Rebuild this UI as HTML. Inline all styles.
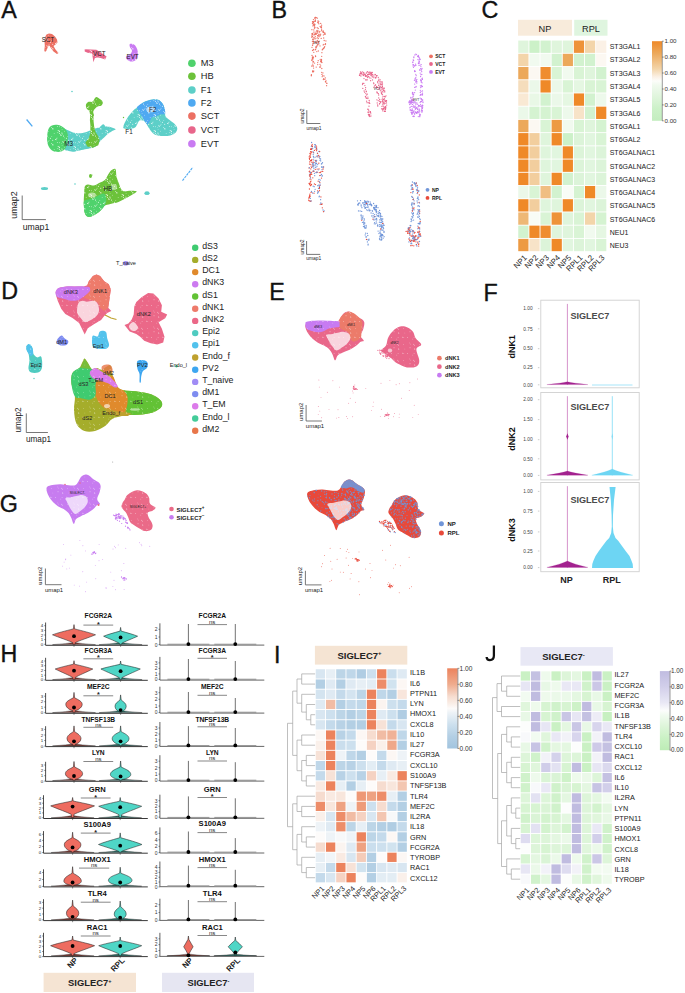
<!DOCTYPE html>
<html><head><meta charset="utf-8"><style>
html,body{margin:0;padding:0;background:#fff;}
body{width:685px;height:993px;overflow:hidden;position:relative;}
svg{position:absolute;left:0;top:0;display:block;}
svg text{font-family:"Liberation Sans",sans-serif;}
</style></head><body>
<svg width="685" height="993" viewBox="0 0 685 993">
<text x="1.3" y="17.5" font-size="23.3" text-anchor="start" fill="#111" color="#111" style="stroke:#111;stroke-width:0.35px">A</text>
<text x="271.4" y="17.8" font-size="23.3" text-anchor="start" fill="#111" color="#111" style="stroke:#111;stroke-width:0.35px">B</text>
<text x="481.6" y="17.5" font-size="23.3" text-anchor="start" fill="#111" color="#111" style="stroke:#111;stroke-width:0.35px">C</text>
<text x="1.3" y="298.9" font-size="23.3" text-anchor="start" fill="#111" color="#111" style="stroke:#111;stroke-width:0.35px">D</text>
<text x="269.3" y="299.8" font-size="23.3" text-anchor="start" fill="#111" color="#111" style="stroke:#111;stroke-width:0.35px">E</text>
<text x="483.4" y="301.3" font-size="23.3" text-anchor="start" fill="#111" color="#111" style="stroke:#111;stroke-width:0.35px">F</text>
<text x="-0.2" y="511.8" font-size="23.3" text-anchor="start" fill="#111" color="#111" style="stroke:#111;stroke-width:0.35px">G</text>
<text x="0.5" y="661.9" font-size="23.3" text-anchor="start" fill="#111" color="#111" style="stroke:#111;stroke-width:0.35px">H</text>
<text x="274.0" y="662.6" font-size="23.3" text-anchor="start" fill="#111" color="#111" style="stroke:#111;stroke-width:0.35px">I</text>
<path d="M493.9,645.4 V655.6 C493.9,659.0 491.9,660.2 489.9,660.2 C487.9,660.2 486.7,658.9 486.6,657.0" fill="none" stroke="#111" stroke-width="2.25" stroke-linecap="butt"/>
<rect x="518" y="19.8" width="54" height="15.9" fill="#f8ebdb"/>
<rect x="574.2" y="19.8" width="33.3" height="15.9" fill="#dff5df"/>
<text x="545.0" y="31.7" font-size="9.2" text-anchor="middle" fill="#222" color="#222" >NP</text>
<text x="591.0" y="31.7" font-size="9.2" text-anchor="middle" fill="#222" color="#222" >RPL</text>
<rect x="517.8" y="40.1" width="89.0" height="211.5" fill="#fff"/>
<rect x="518.25" y="40.55" width="10.22" height="12.32" fill="#dff5dc"/>
<rect x="529.37" y="40.55" width="10.22" height="12.32" fill="#ccf1c8"/>
<rect x="540.49" y="40.55" width="10.22" height="12.32" fill="#d2f2cf"/>
<rect x="551.61" y="40.55" width="10.22" height="12.32" fill="#dff5dc"/>
<rect x="562.73" y="40.55" width="10.22" height="12.32" fill="#dff5dc"/>
<rect x="573.85" y="40.55" width="10.22" height="12.32" fill="#ee9339"/>
<rect x="584.97" y="40.55" width="10.22" height="12.32" fill="#f3d5aa"/>
<rect x="596.09" y="40.55" width="10.22" height="12.32" fill="#fbf1e6"/>
<rect x="518.25" y="53.77" width="10.22" height="12.32" fill="#f3d5aa"/>
<rect x="529.37" y="53.77" width="10.22" height="12.32" fill="#f1faef"/>
<rect x="540.49" y="53.77" width="10.22" height="12.32" fill="#f1faef"/>
<rect x="551.61" y="53.77" width="10.22" height="12.32" fill="#d2f2cf"/>
<rect x="562.73" y="53.77" width="10.22" height="12.32" fill="#eca85a"/>
<rect x="573.85" y="53.77" width="10.22" height="12.32" fill="#d2f2cf"/>
<rect x="584.97" y="53.77" width="10.22" height="12.32" fill="#d2f2cf"/>
<rect x="596.09" y="53.77" width="10.22" height="12.32" fill="#fcf8f2"/>
<rect x="518.25" y="66.99" width="10.22" height="12.32" fill="#eca85a"/>
<rect x="529.37" y="66.99" width="10.22" height="12.32" fill="#fcf8f2"/>
<rect x="540.49" y="66.99" width="10.22" height="12.32" fill="#ef8d2f"/>
<rect x="551.61" y="66.99" width="10.22" height="12.32" fill="#d9f4d5"/>
<rect x="562.73" y="66.99" width="10.22" height="12.32" fill="#f1faef"/>
<rect x="573.85" y="66.99" width="10.22" height="12.32" fill="#d9f4d5"/>
<rect x="584.97" y="66.99" width="10.22" height="12.32" fill="#dff5dc"/>
<rect x="596.09" y="66.99" width="10.22" height="12.32" fill="#d2f2cf"/>
<rect x="518.25" y="80.21" width="10.22" height="12.32" fill="#f5ddbc"/>
<rect x="529.37" y="80.21" width="10.22" height="12.32" fill="#ebf8e9"/>
<rect x="540.49" y="80.21" width="10.22" height="12.32" fill="#ef8928"/>
<rect x="551.61" y="80.21" width="10.22" height="12.32" fill="#ebf8e9"/>
<rect x="562.73" y="80.21" width="10.22" height="12.32" fill="#d9f4d5"/>
<rect x="573.85" y="80.21" width="10.22" height="12.32" fill="#e5f7e2"/>
<rect x="584.97" y="80.21" width="10.22" height="12.32" fill="#d9f4d5"/>
<rect x="596.09" y="80.21" width="10.22" height="12.32" fill="#d9f4d5"/>
<rect x="518.25" y="93.43" width="10.22" height="12.32" fill="#f9e9d4"/>
<rect x="529.37" y="93.43" width="10.22" height="12.32" fill="#e9f8e6"/>
<rect x="540.49" y="93.43" width="10.22" height="12.32" fill="#d2f2cf"/>
<rect x="551.61" y="93.43" width="10.22" height="12.32" fill="#ebf8e9"/>
<rect x="562.73" y="93.43" width="10.22" height="12.32" fill="#e5f7e2"/>
<rect x="573.85" y="93.43" width="10.22" height="12.32" fill="#ef8928"/>
<rect x="584.97" y="93.43" width="10.22" height="12.32" fill="#d2f2cf"/>
<rect x="596.09" y="93.43" width="10.22" height="12.32" fill="#edf9eb"/>
<rect x="518.25" y="106.65" width="10.22" height="12.32" fill="#ebf8e9"/>
<rect x="529.37" y="106.65" width="10.22" height="12.32" fill="#d5f3d1"/>
<rect x="540.49" y="106.65" width="10.22" height="12.32" fill="#d5f3d1"/>
<rect x="551.61" y="106.65" width="10.22" height="12.32" fill="#d9f4d5"/>
<rect x="562.73" y="106.65" width="10.22" height="12.32" fill="#edf9eb"/>
<rect x="573.85" y="106.65" width="10.22" height="12.32" fill="#f7e3c8"/>
<rect x="584.97" y="106.65" width="10.22" height="12.32" fill="#d2f2cf"/>
<rect x="596.09" y="106.65" width="10.22" height="12.32" fill="#ef8928"/>
<rect x="518.25" y="119.87" width="10.22" height="12.32" fill="#eca85a"/>
<rect x="529.37" y="119.87" width="10.22" height="12.32" fill="#fcf8f2"/>
<rect x="540.49" y="119.87" width="10.22" height="12.32" fill="#d9f4d5"/>
<rect x="551.61" y="119.87" width="10.22" height="12.32" fill="#ed9a43"/>
<rect x="562.73" y="119.87" width="10.22" height="12.32" fill="#f1faef"/>
<rect x="573.85" y="119.87" width="10.22" height="12.32" fill="#d9f4d5"/>
<rect x="584.97" y="119.87" width="10.22" height="12.32" fill="#dff5dc"/>
<rect x="596.09" y="119.87" width="10.22" height="12.32" fill="#d5f3d1"/>
<rect x="518.25" y="133.09" width="10.22" height="12.32" fill="#ef8928"/>
<rect x="529.37" y="133.09" width="10.22" height="12.32" fill="#f2ce9e"/>
<rect x="540.49" y="133.09" width="10.22" height="12.32" fill="#dff5dc"/>
<rect x="551.61" y="133.09" width="10.22" height="12.32" fill="#ef8928"/>
<rect x="562.73" y="133.09" width="10.22" height="12.32" fill="#ccf1c8"/>
<rect x="573.85" y="133.09" width="10.22" height="12.32" fill="#dcf4d9"/>
<rect x="584.97" y="133.09" width="10.22" height="12.32" fill="#e1f6df"/>
<rect x="596.09" y="133.09" width="10.22" height="12.32" fill="#d9f4d5"/>
<rect x="518.25" y="146.31" width="10.22" height="12.32" fill="#ef8928"/>
<rect x="529.37" y="146.31" width="10.22" height="12.32" fill="#f2ce9e"/>
<rect x="540.49" y="146.31" width="10.22" height="12.32" fill="#dff5dc"/>
<rect x="551.61" y="146.31" width="10.22" height="12.32" fill="#e1f6df"/>
<rect x="562.73" y="146.31" width="10.22" height="12.32" fill="#ef8928"/>
<rect x="573.85" y="146.31" width="10.22" height="12.32" fill="#dcf4d9"/>
<rect x="584.97" y="146.31" width="10.22" height="12.32" fill="#e1f6df"/>
<rect x="596.09" y="146.31" width="10.22" height="12.32" fill="#dcf4d9"/>
<rect x="518.25" y="159.53" width="10.22" height="12.32" fill="#ef8928"/>
<rect x="529.37" y="159.53" width="10.22" height="12.32" fill="#f2ce9e"/>
<rect x="540.49" y="159.53" width="10.22" height="12.32" fill="#dff5dc"/>
<rect x="551.61" y="159.53" width="10.22" height="12.32" fill="#e1f6df"/>
<rect x="562.73" y="159.53" width="10.22" height="12.32" fill="#ef8928"/>
<rect x="573.85" y="159.53" width="10.22" height="12.32" fill="#dcf4d9"/>
<rect x="584.97" y="159.53" width="10.22" height="12.32" fill="#e1f6df"/>
<rect x="596.09" y="159.53" width="10.22" height="12.32" fill="#dcf4d9"/>
<rect x="518.25" y="172.75" width="10.22" height="12.32" fill="#ef8928"/>
<rect x="529.37" y="172.75" width="10.22" height="12.32" fill="#f2ce9e"/>
<rect x="540.49" y="172.75" width="10.22" height="12.32" fill="#dff5dc"/>
<rect x="551.61" y="172.75" width="10.22" height="12.32" fill="#ef8928"/>
<rect x="562.73" y="172.75" width="10.22" height="12.32" fill="#d2f2cf"/>
<rect x="573.85" y="172.75" width="10.22" height="12.32" fill="#dcf4d9"/>
<rect x="584.97" y="172.75" width="10.22" height="12.32" fill="#e1f6df"/>
<rect x="596.09" y="172.75" width="10.22" height="12.32" fill="#dcf4d9"/>
<rect x="518.25" y="185.97" width="10.22" height="12.32" fill="#ebf8e9"/>
<rect x="529.37" y="185.97" width="10.22" height="12.32" fill="#d9f4d5"/>
<rect x="540.49" y="185.97" width="10.22" height="12.32" fill="#f0be82"/>
<rect x="551.61" y="185.97" width="10.22" height="12.32" fill="#d2f2cf"/>
<rect x="562.73" y="185.97" width="10.22" height="12.32" fill="#f8fcf6"/>
<rect x="573.85" y="185.97" width="10.22" height="12.32" fill="#d5f3d1"/>
<rect x="584.97" y="185.97" width="10.22" height="12.32" fill="#ef8928"/>
<rect x="596.09" y="185.97" width="10.22" height="12.32" fill="#ebf8e9"/>
<rect x="518.25" y="199.19" width="10.22" height="12.32" fill="#ef8928"/>
<rect x="529.37" y="199.19" width="10.22" height="12.32" fill="#f2ce9e"/>
<rect x="540.49" y="199.19" width="10.22" height="12.32" fill="#dff5dc"/>
<rect x="551.61" y="199.19" width="10.22" height="12.32" fill="#dff5dc"/>
<rect x="562.73" y="199.19" width="10.22" height="12.32" fill="#ef8928"/>
<rect x="573.85" y="199.19" width="10.22" height="12.32" fill="#dcf4d9"/>
<rect x="584.97" y="199.19" width="10.22" height="12.32" fill="#e1f6df"/>
<rect x="596.09" y="199.19" width="10.22" height="12.32" fill="#dcf4d9"/>
<rect x="518.25" y="212.41" width="10.22" height="12.32" fill="#eeb876"/>
<rect x="529.37" y="212.41" width="10.22" height="12.32" fill="#f8fcf6"/>
<rect x="540.49" y="212.41" width="10.22" height="12.32" fill="#d9f4d5"/>
<rect x="551.61" y="212.41" width="10.22" height="12.32" fill="#ee9339"/>
<rect x="562.73" y="212.41" width="10.22" height="12.32" fill="#dff5dc"/>
<rect x="573.85" y="212.41" width="10.22" height="12.32" fill="#d9f4d5"/>
<rect x="584.97" y="212.41" width="10.22" height="12.32" fill="#f3d5aa"/>
<rect x="596.09" y="212.41" width="10.22" height="12.32" fill="#d5f3d1"/>
<rect x="518.25" y="225.63" width="10.22" height="12.32" fill="#d2f2cf"/>
<rect x="529.37" y="225.63" width="10.22" height="12.32" fill="#ef8928"/>
<rect x="540.49" y="225.63" width="10.22" height="12.32" fill="#ef8d2f"/>
<rect x="551.61" y="225.63" width="10.22" height="12.32" fill="#dff5dc"/>
<rect x="562.73" y="225.63" width="10.22" height="12.32" fill="#dff5dc"/>
<rect x="573.85" y="225.63" width="10.22" height="12.32" fill="#d9f4d5"/>
<rect x="584.97" y="225.63" width="10.22" height="12.32" fill="#f1faef"/>
<rect x="596.09" y="225.63" width="10.22" height="12.32" fill="#e5f7e2"/>
<rect x="518.25" y="238.85" width="10.22" height="12.32" fill="#ed9a43"/>
<rect x="529.37" y="238.85" width="10.22" height="12.32" fill="#f7e3c8"/>
<rect x="540.49" y="238.85" width="10.22" height="12.32" fill="#dcf4d9"/>
<rect x="551.61" y="238.85" width="10.22" height="12.32" fill="#ef8928"/>
<rect x="562.73" y="238.85" width="10.22" height="12.32" fill="#e1f6df"/>
<rect x="573.85" y="238.85" width="10.22" height="12.32" fill="#dcf4d9"/>
<rect x="584.97" y="238.85" width="10.22" height="12.32" fill="#e1f6df"/>
<rect x="596.09" y="238.85" width="10.22" height="12.32" fill="#d9f4d5"/>
<text x="609.7" y="49.2" font-size="7.0" text-anchor="start" fill="#222" color="#222" >ST3GAL1</text>
<text x="609.7" y="62.4" font-size="7.0" text-anchor="start" fill="#222" color="#222" >ST3GAL2</text>
<text x="609.7" y="75.7" font-size="7.0" text-anchor="start" fill="#222" color="#222" >ST3GAL3</text>
<text x="609.7" y="89.0" font-size="7.0" text-anchor="start" fill="#222" color="#222" >ST3GAL4</text>
<text x="609.7" y="102.2" font-size="7.0" text-anchor="start" fill="#222" color="#222" >ST3GAL5</text>
<text x="609.7" y="115.5" font-size="7.0" text-anchor="start" fill="#222" color="#222" >ST3GAL6</text>
<text x="609.7" y="128.8" font-size="7.0" text-anchor="start" fill="#222" color="#222" >ST6GAL1</text>
<text x="609.7" y="142.1" font-size="7.0" text-anchor="start" fill="#222" color="#222" >ST6GAL2</text>
<text x="609.7" y="155.3" font-size="7.0" text-anchor="start" fill="#222" color="#222" >ST6GALNAC1</text>
<text x="609.7" y="168.6" font-size="7.0" text-anchor="start" fill="#222" color="#222" >ST6GALNAC2</text>
<text x="609.7" y="181.9" font-size="7.0" text-anchor="start" fill="#222" color="#222" >ST6GALNAC3</text>
<text x="609.7" y="195.1" font-size="7.0" text-anchor="start" fill="#222" color="#222" >ST6GALNAC4</text>
<text x="609.7" y="208.4" font-size="7.0" text-anchor="start" fill="#222" color="#222" >ST6GALNAC5</text>
<text x="609.7" y="221.7" font-size="7.0" text-anchor="start" fill="#222" color="#222" >ST6GALNAC6</text>
<text x="609.7" y="234.9" font-size="7.0" text-anchor="start" fill="#222" color="#222" >NEU1</text>
<text x="609.7" y="248.2" font-size="7.0" text-anchor="start" fill="#222" color="#222" >NEU3</text>
<text x="527.4" y="258.2" font-size="7.8" text-anchor="end" fill="#222" transform="rotate(-45 527.4 258.2)">NP1</text>
<text x="538.5" y="258.2" font-size="7.8" text-anchor="end" fill="#222" transform="rotate(-45 538.5 258.2)">NP2</text>
<text x="549.6" y="258.2" font-size="7.8" text-anchor="end" fill="#222" transform="rotate(-45 549.6 258.2)">NP3</text>
<text x="560.7" y="258.2" font-size="7.8" text-anchor="end" fill="#222" transform="rotate(-45 560.7 258.2)">NP4</text>
<text x="571.8" y="258.2" font-size="7.8" text-anchor="end" fill="#222" transform="rotate(-45 571.8 258.2)">NP5</text>
<text x="583.0" y="258.2" font-size="7.8" text-anchor="end" fill="#222" transform="rotate(-45 583.0 258.2)">RPL1</text>
<text x="594.1" y="258.2" font-size="7.8" text-anchor="end" fill="#222" transform="rotate(-45 594.1 258.2)">RPL2</text>
<text x="605.2" y="258.2" font-size="7.8" text-anchor="end" fill="#222" transform="rotate(-45 605.2 258.2)">RPL3</text>
<defs><linearGradient id="gC" x1="0" y1="1" x2="0" y2="0"><stop offset="0" stop-color="#c3edbf"/><stop offset="0.15" stop-color="#ccf1c8"/><stop offset="0.3" stop-color="#dff5dc"/><stop offset="0.45" stop-color="#f1faef"/><stop offset="0.5" stop-color="#fcfdfa"/><stop offset="0.55" stop-color="#fbf1e6"/><stop offset="0.65" stop-color="#f3d5aa"/><stop offset="0.85" stop-color="#eca85a"/><stop offset="1.0" stop-color="#ef8928"/></linearGradient></defs>
<rect x="652" y="41.2" width="10" height="79.6" fill="url(#gC)"/>
<line x1="662.3" y1="41.2" x2="662.3" y2="120.8" stroke="#555" stroke-width="0.6"/>
<line x1="662" y1="120.8" x2="663.8" y2="120.8" stroke="#555" stroke-width="0.6"/>
<text x="664.5" y="123.0" font-size="6.2" text-anchor="start" fill="#333" color="#333" >0.00</text>
<line x1="662" y1="104.9" x2="663.8" y2="104.9" stroke="#555" stroke-width="0.6"/>
<text x="664.5" y="107.0" font-size="6.2" text-anchor="start" fill="#333" color="#333" >0.20</text>
<line x1="662" y1="89.0" x2="663.8" y2="89.0" stroke="#555" stroke-width="0.6"/>
<text x="664.5" y="91.1" font-size="6.2" text-anchor="start" fill="#333" color="#333" >0.40</text>
<line x1="662" y1="73.0" x2="663.8" y2="73.0" stroke="#555" stroke-width="0.6"/>
<text x="664.5" y="75.2" font-size="6.2" text-anchor="start" fill="#333" color="#333" >0.60</text>
<line x1="662" y1="57.1" x2="663.8" y2="57.1" stroke="#555" stroke-width="0.6"/>
<text x="664.5" y="59.3" font-size="6.2" text-anchor="start" fill="#333" color="#333" >0.80</text>
<line x1="662" y1="41.2" x2="663.8" y2="41.2" stroke="#555" stroke-width="0.6"/>
<text x="664.5" y="43.4" font-size="6.2" text-anchor="start" fill="#333" color="#333" >1.00</text>
<rect x="314.9" y="645.8" width="92.4" height="18.8" fill="#f5e4d3"/>
<text x="359.5" y="658.9" font-size="9.5" text-anchor="middle" font-weight="bold" fill="#222" color="#222" >SIGLEC7<tspan font-size="6" dy="-3.5">+</tspan></text>
<rect x="315.3" y="668.8" width="92.0" height="214.0" fill="#fff"/>
<rect x="315.75" y="669.25" width="9.32" height="9.29" fill="#d8e6f1"/>
<rect x="325.97" y="669.25" width="9.32" height="9.29" fill="#e7eff5"/>
<rect x="336.19" y="669.25" width="9.32" height="9.29" fill="#bcd5e7"/>
<rect x="346.41" y="669.25" width="9.32" height="9.29" fill="#bfd7e9"/>
<rect x="356.63" y="669.25" width="9.32" height="9.29" fill="#b0cde3"/>
<rect x="366.85" y="669.25" width="9.32" height="9.29" fill="#cde0ee"/>
<rect x="377.07" y="669.25" width="9.32" height="9.29" fill="#ec835d"/>
<rect x="387.29" y="669.25" width="9.32" height="9.29" fill="#cadeed"/>
<rect x="397.51" y="669.25" width="9.32" height="9.29" fill="#dfeaf3"/>
<rect x="315.75" y="679.44" width="9.32" height="9.29" fill="#b3cfe4"/>
<rect x="325.97" y="679.44" width="9.32" height="9.29" fill="#dfeaf3"/>
<rect x="336.19" y="679.44" width="9.32" height="9.29" fill="#b3cfe4"/>
<rect x="346.41" y="679.44" width="9.32" height="9.29" fill="#dfeaf3"/>
<rect x="356.63" y="679.44" width="9.32" height="9.29" fill="#e7eff5"/>
<rect x="366.85" y="679.44" width="9.32" height="9.29" fill="#e3edf4"/>
<rect x="377.07" y="679.44" width="9.32" height="9.29" fill="#ed8d69"/>
<rect x="387.29" y="679.44" width="9.32" height="9.29" fill="#d1e3ef"/>
<rect x="397.51" y="679.44" width="9.32" height="9.29" fill="#fcf7f4"/>
<rect x="315.75" y="689.63" width="9.32" height="9.29" fill="#d4e4f0"/>
<rect x="325.97" y="689.63" width="9.32" height="9.29" fill="#dfeaf3"/>
<rect x="336.19" y="689.63" width="9.32" height="9.29" fill="#c4daeb"/>
<rect x="346.41" y="689.63" width="9.32" height="9.29" fill="#d4e4f0"/>
<rect x="356.63" y="689.63" width="9.32" height="9.29" fill="#bcd5e7"/>
<rect x="366.85" y="689.63" width="9.32" height="9.29" fill="#ec835d"/>
<rect x="377.07" y="689.63" width="9.32" height="9.29" fill="#bfd7e9"/>
<rect x="387.29" y="689.63" width="9.32" height="9.29" fill="#b3cfe4"/>
<rect x="397.51" y="689.63" width="9.32" height="9.29" fill="#f8e6dc"/>
<rect x="315.75" y="699.82" width="9.32" height="9.29" fill="#dfeaf3"/>
<rect x="325.97" y="699.82" width="9.32" height="9.29" fill="#f1bca4"/>
<rect x="336.19" y="699.82" width="9.32" height="9.29" fill="#b3cfe4"/>
<rect x="346.41" y="699.82" width="9.32" height="9.29" fill="#c4daeb"/>
<rect x="356.63" y="699.82" width="9.32" height="9.29" fill="#bfd7e9"/>
<rect x="366.85" y="699.82" width="9.32" height="9.29" fill="#ec835d"/>
<rect x="377.07" y="699.82" width="9.32" height="9.29" fill="#fbf4f0"/>
<rect x="387.29" y="699.82" width="9.32" height="9.29" fill="#cde0ee"/>
<rect x="397.51" y="699.82" width="9.32" height="9.29" fill="#c4daeb"/>
<rect x="315.75" y="710.01" width="9.32" height="9.29" fill="#d8e6f1"/>
<rect x="325.97" y="710.01" width="9.32" height="9.29" fill="#cde0ee"/>
<rect x="336.19" y="710.01" width="9.32" height="9.29" fill="#bcd5e7"/>
<rect x="346.41" y="710.01" width="9.32" height="9.29" fill="#b3cfe4"/>
<rect x="356.63" y="710.01" width="9.32" height="9.29" fill="#bcd5e7"/>
<rect x="366.85" y="710.01" width="9.32" height="9.29" fill="#ec835d"/>
<rect x="377.07" y="710.01" width="9.32" height="9.29" fill="#dfeaf3"/>
<rect x="387.29" y="710.01" width="9.32" height="9.29" fill="#cde0ee"/>
<rect x="397.51" y="710.01" width="9.32" height="9.29" fill="#b0cde3"/>
<rect x="315.75" y="720.20" width="9.32" height="9.29" fill="#d8e6f1"/>
<rect x="325.97" y="720.20" width="9.32" height="9.29" fill="#c4daeb"/>
<rect x="336.19" y="720.20" width="9.32" height="9.29" fill="#b8d2e6"/>
<rect x="346.41" y="720.20" width="9.32" height="9.29" fill="#b3cfe4"/>
<rect x="356.63" y="720.20" width="9.32" height="9.29" fill="#b3cfe4"/>
<rect x="366.85" y="720.20" width="9.32" height="9.29" fill="#ec835d"/>
<rect x="377.07" y="720.20" width="9.32" height="9.29" fill="#f7e2d7"/>
<rect x="387.29" y="720.20" width="9.32" height="9.29" fill="#c4daeb"/>
<rect x="397.51" y="720.20" width="9.32" height="9.29" fill="#d8e6f1"/>
<rect x="315.75" y="730.39" width="9.32" height="9.29" fill="#fcf7f4"/>
<rect x="325.97" y="730.39" width="9.32" height="9.29" fill="#ec835d"/>
<rect x="336.19" y="730.39" width="9.32" height="9.29" fill="#b8d2e6"/>
<rect x="346.41" y="730.39" width="9.32" height="9.29" fill="#c4daeb"/>
<rect x="356.63" y="730.39" width="9.32" height="9.29" fill="#fcf7f4"/>
<rect x="366.85" y="730.39" width="9.32" height="9.29" fill="#f6dccf"/>
<rect x="377.07" y="730.39" width="9.32" height="9.29" fill="#f1bca4"/>
<rect x="387.29" y="730.39" width="9.32" height="9.29" fill="#f0b297"/>
<rect x="397.51" y="730.39" width="9.32" height="9.29" fill="#bfd7e9"/>
<rect x="315.75" y="740.58" width="9.32" height="9.29" fill="#faf0ea"/>
<rect x="325.97" y="740.58" width="9.32" height="9.29" fill="#ec835d"/>
<rect x="336.19" y="740.58" width="9.32" height="9.29" fill="#cadeed"/>
<rect x="346.41" y="740.58" width="9.32" height="9.29" fill="#cde0ee"/>
<rect x="356.63" y="740.58" width="9.32" height="9.29" fill="#fdfbfa"/>
<rect x="366.85" y="740.58" width="9.32" height="9.29" fill="#f5d2c2"/>
<rect x="377.07" y="740.58" width="9.32" height="9.29" fill="#faf0ea"/>
<rect x="387.29" y="740.58" width="9.32" height="9.29" fill="#efa889"/>
<rect x="397.51" y="740.58" width="9.32" height="9.29" fill="#b3cfe4"/>
<rect x="315.75" y="750.77" width="9.32" height="9.29" fill="#f7e2d7"/>
<rect x="325.97" y="750.77" width="9.32" height="9.29" fill="#ec835d"/>
<rect x="336.19" y="750.77" width="9.32" height="9.29" fill="#eef3f7"/>
<rect x="346.41" y="750.77" width="9.32" height="9.29" fill="#bfd7e9"/>
<rect x="356.63" y="750.77" width="9.32" height="9.29" fill="#b3cfe4"/>
<rect x="366.85" y="750.77" width="9.32" height="9.29" fill="#fdfbfa"/>
<rect x="377.07" y="750.77" width="9.32" height="9.29" fill="#c4daeb"/>
<rect x="387.29" y="750.77" width="9.32" height="9.29" fill="#fcf7f4"/>
<rect x="397.51" y="750.77" width="9.32" height="9.29" fill="#eef3f7"/>
<rect x="315.75" y="760.96" width="9.32" height="9.29" fill="#bfd7e9"/>
<rect x="325.97" y="760.96" width="9.32" height="9.29" fill="#ec835d"/>
<rect x="336.19" y="760.96" width="9.32" height="9.29" fill="#bcd5e7"/>
<rect x="346.41" y="760.96" width="9.32" height="9.29" fill="#b8d2e6"/>
<rect x="356.63" y="760.96" width="9.32" height="9.29" fill="#cde0ee"/>
<rect x="366.85" y="760.96" width="9.32" height="9.29" fill="#e3edf4"/>
<rect x="377.07" y="760.96" width="9.32" height="9.29" fill="#c4daeb"/>
<rect x="387.29" y="760.96" width="9.32" height="9.29" fill="#dfeaf3"/>
<rect x="397.51" y="760.96" width="9.32" height="9.29" fill="#e7eff5"/>
<rect x="315.75" y="771.15" width="9.32" height="9.29" fill="#c4daeb"/>
<rect x="325.97" y="771.15" width="9.32" height="9.29" fill="#f7e2d7"/>
<rect x="336.19" y="771.15" width="9.32" height="9.29" fill="#b8d2e6"/>
<rect x="346.41" y="771.15" width="9.32" height="9.29" fill="#cde0ee"/>
<rect x="356.63" y="771.15" width="9.32" height="9.29" fill="#b8d2e6"/>
<rect x="366.85" y="771.15" width="9.32" height="9.29" fill="#f5d2c2"/>
<rect x="377.07" y="771.15" width="9.32" height="9.29" fill="#e7eff5"/>
<rect x="387.29" y="771.15" width="9.32" height="9.29" fill="#f9eae2"/>
<rect x="397.51" y="771.15" width="9.32" height="9.29" fill="#ec835d"/>
<rect x="315.75" y="781.34" width="9.32" height="9.29" fill="#f9eae2"/>
<rect x="325.97" y="781.34" width="9.32" height="9.29" fill="#ec835d"/>
<rect x="336.19" y="781.34" width="9.32" height="9.29" fill="#e7eff5"/>
<rect x="346.41" y="781.34" width="9.32" height="9.29" fill="#b3cfe4"/>
<rect x="356.63" y="781.34" width="9.32" height="9.29" fill="#e7eff5"/>
<rect x="366.85" y="781.34" width="9.32" height="9.29" fill="#fdfbfa"/>
<rect x="377.07" y="781.34" width="9.32" height="9.29" fill="#f6dccf"/>
<rect x="387.29" y="781.34" width="9.32" height="9.29" fill="#f8e6dc"/>
<rect x="397.51" y="781.34" width="9.32" height="9.29" fill="#f3c6b1"/>
<rect x="315.75" y="791.53" width="9.32" height="9.29" fill="#f6dccf"/>
<rect x="325.97" y="791.53" width="9.32" height="9.29" fill="#f9eae2"/>
<rect x="336.19" y="791.53" width="9.32" height="9.29" fill="#f8e6dc"/>
<rect x="346.41" y="791.53" width="9.32" height="9.29" fill="#fdfbfa"/>
<rect x="356.63" y="791.53" width="9.32" height="9.29" fill="#ee9876"/>
<rect x="366.85" y="791.53" width="9.32" height="9.29" fill="#eea282"/>
<rect x="377.07" y="791.53" width="9.32" height="9.29" fill="#ed8d69"/>
<rect x="387.29" y="791.53" width="9.32" height="9.29" fill="#e7eff5"/>
<rect x="397.51" y="791.53" width="9.32" height="9.29" fill="#b3cfe4"/>
<rect x="315.75" y="801.72" width="9.32" height="9.29" fill="#ed8d69"/>
<rect x="325.97" y="801.72" width="9.32" height="9.29" fill="#f8e6dc"/>
<rect x="336.19" y="801.72" width="9.32" height="9.29" fill="#eea282"/>
<rect x="346.41" y="801.72" width="9.32" height="9.29" fill="#eef3f7"/>
<rect x="356.63" y="801.72" width="9.32" height="9.29" fill="#ee9c7a"/>
<rect x="366.85" y="801.72" width="9.32" height="9.29" fill="#cde0ee"/>
<rect x="377.07" y="801.72" width="9.32" height="9.29" fill="#f6dccf"/>
<rect x="387.29" y="801.72" width="9.32" height="9.29" fill="#c4daeb"/>
<rect x="397.51" y="801.72" width="9.32" height="9.29" fill="#b3cfe4"/>
<rect x="315.75" y="811.91" width="9.32" height="9.29" fill="#faf0ea"/>
<rect x="325.97" y="811.91" width="9.32" height="9.29" fill="#d8e6f1"/>
<rect x="336.19" y="811.91" width="9.32" height="9.29" fill="#ed8d69"/>
<rect x="346.41" y="811.91" width="9.32" height="9.29" fill="#f1bca4"/>
<rect x="356.63" y="811.91" width="9.32" height="9.29" fill="#f5d2c2"/>
<rect x="366.85" y="811.91" width="9.32" height="9.29" fill="#d8e6f1"/>
<rect x="377.07" y="811.91" width="9.32" height="9.29" fill="#f3c6b1"/>
<rect x="387.29" y="811.91" width="9.32" height="9.29" fill="#f7f8f9"/>
<rect x="397.51" y="811.91" width="9.32" height="9.29" fill="#b3cfe4"/>
<rect x="315.75" y="822.10" width="9.32" height="9.29" fill="#eef3f7"/>
<rect x="325.97" y="822.10" width="9.32" height="9.29" fill="#dfeaf3"/>
<rect x="336.19" y="822.10" width="9.32" height="9.29" fill="#ed8d69"/>
<rect x="346.41" y="822.10" width="9.32" height="9.29" fill="#bcd5e7"/>
<rect x="356.63" y="822.10" width="9.32" height="9.29" fill="#e7eff5"/>
<rect x="366.85" y="822.10" width="9.32" height="9.29" fill="#bcd5e7"/>
<rect x="377.07" y="822.10" width="9.32" height="9.29" fill="#b3cfe4"/>
<rect x="387.29" y="822.10" width="9.32" height="9.29" fill="#b0cde3"/>
<rect x="397.51" y="822.10" width="9.32" height="9.29" fill="#c4daeb"/>
<rect x="315.75" y="832.29" width="9.32" height="9.29" fill="#fdfbfa"/>
<rect x="325.97" y="832.29" width="9.32" height="9.29" fill="#eef3f7"/>
<rect x="336.19" y="832.29" width="9.32" height="9.29" fill="#f7f8f9"/>
<rect x="346.41" y="832.29" width="9.32" height="9.29" fill="#eef3f7"/>
<rect x="356.63" y="832.29" width="9.32" height="9.29" fill="#ec835d"/>
<rect x="366.85" y="832.29" width="9.32" height="9.29" fill="#bcd5e7"/>
<rect x="377.07" y="832.29" width="9.32" height="9.29" fill="#c4daeb"/>
<rect x="387.29" y="832.29" width="9.32" height="9.29" fill="#fcf7f4"/>
<rect x="397.51" y="832.29" width="9.32" height="9.29" fill="#b3cfe4"/>
<rect x="315.75" y="842.48" width="9.32" height="9.29" fill="#f6dccf"/>
<rect x="325.97" y="842.48" width="9.32" height="9.29" fill="#ec835d"/>
<rect x="336.19" y="842.48" width="9.32" height="9.29" fill="#fbf4f0"/>
<rect x="346.41" y="842.48" width="9.32" height="9.29" fill="#dfeaf3"/>
<rect x="356.63" y="842.48" width="9.32" height="9.29" fill="#eea282"/>
<rect x="366.85" y="842.48" width="9.32" height="9.29" fill="#cadeed"/>
<rect x="377.07" y="842.48" width="9.32" height="9.29" fill="#cde0ee"/>
<rect x="387.29" y="842.48" width="9.32" height="9.29" fill="#d1e3ef"/>
<rect x="397.51" y="842.48" width="9.32" height="9.29" fill="#b3cfe4"/>
<rect x="315.75" y="852.67" width="9.32" height="9.29" fill="#e7eff5"/>
<rect x="325.97" y="852.67" width="9.32" height="9.29" fill="#f1f5f8"/>
<rect x="336.19" y="852.67" width="9.32" height="9.29" fill="#f9eae2"/>
<rect x="346.41" y="852.67" width="9.32" height="9.29" fill="#d8e6f1"/>
<rect x="356.63" y="852.67" width="9.32" height="9.29" fill="#f4ccb9"/>
<rect x="366.85" y="852.67" width="9.32" height="9.29" fill="#b3cfe4"/>
<rect x="377.07" y="852.67" width="9.32" height="9.29" fill="#fdfbfa"/>
<rect x="387.29" y="852.67" width="9.32" height="9.29" fill="#ec835d"/>
<rect x="397.51" y="852.67" width="9.32" height="9.29" fill="#fcf7f4"/>
<rect x="315.75" y="862.86" width="9.32" height="9.29" fill="#e7eff5"/>
<rect x="325.97" y="862.86" width="9.32" height="9.29" fill="#c4daeb"/>
<rect x="336.19" y="862.86" width="9.32" height="9.29" fill="#ec835d"/>
<rect x="346.41" y="862.86" width="9.32" height="9.29" fill="#f7e2d7"/>
<rect x="356.63" y="862.86" width="9.32" height="9.29" fill="#d1e3ef"/>
<rect x="366.85" y="862.86" width="9.32" height="9.29" fill="#b3cfe4"/>
<rect x="377.07" y="862.86" width="9.32" height="9.29" fill="#d8e6f1"/>
<rect x="387.29" y="862.86" width="9.32" height="9.29" fill="#dfeaf3"/>
<rect x="397.51" y="862.86" width="9.32" height="9.29" fill="#d8e6f1"/>
<rect x="315.75" y="873.05" width="9.32" height="9.29" fill="#c4daeb"/>
<rect x="325.97" y="873.05" width="9.32" height="9.29" fill="#d8e6f1"/>
<rect x="336.19" y="873.05" width="9.32" height="9.29" fill="#f5d2c2"/>
<rect x="346.41" y="873.05" width="9.32" height="9.29" fill="#ec835d"/>
<rect x="356.63" y="873.05" width="9.32" height="9.29" fill="#fdfbfa"/>
<rect x="366.85" y="873.05" width="9.32" height="9.29" fill="#b3cfe4"/>
<rect x="377.07" y="873.05" width="9.32" height="9.29" fill="#e3edf4"/>
<rect x="387.29" y="873.05" width="9.32" height="9.29" fill="#e3edf4"/>
<rect x="397.51" y="873.05" width="9.32" height="9.29" fill="#faf0ea"/>
<text x="410.0" y="675.3" font-size="7.3" text-anchor="start" fill="#222" color="#222" >IL1B</text>
<text x="410.0" y="685.6" font-size="7.3" text-anchor="start" fill="#222" color="#222" >IL6</text>
<text x="410.0" y="695.8" font-size="7.3" text-anchor="start" fill="#222" color="#222" >PTPN11</text>
<text x="410.0" y="706.1" font-size="7.3" text-anchor="start" fill="#222" color="#222" >LYN</text>
<text x="410.0" y="716.4" font-size="7.3" text-anchor="start" fill="#222" color="#222" >HMOX1</text>
<text x="410.0" y="726.6" font-size="7.3" text-anchor="start" fill="#222" color="#222" >CXCL8</text>
<text x="410.0" y="736.9" font-size="7.3" text-anchor="start" fill="#222" color="#222" >IL10</text>
<text x="410.0" y="747.2" font-size="7.3" text-anchor="start" fill="#222" color="#222" >IL27</text>
<text x="410.0" y="757.4" font-size="7.3" text-anchor="start" fill="#222" color="#222" >FCGR3A</text>
<text x="410.0" y="767.7" font-size="7.3" text-anchor="start" fill="#222" color="#222" >CXCL10</text>
<text x="410.0" y="777.9" font-size="7.3" text-anchor="start" fill="#222" color="#222" >S100A9</text>
<text x="410.0" y="788.2" font-size="7.3" text-anchor="start" fill="#222" color="#222" >TNFSF13B</text>
<text x="410.0" y="798.5" font-size="7.3" text-anchor="start" fill="#222" color="#222" >TLR4</text>
<text x="410.0" y="808.7" font-size="7.3" text-anchor="start" fill="#222" color="#222" >MEF2C</text>
<text x="410.0" y="819.0" font-size="7.3" text-anchor="start" fill="#222" color="#222" >IL2RA</text>
<text x="410.0" y="829.3" font-size="7.3" text-anchor="start" fill="#222" color="#222" >IL18</text>
<text x="410.0" y="839.5" font-size="7.3" text-anchor="start" fill="#222" color="#222" >GRN</text>
<text x="410.0" y="849.8" font-size="7.3" text-anchor="start" fill="#222" color="#222" >FCGR2A</text>
<text x="410.0" y="860.1" font-size="7.3" text-anchor="start" fill="#222" color="#222" >TYROBP</text>
<text x="410.0" y="870.3" font-size="7.3" text-anchor="start" fill="#222" color="#222" >RAC1</text>
<text x="410.0" y="880.6" font-size="7.3" text-anchor="start" fill="#222" color="#222" >CXCL12</text>
<text x="325.0" y="889.0" font-size="7.4" text-anchor="end" fill="#222" transform="rotate(-45 325.0 889.0)">NP1</text>
<text x="335.2" y="889.0" font-size="7.4" text-anchor="end" fill="#222" transform="rotate(-45 335.2 889.0)">NP2</text>
<text x="345.5" y="889.0" font-size="7.4" text-anchor="end" fill="#222" transform="rotate(-45 345.5 889.0)">NP3</text>
<text x="355.7" y="889.0" font-size="7.4" text-anchor="end" fill="#222" transform="rotate(-45 355.7 889.0)">NP4</text>
<text x="365.9" y="889.0" font-size="7.4" text-anchor="end" fill="#222" transform="rotate(-45 365.9 889.0)">NP5</text>
<text x="376.1" y="889.0" font-size="7.4" text-anchor="end" fill="#222" transform="rotate(-45 376.1 889.0)">NP6</text>
<text x="386.3" y="889.0" font-size="7.4" text-anchor="end" fill="#222" transform="rotate(-45 386.3 889.0)">RPL1</text>
<text x="396.6" y="889.0" font-size="7.4" text-anchor="end" fill="#222" transform="rotate(-45 396.6 889.0)">RPL2</text>
<text x="406.8" y="889.0" font-size="7.4" text-anchor="end" fill="#222" transform="rotate(-45 406.8 889.0)">RPL3</text>
<defs><linearGradient id="gI" x1="0" y1="1" x2="0" y2="0"><stop offset="0" stop-color="#a2c4df"/><stop offset="0.15" stop-color="#b3cfe4"/><stop offset="0.3" stop-color="#cde0ee"/><stop offset="0.45" stop-color="#eef3f7"/><stop offset="0.5" stop-color="#fdfbfa"/><stop offset="0.55" stop-color="#faf0ea"/><stop offset="0.65" stop-color="#f6dccf"/><stop offset="0.8" stop-color="#efac8e"/><stop offset="1.0" stop-color="#ec835d"/></linearGradient></defs>
<rect x="447.2" y="668.3" width="10.4" height="80.2" fill="url(#gI)"/>
<line x1="457.9" y1="668.3" x2="457.9" y2="748.5" stroke="#555" stroke-width="0.6"/>
<line x1="457.59999999999997" y1="748.5" x2="459.4" y2="748.5" stroke="#555" stroke-width="0.6"/>
<text x="459.5" y="750.8" font-size="6.6" text-anchor="start" fill="#333" color="#333" >0.00</text>
<line x1="457.59999999999997" y1="732.5" x2="459.4" y2="732.5" stroke="#555" stroke-width="0.6"/>
<text x="459.5" y="734.8" font-size="6.6" text-anchor="start" fill="#333" color="#333" >0.20</text>
<line x1="457.59999999999997" y1="716.4" x2="459.4" y2="716.4" stroke="#555" stroke-width="0.6"/>
<text x="459.5" y="718.7" font-size="6.6" text-anchor="start" fill="#333" color="#333" >0.40</text>
<line x1="457.59999999999997" y1="700.4" x2="459.4" y2="700.4" stroke="#555" stroke-width="0.6"/>
<text x="459.5" y="702.7" font-size="6.6" text-anchor="start" fill="#333" color="#333" >0.60</text>
<line x1="457.59999999999997" y1="684.3" x2="459.4" y2="684.3" stroke="#555" stroke-width="0.6"/>
<text x="459.5" y="686.6" font-size="6.6" text-anchor="start" fill="#333" color="#333" >0.80</text>
<line x1="457.59999999999997" y1="668.3" x2="459.4" y2="668.3" stroke="#555" stroke-width="0.6"/>
<text x="459.5" y="670.6" font-size="6.6" text-anchor="start" fill="#333" color="#333" >1.00</text>
<rect x="520.5" y="647.1" width="92.4" height="18.6" fill="#e8e8f5"/>
<text x="563.5" y="660.3" font-size="9.5" text-anchor="middle" font-weight="bold" fill="#222" color="#222" >SIGLEC7<tspan font-size="6" dy="-3.5">-</tspan></text>
<rect x="520.3" y="670.9" width="92.0" height="213.4" fill="#fff"/>
<rect x="520.75" y="671.35" width="9.32" height="9.26" fill="#caf1c4"/>
<rect x="530.97" y="671.35" width="9.32" height="9.26" fill="#c4c1e2"/>
<rect x="541.19" y="671.35" width="9.32" height="9.26" fill="#eefaec"/>
<rect x="551.41" y="671.35" width="9.32" height="9.26" fill="#caf1c4"/>
<rect x="561.63" y="671.35" width="9.32" height="9.26" fill="#ddf5d9"/>
<rect x="571.85" y="671.35" width="9.32" height="9.26" fill="#e4f7e1"/>
<rect x="582.07" y="671.35" width="9.32" height="9.26" fill="#caf1c4"/>
<rect x="592.29" y="671.35" width="9.32" height="9.26" fill="#c0bce0"/>
<rect x="602.51" y="671.35" width="9.32" height="9.26" fill="#caf1c4"/>
<rect x="520.75" y="681.51" width="9.32" height="9.26" fill="#e7e6f4"/>
<rect x="530.97" y="681.51" width="9.32" height="9.26" fill="#c0bce0"/>
<rect x="541.19" y="681.51" width="9.32" height="9.26" fill="#e8f8e6"/>
<rect x="551.41" y="681.51" width="9.32" height="9.26" fill="#eefaec"/>
<rect x="561.63" y="681.51" width="9.32" height="9.26" fill="#e9e8f5"/>
<rect x="571.85" y="681.51" width="9.32" height="9.26" fill="#e9e8f5"/>
<rect x="582.07" y="681.51" width="9.32" height="9.26" fill="#d0f2cb"/>
<rect x="592.29" y="681.51" width="9.32" height="9.26" fill="#cbc7e6"/>
<rect x="602.51" y="681.51" width="9.32" height="9.26" fill="#caf1c4"/>
<rect x="520.75" y="691.67" width="9.32" height="9.26" fill="#f2fbf1"/>
<rect x="530.97" y="691.67" width="9.32" height="9.26" fill="#c0bce0"/>
<rect x="541.19" y="691.67" width="9.32" height="9.26" fill="#eefaec"/>
<rect x="551.41" y="691.67" width="9.32" height="9.26" fill="#ebf9e9"/>
<rect x="561.63" y="691.67" width="9.32" height="9.26" fill="#ebf9e9"/>
<rect x="571.85" y="691.67" width="9.32" height="9.26" fill="#e4f7e1"/>
<rect x="582.07" y="691.67" width="9.32" height="9.26" fill="#d7f4d2"/>
<rect x="592.29" y="691.67" width="9.32" height="9.26" fill="#e8f8e6"/>
<rect x="602.51" y="691.67" width="9.32" height="9.26" fill="#caf1c4"/>
<rect x="520.75" y="701.83" width="9.32" height="9.26" fill="#e0f6dc"/>
<rect x="530.97" y="701.83" width="9.32" height="9.26" fill="#eefaec"/>
<rect x="541.19" y="701.83" width="9.32" height="9.26" fill="#d7f4d2"/>
<rect x="551.41" y="701.83" width="9.32" height="9.26" fill="#d0f2cb"/>
<rect x="561.63" y="701.83" width="9.32" height="9.26" fill="#d7f4d2"/>
<rect x="571.85" y="701.83" width="9.32" height="9.26" fill="#cef2c8"/>
<rect x="582.07" y="701.83" width="9.32" height="9.26" fill="#c0bce0"/>
<rect x="592.29" y="701.83" width="9.32" height="9.26" fill="#e8f8e6"/>
<rect x="602.51" y="701.83" width="9.32" height="9.26" fill="#d7f4d2"/>
<rect x="520.75" y="711.99" width="9.32" height="9.26" fill="#e8f8e6"/>
<rect x="530.97" y="711.99" width="9.32" height="9.26" fill="#c0bce0"/>
<rect x="541.19" y="711.99" width="9.32" height="9.26" fill="#d7f4d2"/>
<rect x="551.41" y="711.99" width="9.32" height="9.26" fill="#d0f2cb"/>
<rect x="561.63" y="711.99" width="9.32" height="9.26" fill="#c9c6e5"/>
<rect x="571.85" y="711.99" width="9.32" height="9.26" fill="#e7e6f4"/>
<rect x="582.07" y="711.99" width="9.32" height="9.26" fill="#c4c1e2"/>
<rect x="592.29" y="711.99" width="9.32" height="9.26" fill="#edecf6"/>
<rect x="602.51" y="711.99" width="9.32" height="9.26" fill="#c7f0c1"/>
<rect x="520.75" y="722.15" width="9.32" height="9.26" fill="#fcfdfc"/>
<rect x="530.97" y="722.15" width="9.32" height="9.26" fill="#c0bce0"/>
<rect x="541.19" y="722.15" width="9.32" height="9.26" fill="#e7e6f4"/>
<rect x="551.41" y="722.15" width="9.32" height="9.26" fill="#caf1c4"/>
<rect x="561.63" y="722.15" width="9.32" height="9.26" fill="#e4f7e1"/>
<rect x="571.85" y="722.15" width="9.32" height="9.26" fill="#c9c6e5"/>
<rect x="582.07" y="722.15" width="9.32" height="9.26" fill="#e8f8e6"/>
<rect x="592.29" y="722.15" width="9.32" height="9.26" fill="#d8d5ed"/>
<rect x="602.51" y="722.15" width="9.32" height="9.26" fill="#e9e8f5"/>
<rect x="520.75" y="732.31" width="9.32" height="9.26" fill="#f8f9fb"/>
<rect x="530.97" y="732.31" width="9.32" height="9.26" fill="#f2fbf1"/>
<rect x="541.19" y="732.31" width="9.32" height="9.26" fill="#e0f6dc"/>
<rect x="551.41" y="732.31" width="9.32" height="9.26" fill="#e9e8f5"/>
<rect x="561.63" y="732.31" width="9.32" height="9.26" fill="#f2f2f8"/>
<rect x="571.85" y="732.31" width="9.32" height="9.26" fill="#d8d5ed"/>
<rect x="582.07" y="732.31" width="9.32" height="9.26" fill="#caf1c4"/>
<rect x="592.29" y="732.31" width="9.32" height="9.26" fill="#f2f2f8"/>
<rect x="602.51" y="732.31" width="9.32" height="9.26" fill="#c0bce0"/>
<rect x="520.75" y="742.47" width="9.32" height="9.26" fill="#e8f8e6"/>
<rect x="530.97" y="742.47" width="9.32" height="9.26" fill="#c7c4e4"/>
<rect x="541.19" y="742.47" width="9.32" height="9.26" fill="#d0f2cb"/>
<rect x="551.41" y="742.47" width="9.32" height="9.26" fill="#e4f7e1"/>
<rect x="561.63" y="742.47" width="9.32" height="9.26" fill="#e4f7e1"/>
<rect x="571.85" y="742.47" width="9.32" height="9.26" fill="#fcfdfc"/>
<rect x="582.07" y="742.47" width="9.32" height="9.26" fill="#caf1c4"/>
<rect x="592.29" y="742.47" width="9.32" height="9.26" fill="#cecae8"/>
<rect x="602.51" y="742.47" width="9.32" height="9.26" fill="#c4c1e2"/>
<rect x="520.75" y="752.63" width="9.32" height="9.26" fill="#ddf5d9"/>
<rect x="530.97" y="752.63" width="9.32" height="9.26" fill="#d0f2cb"/>
<rect x="541.19" y="752.63" width="9.32" height="9.26" fill="#f2f2f8"/>
<rect x="551.41" y="752.63" width="9.32" height="9.26" fill="#d4d2eb"/>
<rect x="561.63" y="752.63" width="9.32" height="9.26" fill="#ddf5d9"/>
<rect x="571.85" y="752.63" width="9.32" height="9.26" fill="#ddf5d9"/>
<rect x="582.07" y="752.63" width="9.32" height="9.26" fill="#caf1c4"/>
<rect x="592.29" y="752.63" width="9.32" height="9.26" fill="#f2f2f8"/>
<rect x="602.51" y="752.63" width="9.32" height="9.26" fill="#c0bce0"/>
<rect x="520.75" y="762.79" width="9.32" height="9.26" fill="#d7f4d2"/>
<rect x="530.97" y="762.79" width="9.32" height="9.26" fill="#e0f6dc"/>
<rect x="541.19" y="762.79" width="9.32" height="9.26" fill="#d0cde9"/>
<rect x="551.41" y="762.79" width="9.32" height="9.26" fill="#e3e2f2"/>
<rect x="561.63" y="762.79" width="9.32" height="9.26" fill="#d7f4d2"/>
<rect x="571.85" y="762.79" width="9.32" height="9.26" fill="#c0bce0"/>
<rect x="582.07" y="762.79" width="9.32" height="9.26" fill="#caf1c4"/>
<rect x="592.29" y="762.79" width="9.32" height="9.26" fill="#e7e6f4"/>
<rect x="602.51" y="762.79" width="9.32" height="9.26" fill="#dbd9ee"/>
<rect x="520.75" y="772.95" width="9.32" height="9.26" fill="#d0f2cb"/>
<rect x="530.97" y="772.95" width="9.32" height="9.26" fill="#eefaec"/>
<rect x="541.19" y="772.95" width="9.32" height="9.26" fill="#daf4d6"/>
<rect x="551.41" y="772.95" width="9.32" height="9.26" fill="#daf4d6"/>
<rect x="561.63" y="772.95" width="9.32" height="9.26" fill="#cef2c8"/>
<rect x="571.85" y="772.95" width="9.32" height="9.26" fill="#eefaec"/>
<rect x="582.07" y="772.95" width="9.32" height="9.26" fill="#ebf9e9"/>
<rect x="592.29" y="772.95" width="9.32" height="9.26" fill="#ddf5d9"/>
<rect x="602.51" y="772.95" width="9.32" height="9.26" fill="#c4c1e2"/>
<rect x="520.75" y="783.11" width="9.32" height="9.26" fill="#d0f2cb"/>
<rect x="530.97" y="783.11" width="9.32" height="9.26" fill="#f8f9fb"/>
<rect x="541.19" y="783.11" width="9.32" height="9.26" fill="#e9e8f5"/>
<rect x="551.41" y="783.11" width="9.32" height="9.26" fill="#d0f2cb"/>
<rect x="561.63" y="783.11" width="9.32" height="9.26" fill="#daf4d6"/>
<rect x="571.85" y="783.11" width="9.32" height="9.26" fill="#d7f4d2"/>
<rect x="582.07" y="783.11" width="9.32" height="9.26" fill="#e4f7e1"/>
<rect x="592.29" y="783.11" width="9.32" height="9.26" fill="#c7c4e4"/>
<rect x="602.51" y="783.11" width="9.32" height="9.26" fill="#d2cfea"/>
<rect x="520.75" y="793.27" width="9.32" height="9.26" fill="#ddf5d9"/>
<rect x="530.97" y="793.27" width="9.32" height="9.26" fill="#e3e2f2"/>
<rect x="541.19" y="793.27" width="9.32" height="9.26" fill="#ddf5d9"/>
<rect x="551.41" y="793.27" width="9.32" height="9.26" fill="#d0f2cb"/>
<rect x="561.63" y="793.27" width="9.32" height="9.26" fill="#e4f7e1"/>
<rect x="571.85" y="793.27" width="9.32" height="9.26" fill="#c0bce0"/>
<rect x="582.07" y="793.27" width="9.32" height="9.26" fill="#ddf5d9"/>
<rect x="592.29" y="793.27" width="9.32" height="9.26" fill="#e4f7e1"/>
<rect x="602.51" y="793.27" width="9.32" height="9.26" fill="#f2fbf1"/>
<rect x="520.75" y="803.43" width="9.32" height="9.26" fill="#d7f4d2"/>
<rect x="530.97" y="803.43" width="9.32" height="9.26" fill="#d7f4d2"/>
<rect x="541.19" y="803.43" width="9.32" height="9.26" fill="#daf4d6"/>
<rect x="551.41" y="803.43" width="9.32" height="9.26" fill="#d0f2cb"/>
<rect x="561.63" y="803.43" width="9.32" height="9.26" fill="#fcfdfc"/>
<rect x="571.85" y="803.43" width="9.32" height="9.26" fill="#c0bce0"/>
<rect x="582.07" y="803.43" width="9.32" height="9.26" fill="#ddf5d9"/>
<rect x="592.29" y="803.43" width="9.32" height="9.26" fill="#d3f3ce"/>
<rect x="602.51" y="803.43" width="9.32" height="9.26" fill="#e4f7e1"/>
<rect x="520.75" y="813.59" width="9.32" height="9.26" fill="#d0f2cb"/>
<rect x="530.97" y="813.59" width="9.32" height="9.26" fill="#daf4d6"/>
<rect x="541.19" y="813.59" width="9.32" height="9.26" fill="#d3f3ce"/>
<rect x="551.41" y="813.59" width="9.32" height="9.26" fill="#d7f4d2"/>
<rect x="561.63" y="813.59" width="9.32" height="9.26" fill="#e4f7e1"/>
<rect x="571.85" y="813.59" width="9.32" height="9.26" fill="#c0bce0"/>
<rect x="582.07" y="813.59" width="9.32" height="9.26" fill="#ddf5d9"/>
<rect x="592.29" y="813.59" width="9.32" height="9.26" fill="#e0f6dc"/>
<rect x="602.51" y="813.59" width="9.32" height="9.26" fill="#e8f8e6"/>
<rect x="520.75" y="823.75" width="9.32" height="9.26" fill="#d7f4d2"/>
<rect x="530.97" y="823.75" width="9.32" height="9.26" fill="#e3e2f2"/>
<rect x="541.19" y="823.75" width="9.32" height="9.26" fill="#d3f3ce"/>
<rect x="551.41" y="823.75" width="9.32" height="9.26" fill="#ddf5d9"/>
<rect x="561.63" y="823.75" width="9.32" height="9.26" fill="#d3f3ce"/>
<rect x="571.85" y="823.75" width="9.32" height="9.26" fill="#c0bce0"/>
<rect x="582.07" y="823.75" width="9.32" height="9.26" fill="#ddf5d9"/>
<rect x="592.29" y="823.75" width="9.32" height="9.26" fill="#e9e8f5"/>
<rect x="602.51" y="823.75" width="9.32" height="9.26" fill="#d0f2cb"/>
<rect x="520.75" y="833.91" width="9.32" height="9.26" fill="#dedcf0"/>
<rect x="530.97" y="833.91" width="9.32" height="9.26" fill="#ddf5d9"/>
<rect x="541.19" y="833.91" width="9.32" height="9.26" fill="#ddf5d9"/>
<rect x="551.41" y="833.91" width="9.32" height="9.26" fill="#e4f7e1"/>
<rect x="561.63" y="833.91" width="9.32" height="9.26" fill="#ebf9e9"/>
<rect x="571.85" y="833.91" width="9.32" height="9.26" fill="#c0bce0"/>
<rect x="582.07" y="833.91" width="9.32" height="9.26" fill="#ddf5d9"/>
<rect x="592.29" y="833.91" width="9.32" height="9.26" fill="#d2cfea"/>
<rect x="602.51" y="833.91" width="9.32" height="9.26" fill="#d0f2cb"/>
<rect x="520.75" y="844.07" width="9.32" height="9.26" fill="#fcfdfc"/>
<rect x="530.97" y="844.07" width="9.32" height="9.26" fill="#ddf5d9"/>
<rect x="541.19" y="844.07" width="9.32" height="9.26" fill="#d7f4d2"/>
<rect x="551.41" y="844.07" width="9.32" height="9.26" fill="#ddf5d9"/>
<rect x="561.63" y="844.07" width="9.32" height="9.26" fill="#ddf5d9"/>
<rect x="571.85" y="844.07" width="9.32" height="9.26" fill="#c0bce0"/>
<rect x="582.07" y="844.07" width="9.32" height="9.26" fill="#e0f6dc"/>
<rect x="592.29" y="844.07" width="9.32" height="9.26" fill="#ebf9e9"/>
<rect x="602.51" y="844.07" width="9.32" height="9.26" fill="#d0f2cb"/>
<rect x="520.75" y="854.23" width="9.32" height="9.26" fill="#d7f4d2"/>
<rect x="530.97" y="854.23" width="9.32" height="9.26" fill="#e4f7e1"/>
<rect x="541.19" y="854.23" width="9.32" height="9.26" fill="#daf4d6"/>
<rect x="551.41" y="854.23" width="9.32" height="9.26" fill="#ebf9e9"/>
<rect x="561.63" y="854.23" width="9.32" height="9.26" fill="#c0bce0"/>
<rect x="571.85" y="854.23" width="9.32" height="9.26" fill="#eefaec"/>
<rect x="582.07" y="854.23" width="9.32" height="9.26" fill="#d0f2cb"/>
<rect x="592.29" y="854.23" width="9.32" height="9.26" fill="#cbc7e6"/>
<rect x="602.51" y="854.23" width="9.32" height="9.26" fill="#ddf5d9"/>
<rect x="520.75" y="864.39" width="9.32" height="9.26" fill="#e7e6f4"/>
<rect x="530.97" y="864.39" width="9.32" height="9.26" fill="#ebf9e9"/>
<rect x="541.19" y="864.39" width="9.32" height="9.26" fill="#f2f2f8"/>
<rect x="551.41" y="864.39" width="9.32" height="9.26" fill="#c0bce0"/>
<rect x="561.63" y="864.39" width="9.32" height="9.26" fill="#dedcf0"/>
<rect x="571.85" y="864.39" width="9.32" height="9.26" fill="#f2f2f8"/>
<rect x="582.07" y="864.39" width="9.32" height="9.26" fill="#d0f2cb"/>
<rect x="592.29" y="864.39" width="9.32" height="9.26" fill="#f2fbf1"/>
<rect x="602.51" y="864.39" width="9.32" height="9.26" fill="#f2fbf1"/>
<rect x="520.75" y="874.55" width="9.32" height="9.26" fill="#f8f9fb"/>
<rect x="530.97" y="874.55" width="9.32" height="9.26" fill="#d0f2cb"/>
<rect x="541.19" y="874.55" width="9.32" height="9.26" fill="#e4f7e1"/>
<rect x="551.41" y="874.55" width="9.32" height="9.26" fill="#c0bce0"/>
<rect x="561.63" y="874.55" width="9.32" height="9.26" fill="#fcfdfc"/>
<rect x="571.85" y="874.55" width="9.32" height="9.26" fill="#e8f8e6"/>
<rect x="582.07" y="874.55" width="9.32" height="9.26" fill="#d0f2cb"/>
<rect x="592.29" y="874.55" width="9.32" height="9.26" fill="#e0f6dc"/>
<rect x="602.51" y="874.55" width="9.32" height="9.26" fill="#eefaec"/>
<text x="614.5" y="677.3" font-size="7.3" text-anchor="start" fill="#222" color="#222" >IL27</text>
<text x="614.5" y="687.5" font-size="7.3" text-anchor="start" fill="#222" color="#222" >FCGR2A</text>
<text x="614.5" y="697.8" font-size="7.3" text-anchor="start" fill="#222" color="#222" >MEF2C</text>
<text x="614.5" y="708.0" font-size="7.3" text-anchor="start" fill="#222" color="#222" >FCGR3A</text>
<text x="614.5" y="718.3" font-size="7.3" text-anchor="start" fill="#222" color="#222" >IL1B</text>
<text x="614.5" y="728.5" font-size="7.3" text-anchor="start" fill="#222" color="#222" >TNFSF13B</text>
<text x="614.5" y="738.8" font-size="7.3" text-anchor="start" fill="#222" color="#222" >TLR4</text>
<text x="614.5" y="749.0" font-size="7.3" text-anchor="start" fill="#222" color="#222" >CXCL10</text>
<text x="614.5" y="759.3" font-size="7.3" text-anchor="start" fill="#222" color="#222" >RAC1</text>
<text x="614.5" y="769.5" font-size="7.3" text-anchor="start" fill="#222" color="#222" >CXCL12</text>
<text x="614.5" y="779.8" font-size="7.3" text-anchor="start" fill="#222" color="#222" >IL6</text>
<text x="614.5" y="790.0" font-size="7.3" text-anchor="start" fill="#222" color="#222" >IL10</text>
<text x="614.5" y="800.2" font-size="7.3" text-anchor="start" fill="#222" color="#222" >IL2RA</text>
<text x="614.5" y="810.5" font-size="7.3" text-anchor="start" fill="#222" color="#222" >LYN</text>
<text x="614.5" y="820.7" font-size="7.3" text-anchor="start" fill="#222" color="#222" >PTPN11</text>
<text x="614.5" y="831.0" font-size="7.3" text-anchor="start" fill="#222" color="#222" >S100A9</text>
<text x="614.5" y="841.2" font-size="7.3" text-anchor="start" fill="#222" color="#222" >HMOX1</text>
<text x="614.5" y="851.5" font-size="7.3" text-anchor="start" fill="#222" color="#222" >CXCL8</text>
<text x="614.5" y="861.7" font-size="7.3" text-anchor="start" fill="#222" color="#222" >GRN</text>
<text x="614.5" y="872.0" font-size="7.3" text-anchor="start" fill="#222" color="#222" >IL18</text>
<text x="614.5" y="882.2" font-size="7.3" text-anchor="start" fill="#222" color="#222" >TYROBP</text>
<text x="530.0" y="890.5" font-size="7.4" text-anchor="end" fill="#222" transform="rotate(-45 530.0 890.5)">NP1</text>
<text x="540.2" y="890.5" font-size="7.4" text-anchor="end" fill="#222" transform="rotate(-45 540.2 890.5)">NP2</text>
<text x="550.5" y="890.5" font-size="7.4" text-anchor="end" fill="#222" transform="rotate(-45 550.5 890.5)">NP3</text>
<text x="560.7" y="890.5" font-size="7.4" text-anchor="end" fill="#222" transform="rotate(-45 560.7 890.5)">NP4</text>
<text x="570.9" y="890.5" font-size="7.4" text-anchor="end" fill="#222" transform="rotate(-45 570.9 890.5)">NP5</text>
<text x="581.1" y="890.5" font-size="7.4" text-anchor="end" fill="#222" transform="rotate(-45 581.1 890.5)">NP6</text>
<text x="591.3" y="890.5" font-size="7.4" text-anchor="end" fill="#222" transform="rotate(-45 591.3 890.5)">RPL1</text>
<text x="601.5" y="890.5" font-size="7.4" text-anchor="end" fill="#222" transform="rotate(-45 601.5 890.5)">RPL2</text>
<text x="611.8" y="890.5" font-size="7.4" text-anchor="end" fill="#222" transform="rotate(-45 611.8 890.5)">RPL3</text>
<defs><linearGradient id="gJ" x1="0" y1="1" x2="0" y2="0"><stop offset="0" stop-color="#bdecb6"/><stop offset="0.15" stop-color="#caf1c4"/><stop offset="0.3" stop-color="#ddf5d9"/><stop offset="0.45" stop-color="#f2fbf1"/><stop offset="0.5" stop-color="#fcfdfc"/><stop offset="0.6" stop-color="#e9e8f5"/><stop offset="0.8" stop-color="#d2cfea"/><stop offset="1.0" stop-color="#c0bce0"/></linearGradient></defs>
<rect x="659.9" y="671.1" width="9.8" height="79.1" fill="url(#gJ)"/>
<line x1="669.9999999999999" y1="671.1" x2="669.9999999999999" y2="750.2" stroke="#555" stroke-width="0.6"/>
<line x1="669.6999999999999" y1="750.2" x2="671.4999999999999" y2="750.2" stroke="#555" stroke-width="0.6"/>
<text x="670.9" y="752.4" font-size="6.3" text-anchor="start" fill="#333" color="#333" >0.00</text>
<line x1="669.6999999999999" y1="734.4" x2="671.4999999999999" y2="734.4" stroke="#555" stroke-width="0.6"/>
<text x="670.9" y="736.6" font-size="6.3" text-anchor="start" fill="#333" color="#333" >0.20</text>
<line x1="669.6999999999999" y1="718.6" x2="671.4999999999999" y2="718.6" stroke="#555" stroke-width="0.6"/>
<text x="670.9" y="720.8" font-size="6.3" text-anchor="start" fill="#333" color="#333" >0.40</text>
<line x1="669.6999999999999" y1="702.7" x2="671.4999999999999" y2="702.7" stroke="#555" stroke-width="0.6"/>
<text x="670.9" y="704.9" font-size="6.3" text-anchor="start" fill="#333" color="#333" >0.60</text>
<line x1="669.6999999999999" y1="686.9" x2="671.4999999999999" y2="686.9" stroke="#555" stroke-width="0.6"/>
<text x="670.9" y="689.1" font-size="6.3" text-anchor="start" fill="#333" color="#333" >0.80</text>
<line x1="669.6999999999999" y1="671.1" x2="671.4999999999999" y2="671.1" stroke="#555" stroke-width="0.6"/>
<text x="670.9" y="673.3" font-size="6.3" text-anchor="start" fill="#333" color="#333" >1.00</text>
<path d="M315.1,673.9 H301.7 V684.1 H315.1 M315.1,714.7 H310.8 V724.8 H315.1 M315.1,704.5 H306.3 V719.8 H310.8 M315.1,694.3 H301.7 V712.1 H306.3 M301.7,679.0 H297.0 V703.2 H301.7 M315.1,735.0 H301.7 V745.2 H315.1 M315.1,755.4 H306.3 V765.6 H315.1 M315.1,775.8 H306.3 V786.0 H315.1 M306.3,760.5 H301.7 V780.9 H306.3 M301.7,740.1 H297.0 V770.7 H301.7 M297.0,691.1 H292.7 V755.4 H297.0 M315.1,806.4 H301.7 V816.6 H315.1 M315.1,796.2 H297.0 V811.5 H301.7 M315.1,836.9 H306.3 V847.1 H315.1 M315.1,826.7 H301.7 V842.0 H306.3 M315.1,867.5 H306.3 V877.7 H315.1 M315.1,857.3 H301.7 V872.6 H306.3 M301.7,834.4 H297.0 V865.0 H301.7 M297.0,803.8 H292.7 V849.7 H297.0 M292.7,723.3 H287.5 V826.7 H292.7" fill="none" stroke="#a3a3a3" stroke-width="0.7"/>
<path d="M520.2,686.1 H506.7 V696.3 H520.2 M520.2,676.0 H501.5 V691.2 H506.7 M520.2,706.5 H501.5 V716.6 H520.2 M501.5,683.6 H497.0 V711.5 H501.5 M520.2,736.9 H511.3 V747.1 H520.2 M520.2,726.8 H506.7 V742.0 H511.3 M520.2,757.3 H511.3 V767.4 H520.2 M520.2,777.6 H511.3 V787.7 H520.2 M511.3,762.3 H506.7 V782.7 H511.3 M506.7,734.4 H501.5 V772.5 H506.7 M520.2,808.1 H515.8 V818.2 H520.2 M520.2,797.9 H511.3 V813.1 H515.8 M520.2,838.5 H515.8 V848.7 H520.2 M520.2,828.4 H511.3 V843.6 H515.8 M511.3,805.5 H506.7 V836.0 H511.3 M520.2,869.0 H511.3 V879.2 H520.2 M520.2,858.9 H506.7 V874.1 H511.3 M506.7,820.8 H501.5 V866.5 H506.7 M501.5,753.5 H497.7 V843.6 H501.5 M497.0,697.6 H492.5 V798.5 H497.7" fill="none" stroke="#a3a3a3" stroke-width="0.7"/>
<defs><pattern id="spk1" width="16" height="16" patternUnits="userSpaceOnUse"><g opacity="0.9"><circle cx="3.81" cy="8.71" r="0.39" fill="#fff"/><circle cx="9.66" cy="10.01" r="0.32" fill="#fff"/><circle cx="0.21" cy="13.40" r="0.36" fill="#fff"/><circle cx="3.75" cy="15.93" r="0.42" fill="#fff"/><circle cx="13.38" cy="7.62" r="0.46" fill="#fff"/><circle cx="2.41" cy="10.16" r="0.52" fill="#fff"/><circle cx="8.37" cy="11.86" r="0.47" fill="#fff"/><circle cx="1.02" cy="12.13" r="0.45" fill="#fff"/><circle cx="4.82" cy="0.50" r="0.52" fill="#fff"/><circle cx="7.56" cy="11.50" r="0.52" fill="#fff"/><circle cx="11.43" cy="14.74" r="0.40" fill="#fff"/><circle cx="12.81" cy="7.11" r="0.53" fill="#fff"/><circle cx="14.06" cy="1.56" r="0.33" fill="#fff"/><circle cx="3.47" cy="15.45" r="0.41" fill="#fff"/><circle cx="10.03" cy="4.82" r="0.43" fill="#fff"/><circle cx="6.17" cy="5.61" r="0.45" fill="#fff"/><circle cx="9.35" cy="14.47" r="0.47" fill="#fff"/><circle cx="14.86" cy="13.70" r="0.55" fill="#fff"/><circle cx="10.74" cy="2.61" r="0.52" fill="#fff"/><circle cx="15.43" cy="14.48" r="0.44" fill="#fff"/><circle cx="11.42" cy="3.38" r="0.51" fill="#fff"/><circle cx="9.18" cy="4.56" r="0.32" fill="#fff"/><circle cx="13.66" cy="15.84" r="0.32" fill="#fff"/><circle cx="12.81" cy="6.57" r="0.34" fill="#fff"/><circle cx="4.70" cy="12.30" r="0.52" fill="#fff"/><circle cx="0.71" cy="9.83" r="0.31" fill="#fff"/><circle cx="11.50" cy="5.30" r="0.52" fill="#fff"/><circle cx="15.69" cy="8.09" r="0.55" fill="#fff"/><circle cx="4.95" cy="1.23" r="0.45" fill="#fff"/><circle cx="0.50" cy="3.16" r="0.40" fill="#fff"/><circle cx="9.77" cy="2.50" r="0.31" fill="#fff"/><circle cx="13.88" cy="5.02" r="0.54" fill="#fff"/><circle cx="14.35" cy="6.04" r="0.42" fill="#fff"/><circle cx="8.32" cy="10.30" r="0.45" fill="#fff"/></g></pattern><pattern id="spk2" width="16" height="16" patternUnits="userSpaceOnUse"><g opacity="0.8"><circle cx="3.78" cy="1.65" r="0.33" fill="#fff"/><circle cx="2.48" cy="1.06" r="0.33" fill="#fff"/><circle cx="14.69" cy="12.81" r="0.40" fill="#fff"/><circle cx="3.55" cy="8.59" r="0.31" fill="#fff"/><circle cx="2.76" cy="1.70" r="0.29" fill="#fff"/><circle cx="14.84" cy="13.26" r="0.41" fill="#fff"/><circle cx="12.81" cy="3.09" r="0.31" fill="#fff"/><circle cx="10.03" cy="11.71" r="0.42" fill="#fff"/><circle cx="14.08" cy="1.39" r="0.37" fill="#fff"/><circle cx="10.75" cy="8.10" r="0.29" fill="#fff"/><circle cx="7.58" cy="1.43" r="0.44" fill="#fff"/><circle cx="13.85" cy="8.76" r="0.31" fill="#fff"/><circle cx="14.54" cy="9.16" r="0.43" fill="#fff"/><circle cx="13.57" cy="8.13" r="0.33" fill="#fff"/><circle cx="9.58" cy="6.90" r="0.28" fill="#fff"/><circle cx="4.88" cy="13.00" r="0.26" fill="#fff"/></g></pattern></defs>
<polygon points="46.5,34.5 49.0,33.5 52.0,34.0 55.0,36.5 57.0,39.5 57.5,42.5 55.5,44.5 53.5,46.0 55.5,49.5 58.5,53.0 57.0,54.0 53.5,51.5 50.5,47.5 49.5,45.5 48.0,46.5 46.5,50.5 45.0,52.0 44.3,50.5 44.8,46.0 44.5,41.0 45.0,37.0" fill="#ec7063" />
<polygon points="46.5,34.5 49.0,33.5 52.0,34.0 55.0,36.5 57.0,39.5 57.5,42.5 55.5,44.5 53.5,46.0 55.5,49.5 58.5,53.0 57.0,54.0 53.5,51.5 50.5,47.5 49.5,45.5 48.0,46.5 46.5,50.5 45.0,52.0 44.3,50.5 44.8,46.0 44.5,41.0 45.0,37.0" fill="url(#spk1)" />
<polygon points="84.7,49.2 96.4,49.8 102.2,53.6 106.6,56.5 105.1,59.4 100.7,58.0 97.8,57.4 94.9,58.0 93.4,62.3 92.8,58.0 92.0,53.6 87.6,52.7 84.7,51.5" fill="#e8668b" />
<polygon points="84.7,49.2 96.4,49.8 102.2,53.6 106.6,56.5 105.1,59.4 100.7,58.0 97.8,57.4 94.9,58.0 93.4,62.3 92.8,58.0 92.0,53.6 87.6,52.7 84.7,51.5" fill="url(#spk1)" />
<path d="M129.9,44.0 C130.6,43.6 133.1,43.9 134.3,44.8 C135.5,45.7 136.6,47.6 137.2,49.2 C137.8,50.8 137.9,52.8 137.8,54.5 C137.7,56.2 137.7,58.2 136.6,59.4 C135.5,60.6 133.0,61.5 131.4,61.5 C129.8,61.5 127.9,60.2 127.0,59.4 C126.1,58.6 125.6,57.3 126.1,56.5 C126.6,55.7 128.9,55.5 129.9,54.5 C130.9,53.5 132.0,52.0 132.0,50.7 C132.0,49.4 130.2,48.0 129.9,46.9 C129.6,45.8 129.2,44.4 129.9,44.0Z" fill="#c97bf2" />
<path d="M129.9,44.0 C130.6,43.6 133.1,43.9 134.3,44.8 C135.5,45.7 136.6,47.6 137.2,49.2 C137.8,50.8 137.9,52.8 137.8,54.5 C137.7,56.2 137.7,58.2 136.6,59.4 C135.5,60.6 133.0,61.5 131.4,61.5 C129.8,61.5 127.9,60.2 127.0,59.4 C126.1,58.6 125.6,57.3 126.1,56.5 C126.6,55.7 128.9,55.5 129.9,54.5 C130.9,53.5 132.0,52.0 132.0,50.7 C132.0,49.4 130.2,48.0 129.9,46.9 C129.6,45.8 129.2,44.4 129.9,44.0Z" fill="url(#spk1)"/>
<path d="M59.7,127.5 C59.7,124.2 62.5,128.0 64.0,128.5 C65.5,129.0 67.0,129.8 68.5,130.5 C70.0,131.2 71.4,132.1 73.0,132.5 C74.6,132.9 76.4,133.1 78.0,133.2 C79.6,133.3 81.1,133.2 82.5,133.0 C83.9,132.8 85.2,132.4 86.5,132.0 C87.8,131.6 88.6,131.1 90.0,130.5 C91.4,129.9 93.5,129.1 95.0,128.6 C96.5,128.1 97.8,128.2 99.1,127.5 C100.4,126.8 102.0,124.5 103.1,124.3 C104.2,124.1 104.4,125.8 105.7,126.3 C107.0,126.8 109.3,126.7 111.0,127.2 C112.7,127.7 115.4,128.6 115.6,129.2 C115.8,129.8 113.5,130.2 112.3,130.9 C111.1,131.6 109.6,132.5 108.3,133.6 C107.0,134.7 105.7,136.1 104.4,137.3 C103.1,138.5 101.6,139.6 100.4,141.0 C99.2,142.4 98.4,144.3 97.0,145.5 C95.6,146.7 94.0,147.4 92.0,148.0 C90.0,148.6 87.3,148.7 85.0,149.2 C82.7,149.7 80.1,150.4 78.1,150.8 C76.1,151.2 74.5,151.8 72.8,151.8 C71.0,151.8 69.0,151.2 67.6,150.6 C66.2,150.0 65.6,151.8 64.3,148.0 C63.0,144.2 59.8,130.8 59.7,127.5Z" fill="#5dcfc8" />
<path d="M59.7,127.5 C59.7,124.2 62.5,128.0 64.0,128.5 C65.5,129.0 67.0,129.8 68.5,130.5 C70.0,131.2 71.4,132.1 73.0,132.5 C74.6,132.9 76.4,133.1 78.0,133.2 C79.6,133.3 81.1,133.2 82.5,133.0 C83.9,132.8 85.2,132.4 86.5,132.0 C87.8,131.6 88.6,131.1 90.0,130.5 C91.4,129.9 93.5,129.1 95.0,128.6 C96.5,128.1 97.8,128.2 99.1,127.5 C100.4,126.8 102.0,124.5 103.1,124.3 C104.2,124.1 104.4,125.8 105.7,126.3 C107.0,126.8 109.3,126.7 111.0,127.2 C112.7,127.7 115.4,128.6 115.6,129.2 C115.8,129.8 113.5,130.2 112.3,130.9 C111.1,131.6 109.6,132.5 108.3,133.6 C107.0,134.7 105.7,136.1 104.4,137.3 C103.1,138.5 101.6,139.6 100.4,141.0 C99.2,142.4 98.4,144.3 97.0,145.5 C95.6,146.7 94.0,147.4 92.0,148.0 C90.0,148.6 87.3,148.7 85.0,149.2 C82.7,149.7 80.1,150.4 78.1,150.8 C76.1,151.2 74.5,151.8 72.8,151.8 C71.0,151.8 69.0,151.2 67.6,150.6 C66.2,150.0 65.6,151.8 64.3,148.0 C63.0,144.2 59.8,130.8 59.7,127.5Z" fill="url(#spk1)"/>
<path d="M47.2,136.0 C47.4,133.8 47.7,130.8 48.5,129.0 C49.3,127.2 50.6,126.2 52.0,125.5 C53.4,124.8 55.3,124.6 57.0,124.8 C58.7,125.0 60.5,125.6 62.0,126.5 C63.5,127.4 65.0,128.4 66.0,130.0 C67.0,131.6 67.8,133.8 68.0,136.0 C68.2,138.2 67.5,140.8 67.0,143.0 C66.5,145.2 66.2,147.5 65.0,149.0 C63.8,150.5 62.0,151.5 60.0,151.8 C58.0,152.1 54.8,151.8 53.0,151.0 C51.2,150.2 50.0,148.5 49.0,147.0 C48.0,145.5 47.6,143.8 47.3,142.0 C47.0,140.2 47.0,138.2 47.2,136.0Z" fill="#4fd26c" />
<path d="M47.2,136.0 C47.4,133.8 47.7,130.8 48.5,129.0 C49.3,127.2 50.6,126.2 52.0,125.5 C53.4,124.8 55.3,124.6 57.0,124.8 C58.7,125.0 60.5,125.6 62.0,126.5 C63.5,127.4 65.0,128.4 66.0,130.0 C67.0,131.6 67.8,133.8 68.0,136.0 C68.2,138.2 67.5,140.8 67.0,143.0 C66.5,145.2 66.2,147.5 65.0,149.0 C63.8,150.5 62.0,151.5 60.0,151.8 C58.0,152.1 54.8,151.8 53.0,151.0 C51.2,150.2 50.0,148.5 49.0,147.0 C48.0,145.5 47.6,143.8 47.3,142.0 C47.0,140.2 47.0,138.2 47.2,136.0Z" fill="url(#spk1)"/>
<path d="M86.0,104.5 C86.3,103.4 87.5,102.3 88.6,101.8 C89.7,101.3 91.4,102.4 92.6,101.6 C93.8,100.8 94.7,97.7 95.8,97.2 C96.9,96.7 98.1,98.0 99.1,98.5 C100.1,99.0 101.2,99.7 101.8,100.5 C102.4,101.3 102.9,102.2 102.8,103.1 C102.7,104.0 101.9,105.2 101.1,105.8 C100.3,106.3 98.8,106.0 97.8,106.4 C96.8,106.8 96.0,107.5 95.2,108.4 C94.4,109.3 93.4,110.5 93.2,111.7 C93.0,112.9 94.3,114.8 93.9,115.6 C93.5,116.4 91.4,117.1 90.6,116.3 C89.8,115.5 90.0,112.3 89.3,111.0 C88.6,109.7 87.1,109.5 86.6,108.4 C86.0,107.3 85.7,105.6 86.0,104.5Z" fill="#6cc23a" />
<path d="M86.0,104.5 C86.3,103.4 87.5,102.3 88.6,101.8 C89.7,101.3 91.4,102.4 92.6,101.6 C93.8,100.8 94.7,97.7 95.8,97.2 C96.9,96.7 98.1,98.0 99.1,98.5 C100.1,99.0 101.2,99.7 101.8,100.5 C102.4,101.3 102.9,102.2 102.8,103.1 C102.7,104.0 101.9,105.2 101.1,105.8 C100.3,106.3 98.8,106.0 97.8,106.4 C96.8,106.8 96.0,107.5 95.2,108.4 C94.4,109.3 93.4,110.5 93.2,111.7 C93.0,112.9 94.3,114.8 93.9,115.6 C93.5,116.4 91.4,117.1 90.6,116.3 C89.8,115.5 90.0,112.3 89.3,111.0 C88.6,109.7 87.1,109.5 86.6,108.4 C86.0,107.3 85.7,105.6 86.0,104.5Z" fill="url(#spk1)"/>
<polygon points="90.2,115.0 93.5,115.0 93.6,121.5 94.2,126.8 95.5,132.0 98.0,136.0 99.6,140.0 98.3,145.2 92.6,147.8 87.3,146.5 85.3,142.6 88.6,138.6 90.3,133.4 90.4,125.5 89.9,120.2" fill="#6cc23a" />
<polygon points="90.2,115.0 93.5,115.0 93.6,121.5 94.2,126.8 95.5,132.0 98.0,136.0 99.6,140.0 98.3,145.2 92.6,147.8 87.3,146.5 85.3,142.6 88.6,138.6 90.3,133.4 90.4,125.5 89.9,120.2" fill="url(#spk1)" />
<path d="M123.2,127.8 C123.0,126.8 123.8,124.6 124.7,122.7 C125.6,120.8 126.9,118.5 128.3,116.5 C129.7,114.5 131.2,112.6 132.9,110.9 C134.6,109.2 136.9,107.7 138.5,106.3 C140.1,104.9 140.9,103.7 142.6,102.7 C144.3,101.7 146.5,100.8 148.7,100.2 C150.9,99.6 154.0,99.1 155.9,99.2 C157.8,99.3 158.7,99.7 160.0,100.7 C161.3,101.7 162.7,103.5 163.5,105.3 C164.3,107.1 164.8,109.5 165.1,111.4 C165.4,113.3 164.8,115.0 165.6,116.5 C166.4,118.0 168.6,119.2 170.2,120.6 C171.8,122.0 174.1,123.3 175.3,124.7 C176.5,126.1 177.3,127.4 177.3,128.8 C177.3,130.2 176.5,131.8 175.3,132.9 C174.1,134.0 172.2,134.9 170.2,135.4 C168.1,135.9 165.4,136.0 163.0,135.9 C160.6,135.8 157.8,135.6 155.9,134.9 C154.0,134.2 153.0,133.1 151.8,131.9 C150.6,130.7 149.7,129.3 148.7,127.8 C147.7,126.3 146.7,123.9 145.7,122.7 C144.7,121.5 143.6,120.9 142.6,120.6 C141.6,120.2 140.3,120.1 139.5,120.6 C138.7,121.1 138.2,122.6 137.5,123.7 C136.8,124.8 136.4,126.4 135.4,127.3 C134.4,128.2 132.9,128.6 131.4,128.8 C129.9,129.1 127.6,129.0 126.2,128.8 C124.8,128.6 123.5,128.8 123.2,127.8Z" fill="#5dcfc8" />
<path d="M123.2,127.8 C123.0,126.8 123.8,124.6 124.7,122.7 C125.6,120.8 126.9,118.5 128.3,116.5 C129.7,114.5 131.2,112.6 132.9,110.9 C134.6,109.2 136.9,107.7 138.5,106.3 C140.1,104.9 140.9,103.7 142.6,102.7 C144.3,101.7 146.5,100.8 148.7,100.2 C150.9,99.6 154.0,99.1 155.9,99.2 C157.8,99.3 158.7,99.7 160.0,100.7 C161.3,101.7 162.7,103.5 163.5,105.3 C164.3,107.1 164.8,109.5 165.1,111.4 C165.4,113.3 164.8,115.0 165.6,116.5 C166.4,118.0 168.6,119.2 170.2,120.6 C171.8,122.0 174.1,123.3 175.3,124.7 C176.5,126.1 177.3,127.4 177.3,128.8 C177.3,130.2 176.5,131.8 175.3,132.9 C174.1,134.0 172.2,134.9 170.2,135.4 C168.1,135.9 165.4,136.0 163.0,135.9 C160.6,135.8 157.8,135.6 155.9,134.9 C154.0,134.2 153.0,133.1 151.8,131.9 C150.6,130.7 149.7,129.3 148.7,127.8 C147.7,126.3 146.7,123.9 145.7,122.7 C144.7,121.5 143.6,120.9 142.6,120.6 C141.6,120.2 140.3,120.1 139.5,120.6 C138.7,121.1 138.2,122.6 137.5,123.7 C136.8,124.8 136.4,126.4 135.4,127.3 C134.4,128.2 132.9,128.6 131.4,128.8 C129.9,129.1 127.6,129.0 126.2,128.8 C124.8,128.6 123.5,128.8 123.2,127.8Z" fill="url(#spk1)"/>
<path d="M137.5,106.5 C138.4,105.5 140.7,103.9 142.6,102.9 C144.5,101.9 146.5,101.0 148.7,100.4 C150.9,99.8 154.0,99.3 155.9,99.4 C157.8,99.5 158.7,99.9 160.0,100.9 C161.3,101.9 162.7,103.2 163.5,105.3 C164.3,107.4 165.7,112.0 165.1,113.5 C164.5,115.0 161.5,114.0 160.0,114.5 C158.5,115.0 157.3,116.0 155.9,116.5 C154.5,117.0 152.8,116.7 151.8,117.5 C150.8,118.3 150.4,120.5 149.7,121.6 C149.0,122.7 148.4,124.1 147.7,124.2 C147.0,124.3 146.5,123.5 145.7,122.4 C144.8,121.3 143.6,119.2 142.6,117.5 C141.6,115.8 140.4,113.9 139.5,112.4 C138.6,110.9 137.6,109.6 137.3,108.6 C137.0,107.6 136.6,107.5 137.5,106.5Z" fill="#4fa9f1" />
<path d="M137.5,106.5 C138.4,105.5 140.7,103.9 142.6,102.9 C144.5,101.9 146.5,101.0 148.7,100.4 C150.9,99.8 154.0,99.3 155.9,99.4 C157.8,99.5 158.7,99.9 160.0,100.9 C161.3,101.9 162.7,103.2 163.5,105.3 C164.3,107.4 165.7,112.0 165.1,113.5 C164.5,115.0 161.5,114.0 160.0,114.5 C158.5,115.0 157.3,116.0 155.9,116.5 C154.5,117.0 152.8,116.7 151.8,117.5 C150.8,118.3 150.4,120.5 149.7,121.6 C149.0,122.7 148.4,124.1 147.7,124.2 C147.0,124.3 146.5,123.5 145.7,122.4 C144.8,121.3 143.6,119.2 142.6,117.5 C141.6,115.8 140.4,113.9 139.5,112.4 C138.6,110.9 137.6,109.6 137.3,108.6 C137.0,107.6 136.6,107.5 137.5,106.5Z" fill="url(#spk1)"/>
<ellipse cx="150.8" cy="109.4" rx="4.5" ry="2.8" fill="#fff" opacity="0.6"/>
<path d="M84.8,186.6 C85.4,185.2 86.4,184.7 87.9,184.5 C89.4,184.3 92.0,185.8 94.0,185.5 C96.0,185.2 98.2,183.5 100.1,182.5 C102.0,181.5 103.9,180.8 105.3,179.4 C106.7,178.0 107.3,175.8 108.3,174.3 C109.3,172.8 110.2,171.0 111.4,170.2 C112.6,169.3 114.7,168.2 115.5,169.2 C116.3,170.2 116.0,174.1 116.5,176.3 C117.0,178.5 117.5,180.1 118.5,182.5 C119.5,184.9 120.5,189.3 122.6,190.7 C124.6,192.1 128.5,190.5 130.8,190.7 C133.1,190.9 137.2,190.5 136.5,191.7 C135.8,192.9 129.7,196.1 126.7,197.8 C123.7,199.5 121.2,200.9 118.5,201.9 C115.8,202.9 112.8,203.2 110.4,203.9 C108.0,204.6 105.9,204.8 104.2,206.0 C102.5,207.2 101.8,209.6 100.1,211.1 C98.4,212.6 96.0,214.2 94.0,215.2 C92.0,216.1 89.4,217.2 87.9,216.8 C86.4,216.5 85.5,215.4 84.8,213.1 C84.1,210.8 83.9,206.3 83.8,202.9 C83.7,199.5 84.0,195.4 84.2,192.7 C84.4,190.0 84.2,188.0 84.8,186.6Z" fill="#6cc23a" />
<path d="M84.8,186.6 C85.4,185.2 86.4,184.7 87.9,184.5 C89.4,184.3 92.0,185.8 94.0,185.5 C96.0,185.2 98.2,183.5 100.1,182.5 C102.0,181.5 103.9,180.8 105.3,179.4 C106.7,178.0 107.3,175.8 108.3,174.3 C109.3,172.8 110.2,171.0 111.4,170.2 C112.6,169.3 114.7,168.2 115.5,169.2 C116.3,170.2 116.0,174.1 116.5,176.3 C117.0,178.5 117.5,180.1 118.5,182.5 C119.5,184.9 120.5,189.3 122.6,190.7 C124.6,192.1 128.5,190.5 130.8,190.7 C133.1,190.9 137.2,190.5 136.5,191.7 C135.8,192.9 129.7,196.1 126.7,197.8 C123.7,199.5 121.2,200.9 118.5,201.9 C115.8,202.9 112.8,203.2 110.4,203.9 C108.0,204.6 105.9,204.8 104.2,206.0 C102.5,207.2 101.8,209.6 100.1,211.1 C98.4,212.6 96.0,214.2 94.0,215.2 C92.0,216.1 89.4,217.2 87.9,216.8 C86.4,216.5 85.5,215.4 84.8,213.1 C84.1,210.8 83.9,206.3 83.8,202.9 C83.7,199.5 84.0,195.4 84.2,192.7 C84.4,190.0 84.2,188.0 84.8,186.6Z" fill="url(#spk1)"/>
<path d="M84.2,200.9 C85.2,199.7 88.0,199.7 90.0,199.0 C92.0,198.3 93.6,197.7 96.0,196.8 C98.4,195.9 102.5,193.0 104.2,193.7 C105.9,194.4 106.6,198.3 106.3,200.9 C106.0,203.5 104.2,206.6 102.2,209.0 C100.2,211.4 96.4,213.9 94.0,215.2 C91.6,216.5 89.4,217.2 87.9,216.8 C86.4,216.5 85.5,214.9 84.8,213.1 C84.1,211.3 84.0,208.0 83.9,206.0 C83.8,204.0 83.2,202.1 84.2,200.9Z" fill="#4fd26c" />
<path d="M84.2,200.9 C85.2,199.7 88.0,199.7 90.0,199.0 C92.0,198.3 93.6,197.7 96.0,196.8 C98.4,195.9 102.5,193.0 104.2,193.7 C105.9,194.4 106.6,198.3 106.3,200.9 C106.0,203.5 104.2,206.6 102.2,209.0 C100.2,211.4 96.4,213.9 94.0,215.2 C91.6,216.5 89.4,217.2 87.9,216.8 C86.4,216.5 85.5,214.9 84.8,213.1 C84.1,211.3 84.0,208.0 83.9,206.0 C83.8,204.0 83.2,202.1 84.2,200.9Z" fill="url(#spk1)"/>
<ellipse cx="92" cy="195" rx="4" ry="2.5" fill="#fff" opacity="0.5"/>
<ellipse cx="114" cy="187" rx="3" ry="3" fill="#fff" opacity="0.45"/>
<ellipse cx="90.5" cy="176" rx="1.5" ry="2" fill="#6cc23a"/>
<line x1="26.6" y1="119.5" x2="32.3" y2="126.3" stroke="#4fa9f1" stroke-width="1.3"/>
<line x1="182.5" y1="180.6" x2="192.7" y2="167.5" stroke="#4fa9f1" stroke-width="1.1" stroke-dasharray="2.5,0.8"/>
<ellipse cx="44.5" cy="188.6" rx="3.6" ry="1.5" fill="#5dcfc8"/>
<circle cx="72" cy="91.5" r="0.8" fill="#5dcfc8"/><circle cx="75" cy="184" r="0.8" fill="#5dcfc8"/><circle cx="92" cy="175" r="0.6" fill="#6cc23a"/><circle cx="123.5" cy="117.5" r="0.7" fill="#6cc23a"/><ellipse cx="147" cy="193.2" rx="2.6" ry="1.9" fill="#5dcfc8"/>
<text x="48.0" y="41.8" font-size="6.3" text-anchor="middle" fill="#222" color="#222" >SCT</text>
<text x="99.3" y="55.8" font-size="6.3" text-anchor="middle" fill="#222" color="#222" >VCT</text>
<text x="132.6" y="58.9" font-size="6.3" text-anchor="middle" fill="#222" color="#222" >EVT</text>
<text x="68.7" y="146.0" font-size="6.3" text-anchor="middle" fill="#222" color="#222" >M3</text>
<text x="129.0" y="133.6" font-size="6.3" text-anchor="middle" fill="#222" color="#222" >F1</text>
<text x="152.6" y="112.0" font-size="6.3" text-anchor="middle" fill="#222" color="#222" >F2</text>
<text x="107.8" y="190.5" font-size="6.3" text-anchor="middle" fill="#222" color="#222" >HB</text>
<path d="M22.2,195.5 L22.2,219.6 L45.9,219.6" fill="none" stroke="#505050" stroke-width="0.8"/>
<text x="22.7" y="229.8" font-size="8.7" text-anchor="start" fill="#222" color="#222" >umap1</text>
<text x="16.7" y="218.7" font-size="9.0" fill="#222" transform="rotate(-90 16.7 218.7)">umap2</text>
<circle cx="191.9" cy="63.2" r="3.8" fill="#4fd26c"/>
<text x="200.8" y="66.3" font-size="9.3" text-anchor="start" fill="#222" color="#222" >M3</text>
<circle cx="191.9" cy="76.3" r="3.8" fill="#6cc23a"/>
<text x="200.8" y="79.4" font-size="9.3" text-anchor="start" fill="#222" color="#222" >HB</text>
<circle cx="191.9" cy="90.0" r="3.8" fill="#5dcfc8"/>
<text x="200.8" y="93.1" font-size="9.3" text-anchor="start" fill="#222" color="#222" >F1</text>
<circle cx="191.9" cy="102.9" r="3.8" fill="#4fa9f1"/>
<text x="200.8" y="106.0" font-size="9.3" text-anchor="start" fill="#222" color="#222" >F2</text>
<circle cx="191.9" cy="116.1" r="3.8" fill="#ec7063"/>
<text x="200.8" y="119.2" font-size="9.3" text-anchor="start" fill="#222" color="#222" >SCT</text>
<circle cx="191.9" cy="130.0" r="3.8" fill="#e8668b"/>
<text x="200.8" y="133.1" font-size="9.3" text-anchor="start" fill="#222" color="#222" >VCT</text>
<circle cx="191.9" cy="143.8" r="3.8" fill="#c97bf2"/>
<text x="200.8" y="146.9" font-size="9.3" text-anchor="start" fill="#222" color="#222" >EVT</text>
<circle cx="313.8" cy="52.3" r="0.65" fill="#ec7063"/><circle cx="311.3" cy="75.8" r="0.65" fill="#ec7063"/><circle cx="312.5" cy="45.3" r="0.65" fill="#ec7063"/><circle cx="313.8" cy="29.9" r="0.65" fill="#ec7063"/><circle cx="312.3" cy="34.4" r="0.65" fill="#ec7063"/><circle cx="311.9" cy="29.7" r="0.65" fill="#ec7063"/><circle cx="315.1" cy="21.4" r="0.65" fill="#ec7063"/><circle cx="313.3" cy="22.0" r="0.65" fill="#ec7063"/><circle cx="312.9" cy="39.2" r="0.65" fill="#ec7063"/><circle cx="312.5" cy="36.7" r="0.65" fill="#ec7063"/><circle cx="313.6" cy="41.5" r="0.65" fill="#ec7063"/><circle cx="313.4" cy="43.1" r="0.65" fill="#ec7063"/><circle cx="312.8" cy="23.3" r="0.65" fill="#ec7063"/><circle cx="312.4" cy="58.4" r="0.65" fill="#ec7063"/><circle cx="312.8" cy="70.8" r="0.65" fill="#ec7063"/><circle cx="313.1" cy="39.9" r="0.65" fill="#ec7063"/><circle cx="312.4" cy="41.5" r="0.65" fill="#ec7063"/><circle cx="315.5" cy="17.4" r="0.65" fill="#ec7063"/><circle cx="313.4" cy="49.5" r="0.65" fill="#ec7063"/><circle cx="314.6" cy="18.1" r="0.65" fill="#ec7063"/><circle cx="315.2" cy="17.5" r="0.65" fill="#ec7063"/><circle cx="314.6" cy="26.2" r="0.65" fill="#ec7063"/><circle cx="314.4" cy="27.9" r="0.65" fill="#ec7063"/><circle cx="312.9" cy="25.9" r="0.65" fill="#ec7063"/><circle cx="313.2" cy="61.4" r="0.65" fill="#ec7063"/><circle cx="313.0" cy="56.7" r="0.65" fill="#ec7063"/><circle cx="312.0" cy="47.3" r="0.65" fill="#ec7063"/><circle cx="311.8" cy="35.8" r="0.65" fill="#ec7063"/><circle cx="312.4" cy="59.1" r="0.65" fill="#ec7063"/><circle cx="316.4" cy="17.6" r="0.65" fill="#ec7063"/><circle cx="315.3" cy="19.0" r="0.65" fill="#ec7063"/><circle cx="311.4" cy="74.7" r="0.65" fill="#ec7063"/><circle cx="313.6" cy="68.1" r="0.65" fill="#ec7063"/><circle cx="312.1" cy="60.0" r="0.65" fill="#ec7063"/><circle cx="311.9" cy="66.3" r="0.65" fill="#ec7063"/><circle cx="314.2" cy="25.4" r="0.65" fill="#ec7063"/><circle cx="312.1" cy="65.3" r="0.65" fill="#ec7063"/><circle cx="312.6" cy="71.4" r="0.65" fill="#ec7063"/><circle cx="313.4" cy="71.3" r="0.65" fill="#ec7063"/><circle cx="311.4" cy="75.3" r="0.65" fill="#ec7063"/><circle cx="314.0" cy="37.4" r="0.65" fill="#ec7063"/><circle cx="312.5" cy="50.3" r="0.65" fill="#ec7063"/><circle cx="314.0" cy="38.2" r="0.65" fill="#ec7063"/><circle cx="312.0" cy="33.7" r="0.65" fill="#ec7063"/><circle cx="312.9" cy="22.0" r="0.65" fill="#ec7063"/><circle cx="313.8" cy="32.1" r="0.65" fill="#ec7063"/><circle cx="312.4" cy="23.3" r="0.65" fill="#ec7063"/><circle cx="313.0" cy="72.0" r="0.65" fill="#ec7063"/><circle cx="313.5" cy="22.5" r="0.65" fill="#ec7063"/><circle cx="313.8" cy="71.1" r="0.65" fill="#ec7063"/><circle cx="312.0" cy="55.5" r="0.65" fill="#ec7063"/><circle cx="312.8" cy="44.8" r="0.65" fill="#ec7063"/><circle cx="313.4" cy="66.0" r="0.65" fill="#ec7063"/><circle cx="312.5" cy="33.4" r="0.65" fill="#ec7063"/><circle cx="312.9" cy="50.6" r="0.65" fill="#ec7063"/><circle cx="311.7" cy="37.2" r="0.65" fill="#ec7063"/><circle cx="312.4" cy="34.3" r="0.65" fill="#ec7063"/><circle cx="312.8" cy="71.5" r="0.65" fill="#ec7063"/><circle cx="315.3" cy="20.4" r="0.65" fill="#ec7063"/><circle cx="315.3" cy="21.2" r="0.65" fill="#ec7063"/><circle cx="313.9" cy="24.1" r="0.65" fill="#ec7063"/><circle cx="313.0" cy="39.4" r="0.65" fill="#ec7063"/><circle cx="312.4" cy="57.5" r="0.65" fill="#ec7063"/><circle cx="313.2" cy="58.8" r="0.65" fill="#ec7063"/><circle cx="312.7" cy="57.3" r="0.65" fill="#ec7063"/><circle cx="313.3" cy="24.5" r="0.65" fill="#ec7063"/><circle cx="312.4" cy="36.2" r="0.65" fill="#ec7063"/><circle cx="313.5" cy="61.8" r="0.65" fill="#ec7063"/><circle cx="313.0" cy="43.4" r="0.65" fill="#ec7063"/><circle cx="314.0" cy="35.0" r="0.65" fill="#ec7063"/><circle cx="313.4" cy="19.6" r="0.65" fill="#ec7063"/><circle cx="313.0" cy="62.1" r="0.65" fill="#ec7063"/><circle cx="313.5" cy="57.6" r="0.65" fill="#ec7063"/><circle cx="311.7" cy="60.2" r="0.65" fill="#ec7063"/><circle cx="312.8" cy="64.1" r="0.65" fill="#ec7063"/>
<circle cx="321.2" cy="27.6" r="0.65" fill="#ec7063"/><circle cx="321.6" cy="29.2" r="0.65" fill="#ec7063"/><circle cx="321.6" cy="59.9" r="0.65" fill="#ec7063"/><circle cx="321.1" cy="60.6" r="0.65" fill="#ec7063"/><circle cx="318.0" cy="20.8" r="0.65" fill="#ec7063"/><circle cx="321.2" cy="60.8" r="0.65" fill="#ec7063"/><circle cx="323.9" cy="79.4" r="0.65" fill="#ec7063"/><circle cx="325.5" cy="43.7" r="0.65" fill="#ec7063"/><circle cx="320.2" cy="26.5" r="0.65" fill="#ec7063"/><circle cx="320.7" cy="65.8" r="0.65" fill="#ec7063"/><circle cx="323.8" cy="48.2" r="0.65" fill="#ec7063"/><circle cx="323.5" cy="32.5" r="0.65" fill="#ec7063"/><circle cx="321.1" cy="27.5" r="0.65" fill="#ec7063"/><circle cx="320.7" cy="61.5" r="0.65" fill="#ec7063"/><circle cx="325.0" cy="34.0" r="0.65" fill="#ec7063"/><circle cx="324.2" cy="40.5" r="0.65" fill="#ec7063"/><circle cx="321.9" cy="52.7" r="0.65" fill="#ec7063"/><circle cx="324.3" cy="47.5" r="0.65" fill="#ec7063"/><circle cx="326.1" cy="80.8" r="0.65" fill="#ec7063"/><circle cx="323.0" cy="31.5" r="0.65" fill="#ec7063"/><circle cx="321.4" cy="61.6" r="0.65" fill="#ec7063"/><circle cx="321.7" cy="56.3" r="0.65" fill="#ec7063"/><circle cx="320.0" cy="64.3" r="0.65" fill="#ec7063"/><circle cx="322.8" cy="75.6" r="0.65" fill="#ec7063"/><circle cx="322.2" cy="49.8" r="0.65" fill="#ec7063"/><circle cx="323.4" cy="48.5" r="0.65" fill="#ec7063"/><circle cx="323.7" cy="78.6" r="0.65" fill="#ec7063"/><circle cx="323.9" cy="44.4" r="0.65" fill="#ec7063"/><circle cx="320.2" cy="59.3" r="0.65" fill="#ec7063"/><circle cx="321.2" cy="61.0" r="0.65" fill="#ec7063"/><circle cx="326.6" cy="85.7" r="0.65" fill="#ec7063"/><circle cx="323.2" cy="44.9" r="0.65" fill="#ec7063"/><circle cx="326.9" cy="83.3" r="0.65" fill="#ec7063"/><circle cx="318.3" cy="23.1" r="0.65" fill="#ec7063"/><circle cx="324.9" cy="79.3" r="0.65" fill="#ec7063"/><circle cx="323.4" cy="34.9" r="0.65" fill="#ec7063"/><circle cx="326.7" cy="83.1" r="0.65" fill="#ec7063"/><circle cx="323.3" cy="48.6" r="0.65" fill="#ec7063"/><circle cx="323.8" cy="32.3" r="0.65" fill="#ec7063"/><circle cx="321.4" cy="27.1" r="0.65" fill="#ec7063"/><circle cx="324.8" cy="32.8" r="0.65" fill="#ec7063"/><circle cx="325.5" cy="44.6" r="0.65" fill="#ec7063"/><circle cx="321.6" cy="25.2" r="0.65" fill="#ec7063"/><circle cx="324.7" cy="46.6" r="0.65" fill="#ec7063"/><circle cx="321.8" cy="68.5" r="0.65" fill="#ec7063"/><circle cx="324.7" cy="33.8" r="0.65" fill="#ec7063"/><circle cx="323.7" cy="38.0" r="0.65" fill="#ec7063"/><circle cx="323.2" cy="31.0" r="0.65" fill="#ec7063"/><circle cx="321.9" cy="74.4" r="0.65" fill="#ec7063"/><circle cx="322.6" cy="49.5" r="0.65" fill="#ec7063"/><circle cx="321.9" cy="62.5" r="0.65" fill="#ec7063"/><circle cx="320.7" cy="23.4" r="0.65" fill="#ec7063"/><circle cx="322.9" cy="72.9" r="0.65" fill="#ec7063"/><circle cx="322.2" cy="76.7" r="0.65" fill="#ec7063"/><circle cx="325.5" cy="81.9" r="0.65" fill="#ec7063"/><circle cx="317.3" cy="18.2" r="0.65" fill="#ec7063"/><circle cx="323.1" cy="32.3" r="0.65" fill="#ec7063"/><circle cx="320.0" cy="67.0" r="0.65" fill="#ec7063"/><circle cx="320.0" cy="67.2" r="0.65" fill="#ec7063"/><circle cx="321.3" cy="62.1" r="0.65" fill="#ec7063"/><circle cx="324.0" cy="76.0" r="0.65" fill="#ec7063"/><circle cx="321.7" cy="72.3" r="0.65" fill="#ec7063"/><circle cx="325.3" cy="77.9" r="0.65" fill="#ec7063"/><circle cx="321.6" cy="30.7" r="0.65" fill="#ec7063"/><circle cx="321.5" cy="27.0" r="0.65" fill="#ec7063"/><circle cx="321.4" cy="59.5" r="0.65" fill="#ec7063"/><circle cx="323.3" cy="79.6" r="0.65" fill="#ec7063"/><circle cx="325.9" cy="40.9" r="0.65" fill="#ec7063"/><circle cx="325.5" cy="81.5" r="0.65" fill="#ec7063"/><circle cx="324.9" cy="34.2" r="0.65" fill="#ec7063"/>
<circle cx="316.2" cy="67.1" r="0.65" fill="#ec7063"/><circle cx="315.5" cy="55.9" r="0.65" fill="#ec7063"/><circle cx="319.0" cy="34.2" r="0.65" fill="#ec7063"/><circle cx="318.3" cy="51.0" r="0.65" fill="#ec7063"/><circle cx="315.8" cy="41.3" r="0.65" fill="#ec7063"/><circle cx="317.7" cy="62.6" r="0.65" fill="#ec7063"/><circle cx="318.2" cy="28.5" r="0.65" fill="#ec7063"/><circle cx="318.2" cy="60.7" r="0.65" fill="#ec7063"/><circle cx="318.9" cy="34.6" r="0.65" fill="#ec7063"/><circle cx="317.1" cy="30.5" r="0.65" fill="#ec7063"/><circle cx="317.6" cy="32.9" r="0.65" fill="#ec7063"/><circle cx="315.6" cy="56.5" r="0.65" fill="#ec7063"/><circle cx="316.2" cy="42.8" r="0.65" fill="#ec7063"/><circle cx="315.6" cy="49.5" r="0.65" fill="#ec7063"/><circle cx="317.9" cy="35.7" r="0.65" fill="#ec7063"/><circle cx="315.1" cy="49.8" r="0.65" fill="#ec7063"/><circle cx="316.8" cy="51.6" r="0.65" fill="#ec7063"/><circle cx="318.2" cy="35.8" r="0.65" fill="#ec7063"/><circle cx="315.4" cy="34.3" r="0.65" fill="#ec7063"/><circle cx="314.6" cy="63.1" r="0.65" fill="#ec7063"/><circle cx="316.2" cy="47.7" r="0.65" fill="#ec7063"/><circle cx="317.5" cy="37.8" r="0.65" fill="#ec7063"/><circle cx="317.5" cy="31.3" r="0.65" fill="#ec7063"/><circle cx="319.0" cy="35.8" r="0.65" fill="#ec7063"/><circle cx="317.7" cy="64.6" r="0.65" fill="#ec7063"/>
<circle cx="317.2" cy="27.7" r="0.65" fill="#ec7063"/><circle cx="320.5" cy="35.0" r="0.65" fill="#ec7063"/><circle cx="314.4" cy="34.3" r="0.65" fill="#ec7063"/><circle cx="317.6" cy="35.7" r="0.65" fill="#ec7063"/><circle cx="318.5" cy="42.1" r="0.65" fill="#ec7063"/><circle cx="314.6" cy="28.1" r="0.65" fill="#ec7063"/><circle cx="313.7" cy="25.1" r="0.65" fill="#ec7063"/><circle cx="318.0" cy="44.7" r="0.65" fill="#ec7063"/><circle cx="320.7" cy="34.1" r="0.65" fill="#ec7063"/><circle cx="314.5" cy="25.2" r="0.65" fill="#ec7063"/><circle cx="317.3" cy="40.4" r="0.65" fill="#ec7063"/><circle cx="314.7" cy="24.1" r="0.65" fill="#ec7063"/><circle cx="315.9" cy="47.8" r="0.65" fill="#ec7063"/><circle cx="318.4" cy="38.6" r="0.65" fill="#ec7063"/><circle cx="319.8" cy="31.5" r="0.65" fill="#ec7063"/><circle cx="312.5" cy="21.7" r="0.65" fill="#ec7063"/><circle cx="318.1" cy="31.0" r="0.65" fill="#ec7063"/><circle cx="314.2" cy="33.8" r="0.65" fill="#ec7063"/><circle cx="317.1" cy="45.6" r="0.65" fill="#ec7063"/><circle cx="318.0" cy="41.9" r="0.65" fill="#ec7063"/><circle cx="315.9" cy="38.2" r="0.65" fill="#ec7063"/><circle cx="321.2" cy="38.4" r="0.65" fill="#ec7063"/><circle cx="316.9" cy="33.0" r="0.65" fill="#ec7063"/><circle cx="315.0" cy="38.9" r="0.65" fill="#ec7063"/><circle cx="318.8" cy="41.8" r="0.65" fill="#ec7063"/><circle cx="315.6" cy="33.5" r="0.65" fill="#ec7063"/><circle cx="319.1" cy="41.1" r="0.65" fill="#ec7063"/><circle cx="316.5" cy="31.1" r="0.65" fill="#ec7063"/><circle cx="316.4" cy="33.9" r="0.65" fill="#ec7063"/><circle cx="318.9" cy="43.9" r="0.65" fill="#ec7063"/><circle cx="319.9" cy="35.9" r="0.65" fill="#ec7063"/><circle cx="316.8" cy="42.8" r="0.65" fill="#ec7063"/><circle cx="319.0" cy="36.8" r="0.65" fill="#ec7063"/><circle cx="317.7" cy="22.2" r="0.65" fill="#ec7063"/><circle cx="315.0" cy="27.6" r="0.65" fill="#ec7063"/><circle cx="315.3" cy="36.3" r="0.65" fill="#ec7063"/><circle cx="320.0" cy="45.9" r="0.65" fill="#ec7063"/><circle cx="314.8" cy="24.5" r="0.65" fill="#ec7063"/><circle cx="315.1" cy="32.1" r="0.65" fill="#ec7063"/><circle cx="319.3" cy="32.2" r="0.65" fill="#ec7063"/><circle cx="316.7" cy="46.5" r="0.65" fill="#ec7063"/><circle cx="316.8" cy="42.4" r="0.65" fill="#ec7063"/><circle cx="315.8" cy="46.8" r="0.65" fill="#ec7063"/><circle cx="318.8" cy="21.3" r="0.65" fill="#ec7063"/><circle cx="314.0" cy="21.5" r="0.65" fill="#ec7063"/><circle cx="316.1" cy="34.0" r="0.65" fill="#ec7063"/><circle cx="318.2" cy="22.3" r="0.65" fill="#ec7063"/><circle cx="317.5" cy="44.7" r="0.65" fill="#ec7063"/><circle cx="318.9" cy="23.8" r="0.65" fill="#ec7063"/><circle cx="315.8" cy="42.5" r="0.65" fill="#ec7063"/>
<circle cx="379.6" cy="103.6" r="0.65" fill="#e8668b"/><circle cx="379.7" cy="99.4" r="0.65" fill="#e8668b"/><circle cx="376.6" cy="87.2" r="0.65" fill="#e8668b"/><circle cx="378.3" cy="89.2" r="0.65" fill="#e8668b"/><circle cx="375.4" cy="85.1" r="0.65" fill="#e8668b"/><circle cx="364.0" cy="78.6" r="0.65" fill="#e8668b"/><circle cx="380.5" cy="102.7" r="0.65" fill="#e8668b"/><circle cx="377.2" cy="92.8" r="0.65" fill="#e8668b"/><circle cx="374.5" cy="85.9" r="0.65" fill="#e8668b"/><circle cx="378.4" cy="93.6" r="0.65" fill="#e8668b"/><circle cx="373.8" cy="83.7" r="0.65" fill="#e8668b"/><circle cx="377.8" cy="106.0" r="0.65" fill="#e8668b"/><circle cx="378.7" cy="97.9" r="0.65" fill="#e8668b"/><circle cx="377.2" cy="102.9" r="0.65" fill="#e8668b"/><circle cx="380.2" cy="101.6" r="0.65" fill="#e8668b"/><circle cx="375.6" cy="84.8" r="0.65" fill="#e8668b"/><circle cx="374.0" cy="87.2" r="0.65" fill="#e8668b"/><circle cx="376.6" cy="87.7" r="0.65" fill="#e8668b"/><circle cx="369.5" cy="77.8" r="0.65" fill="#e8668b"/><circle cx="376.9" cy="99.8" r="0.65" fill="#e8668b"/><circle cx="381.0" cy="101.7" r="0.65" fill="#e8668b"/><circle cx="372.5" cy="79.9" r="0.65" fill="#e8668b"/><circle cx="376.6" cy="86.4" r="0.65" fill="#e8668b"/><circle cx="376.1" cy="87.7" r="0.65" fill="#e8668b"/><circle cx="377.3" cy="92.8" r="0.65" fill="#e8668b"/><circle cx="377.7" cy="87.4" r="0.65" fill="#e8668b"/><circle cx="379.5" cy="103.9" r="0.65" fill="#e8668b"/><circle cx="379.6" cy="101.2" r="0.65" fill="#e8668b"/><circle cx="365.6" cy="79.8" r="0.65" fill="#e8668b"/><circle cx="377.2" cy="87.3" r="0.65" fill="#e8668b"/><circle cx="377.6" cy="104.9" r="0.65" fill="#e8668b"/><circle cx="366.3" cy="79.9" r="0.65" fill="#e8668b"/><circle cx="368.0" cy="77.0" r="0.65" fill="#e8668b"/><circle cx="367.3" cy="79.8" r="0.65" fill="#e8668b"/><circle cx="376.9" cy="91.9" r="0.65" fill="#e8668b"/><circle cx="378.7" cy="95.0" r="0.65" fill="#e8668b"/><circle cx="365.6" cy="76.0" r="0.65" fill="#e8668b"/><circle cx="370.6" cy="80.7" r="0.65" fill="#e8668b"/><circle cx="366.1" cy="76.0" r="0.65" fill="#e8668b"/><circle cx="370.9" cy="78.1" r="0.65" fill="#e8668b"/><circle cx="365.4" cy="76.2" r="0.65" fill="#e8668b"/><circle cx="367.4" cy="77.6" r="0.65" fill="#e8668b"/><circle cx="378.2" cy="100.7" r="0.65" fill="#e8668b"/><circle cx="363.7" cy="75.4" r="0.65" fill="#e8668b"/><circle cx="373.6" cy="82.8" r="0.65" fill="#e8668b"/>
<circle cx="381.9" cy="108.9" r="0.65" fill="#e8668b"/><circle cx="385.1" cy="96.9" r="0.65" fill="#e8668b"/><circle cx="375.7" cy="77.8" r="0.65" fill="#e8668b"/><circle cx="386.5" cy="101.0" r="0.65" fill="#e8668b"/><circle cx="367.7" cy="75.9" r="0.65" fill="#e8668b"/><circle cx="365.3" cy="74.6" r="0.65" fill="#e8668b"/><circle cx="375.8" cy="77.5" r="0.65" fill="#e8668b"/><circle cx="384.0" cy="104.2" r="0.65" fill="#e8668b"/><circle cx="378.9" cy="79.2" r="0.65" fill="#e8668b"/><circle cx="382.1" cy="91.3" r="0.65" fill="#e8668b"/><circle cx="378.8" cy="80.4" r="0.65" fill="#e8668b"/><circle cx="382.4" cy="86.4" r="0.65" fill="#e8668b"/><circle cx="368.7" cy="74.4" r="0.65" fill="#e8668b"/><circle cx="364.4" cy="74.3" r="0.65" fill="#e8668b"/><circle cx="382.6" cy="101.0" r="0.65" fill="#e8668b"/><circle cx="372.7" cy="74.3" r="0.65" fill="#e8668b"/><circle cx="384.8" cy="107.7" r="0.65" fill="#e8668b"/><circle cx="384.5" cy="111.4" r="0.65" fill="#e8668b"/><circle cx="386.5" cy="102.9" r="0.65" fill="#e8668b"/><circle cx="381.7" cy="93.9" r="0.65" fill="#e8668b"/><circle cx="381.0" cy="87.6" r="0.65" fill="#e8668b"/><circle cx="381.9" cy="106.3" r="0.65" fill="#e8668b"/><circle cx="368.7" cy="74.2" r="0.65" fill="#e8668b"/><circle cx="361.0" cy="73.6" r="0.65" fill="#e8668b"/><circle cx="366.9" cy="72.3" r="0.65" fill="#e8668b"/><circle cx="384.7" cy="91.0" r="0.65" fill="#e8668b"/><circle cx="367.4" cy="71.6" r="0.65" fill="#e8668b"/><circle cx="385.4" cy="101.5" r="0.65" fill="#e8668b"/><circle cx="363.0" cy="74.4" r="0.65" fill="#e8668b"/><circle cx="383.1" cy="96.5" r="0.65" fill="#e8668b"/><circle cx="381.4" cy="87.4" r="0.65" fill="#e8668b"/><circle cx="384.6" cy="96.3" r="0.65" fill="#e8668b"/><circle cx="383.4" cy="103.2" r="0.65" fill="#e8668b"/><circle cx="382.5" cy="104.1" r="0.65" fill="#e8668b"/><circle cx="384.2" cy="103.0" r="0.65" fill="#e8668b"/><circle cx="380.0" cy="86.4" r="0.65" fill="#e8668b"/><circle cx="384.3" cy="88.2" r="0.65" fill="#e8668b"/><circle cx="385.6" cy="107.5" r="0.65" fill="#e8668b"/><circle cx="380.6" cy="84.0" r="0.65" fill="#e8668b"/><circle cx="364.0" cy="74.2" r="0.65" fill="#e8668b"/><circle cx="380.9" cy="90.1" r="0.65" fill="#e8668b"/><circle cx="383.5" cy="90.5" r="0.65" fill="#e8668b"/><circle cx="379.8" cy="89.0" r="0.65" fill="#e8668b"/><circle cx="381.3" cy="92.3" r="0.65" fill="#e8668b"/><circle cx="359.8" cy="75.3" r="0.65" fill="#e8668b"/><circle cx="370.7" cy="72.8" r="0.65" fill="#e8668b"/><circle cx="377.1" cy="75.7" r="0.65" fill="#e8668b"/><circle cx="363.7" cy="72.4" r="0.65" fill="#e8668b"/><circle cx="371.6" cy="73.4" r="0.65" fill="#e8668b"/><circle cx="386.2" cy="100.6" r="0.65" fill="#e8668b"/><circle cx="370.2" cy="72.2" r="0.65" fill="#e8668b"/><circle cx="382.0" cy="84.8" r="0.65" fill="#e8668b"/><circle cx="382.4" cy="86.1" r="0.65" fill="#e8668b"/><circle cx="369.6" cy="74.2" r="0.65" fill="#e8668b"/><circle cx="363.2" cy="75.6" r="0.65" fill="#e8668b"/><circle cx="382.3" cy="88.0" r="0.65" fill="#e8668b"/><circle cx="379.6" cy="88.2" r="0.65" fill="#e8668b"/><circle cx="381.1" cy="84.5" r="0.65" fill="#e8668b"/><circle cx="370.8" cy="73.9" r="0.65" fill="#e8668b"/><circle cx="383.5" cy="99.4" r="0.65" fill="#e8668b"/><circle cx="372.7" cy="76.9" r="0.65" fill="#e8668b"/><circle cx="366.2" cy="73.2" r="0.65" fill="#e8668b"/><circle cx="382.1" cy="99.6" r="0.65" fill="#e8668b"/><circle cx="382.0" cy="81.7" r="0.65" fill="#e8668b"/><circle cx="382.1" cy="87.9" r="0.65" fill="#e8668b"/><circle cx="360.5" cy="73.5" r="0.65" fill="#e8668b"/><circle cx="386.7" cy="105.1" r="0.65" fill="#e8668b"/><circle cx="368.9" cy="72.5" r="0.65" fill="#e8668b"/><circle cx="385.1" cy="100.6" r="0.65" fill="#e8668b"/><circle cx="382.5" cy="94.7" r="0.65" fill="#e8668b"/><circle cx="359.6" cy="74.1" r="0.65" fill="#e8668b"/><circle cx="365.4" cy="75.3" r="0.65" fill="#e8668b"/><circle cx="381.1" cy="84.2" r="0.65" fill="#e8668b"/><circle cx="382.7" cy="101.6" r="0.65" fill="#e8668b"/><circle cx="362.3" cy="71.9" r="0.65" fill="#e8668b"/><circle cx="376.4" cy="76.0" r="0.65" fill="#e8668b"/><circle cx="379.7" cy="81.8" r="0.65" fill="#e8668b"/><circle cx="382.6" cy="109.8" r="0.65" fill="#e8668b"/><circle cx="383.0" cy="109.3" r="0.65" fill="#e8668b"/><circle cx="371.6" cy="74.9" r="0.65" fill="#e8668b"/><circle cx="367.6" cy="74.4" r="0.65" fill="#e8668b"/><circle cx="366.6" cy="76.0" r="0.65" fill="#e8668b"/><circle cx="373.9" cy="77.7" r="0.65" fill="#e8668b"/><circle cx="371.1" cy="73.1" r="0.65" fill="#e8668b"/><circle cx="372.1" cy="76.2" r="0.65" fill="#e8668b"/><circle cx="383.1" cy="102.4" r="0.65" fill="#e8668b"/><circle cx="383.7" cy="88.2" r="0.65" fill="#e8668b"/><circle cx="372.2" cy="72.4" r="0.65" fill="#e8668b"/><circle cx="385.7" cy="108.3" r="0.65" fill="#e8668b"/><circle cx="386.0" cy="95.8" r="0.65" fill="#e8668b"/><circle cx="373.9" cy="76.0" r="0.65" fill="#e8668b"/><circle cx="369.2" cy="72.1" r="0.65" fill="#e8668b"/><circle cx="385.5" cy="106.3" r="0.65" fill="#e8668b"/><circle cx="359.5" cy="75.4" r="0.65" fill="#e8668b"/><circle cx="382.9" cy="110.9" r="0.65" fill="#e8668b"/><circle cx="360.8" cy="73.8" r="0.65" fill="#e8668b"/><circle cx="383.8" cy="90.3" r="0.65" fill="#e8668b"/><circle cx="377.8" cy="81.4" r="0.65" fill="#e8668b"/><circle cx="381.5" cy="93.4" r="0.65" fill="#e8668b"/><circle cx="383.6" cy="108.9" r="0.65" fill="#e8668b"/><circle cx="385.0" cy="111.0" r="0.65" fill="#e8668b"/><circle cx="380.2" cy="86.1" r="0.65" fill="#e8668b"/><circle cx="384.2" cy="107.8" r="0.65" fill="#e8668b"/><circle cx="377.7" cy="82.7" r="0.65" fill="#e8668b"/><circle cx="382.1" cy="82.7" r="0.65" fill="#e8668b"/><circle cx="380.7" cy="81.9" r="0.65" fill="#e8668b"/><circle cx="381.6" cy="93.3" r="0.65" fill="#e8668b"/><circle cx="361.4" cy="73.2" r="0.65" fill="#e8668b"/><circle cx="383.0" cy="105.8" r="0.65" fill="#e8668b"/><circle cx="384.7" cy="99.9" r="0.65" fill="#e8668b"/><circle cx="382.0" cy="108.7" r="0.65" fill="#e8668b"/><circle cx="384.0" cy="101.8" r="0.65" fill="#e8668b"/><circle cx="384.7" cy="91.9" r="0.65" fill="#e8668b"/><circle cx="360.5" cy="71.9" r="0.65" fill="#e8668b"/><circle cx="361.9" cy="74.0" r="0.65" fill="#e8668b"/><circle cx="383.4" cy="108.5" r="0.65" fill="#e8668b"/><circle cx="382.9" cy="100.2" r="0.65" fill="#e8668b"/><circle cx="384.8" cy="108.9" r="0.65" fill="#e8668b"/><circle cx="378.7" cy="85.5" r="0.65" fill="#e8668b"/><circle cx="375.7" cy="77.8" r="0.65" fill="#e8668b"/><circle cx="380.2" cy="79.8" r="0.65" fill="#e8668b"/><circle cx="370.1" cy="73.7" r="0.65" fill="#e8668b"/><circle cx="360.9" cy="76.0" r="0.65" fill="#e8668b"/><circle cx="378.3" cy="77.3" r="0.65" fill="#e8668b"/><circle cx="386.5" cy="100.7" r="0.65" fill="#e8668b"/><circle cx="384.3" cy="98.7" r="0.65" fill="#e8668b"/><circle cx="363.9" cy="73.3" r="0.65" fill="#e8668b"/><circle cx="385.3" cy="111.4" r="0.65" fill="#e8668b"/><circle cx="375.0" cy="74.3" r="0.65" fill="#e8668b"/><circle cx="383.7" cy="89.1" r="0.65" fill="#e8668b"/><circle cx="385.0" cy="103.4" r="0.65" fill="#e8668b"/><circle cx="385.5" cy="109.4" r="0.65" fill="#e8668b"/><circle cx="371.8" cy="72.3" r="0.65" fill="#e8668b"/><circle cx="361.1" cy="72.6" r="0.65" fill="#e8668b"/><circle cx="382.1" cy="89.5" r="0.65" fill="#e8668b"/><circle cx="385.0" cy="96.6" r="0.65" fill="#e8668b"/><circle cx="380.3" cy="90.8" r="0.65" fill="#e8668b"/><circle cx="376.5" cy="75.6" r="0.65" fill="#e8668b"/><circle cx="368.7" cy="76.4" r="0.65" fill="#e8668b"/><circle cx="382.9" cy="92.0" r="0.65" fill="#e8668b"/><circle cx="382.5" cy="84.0" r="0.65" fill="#e8668b"/><circle cx="371.0" cy="75.5" r="0.65" fill="#e8668b"/><circle cx="372.6" cy="74.8" r="0.65" fill="#e8668b"/><circle cx="385.8" cy="106.9" r="0.65" fill="#e8668b"/><circle cx="379.0" cy="83.9" r="0.65" fill="#e8668b"/><circle cx="382.4" cy="98.1" r="0.65" fill="#e8668b"/><circle cx="383.9" cy="106.7" r="0.65" fill="#e8668b"/><circle cx="371.2" cy="74.6" r="0.65" fill="#e8668b"/><circle cx="385.4" cy="108.0" r="0.65" fill="#e8668b"/><circle cx="375.4" cy="74.7" r="0.65" fill="#e8668b"/>
<circle cx="370.2" cy="112.2" r="0.65" fill="#e8668b"/><circle cx="367.9" cy="109.1" r="0.65" fill="#e8668b"/><circle cx="364.1" cy="90.9" r="0.65" fill="#e8668b"/><circle cx="366.2" cy="91.1" r="0.65" fill="#e8668b"/><circle cx="364.6" cy="92.2" r="0.65" fill="#e8668b"/><circle cx="362.5" cy="84.6" r="0.65" fill="#e8668b"/><circle cx="366.4" cy="91.7" r="0.65" fill="#e8668b"/><circle cx="366.6" cy="94.9" r="0.65" fill="#e8668b"/><circle cx="365.4" cy="96.5" r="0.65" fill="#e8668b"/><circle cx="370.8" cy="113.8" r="0.65" fill="#e8668b"/><circle cx="369.9" cy="116.6" r="0.65" fill="#e8668b"/><circle cx="369.1" cy="115.5" r="0.65" fill="#e8668b"/><circle cx="367.9" cy="98.5" r="0.65" fill="#e8668b"/><circle cx="368.4" cy="114.4" r="0.65" fill="#e8668b"/><circle cx="369.3" cy="102.2" r="0.65" fill="#e8668b"/><circle cx="368.7" cy="110.2" r="0.65" fill="#e8668b"/><circle cx="368.2" cy="112.5" r="0.65" fill="#e8668b"/><circle cx="369.4" cy="116.1" r="0.65" fill="#e8668b"/><circle cx="365.8" cy="93.6" r="0.65" fill="#e8668b"/><circle cx="366.2" cy="98.1" r="0.65" fill="#e8668b"/><circle cx="367.1" cy="102.7" r="0.65" fill="#e8668b"/><circle cx="366.8" cy="98.4" r="0.65" fill="#e8668b"/><circle cx="369.2" cy="115.7" r="0.65" fill="#e8668b"/><circle cx="369.4" cy="114.4" r="0.65" fill="#e8668b"/><circle cx="362.9" cy="83.5" r="0.65" fill="#e8668b"/><circle cx="365.4" cy="89.6" r="0.65" fill="#e8668b"/><circle cx="363.9" cy="83.3" r="0.65" fill="#e8668b"/><circle cx="365.9" cy="97.2" r="0.65" fill="#e8668b"/><circle cx="368.2" cy="112.0" r="0.65" fill="#e8668b"/><circle cx="369.2" cy="100.4" r="0.65" fill="#e8668b"/><circle cx="364.9" cy="85.6" r="0.65" fill="#e8668b"/><circle cx="370.3" cy="111.8" r="0.65" fill="#e8668b"/><circle cx="369.0" cy="106.2" r="0.65" fill="#e8668b"/><circle cx="366.6" cy="101.2" r="0.65" fill="#e8668b"/><circle cx="369.7" cy="103.4" r="0.65" fill="#e8668b"/><circle cx="368.6" cy="102.8" r="0.65" fill="#e8668b"/><circle cx="370.9" cy="116.0" r="0.65" fill="#e8668b"/><circle cx="362.8" cy="88.4" r="0.65" fill="#e8668b"/><circle cx="367.4" cy="94.1" r="0.65" fill="#e8668b"/><circle cx="368.0" cy="109.3" r="0.65" fill="#e8668b"/><circle cx="367.9" cy="97.1" r="0.65" fill="#e8668b"/><circle cx="370.2" cy="111.7" r="0.65" fill="#e8668b"/><circle cx="365.6" cy="87.7" r="0.65" fill="#e8668b"/><circle cx="370.6" cy="112.3" r="0.65" fill="#e8668b"/><circle cx="363.0" cy="83.3" r="0.65" fill="#e8668b"/>
<circle cx="420.2" cy="98.2" r="0.65" fill="#c97bf2"/><circle cx="414.9" cy="55.0" r="0.65" fill="#c97bf2"/><circle cx="422.8" cy="105.6" r="0.65" fill="#c97bf2"/><circle cx="420.6" cy="104.7" r="0.65" fill="#c97bf2"/><circle cx="418.4" cy="63.1" r="0.65" fill="#c97bf2"/><circle cx="421.0" cy="74.7" r="0.65" fill="#c97bf2"/><circle cx="420.6" cy="94.4" r="0.65" fill="#c97bf2"/><circle cx="422.2" cy="100.6" r="0.65" fill="#c97bf2"/><circle cx="422.1" cy="82.8" r="0.65" fill="#c97bf2"/><circle cx="420.6" cy="68.7" r="0.65" fill="#c97bf2"/><circle cx="418.4" cy="55.3" r="0.65" fill="#c97bf2"/><circle cx="422.5" cy="105.2" r="0.65" fill="#c97bf2"/><circle cx="422.4" cy="79.4" r="0.65" fill="#c97bf2"/><circle cx="422.7" cy="99.9" r="0.65" fill="#c97bf2"/><circle cx="419.0" cy="62.6" r="0.65" fill="#c97bf2"/><circle cx="420.8" cy="80.0" r="0.65" fill="#c97bf2"/><circle cx="421.1" cy="91.3" r="0.65" fill="#c97bf2"/><circle cx="422.0" cy="78.8" r="0.65" fill="#c97bf2"/><circle cx="420.0" cy="59.6" r="0.65" fill="#c97bf2"/><circle cx="420.9" cy="66.6" r="0.65" fill="#c97bf2"/><circle cx="422.2" cy="110.6" r="0.65" fill="#c97bf2"/><circle cx="419.6" cy="58.9" r="0.65" fill="#c97bf2"/><circle cx="418.0" cy="59.5" r="0.65" fill="#c97bf2"/><circle cx="419.5" cy="114.2" r="0.65" fill="#c97bf2"/><circle cx="420.2" cy="114.4" r="0.65" fill="#c97bf2"/><circle cx="421.3" cy="80.7" r="0.65" fill="#c97bf2"/><circle cx="422.0" cy="94.2" r="0.65" fill="#c97bf2"/><circle cx="421.3" cy="85.5" r="0.65" fill="#c97bf2"/><circle cx="420.2" cy="95.4" r="0.65" fill="#c97bf2"/><circle cx="422.3" cy="94.6" r="0.65" fill="#c97bf2"/><circle cx="420.3" cy="90.3" r="0.65" fill="#c97bf2"/><circle cx="422.3" cy="86.5" r="0.65" fill="#c97bf2"/><circle cx="418.2" cy="56.8" r="0.65" fill="#c97bf2"/><circle cx="421.4" cy="98.6" r="0.65" fill="#c97bf2"/><circle cx="421.3" cy="99.4" r="0.65" fill="#c97bf2"/><circle cx="422.4" cy="105.8" r="0.65" fill="#c97bf2"/><circle cx="420.8" cy="106.4" r="0.65" fill="#c97bf2"/><circle cx="419.4" cy="57.8" r="0.65" fill="#c97bf2"/><circle cx="419.9" cy="70.1" r="0.65" fill="#c97bf2"/><circle cx="422.5" cy="93.2" r="0.65" fill="#c97bf2"/><circle cx="422.1" cy="99.8" r="0.65" fill="#c97bf2"/><circle cx="422.2" cy="108.5" r="0.65" fill="#c97bf2"/><circle cx="418.9" cy="57.1" r="0.65" fill="#c97bf2"/><circle cx="421.2" cy="81.3" r="0.65" fill="#c97bf2"/><circle cx="422.2" cy="86.4" r="0.65" fill="#c97bf2"/><circle cx="422.0" cy="68.4" r="0.65" fill="#c97bf2"/><circle cx="419.8" cy="116.7" r="0.65" fill="#c97bf2"/><circle cx="421.7" cy="69.3" r="0.65" fill="#c97bf2"/><circle cx="422.5" cy="90.9" r="0.65" fill="#c97bf2"/><circle cx="419.0" cy="61.0" r="0.65" fill="#c97bf2"/><circle cx="420.4" cy="85.8" r="0.65" fill="#c97bf2"/><circle cx="422.0" cy="107.5" r="0.65" fill="#c97bf2"/><circle cx="420.6" cy="101.7" r="0.65" fill="#c97bf2"/><circle cx="421.4" cy="106.0" r="0.65" fill="#c97bf2"/><circle cx="422.9" cy="101.8" r="0.65" fill="#c97bf2"/><circle cx="419.6" cy="63.1" r="0.65" fill="#c97bf2"/><circle cx="420.7" cy="87.6" r="0.65" fill="#c97bf2"/><circle cx="422.3" cy="78.2" r="0.65" fill="#c97bf2"/><circle cx="421.7" cy="71.7" r="0.65" fill="#c97bf2"/><circle cx="422.0" cy="95.1" r="0.65" fill="#c97bf2"/><circle cx="421.4" cy="101.5" r="0.65" fill="#c97bf2"/><circle cx="420.6" cy="76.5" r="0.65" fill="#c97bf2"/><circle cx="421.9" cy="110.4" r="0.65" fill="#c97bf2"/><circle cx="416.5" cy="54.6" r="0.65" fill="#c97bf2"/><circle cx="419.6" cy="69.9" r="0.65" fill="#c97bf2"/><circle cx="421.3" cy="82.3" r="0.65" fill="#c97bf2"/><circle cx="422.7" cy="107.1" r="0.65" fill="#c97bf2"/><circle cx="422.2" cy="108.6" r="0.65" fill="#c97bf2"/><circle cx="420.1" cy="102.6" r="0.65" fill="#c97bf2"/><circle cx="422.0" cy="106.8" r="0.65" fill="#c97bf2"/><circle cx="420.0" cy="115.4" r="0.65" fill="#c97bf2"/><circle cx="421.2" cy="70.2" r="0.65" fill="#c97bf2"/><circle cx="417.7" cy="56.2" r="0.65" fill="#c97bf2"/><circle cx="420.8" cy="80.2" r="0.65" fill="#c97bf2"/><circle cx="421.6" cy="110.0" r="0.65" fill="#c97bf2"/><circle cx="415.8" cy="54.1" r="0.65" fill="#c97bf2"/><circle cx="417.9" cy="56.3" r="0.65" fill="#c97bf2"/><circle cx="421.2" cy="86.8" r="0.65" fill="#c97bf2"/><circle cx="422.5" cy="94.7" r="0.65" fill="#c97bf2"/><circle cx="421.8" cy="74.4" r="0.65" fill="#c97bf2"/><circle cx="421.2" cy="64.6" r="0.65" fill="#c97bf2"/><circle cx="419.0" cy="65.3" r="0.65" fill="#c97bf2"/><circle cx="419.6" cy="116.0" r="0.65" fill="#c97bf2"/><circle cx="423.0" cy="102.6" r="0.65" fill="#c97bf2"/><circle cx="420.2" cy="73.1" r="0.65" fill="#c97bf2"/><circle cx="422.4" cy="111.8" r="0.65" fill="#c97bf2"/><circle cx="418.3" cy="116.6" r="0.65" fill="#c97bf2"/><circle cx="418.5" cy="56.4" r="0.65" fill="#c97bf2"/><circle cx="421.5" cy="111.9" r="0.65" fill="#c97bf2"/><circle cx="419.3" cy="61.4" r="0.65" fill="#c97bf2"/><circle cx="420.3" cy="92.4" r="0.65" fill="#c97bf2"/><circle cx="420.1" cy="65.2" r="0.65" fill="#c97bf2"/><circle cx="418.5" cy="63.5" r="0.65" fill="#c97bf2"/><circle cx="419.8" cy="111.1" r="0.65" fill="#c97bf2"/><circle cx="420.0" cy="59.2" r="0.65" fill="#c97bf2"/>
<circle cx="414.7" cy="71.5" r="0.65" fill="#c97bf2"/><circle cx="413.8" cy="116.1" r="0.65" fill="#c97bf2"/><circle cx="416.1" cy="86.4" r="0.65" fill="#c97bf2"/><circle cx="412.9" cy="64.8" r="0.65" fill="#c97bf2"/><circle cx="411.3" cy="103.0" r="0.65" fill="#c97bf2"/><circle cx="413.0" cy="92.9" r="0.65" fill="#c97bf2"/><circle cx="413.1" cy="111.9" r="0.65" fill="#c97bf2"/><circle cx="416.2" cy="75.7" r="0.65" fill="#c97bf2"/><circle cx="412.5" cy="92.4" r="0.65" fill="#c97bf2"/><circle cx="411.9" cy="101.9" r="0.65" fill="#c97bf2"/><circle cx="416.8" cy="79.4" r="0.65" fill="#c97bf2"/><circle cx="414.5" cy="66.1" r="0.65" fill="#c97bf2"/><circle cx="415.2" cy="65.6" r="0.65" fill="#c97bf2"/><circle cx="415.2" cy="71.3" r="0.65" fill="#c97bf2"/><circle cx="412.2" cy="109.0" r="0.65" fill="#c97bf2"/><circle cx="413.4" cy="94.4" r="0.65" fill="#c97bf2"/><circle cx="415.8" cy="74.3" r="0.65" fill="#c97bf2"/><circle cx="409.7" cy="104.5" r="0.65" fill="#c97bf2"/><circle cx="409.8" cy="101.2" r="0.65" fill="#c97bf2"/><circle cx="411.6" cy="101.4" r="0.65" fill="#c97bf2"/><circle cx="414.7" cy="70.7" r="0.65" fill="#c97bf2"/><circle cx="412.4" cy="93.7" r="0.65" fill="#c97bf2"/><circle cx="411.7" cy="112.5" r="0.65" fill="#c97bf2"/><circle cx="413.9" cy="116.3" r="0.65" fill="#c97bf2"/><circle cx="410.9" cy="98.2" r="0.65" fill="#c97bf2"/><circle cx="414.6" cy="87.3" r="0.65" fill="#c97bf2"/><circle cx="411.6" cy="110.4" r="0.65" fill="#c97bf2"/><circle cx="415.8" cy="77.6" r="0.65" fill="#c97bf2"/><circle cx="413.0" cy="94.2" r="0.65" fill="#c97bf2"/><circle cx="415.8" cy="87.2" r="0.65" fill="#c97bf2"/><circle cx="410.3" cy="101.7" r="0.65" fill="#c97bf2"/><circle cx="412.0" cy="114.4" r="0.65" fill="#c97bf2"/><circle cx="413.9" cy="56.8" r="0.65" fill="#c97bf2"/><circle cx="410.6" cy="102.1" r="0.65" fill="#c97bf2"/><circle cx="413.7" cy="94.8" r="0.65" fill="#c97bf2"/><circle cx="414.4" cy="80.3" r="0.65" fill="#c97bf2"/><circle cx="410.9" cy="97.4" r="0.65" fill="#c97bf2"/><circle cx="411.7" cy="113.3" r="0.65" fill="#c97bf2"/><circle cx="410.2" cy="109.9" r="0.65" fill="#c97bf2"/><circle cx="411.1" cy="112.2" r="0.65" fill="#c97bf2"/><circle cx="415.8" cy="82.1" r="0.65" fill="#c97bf2"/><circle cx="414.7" cy="84.1" r="0.65" fill="#c97bf2"/><circle cx="413.9" cy="116.5" r="0.65" fill="#c97bf2"/><circle cx="416.8" cy="83.0" r="0.65" fill="#c97bf2"/><circle cx="415.6" cy="64.2" r="0.65" fill="#c97bf2"/><circle cx="415.9" cy="65.3" r="0.65" fill="#c97bf2"/><circle cx="416.1" cy="81.1" r="0.65" fill="#c97bf2"/><circle cx="414.6" cy="114.2" r="0.65" fill="#c97bf2"/><circle cx="412.9" cy="61.9" r="0.65" fill="#c97bf2"/><circle cx="412.9" cy="113.0" r="0.65" fill="#c97bf2"/><circle cx="415.3" cy="90.1" r="0.65" fill="#c97bf2"/><circle cx="416.2" cy="81.0" r="0.65" fill="#c97bf2"/><circle cx="412.7" cy="62.6" r="0.65" fill="#c97bf2"/><circle cx="410.4" cy="110.0" r="0.65" fill="#c97bf2"/><circle cx="414.0" cy="65.4" r="0.65" fill="#c97bf2"/><circle cx="413.2" cy="59.9" r="0.65" fill="#c97bf2"/><circle cx="413.6" cy="60.4" r="0.65" fill="#c97bf2"/><circle cx="413.1" cy="66.1" r="0.65" fill="#c97bf2"/><circle cx="412.9" cy="112.4" r="0.65" fill="#c97bf2"/><circle cx="412.1" cy="113.3" r="0.65" fill="#c97bf2"/><circle cx="413.5" cy="67.3" r="0.65" fill="#c97bf2"/><circle cx="412.4" cy="110.2" r="0.65" fill="#c97bf2"/><circle cx="412.6" cy="97.8" r="0.65" fill="#c97bf2"/><circle cx="413.8" cy="57.7" r="0.65" fill="#c97bf2"/><circle cx="413.4" cy="64.6" r="0.65" fill="#c97bf2"/><circle cx="412.2" cy="99.8" r="0.65" fill="#c97bf2"/><circle cx="416.8" cy="81.4" r="0.65" fill="#c97bf2"/><circle cx="415.2" cy="78.5" r="0.65" fill="#c97bf2"/><circle cx="409.8" cy="107.8" r="0.65" fill="#c97bf2"/><circle cx="413.1" cy="94.8" r="0.65" fill="#c97bf2"/><circle cx="411.5" cy="110.5" r="0.65" fill="#c97bf2"/><circle cx="411.4" cy="106.3" r="0.65" fill="#c97bf2"/><circle cx="412.9" cy="110.8" r="0.65" fill="#c97bf2"/><circle cx="416.3" cy="80.9" r="0.65" fill="#c97bf2"/><circle cx="415.1" cy="79.7" r="0.65" fill="#c97bf2"/><circle cx="414.5" cy="113.2" r="0.65" fill="#c97bf2"/><circle cx="414.6" cy="92.7" r="0.65" fill="#c97bf2"/><circle cx="410.3" cy="107.1" r="0.65" fill="#c97bf2"/><circle cx="412.9" cy="116.3" r="0.65" fill="#c97bf2"/><circle cx="413.1" cy="96.5" r="0.65" fill="#c97bf2"/>
<circle cx="410.2" cy="102.9" r="0.65" fill="#c97bf2"/><circle cx="417.4" cy="111.4" r="0.65" fill="#c97bf2"/><circle cx="414.6" cy="102.0" r="0.65" fill="#c97bf2"/><circle cx="412.2" cy="99.7" r="0.65" fill="#c97bf2"/><circle cx="410.9" cy="103.9" r="0.65" fill="#c97bf2"/><circle cx="413.6" cy="100.9" r="0.65" fill="#c97bf2"/><circle cx="414.1" cy="111.0" r="0.65" fill="#c97bf2"/><circle cx="412.0" cy="100.5" r="0.65" fill="#c97bf2"/><circle cx="416.7" cy="113.1" r="0.65" fill="#c97bf2"/><circle cx="416.6" cy="108.2" r="0.65" fill="#c97bf2"/><circle cx="419.5" cy="105.8" r="0.65" fill="#c97bf2"/><circle cx="416.0" cy="108.0" r="0.65" fill="#c97bf2"/><circle cx="415.9" cy="104.6" r="0.65" fill="#c97bf2"/><circle cx="415.0" cy="107.6" r="0.65" fill="#c97bf2"/><circle cx="418.0" cy="112.8" r="0.65" fill="#c97bf2"/><circle cx="417.6" cy="109.3" r="0.65" fill="#c97bf2"/><circle cx="413.5" cy="111.8" r="0.65" fill="#c97bf2"/><circle cx="414.0" cy="107.4" r="0.65" fill="#c97bf2"/><circle cx="418.9" cy="112.1" r="0.65" fill="#c97bf2"/><circle cx="412.9" cy="106.7" r="0.65" fill="#c97bf2"/><circle cx="413.0" cy="102.5" r="0.65" fill="#c97bf2"/><circle cx="418.1" cy="106.8" r="0.65" fill="#c97bf2"/><circle cx="419.1" cy="110.4" r="0.65" fill="#c97bf2"/><circle cx="416.8" cy="107.3" r="0.65" fill="#c97bf2"/><circle cx="409.1" cy="101.6" r="0.65" fill="#c97bf2"/><circle cx="415.3" cy="109.0" r="0.65" fill="#c97bf2"/><circle cx="412.1" cy="102.4" r="0.65" fill="#c97bf2"/><circle cx="410.8" cy="102.8" r="0.65" fill="#c97bf2"/><circle cx="415.6" cy="108.9" r="0.65" fill="#c97bf2"/><circle cx="412.7" cy="100.6" r="0.65" fill="#c97bf2"/><circle cx="409.0" cy="102.7" r="0.65" fill="#c97bf2"/><circle cx="419.1" cy="106.1" r="0.65" fill="#c97bf2"/><circle cx="417.9" cy="109.1" r="0.65" fill="#c97bf2"/><circle cx="413.5" cy="105.9" r="0.65" fill="#c97bf2"/><circle cx="417.7" cy="108.9" r="0.65" fill="#c97bf2"/><circle cx="413.9" cy="103.0" r="0.65" fill="#c97bf2"/><circle cx="415.9" cy="103.3" r="0.65" fill="#c97bf2"/><circle cx="411.8" cy="102.3" r="0.65" fill="#c97bf2"/><circle cx="415.7" cy="112.4" r="0.65" fill="#c97bf2"/><circle cx="416.8" cy="102.8" r="0.65" fill="#c97bf2"/><circle cx="417.5" cy="112.2" r="0.65" fill="#c97bf2"/><circle cx="412.6" cy="104.4" r="0.65" fill="#c97bf2"/><circle cx="418.9" cy="112.0" r="0.65" fill="#c97bf2"/><circle cx="412.0" cy="99.6" r="0.65" fill="#c97bf2"/><circle cx="416.0" cy="112.9" r="0.65" fill="#c97bf2"/><circle cx="410.6" cy="101.8" r="0.65" fill="#c97bf2"/><circle cx="417.6" cy="104.2" r="0.65" fill="#c97bf2"/><circle cx="411.3" cy="100.2" r="0.65" fill="#c97bf2"/><circle cx="416.6" cy="112.7" r="0.65" fill="#c97bf2"/><circle cx="416.7" cy="113.1" r="0.65" fill="#c97bf2"/><circle cx="415.5" cy="102.1" r="0.65" fill="#c97bf2"/><circle cx="418.6" cy="105.7" r="0.65" fill="#c97bf2"/><circle cx="415.6" cy="111.9" r="0.65" fill="#c97bf2"/><circle cx="409.7" cy="100.8" r="0.65" fill="#c97bf2"/><circle cx="414.9" cy="106.3" r="0.65" fill="#c97bf2"/><circle cx="418.8" cy="105.5" r="0.65" fill="#c97bf2"/><circle cx="415.1" cy="106.2" r="0.65" fill="#c97bf2"/><circle cx="409.4" cy="102.6" r="0.65" fill="#c97bf2"/><circle cx="419.5" cy="109.2" r="0.65" fill="#c97bf2"/><circle cx="411.3" cy="100.5" r="0.65" fill="#c97bf2"/>
<circle cx="312.2" cy="146.7" r="0.65" fill="#e8493a"/><circle cx="309.6" cy="159.6" r="0.65" fill="#e8493a"/><circle cx="309.7" cy="171.1" r="0.65" fill="#e8493a"/><circle cx="309.7" cy="195.3" r="0.65" fill="#e8493a"/><circle cx="310.4" cy="177.0" r="0.65" fill="#e8493a"/><circle cx="310.0" cy="155.5" r="0.65" fill="#e8493a"/><circle cx="310.9" cy="160.7" r="0.65" fill="#e8493a"/><circle cx="310.0" cy="153.4" r="0.65" fill="#e8493a"/><circle cx="312.2" cy="144.3" r="0.65" fill="#e8493a"/><circle cx="310.5" cy="181.8" r="0.65" fill="#e8493a"/><circle cx="309.4" cy="189.0" r="0.65" fill="#e8493a"/><circle cx="311.3" cy="160.4" r="0.65" fill="#e8493a"/><circle cx="309.4" cy="175.1" r="0.65" fill="#7095d8"/><circle cx="310.9" cy="153.8" r="0.65" fill="#e8493a"/><circle cx="309.1" cy="168.0" r="0.65" fill="#e8493a"/><circle cx="309.4" cy="167.7" r="0.65" fill="#7095d8"/><circle cx="311.0" cy="173.3" r="0.65" fill="#e8493a"/><circle cx="309.7" cy="161.9" r="0.65" fill="#e8493a"/><circle cx="310.4" cy="154.1" r="0.65" fill="#e8493a"/><circle cx="310.1" cy="172.3" r="0.65" fill="#e8493a"/><circle cx="311.7" cy="174.4" r="0.65" fill="#e8493a"/><circle cx="309.9" cy="195.8" r="0.65" fill="#e8493a"/><circle cx="311.0" cy="200.9" r="0.65" fill="#e8493a"/><circle cx="311.6" cy="172.3" r="0.65" fill="#e8493a"/><circle cx="310.5" cy="172.5" r="0.65" fill="#7095d8"/><circle cx="309.5" cy="164.1" r="0.65" fill="#e8493a"/><circle cx="308.6" cy="200.1" r="0.65" fill="#e8493a"/><circle cx="311.1" cy="192.4" r="0.65" fill="#e8493a"/><circle cx="310.1" cy="196.6" r="0.65" fill="#e8493a"/><circle cx="311.6" cy="142.5" r="0.65" fill="#7095d8"/><circle cx="310.2" cy="201.4" r="0.65" fill="#e8493a"/><circle cx="311.4" cy="184.4" r="0.65" fill="#e8493a"/><circle cx="311.6" cy="151.8" r="0.65" fill="#e8493a"/><circle cx="309.2" cy="156.8" r="0.65" fill="#e8493a"/><circle cx="310.0" cy="179.1" r="0.65" fill="#e8493a"/><circle cx="311.0" cy="201.0" r="0.65" fill="#7095d8"/><circle cx="310.1" cy="175.0" r="0.65" fill="#e8493a"/><circle cx="311.1" cy="166.1" r="0.65" fill="#e8493a"/><circle cx="310.8" cy="181.6" r="0.65" fill="#e8493a"/><circle cx="311.5" cy="184.8" r="0.65" fill="#e8493a"/><circle cx="309.9" cy="194.2" r="0.65" fill="#e8493a"/><circle cx="310.3" cy="174.7" r="0.65" fill="#e8493a"/><circle cx="309.2" cy="171.6" r="0.65" fill="#e8493a"/><circle cx="309.4" cy="196.7" r="0.65" fill="#e8493a"/><circle cx="312.1" cy="148.9" r="0.65" fill="#7095d8"/><circle cx="310.2" cy="183.1" r="0.65" fill="#e8493a"/><circle cx="311.2" cy="148.6" r="0.65" fill="#e8493a"/><circle cx="311.4" cy="160.4" r="0.65" fill="#e8493a"/><circle cx="309.6" cy="176.1" r="0.65" fill="#e8493a"/><circle cx="310.6" cy="160.7" r="0.65" fill="#e8493a"/><circle cx="311.6" cy="167.3" r="0.65" fill="#e8493a"/><circle cx="309.4" cy="158.5" r="0.65" fill="#e8493a"/><circle cx="309.6" cy="184.6" r="0.65" fill="#e8493a"/><circle cx="310.8" cy="168.9" r="0.65" fill="#e8493a"/><circle cx="310.8" cy="164.3" r="0.65" fill="#e8493a"/><circle cx="311.7" cy="145.9" r="0.65" fill="#e8493a"/><circle cx="312.3" cy="146.3" r="0.65" fill="#e8493a"/><circle cx="310.2" cy="173.0" r="0.65" fill="#7095d8"/><circle cx="310.6" cy="151.6" r="0.65" fill="#e8493a"/><circle cx="310.5" cy="157.2" r="0.65" fill="#e8493a"/><circle cx="311.1" cy="149.2" r="0.65" fill="#7095d8"/><circle cx="308.8" cy="198.1" r="0.65" fill="#e8493a"/><circle cx="309.7" cy="183.3" r="0.65" fill="#e8493a"/><circle cx="310.0" cy="156.9" r="0.65" fill="#e8493a"/><circle cx="310.3" cy="198.4" r="0.65" fill="#7095d8"/><circle cx="310.5" cy="185.2" r="0.65" fill="#e8493a"/><circle cx="309.3" cy="197.5" r="0.65" fill="#e8493a"/><circle cx="310.7" cy="149.4" r="0.65" fill="#e8493a"/><circle cx="311.0" cy="179.8" r="0.65" fill="#e8493a"/><circle cx="310.5" cy="185.7" r="0.65" fill="#e8493a"/><circle cx="309.1" cy="183.5" r="0.65" fill="#e8493a"/><circle cx="309.2" cy="200.7" r="0.65" fill="#e8493a"/><circle cx="311.1" cy="152.4" r="0.65" fill="#e8493a"/><circle cx="310.6" cy="178.0" r="0.65" fill="#7095d8"/><circle cx="310.1" cy="174.5" r="0.65" fill="#e8493a"/>
<circle cx="319.1" cy="196.8" r="0.65" fill="#7095d8"/><circle cx="319.9" cy="156.6" r="0.65" fill="#7095d8"/><circle cx="320.5" cy="172.6" r="0.65" fill="#e8493a"/><circle cx="320.3" cy="180.1" r="0.65" fill="#7095d8"/><circle cx="317.7" cy="185.7" r="0.65" fill="#7095d8"/><circle cx="322.1" cy="203.9" r="0.65" fill="#e8493a"/><circle cx="320.3" cy="175.4" r="0.65" fill="#7095d8"/><circle cx="315.9" cy="145.6" r="0.65" fill="#e8493a"/><circle cx="319.8" cy="175.6" r="0.65" fill="#e8493a"/><circle cx="314.6" cy="147.0" r="0.65" fill="#7095d8"/><circle cx="320.9" cy="196.9" r="0.65" fill="#e8493a"/><circle cx="318.7" cy="155.5" r="0.65" fill="#e8493a"/><circle cx="319.0" cy="151.4" r="0.65" fill="#7095d8"/><circle cx="319.1" cy="157.0" r="0.65" fill="#e8493a"/><circle cx="319.4" cy="188.6" r="0.65" fill="#e8493a"/><circle cx="320.2" cy="204.3" r="0.65" fill="#e8493a"/><circle cx="323.6" cy="167.0" r="0.65" fill="#e8493a"/><circle cx="322.0" cy="169.7" r="0.65" fill="#7095d8"/><circle cx="323.3" cy="167.1" r="0.65" fill="#7095d8"/><circle cx="322.8" cy="167.1" r="0.65" fill="#7095d8"/><circle cx="320.1" cy="184.1" r="0.65" fill="#7095d8"/><circle cx="324.2" cy="210.9" r="0.65" fill="#7095d8"/><circle cx="316.6" cy="150.7" r="0.65" fill="#e8493a"/><circle cx="321.0" cy="203.9" r="0.65" fill="#7095d8"/><circle cx="321.4" cy="163.9" r="0.65" fill="#7095d8"/><circle cx="319.2" cy="151.5" r="0.65" fill="#7095d8"/><circle cx="319.7" cy="151.6" r="0.65" fill="#e8493a"/><circle cx="321.9" cy="167.1" r="0.65" fill="#7095d8"/><circle cx="320.0" cy="185.3" r="0.65" fill="#e8493a"/><circle cx="319.8" cy="182.5" r="0.65" fill="#e8493a"/><circle cx="315.8" cy="147.7" r="0.65" fill="#7095d8"/><circle cx="321.5" cy="178.1" r="0.65" fill="#e8493a"/><circle cx="317.6" cy="190.8" r="0.65" fill="#e8493a"/><circle cx="322.1" cy="176.1" r="0.65" fill="#7095d8"/><circle cx="319.4" cy="196.2" r="0.65" fill="#7095d8"/><circle cx="320.6" cy="159.0" r="0.65" fill="#7095d8"/><circle cx="319.9" cy="185.3" r="0.65" fill="#7095d8"/><circle cx="319.4" cy="186.4" r="0.65" fill="#7095d8"/><circle cx="314.8" cy="144.7" r="0.65" fill="#7095d8"/><circle cx="318.5" cy="188.4" r="0.65" fill="#7095d8"/><circle cx="318.4" cy="191.7" r="0.65" fill="#7095d8"/><circle cx="321.6" cy="204.4" r="0.65" fill="#e8493a"/><circle cx="323.1" cy="169.0" r="0.65" fill="#e8493a"/><circle cx="318.6" cy="185.1" r="0.65" fill="#7095d8"/><circle cx="321.5" cy="174.4" r="0.65" fill="#7095d8"/><circle cx="320.0" cy="160.3" r="0.65" fill="#7095d8"/><circle cx="321.8" cy="163.7" r="0.65" fill="#7095d8"/><circle cx="323.0" cy="209.9" r="0.65" fill="#7095d8"/><circle cx="320.6" cy="199.7" r="0.65" fill="#7095d8"/><circle cx="322.2" cy="175.7" r="0.65" fill="#7095d8"/><circle cx="318.2" cy="181.2" r="0.65" fill="#e8493a"/><circle cx="323.5" cy="211.7" r="0.65" fill="#e8493a"/><circle cx="319.8" cy="158.6" r="0.65" fill="#7095d8"/><circle cx="319.5" cy="187.5" r="0.65" fill="#e8493a"/><circle cx="319.3" cy="156.8" r="0.65" fill="#7095d8"/><circle cx="318.0" cy="192.4" r="0.65" fill="#7095d8"/><circle cx="322.5" cy="162.7" r="0.65" fill="#7095d8"/><circle cx="317.4" cy="153.2" r="0.65" fill="#7095d8"/><circle cx="315.2" cy="144.7" r="0.65" fill="#7095d8"/><circle cx="322.7" cy="171.4" r="0.65" fill="#e8493a"/><circle cx="315.5" cy="146.8" r="0.65" fill="#7095d8"/><circle cx="319.5" cy="190.7" r="0.65" fill="#e8493a"/><circle cx="319.4" cy="181.7" r="0.65" fill="#7095d8"/><circle cx="320.7" cy="160.9" r="0.65" fill="#7095d8"/><circle cx="321.1" cy="171.6" r="0.65" fill="#e8493a"/><circle cx="322.3" cy="207.8" r="0.65" fill="#e8493a"/><circle cx="320.8" cy="202.9" r="0.65" fill="#7095d8"/><circle cx="317.6" cy="193.2" r="0.65" fill="#7095d8"/><circle cx="321.6" cy="167.0" r="0.65" fill="#7095d8"/><circle cx="319.0" cy="179.4" r="0.65" fill="#7095d8"/>
<circle cx="313.2" cy="154.6" r="0.65" fill="#7095d8"/><circle cx="313.6" cy="159.8" r="0.65" fill="#7095d8"/><circle cx="313.2" cy="186.2" r="0.65" fill="#7095d8"/><circle cx="314.4" cy="183.9" r="0.65" fill="#e8493a"/><circle cx="315.1" cy="189.3" r="0.65" fill="#7095d8"/><circle cx="314.0" cy="193.2" r="0.65" fill="#e8493a"/><circle cx="316.0" cy="167.1" r="0.65" fill="#7095d8"/><circle cx="316.5" cy="163.4" r="0.65" fill="#7095d8"/><circle cx="316.1" cy="161.7" r="0.65" fill="#e8493a"/><circle cx="314.2" cy="186.7" r="0.65" fill="#7095d8"/><circle cx="313.0" cy="171.2" r="0.65" fill="#e8493a"/><circle cx="312.8" cy="177.8" r="0.65" fill="#e8493a"/><circle cx="315.3" cy="169.3" r="0.65" fill="#e8493a"/><circle cx="314.6" cy="191.3" r="0.65" fill="#7095d8"/><circle cx="313.3" cy="152.5" r="0.65" fill="#e8493a"/><circle cx="315.5" cy="184.6" r="0.65" fill="#e8493a"/><circle cx="315.7" cy="161.9" r="0.65" fill="#7095d8"/><circle cx="316.3" cy="172.4" r="0.65" fill="#e8493a"/><circle cx="313.9" cy="168.6" r="0.65" fill="#7095d8"/><circle cx="313.3" cy="171.2" r="0.65" fill="#7095d8"/><circle cx="311.5" cy="191.4" r="0.65" fill="#7095d8"/><circle cx="312.6" cy="193.0" r="0.65" fill="#7095d8"/><circle cx="314.7" cy="175.7" r="0.65" fill="#7095d8"/><circle cx="313.2" cy="166.9" r="0.65" fill="#7095d8"/><circle cx="313.0" cy="151.6" r="0.65" fill="#7095d8"/>
<circle cx="378.0" cy="207.7" r="0.65" fill="#7095d8"/><circle cx="364.2" cy="202.6" r="0.65" fill="#7095d8"/><circle cx="383.1" cy="223.7" r="0.65" fill="#7095d8"/><circle cx="360.5" cy="200.6" r="0.65" fill="#7095d8"/><circle cx="379.6" cy="239.0" r="0.65" fill="#7095d8"/><circle cx="365.2" cy="201.3" r="0.65" fill="#7095d8"/><circle cx="370.1" cy="201.8" r="0.65" fill="#7095d8"/><circle cx="376.5" cy="207.3" r="0.65" fill="#7095d8"/><circle cx="384.0" cy="231.4" r="0.65" fill="#7095d8"/><circle cx="384.0" cy="225.4" r="0.65" fill="#7095d8"/><circle cx="380.1" cy="217.1" r="0.65" fill="#7095d8"/><circle cx="382.3" cy="235.1" r="0.65" fill="#7095d8"/><circle cx="383.1" cy="238.2" r="0.65" fill="#7095d8"/><circle cx="380.5" cy="236.0" r="0.65" fill="#7095d8"/><circle cx="384.0" cy="232.4" r="0.65" fill="#7095d8"/><circle cx="376.5" cy="214.8" r="0.65" fill="#7095d8"/><circle cx="374.9" cy="209.3" r="0.65" fill="#7095d8"/><circle cx="375.6" cy="209.7" r="0.65" fill="#7095d8"/><circle cx="383.6" cy="228.6" r="0.65" fill="#7095d8"/><circle cx="381.6" cy="237.3" r="0.65" fill="#7095d8"/><circle cx="379.4" cy="224.7" r="0.65" fill="#7095d8"/><circle cx="380.9" cy="219.7" r="0.65" fill="#7095d8"/><circle cx="381.5" cy="226.1" r="0.65" fill="#7095d8"/><circle cx="373.9" cy="208.2" r="0.65" fill="#7095d8"/><circle cx="382.3" cy="226.1" r="0.65" fill="#7095d8"/><circle cx="374.4" cy="208.2" r="0.65" fill="#7095d8"/><circle cx="366.8" cy="202.3" r="0.65" fill="#7095d8"/><circle cx="365.7" cy="204.0" r="0.65" fill="#7095d8"/><circle cx="366.0" cy="202.1" r="0.65" fill="#7095d8"/><circle cx="363.0" cy="202.6" r="0.65" fill="#7095d8"/><circle cx="371.6" cy="205.7" r="0.65" fill="#7095d8"/><circle cx="380.0" cy="236.1" r="0.65" fill="#7095d8"/><circle cx="367.7" cy="205.2" r="0.65" fill="#7095d8"/><circle cx="381.4" cy="229.9" r="0.65" fill="#7095d8"/><circle cx="375.1" cy="209.1" r="0.65" fill="#7095d8"/><circle cx="380.8" cy="233.5" r="0.65" fill="#7095d8"/><circle cx="370.1" cy="204.6" r="0.65" fill="#7095d8"/><circle cx="382.5" cy="234.7" r="0.65" fill="#7095d8"/><circle cx="358.1" cy="205.2" r="0.65" fill="#7095d8"/><circle cx="381.5" cy="226.7" r="0.65" fill="#7095d8"/><circle cx="376.4" cy="211.5" r="0.65" fill="#7095d8"/><circle cx="374.4" cy="207.3" r="0.65" fill="#7095d8"/><circle cx="381.1" cy="222.5" r="0.65" fill="#7095d8"/><circle cx="366.2" cy="202.4" r="0.65" fill="#7095d8"/><circle cx="366.4" cy="203.9" r="0.65" fill="#7095d8"/><circle cx="379.4" cy="212.4" r="0.65" fill="#7095d8"/><circle cx="365.9" cy="202.1" r="0.65" fill="#7095d8"/><circle cx="379.6" cy="210.4" r="0.65" fill="#7095d8"/><circle cx="380.5" cy="213.4" r="0.65" fill="#7095d8"/><circle cx="374.2" cy="209.0" r="0.65" fill="#7095d8"/><circle cx="382.0" cy="219.2" r="0.65" fill="#7095d8"/><circle cx="361.1" cy="204.9" r="0.65" fill="#7095d8"/><circle cx="375.1" cy="210.1" r="0.65" fill="#7095d8"/><circle cx="374.1" cy="207.7" r="0.65" fill="#7095d8"/><circle cx="373.6" cy="203.5" r="0.65" fill="#7095d8"/><circle cx="376.3" cy="212.7" r="0.65" fill="#7095d8"/><circle cx="380.3" cy="239.9" r="0.65" fill="#7095d8"/><circle cx="383.1" cy="225.8" r="0.65" fill="#7095d8"/><circle cx="359.9" cy="203.1" r="0.65" fill="#7095d8"/><circle cx="381.0" cy="222.5" r="0.65" fill="#7095d8"/><circle cx="382.8" cy="230.1" r="0.65" fill="#7095d8"/><circle cx="382.9" cy="235.5" r="0.65" fill="#7095d8"/><circle cx="379.0" cy="213.8" r="0.65" fill="#7095d8"/><circle cx="380.3" cy="216.1" r="0.65" fill="#7095d8"/><circle cx="381.7" cy="235.5" r="0.65" fill="#7095d8"/><circle cx="362.7" cy="203.1" r="0.65" fill="#7095d8"/><circle cx="367.5" cy="203.9" r="0.65" fill="#7095d8"/><circle cx="381.3" cy="220.4" r="0.65" fill="#7095d8"/><circle cx="381.9" cy="234.3" r="0.65" fill="#7095d8"/><circle cx="384.1" cy="236.7" r="0.65" fill="#7095d8"/><circle cx="374.4" cy="209.4" r="0.65" fill="#7095d8"/><circle cx="370.0" cy="204.4" r="0.65" fill="#7095d8"/><circle cx="381.4" cy="239.0" r="0.65" fill="#7095d8"/><circle cx="381.9" cy="216.5" r="0.65" fill="#7095d8"/><circle cx="383.3" cy="227.8" r="0.65" fill="#7095d8"/><circle cx="376.4" cy="205.8" r="0.65" fill="#7095d8"/><circle cx="370.5" cy="203.2" r="0.65" fill="#7095d8"/><circle cx="381.7" cy="239.4" r="0.65" fill="#7095d8"/><circle cx="382.9" cy="227.4" r="0.65" fill="#7095d8"/><circle cx="383.7" cy="224.9" r="0.65" fill="#7095d8"/><circle cx="365.0" cy="201.7" r="0.65" fill="#7095d8"/><circle cx="368.3" cy="201.3" r="0.65" fill="#7095d8"/><circle cx="378.1" cy="213.5" r="0.65" fill="#7095d8"/><circle cx="380.8" cy="226.1" r="0.65" fill="#7095d8"/><circle cx="379.5" cy="238.9" r="0.65" fill="#7095d8"/><circle cx="382.7" cy="223.4" r="0.65" fill="#e8493a"/><circle cx="373.6" cy="207.4" r="0.65" fill="#7095d8"/><circle cx="380.0" cy="237.0" r="0.65" fill="#7095d8"/><circle cx="380.5" cy="214.2" r="0.65" fill="#7095d8"/><circle cx="357.8" cy="204.5" r="0.65" fill="#7095d8"/><circle cx="377.7" cy="215.6" r="0.65" fill="#7095d8"/><circle cx="376.3" cy="211.4" r="0.65" fill="#7095d8"/><circle cx="381.8" cy="236.0" r="0.65" fill="#7095d8"/><circle cx="381.5" cy="234.9" r="0.65" fill="#7095d8"/><circle cx="378.7" cy="215.5" r="0.65" fill="#7095d8"/><circle cx="376.1" cy="210.5" r="0.65" fill="#7095d8"/><circle cx="364.4" cy="204.4" r="0.65" fill="#7095d8"/><circle cx="363.7" cy="204.1" r="0.65" fill="#7095d8"/><circle cx="366.5" cy="203.4" r="0.65" fill="#e8493a"/><circle cx="381.8" cy="225.0" r="0.65" fill="#7095d8"/><circle cx="379.8" cy="226.5" r="0.65" fill="#7095d8"/><circle cx="367.8" cy="204.5" r="0.65" fill="#7095d8"/><circle cx="375.7" cy="207.7" r="0.65" fill="#7095d8"/><circle cx="369.8" cy="204.5" r="0.65" fill="#7095d8"/><circle cx="365.8" cy="202.0" r="0.65" fill="#7095d8"/><circle cx="382.0" cy="226.1" r="0.65" fill="#7095d8"/><circle cx="382.9" cy="230.1" r="0.65" fill="#7095d8"/><circle cx="358.5" cy="203.9" r="0.65" fill="#7095d8"/><circle cx="374.9" cy="205.5" r="0.65" fill="#7095d8"/><circle cx="381.5" cy="227.8" r="0.65" fill="#7095d8"/><circle cx="381.8" cy="218.8" r="0.65" fill="#7095d8"/><circle cx="380.2" cy="230.9" r="0.65" fill="#7095d8"/><circle cx="379.5" cy="212.7" r="0.65" fill="#7095d8"/><circle cx="380.6" cy="229.0" r="0.65" fill="#e8493a"/><circle cx="376.5" cy="211.3" r="0.65" fill="#7095d8"/><circle cx="378.1" cy="216.2" r="0.65" fill="#7095d8"/><circle cx="382.5" cy="221.2" r="0.65" fill="#7095d8"/><circle cx="371.7" cy="205.2" r="0.65" fill="#7095d8"/><circle cx="381.6" cy="227.9" r="0.65" fill="#7095d8"/><circle cx="371.3" cy="204.9" r="0.65" fill="#7095d8"/><circle cx="380.9" cy="235.0" r="0.65" fill="#7095d8"/><circle cx="358.5" cy="203.6" r="0.65" fill="#7095d8"/><circle cx="378.2" cy="211.8" r="0.65" fill="#7095d8"/><circle cx="379.4" cy="222.2" r="0.65" fill="#7095d8"/><circle cx="365.4" cy="202.0" r="0.65" fill="#7095d8"/><circle cx="381.6" cy="240.0" r="0.65" fill="#7095d8"/><circle cx="367.2" cy="201.2" r="0.65" fill="#7095d8"/><circle cx="380.8" cy="216.0" r="0.65" fill="#7095d8"/><circle cx="376.2" cy="209.5" r="0.65" fill="#7095d8"/><circle cx="382.7" cy="221.9" r="0.65" fill="#7095d8"/><circle cx="371.1" cy="204.4" r="0.65" fill="#7095d8"/><circle cx="379.6" cy="219.8" r="0.65" fill="#7095d8"/><circle cx="381.3" cy="222.2" r="0.65" fill="#7095d8"/><circle cx="365.7" cy="202.1" r="0.65" fill="#7095d8"/><circle cx="380.8" cy="225.0" r="0.65" fill="#7095d8"/><circle cx="382.8" cy="219.0" r="0.65" fill="#7095d8"/><circle cx="378.4" cy="216.6" r="0.65" fill="#7095d8"/><circle cx="364.7" cy="200.6" r="0.65" fill="#7095d8"/><circle cx="365.4" cy="202.7" r="0.65" fill="#7095d8"/><circle cx="368.3" cy="202.1" r="0.65" fill="#7095d8"/><circle cx="380.8" cy="218.4" r="0.65" fill="#7095d8"/><circle cx="371.3" cy="205.6" r="0.65" fill="#7095d8"/><circle cx="376.4" cy="206.4" r="0.65" fill="#7095d8"/><circle cx="359.1" cy="203.0" r="0.65" fill="#7095d8"/><circle cx="380.0" cy="232.5" r="0.65" fill="#7095d8"/><circle cx="381.0" cy="234.9" r="0.65" fill="#7095d8"/><circle cx="375.9" cy="206.3" r="0.65" fill="#7095d8"/><circle cx="357.5" cy="200.8" r="0.65" fill="#7095d8"/><circle cx="380.4" cy="215.9" r="0.65" fill="#7095d8"/><circle cx="376.6" cy="205.5" r="0.65" fill="#7095d8"/>
<circle cx="376.6" cy="218.5" r="0.65" fill="#7095d8"/><circle cx="369.9" cy="210.7" r="0.65" fill="#7095d8"/><circle cx="371.1" cy="213.0" r="0.65" fill="#7095d8"/><circle cx="372.2" cy="210.6" r="0.65" fill="#7095d8"/><circle cx="374.6" cy="216.4" r="0.65" fill="#e8493a"/><circle cx="365.6" cy="207.5" r="0.65" fill="#7095d8"/><circle cx="374.6" cy="222.6" r="0.65" fill="#7095d8"/><circle cx="365.2" cy="207.9" r="0.65" fill="#7095d8"/><circle cx="376.8" cy="219.9" r="0.65" fill="#7095d8"/><circle cx="377.9" cy="226.0" r="0.65" fill="#7095d8"/><circle cx="375.5" cy="223.8" r="0.65" fill="#7095d8"/><circle cx="361.2" cy="206.0" r="0.65" fill="#7095d8"/><circle cx="376.7" cy="223.1" r="0.65" fill="#7095d8"/><circle cx="372.5" cy="211.2" r="0.65" fill="#7095d8"/><circle cx="365.1" cy="208.3" r="0.65" fill="#7095d8"/><circle cx="374.0" cy="220.0" r="0.65" fill="#7095d8"/><circle cx="369.3" cy="210.8" r="0.65" fill="#7095d8"/><circle cx="366.6" cy="209.8" r="0.65" fill="#7095d8"/><circle cx="373.1" cy="213.5" r="0.65" fill="#7095d8"/><circle cx="373.1" cy="217.2" r="0.65" fill="#7095d8"/><circle cx="361.9" cy="207.7" r="0.65" fill="#7095d8"/><circle cx="367.2" cy="207.1" r="0.65" fill="#7095d8"/><circle cx="371.7" cy="215.9" r="0.65" fill="#7095d8"/><circle cx="368.2" cy="207.0" r="0.65" fill="#7095d8"/><circle cx="364.6" cy="206.9" r="0.65" fill="#7095d8"/><circle cx="366.9" cy="207.3" r="0.65" fill="#7095d8"/><circle cx="378.1" cy="231.1" r="0.65" fill="#7095d8"/><circle cx="367.9" cy="210.5" r="0.65" fill="#7095d8"/><circle cx="374.3" cy="223.8" r="0.65" fill="#7095d8"/><circle cx="374.5" cy="216.9" r="0.65" fill="#7095d8"/><circle cx="379.0" cy="233.5" r="0.65" fill="#7095d8"/><circle cx="369.0" cy="209.2" r="0.65" fill="#7095d8"/><circle cx="363.9" cy="205.9" r="0.65" fill="#7095d8"/><circle cx="376.0" cy="219.7" r="0.65" fill="#7095d8"/><circle cx="377.6" cy="225.0" r="0.65" fill="#7095d8"/><circle cx="373.0" cy="219.2" r="0.65" fill="#e8493a"/><circle cx="365.2" cy="205.1" r="0.65" fill="#7095d8"/><circle cx="374.6" cy="214.6" r="0.65" fill="#7095d8"/><circle cx="373.1" cy="215.7" r="0.65" fill="#7095d8"/><circle cx="376.0" cy="218.9" r="0.65" fill="#7095d8"/><circle cx="376.2" cy="221.8" r="0.65" fill="#7095d8"/><circle cx="377.5" cy="225.8" r="0.65" fill="#7095d8"/><circle cx="374.0" cy="219.1" r="0.65" fill="#7095d8"/><circle cx="375.8" cy="216.6" r="0.65" fill="#7095d8"/><circle cx="369.9" cy="210.2" r="0.65" fill="#7095d8"/>
<circle cx="313.4" cy="156.4" r="0.65" fill="#7095d8"/><circle cx="317.0" cy="156.6" r="0.65" fill="#e8493a"/><circle cx="317.6" cy="153.3" r="0.65" fill="#e8493a"/><circle cx="315.2" cy="160.6" r="0.65" fill="#7095d8"/><circle cx="316.5" cy="148.5" r="0.65" fill="#e8493a"/><circle cx="317.3" cy="156.8" r="0.65" fill="#7095d8"/><circle cx="311.8" cy="162.2" r="0.65" fill="#e8493a"/><circle cx="317.0" cy="172.3" r="0.65" fill="#7095d8"/><circle cx="317.1" cy="169.1" r="0.65" fill="#e8493a"/><circle cx="311.9" cy="146.0" r="0.65" fill="#e8493a"/><circle cx="318.8" cy="163.2" r="0.65" fill="#e8493a"/><circle cx="317.0" cy="166.2" r="0.65" fill="#7095d8"/><circle cx="317.7" cy="164.3" r="0.65" fill="#7095d8"/><circle cx="315.3" cy="167.3" r="0.65" fill="#7095d8"/><circle cx="313.8" cy="170.9" r="0.65" fill="#7095d8"/><circle cx="315.1" cy="165.2" r="0.65" fill="#7095d8"/><circle cx="315.8" cy="160.3" r="0.65" fill="#e8493a"/><circle cx="313.1" cy="165.5" r="0.65" fill="#e8493a"/><circle cx="312.7" cy="148.3" r="0.65" fill="#7095d8"/><circle cx="311.4" cy="149.3" r="0.65" fill="#e8493a"/><circle cx="314.4" cy="173.3" r="0.65" fill="#7095d8"/><circle cx="314.4" cy="162.6" r="0.65" fill="#7095d8"/><circle cx="313.9" cy="171.3" r="0.65" fill="#e8493a"/><circle cx="313.8" cy="157.7" r="0.65" fill="#7095d8"/><circle cx="316.6" cy="160.4" r="0.65" fill="#7095d8"/><circle cx="316.9" cy="149.2" r="0.65" fill="#7095d8"/><circle cx="316.1" cy="149.6" r="0.65" fill="#e8493a"/><circle cx="315.9" cy="163.7" r="0.65" fill="#7095d8"/><circle cx="319.0" cy="168.9" r="0.65" fill="#e8493a"/><circle cx="313.9" cy="165.8" r="0.65" fill="#7095d8"/><circle cx="311.3" cy="146.3" r="0.65" fill="#7095d8"/><circle cx="317.1" cy="172.2" r="0.65" fill="#e8493a"/><circle cx="313.2" cy="162.1" r="0.65" fill="#e8493a"/><circle cx="318.3" cy="169.8" r="0.65" fill="#7095d8"/><circle cx="312.8" cy="166.5" r="0.65" fill="#7095d8"/><circle cx="311.1" cy="148.9" r="0.65" fill="#e8493a"/><circle cx="313.1" cy="163.0" r="0.65" fill="#e8493a"/><circle cx="316.1" cy="172.7" r="0.65" fill="#7095d8"/><circle cx="316.8" cy="172.2" r="0.65" fill="#7095d8"/><circle cx="315.2" cy="157.1" r="0.65" fill="#7095d8"/><circle cx="316.6" cy="147.0" r="0.65" fill="#e8493a"/><circle cx="313.7" cy="164.2" r="0.65" fill="#7095d8"/><circle cx="315.7" cy="163.9" r="0.65" fill="#7095d8"/><circle cx="314.4" cy="150.4" r="0.65" fill="#e8493a"/><circle cx="312.6" cy="164.7" r="0.65" fill="#7095d8"/><circle cx="311.9" cy="159.7" r="0.65" fill="#e8493a"/><circle cx="312.6" cy="163.2" r="0.65" fill="#7095d8"/><circle cx="313.7" cy="152.8" r="0.65" fill="#7095d8"/><circle cx="319.3" cy="172.6" r="0.65" fill="#e8493a"/><circle cx="317.2" cy="155.3" r="0.65" fill="#7095d8"/>
<circle cx="363.6" cy="224.2" r="0.65" fill="#7095d8"/><circle cx="363.9" cy="226.6" r="0.65" fill="#7095d8"/><circle cx="368.1" cy="244.9" r="0.65" fill="#7095d8"/><circle cx="367.8" cy="235.5" r="0.65" fill="#7095d8"/><circle cx="367.4" cy="233.3" r="0.65" fill="#7095d8"/><circle cx="361.7" cy="220.2" r="0.65" fill="#e8493a"/><circle cx="362.4" cy="219.0" r="0.65" fill="#7095d8"/><circle cx="364.4" cy="219.9" r="0.65" fill="#7095d8"/><circle cx="368.2" cy="239.8" r="0.65" fill="#7095d8"/><circle cx="364.6" cy="227.9" r="0.65" fill="#7095d8"/><circle cx="365.7" cy="227.8" r="0.65" fill="#7095d8"/><circle cx="365.2" cy="234.9" r="0.65" fill="#7095d8"/><circle cx="364.1" cy="218.7" r="0.65" fill="#7095d8"/><circle cx="361.1" cy="215.6" r="0.65" fill="#7095d8"/><circle cx="364.2" cy="226.7" r="0.65" fill="#7095d8"/><circle cx="363.7" cy="221.1" r="0.65" fill="#7095d8"/><circle cx="366.3" cy="226.9" r="0.65" fill="#7095d8"/><circle cx="361.3" cy="216.9" r="0.65" fill="#7095d8"/><circle cx="360.1" cy="211.0" r="0.65" fill="#7095d8"/><circle cx="366.9" cy="239.6" r="0.65" fill="#7095d8"/><circle cx="363.4" cy="226.3" r="0.65" fill="#7095d8"/><circle cx="362.9" cy="217.1" r="0.65" fill="#7095d8"/><circle cx="364.7" cy="222.8" r="0.65" fill="#7095d8"/><circle cx="368.8" cy="240.2" r="0.65" fill="#7095d8"/><circle cx="362.9" cy="215.9" r="0.65" fill="#7095d8"/><circle cx="366.5" cy="239.4" r="0.65" fill="#e8493a"/><circle cx="365.7" cy="233.2" r="0.65" fill="#7095d8"/><circle cx="362.3" cy="217.6" r="0.65" fill="#7095d8"/><circle cx="363.9" cy="222.9" r="0.65" fill="#7095d8"/><circle cx="366.0" cy="237.0" r="0.65" fill="#7095d8"/><circle cx="361.1" cy="214.9" r="0.65" fill="#7095d8"/><circle cx="365.8" cy="228.2" r="0.65" fill="#7095d8"/><circle cx="364.6" cy="225.1" r="0.65" fill="#7095d8"/><circle cx="364.7" cy="227.0" r="0.65" fill="#7095d8"/><circle cx="368.1" cy="244.1" r="0.65" fill="#7095d8"/><circle cx="369.0" cy="239.2" r="0.65" fill="#7095d8"/><circle cx="362.4" cy="222.3" r="0.65" fill="#7095d8"/><circle cx="367.4" cy="241.9" r="0.65" fill="#7095d8"/><circle cx="364.7" cy="223.2" r="0.65" fill="#7095d8"/><circle cx="361.4" cy="218.9" r="0.65" fill="#7095d8"/><circle cx="366.3" cy="236.8" r="0.65" fill="#7095d8"/><circle cx="366.1" cy="225.4" r="0.65" fill="#7095d8"/><circle cx="358.5" cy="210.9" r="0.65" fill="#7095d8"/><circle cx="363.2" cy="222.6" r="0.65" fill="#7095d8"/><circle cx="361.7" cy="211.4" r="0.65" fill="#7095d8"/>
<circle cx="412.4" cy="182.0" r="0.65" fill="#7095d8"/><circle cx="418.0" cy="236.1" r="0.65" fill="#7095d8"/><circle cx="418.2" cy="191.6" r="0.65" fill="#7095d8"/><circle cx="419.8" cy="223.0" r="0.65" fill="#7095d8"/><circle cx="417.8" cy="197.8" r="0.65" fill="#7095d8"/><circle cx="418.7" cy="199.7" r="0.65" fill="#7095d8"/><circle cx="419.3" cy="216.5" r="0.65" fill="#7095d8"/><circle cx="419.1" cy="202.5" r="0.65" fill="#e8493a"/><circle cx="417.5" cy="243.0" r="0.65" fill="#7095d8"/><circle cx="419.6" cy="213.5" r="0.65" fill="#e8493a"/><circle cx="417.7" cy="216.9" r="0.65" fill="#7095d8"/><circle cx="417.2" cy="185.4" r="0.65" fill="#e8493a"/><circle cx="416.4" cy="189.8" r="0.65" fill="#7095d8"/><circle cx="419.5" cy="234.1" r="0.65" fill="#e8493a"/><circle cx="417.7" cy="237.8" r="0.65" fill="#e8493a"/><circle cx="416.4" cy="183.0" r="0.65" fill="#7095d8"/><circle cx="418.4" cy="223.6" r="0.65" fill="#7095d8"/><circle cx="417.2" cy="190.8" r="0.65" fill="#7095d8"/><circle cx="418.7" cy="246.1" r="0.65" fill="#e8493a"/><circle cx="414.2" cy="183.0" r="0.65" fill="#7095d8"/><circle cx="419.7" cy="229.1" r="0.65" fill="#7095d8"/><circle cx="419.8" cy="231.3" r="0.65" fill="#7095d8"/><circle cx="420.2" cy="219.6" r="0.65" fill="#7095d8"/><circle cx="418.3" cy="223.5" r="0.65" fill="#7095d8"/><circle cx="417.9" cy="206.0" r="0.65" fill="#7095d8"/><circle cx="414.4" cy="182.7" r="0.65" fill="#7095d8"/><circle cx="417.9" cy="198.5" r="0.65" fill="#7095d8"/><circle cx="418.0" cy="242.0" r="0.65" fill="#e8493a"/><circle cx="419.5" cy="202.9" r="0.65" fill="#7095d8"/><circle cx="419.4" cy="206.6" r="0.65" fill="#7095d8"/><circle cx="417.1" cy="201.0" r="0.65" fill="#7095d8"/><circle cx="418.6" cy="244.3" r="0.65" fill="#e8493a"/><circle cx="415.8" cy="185.5" r="0.65" fill="#7095d8"/><circle cx="420.4" cy="222.8" r="0.65" fill="#7095d8"/><circle cx="417.6" cy="187.2" r="0.65" fill="#7095d8"/><circle cx="419.8" cy="224.1" r="0.65" fill="#7095d8"/><circle cx="419.7" cy="211.2" r="0.65" fill="#e8493a"/><circle cx="419.2" cy="234.8" r="0.65" fill="#7095d8"/><circle cx="417.2" cy="193.5" r="0.65" fill="#7095d8"/><circle cx="417.2" cy="214.2" r="0.65" fill="#7095d8"/><circle cx="417.4" cy="202.8" r="0.65" fill="#7095d8"/><circle cx="417.8" cy="226.1" r="0.65" fill="#7095d8"/><circle cx="418.5" cy="211.8" r="0.65" fill="#7095d8"/><circle cx="420.0" cy="235.7" r="0.65" fill="#7095d8"/><circle cx="419.2" cy="231.2" r="0.65" fill="#e8493a"/><circle cx="418.7" cy="234.7" r="0.65" fill="#7095d8"/><circle cx="417.6" cy="213.2" r="0.65" fill="#7095d8"/><circle cx="419.6" cy="227.9" r="0.65" fill="#e8493a"/><circle cx="418.8" cy="191.0" r="0.65" fill="#7095d8"/><circle cx="418.6" cy="190.8" r="0.65" fill="#7095d8"/><circle cx="420.2" cy="221.4" r="0.65" fill="#e8493a"/><circle cx="417.8" cy="228.7" r="0.65" fill="#7095d8"/><circle cx="419.0" cy="228.4" r="0.65" fill="#e8493a"/><circle cx="416.2" cy="244.8" r="0.65" fill="#7095d8"/><circle cx="414.8" cy="184.1" r="0.65" fill="#7095d8"/><circle cx="419.8" cy="234.5" r="0.65" fill="#e8493a"/><circle cx="419.5" cy="241.5" r="0.65" fill="#7095d8"/><circle cx="418.2" cy="217.3" r="0.65" fill="#7095d8"/><circle cx="420.7" cy="235.9" r="0.65" fill="#e8493a"/><circle cx="419.7" cy="218.7" r="0.65" fill="#7095d8"/><circle cx="418.8" cy="237.3" r="0.65" fill="#e8493a"/><circle cx="418.0" cy="232.4" r="0.65" fill="#e8493a"/><circle cx="418.0" cy="197.0" r="0.65" fill="#7095d8"/><circle cx="418.9" cy="210.3" r="0.65" fill="#e8493a"/><circle cx="419.5" cy="228.1" r="0.65" fill="#7095d8"/><circle cx="418.9" cy="210.5" r="0.65" fill="#7095d8"/><circle cx="417.6" cy="192.7" r="0.65" fill="#e8493a"/><circle cx="419.6" cy="223.5" r="0.65" fill="#7095d8"/><circle cx="418.8" cy="205.7" r="0.65" fill="#7095d8"/><circle cx="414.4" cy="183.6" r="0.65" fill="#7095d8"/><circle cx="418.5" cy="233.0" r="0.65" fill="#7095d8"/><circle cx="418.1" cy="211.9" r="0.65" fill="#7095d8"/><circle cx="418.0" cy="209.7" r="0.65" fill="#7095d8"/><circle cx="419.5" cy="213.0" r="0.65" fill="#7095d8"/><circle cx="418.4" cy="227.2" r="0.65" fill="#e8493a"/><circle cx="416.5" cy="244.6" r="0.65" fill="#e8493a"/><circle cx="420.6" cy="236.3" r="0.65" fill="#7095d8"/><circle cx="417.3" cy="198.6" r="0.65" fill="#7095d8"/><circle cx="416.9" cy="246.0" r="0.65" fill="#7095d8"/><circle cx="419.3" cy="194.9" r="0.65" fill="#e8493a"/><circle cx="418.0" cy="238.6" r="0.65" fill="#e8493a"/><circle cx="415.8" cy="183.5" r="0.65" fill="#7095d8"/><circle cx="418.8" cy="214.9" r="0.65" fill="#7095d8"/><circle cx="419.1" cy="236.4" r="0.65" fill="#7095d8"/><circle cx="418.8" cy="243.9" r="0.65" fill="#e8493a"/><circle cx="417.6" cy="190.2" r="0.65" fill="#e8493a"/><circle cx="417.9" cy="232.0" r="0.65" fill="#e8493a"/><circle cx="416.0" cy="186.5" r="0.65" fill="#7095d8"/><circle cx="416.2" cy="183.1" r="0.65" fill="#e8493a"/><circle cx="417.4" cy="188.9" r="0.65" fill="#7095d8"/><circle cx="416.8" cy="190.0" r="0.65" fill="#7095d8"/><circle cx="419.4" cy="232.1" r="0.65" fill="#e8493a"/><circle cx="419.6" cy="209.7" r="0.65" fill="#7095d8"/><circle cx="415.7" cy="184.3" r="0.65" fill="#7095d8"/><circle cx="420.3" cy="234.0" r="0.65" fill="#e8493a"/>
<circle cx="412.7" cy="216.9" r="0.65" fill="#7095d8"/><circle cx="413.5" cy="198.9" r="0.65" fill="#7095d8"/><circle cx="412.6" cy="206.9" r="0.65" fill="#7095d8"/><circle cx="412.0" cy="188.7" r="0.65" fill="#7095d8"/><circle cx="411.8" cy="205.6" r="0.65" fill="#7095d8"/><circle cx="414.1" cy="209.8" r="0.65" fill="#7095d8"/><circle cx="413.2" cy="191.5" r="0.65" fill="#7095d8"/><circle cx="409.8" cy="228.0" r="0.65" fill="#7095d8"/><circle cx="411.3" cy="241.8" r="0.65" fill="#7095d8"/><circle cx="412.6" cy="192.9" r="0.65" fill="#7095d8"/><circle cx="412.8" cy="214.0" r="0.65" fill="#7095d8"/><circle cx="412.3" cy="208.0" r="0.65" fill="#7095d8"/><circle cx="408.6" cy="227.8" r="0.65" fill="#7095d8"/><circle cx="413.3" cy="199.3" r="0.65" fill="#7095d8"/><circle cx="412.8" cy="202.8" r="0.65" fill="#7095d8"/><circle cx="410.4" cy="241.5" r="0.65" fill="#e8493a"/><circle cx="411.5" cy="240.4" r="0.65" fill="#e8493a"/><circle cx="410.5" cy="225.7" r="0.65" fill="#7095d8"/><circle cx="412.1" cy="245.5" r="0.65" fill="#e8493a"/><circle cx="410.9" cy="243.7" r="0.65" fill="#7095d8"/><circle cx="411.4" cy="219.3" r="0.65" fill="#7095d8"/><circle cx="412.6" cy="189.2" r="0.65" fill="#e8493a"/><circle cx="413.2" cy="199.6" r="0.65" fill="#7095d8"/><circle cx="413.0" cy="209.7" r="0.65" fill="#7095d8"/><circle cx="412.2" cy="185.1" r="0.65" fill="#7095d8"/><circle cx="413.8" cy="245.8" r="0.65" fill="#e8493a"/><circle cx="411.9" cy="220.6" r="0.65" fill="#7095d8"/><circle cx="408.9" cy="239.0" r="0.65" fill="#e8493a"/><circle cx="414.1" cy="204.5" r="0.65" fill="#7095d8"/><circle cx="410.8" cy="245.7" r="0.65" fill="#e8493a"/><circle cx="413.6" cy="220.1" r="0.65" fill="#7095d8"/><circle cx="411.8" cy="196.4" r="0.65" fill="#7095d8"/><circle cx="411.9" cy="216.7" r="0.65" fill="#7095d8"/><circle cx="413.1" cy="189.1" r="0.65" fill="#e8493a"/><circle cx="412.7" cy="197.3" r="0.65" fill="#e8493a"/><circle cx="412.6" cy="187.6" r="0.65" fill="#7095d8"/><circle cx="408.9" cy="241.9" r="0.65" fill="#7095d8"/><circle cx="409.5" cy="237.9" r="0.65" fill="#7095d8"/><circle cx="410.8" cy="225.7" r="0.65" fill="#7095d8"/><circle cx="408.9" cy="229.6" r="0.65" fill="#e8493a"/><circle cx="408.3" cy="228.1" r="0.65" fill="#7095d8"/><circle cx="411.7" cy="212.8" r="0.65" fill="#7095d8"/><circle cx="409.8" cy="240.4" r="0.65" fill="#e8493a"/><circle cx="411.6" cy="203.1" r="0.65" fill="#7095d8"/><circle cx="411.1" cy="185.9" r="0.65" fill="#7095d8"/><circle cx="414.0" cy="207.9" r="0.65" fill="#e8493a"/><circle cx="414.2" cy="203.4" r="0.65" fill="#e8493a"/><circle cx="412.2" cy="184.9" r="0.65" fill="#e8493a"/><circle cx="409.0" cy="228.5" r="0.65" fill="#e8493a"/><circle cx="411.1" cy="221.5" r="0.65" fill="#7095d8"/><circle cx="413.0" cy="191.7" r="0.65" fill="#7095d8"/><circle cx="408.7" cy="229.1" r="0.65" fill="#7095d8"/><circle cx="414.1" cy="200.8" r="0.65" fill="#7095d8"/><circle cx="412.6" cy="210.1" r="0.65" fill="#7095d8"/><circle cx="412.3" cy="210.6" r="0.65" fill="#7095d8"/><circle cx="410.2" cy="225.5" r="0.65" fill="#7095d8"/><circle cx="408.3" cy="228.2" r="0.65" fill="#7095d8"/><circle cx="412.3" cy="197.4" r="0.65" fill="#7095d8"/><circle cx="409.9" cy="239.8" r="0.65" fill="#e8493a"/><circle cx="414.0" cy="203.3" r="0.65" fill="#7095d8"/><circle cx="408.3" cy="230.3" r="0.65" fill="#7095d8"/><circle cx="411.6" cy="185.1" r="0.65" fill="#7095d8"/><circle cx="413.3" cy="215.5" r="0.65" fill="#7095d8"/><circle cx="413.3" cy="213.5" r="0.65" fill="#7095d8"/><circle cx="412.6" cy="217.8" r="0.65" fill="#7095d8"/><circle cx="412.2" cy="204.0" r="0.65" fill="#7095d8"/><circle cx="410.9" cy="192.6" r="0.65" fill="#e8493a"/><circle cx="411.4" cy="185.6" r="0.65" fill="#7095d8"/><circle cx="411.1" cy="219.0" r="0.65" fill="#7095d8"/><circle cx="411.7" cy="243.5" r="0.65" fill="#7095d8"/><circle cx="413.1" cy="208.5" r="0.65" fill="#e8493a"/><circle cx="411.5" cy="204.6" r="0.65" fill="#7095d8"/><circle cx="410.0" cy="230.9" r="0.65" fill="#7095d8"/><circle cx="412.5" cy="213.8" r="0.65" fill="#7095d8"/><circle cx="411.3" cy="189.3" r="0.65" fill="#7095d8"/><circle cx="409.7" cy="234.8" r="0.65" fill="#7095d8"/><circle cx="412.4" cy="211.0" r="0.65" fill="#e8493a"/><circle cx="412.0" cy="187.3" r="0.65" fill="#7095d8"/><circle cx="413.4" cy="213.0" r="0.65" fill="#7095d8"/><circle cx="413.1" cy="199.6" r="0.65" fill="#e8493a"/>
<circle cx="409.8" cy="233.5" r="0.65" fill="#e8493a"/><circle cx="416.3" cy="239.4" r="0.65" fill="#7095d8"/><circle cx="416.1" cy="239.9" r="0.65" fill="#7095d8"/><circle cx="413.2" cy="241.2" r="0.65" fill="#e8493a"/><circle cx="407.7" cy="233.2" r="0.65" fill="#e8493a"/><circle cx="414.3" cy="239.7" r="0.65" fill="#e8493a"/><circle cx="412.9" cy="233.1" r="0.65" fill="#7095d8"/><circle cx="410.2" cy="231.8" r="0.65" fill="#7095d8"/><circle cx="409.2" cy="233.4" r="0.65" fill="#e8493a"/><circle cx="412.6" cy="238.4" r="0.65" fill="#7095d8"/><circle cx="414.6" cy="237.5" r="0.65" fill="#e8493a"/><circle cx="413.0" cy="236.8" r="0.65" fill="#7095d8"/><circle cx="414.2" cy="238.2" r="0.65" fill="#7095d8"/><circle cx="412.0" cy="240.4" r="0.65" fill="#e8493a"/><circle cx="415.1" cy="238.0" r="0.65" fill="#7095d8"/><circle cx="410.1" cy="235.1" r="0.65" fill="#e8493a"/><circle cx="413.5" cy="236.0" r="0.65" fill="#e8493a"/><circle cx="410.0" cy="227.4" r="0.65" fill="#e8493a"/><circle cx="417.2" cy="239.4" r="0.65" fill="#7095d8"/><circle cx="409.3" cy="230.8" r="0.65" fill="#e8493a"/><circle cx="407.8" cy="233.0" r="0.65" fill="#e8493a"/><circle cx="408.3" cy="229.2" r="0.65" fill="#e8493a"/><circle cx="413.8" cy="237.1" r="0.65" fill="#e8493a"/><circle cx="413.7" cy="231.6" r="0.65" fill="#7095d8"/><circle cx="410.7" cy="231.7" r="0.65" fill="#7095d8"/><circle cx="409.6" cy="230.3" r="0.65" fill="#7095d8"/><circle cx="414.0" cy="238.1" r="0.65" fill="#e8493a"/><circle cx="412.9" cy="231.5" r="0.65" fill="#e8493a"/><circle cx="414.8" cy="239.3" r="0.65" fill="#7095d8"/><circle cx="414.5" cy="241.0" r="0.65" fill="#e8493a"/><circle cx="415.9" cy="241.8" r="0.65" fill="#e8493a"/><circle cx="409.3" cy="231.9" r="0.65" fill="#7095d8"/><circle cx="413.4" cy="230.9" r="0.65" fill="#e8493a"/><circle cx="407.3" cy="231.2" r="0.65" fill="#e8493a"/><circle cx="409.7" cy="230.1" r="0.65" fill="#e8493a"/><circle cx="412.3" cy="235.9" r="0.65" fill="#e8493a"/><circle cx="413.3" cy="237.4" r="0.65" fill="#7095d8"/><circle cx="412.0" cy="236.1" r="0.65" fill="#e8493a"/><circle cx="412.3" cy="234.8" r="0.65" fill="#7095d8"/><circle cx="409.6" cy="232.6" r="0.65" fill="#7095d8"/><circle cx="414.6" cy="236.8" r="0.65" fill="#7095d8"/><circle cx="413.5" cy="231.5" r="0.65" fill="#7095d8"/><circle cx="411.1" cy="229.3" r="0.65" fill="#7095d8"/><circle cx="414.9" cy="232.4" r="0.65" fill="#e8493a"/><circle cx="412.4" cy="230.5" r="0.65" fill="#7095d8"/><circle cx="415.1" cy="236.2" r="0.65" fill="#e8493a"/><circle cx="406.1" cy="231.4" r="0.65" fill="#e8493a"/><circle cx="414.8" cy="240.2" r="0.65" fill="#7095d8"/><circle cx="413.1" cy="236.4" r="0.65" fill="#7095d8"/><circle cx="414.4" cy="233.0" r="0.65" fill="#e8493a"/><circle cx="413.7" cy="241.0" r="0.65" fill="#e8493a"/><circle cx="415.6" cy="236.0" r="0.65" fill="#e8493a"/><circle cx="415.7" cy="239.6" r="0.65" fill="#e8493a"/><circle cx="412.1" cy="240.1" r="0.65" fill="#7095d8"/><circle cx="414.0" cy="240.2" r="0.65" fill="#e8493a"/><circle cx="411.2" cy="236.1" r="0.65" fill="#e8493a"/><circle cx="408.2" cy="231.6" r="0.65" fill="#e8493a"/><circle cx="416.1" cy="235.9" r="0.65" fill="#e8493a"/><circle cx="410.8" cy="231.4" r="0.65" fill="#7095d8"/><circle cx="413.7" cy="239.0" r="0.65" fill="#7095d8"/>
<text x="316.5" y="44.0" font-size="3.2" text-anchor="middle" fill="#222" color="#222" >SCT</text>
<text x="377.0" y="90.0" font-size="3.2" text-anchor="middle" fill="#222" color="#222" >VCT</text>
<text x="416.0" y="100.5" font-size="3.2" text-anchor="middle" fill="#222" color="#222" >EVT</text>
<path d="M306.8,110.2 L306.8,123.5 L320.3,123.5" fill="none" stroke="#555" stroke-width="0.8"/>
<text x="306.5" y="129.6" font-size="4.9" text-anchor="start" fill="#222" color="#222" >umap1</text>
<text x="303.8" y="123.5" font-size="4.9" fill="#222" transform="rotate(-90 303.8 123.5)">umap2</text>
<path d="M306.6,241 L306.6,254.4 L320.2,254.4" fill="none" stroke="#555" stroke-width="0.8"/>
<text x="306.3" y="260.3" font-size="4.9" text-anchor="start" fill="#222" color="#222" >umap1</text>
<text x="303.6" y="254.4" font-size="4.9" fill="#222" transform="rotate(-90 303.6 254.4)">umap2</text>
<circle cx="431" cy="56.3" r="1.9" fill="#ec7063"/>
<text x="435.2" y="58.1" font-size="5.0" text-anchor="start" font-weight="bold" fill="#222" color="#222" >SCT</text>
<circle cx="431" cy="64.0" r="1.9" fill="#e8668b"/>
<text x="435.2" y="65.8" font-size="5.0" text-anchor="start" font-weight="bold" fill="#222" color="#222" >VCT</text>
<circle cx="431" cy="71.9" r="1.9" fill="#c97bf2"/>
<text x="435.2" y="73.7" font-size="5.0" text-anchor="start" font-weight="bold" fill="#222" color="#222" >EVT</text>
<circle cx="427.5" cy="189.8" r="1.9" fill="#7095d8"/>
<text x="432.0" y="191.6" font-size="5.0" text-anchor="start" font-weight="bold" fill="#222" color="#222" >NP</text>
<circle cx="427.5" cy="197.9" r="1.9" fill="#e8493a"/>
<text x="432.0" y="199.7" font-size="5.0" text-anchor="start" font-weight="bold" fill="#222" color="#222" >RPL</text>
<polygon points="55.6,292.0 57.2,288.9 60.2,287.4 66.4,286.4 74.5,286.4 83.7,286.4 87.3,285.3 88.8,281.2 92.9,276.1 96.5,274.6 100.1,276.1 104.2,281.2 108.8,284.3 110.8,289.4 109.8,296.6 108.8,303.7 108.2,307.8 111.3,310.9 107.2,312.9 104.2,316.0 101.1,320.1 93.9,324.2 87.8,328.2 84.7,334.4 82.2,329.3 79.1,323.1 72.5,318.0 65.3,313.9 61.2,308.8 57.7,300.7 56.1,295.5" fill="#eb6888" />
<polygon points="55.6,292.0 57.2,288.9 60.2,287.4 66.4,286.4 74.5,286.4 83.7,286.4 87.3,285.3 88.8,281.2 92.9,276.1 96.5,274.6 100.1,276.1 104.2,281.2 108.8,284.3 110.8,289.4 109.8,296.6 108.8,303.7 108.2,307.8 111.3,310.9 107.2,312.9 104.2,316.0 101.1,320.1 93.9,324.2 87.8,328.2 84.7,334.4 82.2,329.3 79.1,323.1 72.5,318.0 65.3,313.9 61.2,308.8 57.7,300.7 56.1,295.5" fill="url(#spk2)" />
<path d="M55.6,292.0 C55.8,290.9 56.4,289.7 57.2,288.9 C58.0,288.1 58.7,287.8 60.2,287.4 C61.7,287.0 64.0,286.6 66.4,286.4 C68.8,286.2 71.6,286.4 74.5,286.4 C77.4,286.4 81.1,286.2 83.7,286.4 C86.3,286.6 88.8,286.7 89.9,287.4 C91.0,288.1 90.8,289.4 90.4,290.4 C90.1,291.4 88.9,292.5 87.8,293.5 C86.7,294.5 85.1,295.6 83.7,296.6 C82.3,297.6 81.0,298.9 79.6,299.6 C78.2,300.3 77.0,300.5 75.5,300.7 C74.0,300.9 71.9,300.9 70.4,300.7 C68.9,300.5 67.8,300.0 66.4,299.6 C65.1,299.2 63.7,298.9 62.3,298.6 C60.9,298.3 59.2,298.1 58.2,297.6 C57.2,297.1 56.5,296.4 56.1,295.5 C55.7,294.6 55.4,293.1 55.6,292.0Z" fill="#cc7af0" />
<path d="M55.6,292.0 C55.8,290.9 56.4,289.7 57.2,288.9 C58.0,288.1 58.7,287.8 60.2,287.4 C61.7,287.0 64.0,286.6 66.4,286.4 C68.8,286.2 71.6,286.4 74.5,286.4 C77.4,286.4 81.1,286.2 83.7,286.4 C86.3,286.6 88.8,286.7 89.9,287.4 C91.0,288.1 90.8,289.4 90.4,290.4 C90.1,291.4 88.9,292.5 87.8,293.5 C86.7,294.5 85.1,295.6 83.7,296.6 C82.3,297.6 81.0,298.9 79.6,299.6 C78.2,300.3 77.0,300.5 75.5,300.7 C74.0,300.9 71.9,300.9 70.4,300.7 C68.9,300.5 67.8,300.0 66.4,299.6 C65.1,299.2 63.7,298.9 62.3,298.6 C60.9,298.3 59.2,298.1 58.2,297.6 C57.2,297.1 56.5,296.4 56.1,295.5 C55.7,294.6 55.4,293.1 55.6,292.0Z" fill="url(#spk2)"/>
<polygon points="87.3,285.3 88.8,281.2 92.9,276.1 96.5,274.6 100.1,276.1 104.2,281.2 108.8,284.3 110.8,289.4 109.8,296.6 108.8,303.7 108.2,307.8 104.2,310.9 100.1,307.8 98.0,302.7 93.9,300.7 88.8,299.6 83.7,297.6 87.8,293.5 90.4,290.4 89.9,287.4" fill="#ee7b6b" />
<polygon points="87.3,285.3 88.8,281.2 92.9,276.1 96.5,274.6 100.1,276.1 104.2,281.2 108.8,284.3 110.8,289.4 109.8,296.6 108.8,303.7 108.2,307.8 104.2,310.9 100.1,307.8 98.0,302.7 93.9,300.7 88.8,299.6 83.7,297.6 87.8,293.5 90.4,290.4 89.9,287.4" fill="url(#spk2)" />
<path d="M78.6,302.7 C79.5,301.3 81.3,300.9 82.7,300.7 C84.1,300.5 85.1,301.7 86.8,301.7 C88.5,301.7 91.2,300.5 92.9,300.7 C94.6,300.9 96.0,301.3 97.0,302.7 C98.0,304.1 98.8,306.9 99.0,308.8 C99.2,310.7 98.8,312.4 98.0,313.9 C97.2,315.4 95.4,316.8 93.9,318.0 C92.4,319.2 90.3,320.4 88.8,321.1 C87.3,321.8 86.0,322.6 84.7,322.1 C83.4,321.6 81.9,319.4 80.7,318.0 C79.5,316.6 78.2,315.4 77.6,313.9 C77.0,312.4 76.9,310.7 77.1,308.8 C77.3,306.9 77.7,304.1 78.6,302.7Z" fill="#fff" opacity="0.72"/>
<path d="M105,315 L111,318 L116.5,319.5" stroke="#bfa12e" stroke-width="1.2" fill="none"/>
<polygon points="134.3,306.5 136.3,301.9 141.5,297.3 148.1,293.1 153.4,293.4 158.6,298.6 161.9,305.2 161.2,311.8 167.2,314.4 165.2,318.3 158.6,322.3 161.9,328.8 164.5,336.7 163.2,342.6 157.3,344.6 150.7,343.3 144.2,340.7 140.2,336.7 136.3,334.1 129.7,331.5 124.5,324.9 128.4,323.6 131.7,319.6 133.7,314.4" fill="#eb6888" />
<polygon points="134.3,306.5 136.3,301.9 141.5,297.3 148.1,293.1 153.4,293.4 158.6,298.6 161.9,305.2 161.2,311.8 167.2,314.4 165.2,318.3 158.6,322.3 161.9,328.8 164.5,336.7 163.2,342.6 157.3,344.6 150.7,343.3 144.2,340.7 140.2,336.7 136.3,334.1 129.7,331.5 124.5,324.9 128.4,323.6 131.7,319.6 133.7,314.4" fill="url(#spk2)" />
<path d="M129.0,326.0 C129.3,324.7 131.8,322.3 133.0,322.0 C134.2,321.7 135.2,323.0 136.0,324.0 C136.8,325.0 138.2,326.8 138.0,328.0 C137.8,329.2 136.2,330.7 135.0,331.0 C133.8,331.3 132.0,330.8 131.0,330.0 C130.0,329.2 128.7,327.3 129.0,326.0Z" fill="#fff" opacity="0.7"/>
<path d="M56.9,340.2 C57.2,339.3 58.0,338.2 58.8,337.4 C59.6,336.6 60.8,335.4 61.7,335.5 C62.7,335.6 63.4,337.4 64.5,338.3 C65.6,339.2 68.0,340.1 68.3,341.2 C68.6,342.3 67.7,344.3 66.4,345.0 C65.1,345.7 62.3,345.8 60.7,345.5 C59.1,345.2 57.5,343.9 56.9,343.0 C56.3,342.1 56.6,341.1 56.9,340.2Z" fill="#7e8cf0" />
<path d="M56.9,340.2 C57.2,339.3 58.0,338.2 58.8,337.4 C59.6,336.6 60.8,335.4 61.7,335.5 C62.7,335.6 63.4,337.4 64.5,338.3 C65.6,339.2 68.0,340.1 68.3,341.2 C68.6,342.3 67.7,344.3 66.4,345.0 C65.1,345.7 62.3,345.8 60.7,345.5 C59.1,345.2 57.5,343.9 56.9,343.0 C56.3,342.1 56.6,341.1 56.9,340.2Z" fill="url(#spk2)"/>
<path d="M93.0,335.5 C94.0,334.9 96.6,337.0 97.7,336.4 C98.8,335.8 98.6,332.6 99.6,331.7 C100.5,330.8 102.3,330.5 103.4,330.7 C104.5,330.9 105.7,331.3 106.3,332.6 C106.9,333.9 106.7,336.2 107.2,338.3 C107.7,340.4 109.2,343.3 109.1,345.0 C108.9,346.7 108.0,348.1 106.3,348.7 C104.6,349.3 100.9,349.0 98.7,348.7 C96.5,348.4 94.1,348.3 93.0,346.9 C91.9,345.5 92.0,342.1 92.0,340.2 C92.0,338.3 92.0,336.1 93.0,335.5Z" fill="#52c2ec" />
<path d="M93.0,335.5 C94.0,334.9 96.6,337.0 97.7,336.4 C98.8,335.8 98.6,332.6 99.6,331.7 C100.5,330.8 102.3,330.5 103.4,330.7 C104.5,330.9 105.7,331.3 106.3,332.6 C106.9,333.9 106.7,336.2 107.2,338.3 C107.7,340.4 109.2,343.3 109.1,345.0 C108.9,346.7 108.0,348.1 106.3,348.7 C104.6,349.3 100.9,349.0 98.7,348.7 C96.5,348.4 94.1,348.3 93.0,346.9 C91.9,345.5 92.0,342.1 92.0,340.2 C92.0,338.3 92.0,336.1 93.0,335.5Z" fill="url(#spk2)"/>
<path d="M26.6,345.9 C27.1,344.9 28.4,343.7 29.4,344.0 C30.3,344.3 31.7,346.2 32.3,347.8 C32.9,349.4 32.4,351.9 33.2,353.5 C34.0,355.1 35.7,356.8 37.0,357.3 C38.3,357.8 39.9,355.7 40.8,356.3 C41.6,356.9 42.0,359.0 42.1,361.1 C42.2,363.2 42.4,366.8 41.7,368.7 C41.0,370.6 39.7,371.9 38.0,372.5 C36.3,373.1 32.9,373.1 31.3,372.5 C29.7,371.9 28.8,370.6 28.5,368.7 C28.2,366.8 29.4,363.6 29.4,361.1 C29.4,358.6 29.0,355.4 28.5,353.5 C28.0,351.6 26.9,351.0 26.6,349.7 C26.3,348.4 26.1,346.8 26.6,345.9Z" fill="#4fcbc0" />
<path d="M26.6,345.9 C27.1,344.9 28.4,343.7 29.4,344.0 C30.3,344.3 31.7,346.2 32.3,347.8 C32.9,349.4 32.4,351.9 33.2,353.5 C34.0,355.1 35.7,356.8 37.0,357.3 C38.3,357.8 39.9,355.7 40.8,356.3 C41.6,356.9 42.0,359.0 42.1,361.1 C42.2,363.2 42.4,366.8 41.7,368.7 C41.0,370.6 39.7,371.9 38.0,372.5 C36.3,373.1 32.9,373.1 31.3,372.5 C29.7,371.9 28.8,370.6 28.5,368.7 C28.2,366.8 29.4,363.6 29.4,361.1 C29.4,358.6 29.0,355.4 28.5,353.5 C28.0,351.6 26.9,351.0 26.6,349.7 C26.3,348.4 26.1,346.8 26.6,345.9Z" fill="url(#spk2)"/>
<path d="M26.6,345.9 C27.1,344.9 28.4,343.7 29.4,344.0 C30.3,344.3 31.7,346.2 32.3,347.8 C32.9,349.4 33.4,352.1 33.2,353.5 C33.0,354.9 31.8,356.0 31.0,356.0 C30.2,356.0 29.2,354.6 28.5,353.5 C27.8,352.4 26.9,351.0 26.6,349.7 C26.3,348.4 26.1,346.8 26.6,345.9Z" fill="#52c2ec" />
<path d="M26.6,345.9 C27.1,344.9 28.4,343.7 29.4,344.0 C30.3,344.3 31.7,346.2 32.3,347.8 C32.9,349.4 33.4,352.1 33.2,353.5 C33.0,354.9 31.8,356.0 31.0,356.0 C30.2,356.0 29.2,354.6 28.5,353.5 C27.8,352.4 26.9,351.0 26.6,349.7 C26.3,348.4 26.1,346.8 26.6,345.9Z" fill="url(#spk2)"/>
<circle cx="34" cy="378.5" r="0.7" fill="#4fcbc0"/>
<path d="M84.5,358.4 C85.5,358.4 86.8,361.2 88.0,363.0 C89.2,364.8 90.0,368.1 91.5,368.9 C93.0,369.7 95.0,367.9 96.8,368.0 C98.5,368.1 100.5,370.0 102.0,369.8 C103.5,369.6 104.5,367.7 106.0,367.0 C107.5,366.3 109.7,364.1 110.8,365.4 C111.9,366.7 111.4,371.4 112.6,375.0 C113.8,378.6 115.5,384.7 117.8,387.3 C120.1,389.9 123.1,390.1 126.6,390.8 C130.1,391.5 134.7,391.1 138.8,391.7 C142.9,392.3 147.3,392.9 151.0,394.3 C154.7,395.8 158.9,398.3 160.7,400.4 C162.5,402.4 162.6,404.7 161.6,406.6 C160.6,408.5 157.8,410.5 154.6,411.8 C151.4,413.1 147.0,413.9 142.3,414.5 C137.6,415.1 131.6,414.6 126.6,415.3 C121.6,416.0 116.1,417.1 112.6,418.8 C109.1,420.6 108.4,423.8 105.5,425.8 C102.6,427.8 98.5,430.1 95.0,431.0 C91.5,431.9 87.6,432.2 84.5,431.0 C81.4,429.8 78.3,427.5 76.6,424.0 C74.8,420.5 74.3,414.7 74.0,410.0 C73.7,405.3 75.3,400.4 74.9,396.0 C74.5,391.6 71.8,387.6 71.4,383.8 C71.0,380.0 71.0,375.9 72.3,373.3 C73.6,370.7 77.7,369.7 79.3,368.0 C80.9,366.3 81.1,364.6 82.0,363.0 C82.9,361.4 83.5,358.4 84.5,358.4Z" fill="#a5ad2b" />
<path d="M84.5,358.4 C85.5,358.4 86.8,361.2 88.0,363.0 C89.2,364.8 90.0,368.1 91.5,368.9 C93.0,369.7 95.0,367.9 96.8,368.0 C98.5,368.1 100.5,370.0 102.0,369.8 C103.5,369.6 104.5,367.7 106.0,367.0 C107.5,366.3 109.7,364.1 110.8,365.4 C111.9,366.7 111.4,371.4 112.6,375.0 C113.8,378.6 115.5,384.7 117.8,387.3 C120.1,389.9 123.1,390.1 126.6,390.8 C130.1,391.5 134.7,391.1 138.8,391.7 C142.9,392.3 147.3,392.9 151.0,394.3 C154.7,395.8 158.9,398.3 160.7,400.4 C162.5,402.4 162.6,404.7 161.6,406.6 C160.6,408.5 157.8,410.5 154.6,411.8 C151.4,413.1 147.0,413.9 142.3,414.5 C137.6,415.1 131.6,414.6 126.6,415.3 C121.6,416.0 116.1,417.1 112.6,418.8 C109.1,420.6 108.4,423.8 105.5,425.8 C102.6,427.8 98.5,430.1 95.0,431.0 C91.5,431.9 87.6,432.2 84.5,431.0 C81.4,429.8 78.3,427.5 76.6,424.0 C74.8,420.5 74.3,414.7 74.0,410.0 C73.7,405.3 75.3,400.4 74.9,396.0 C74.5,391.6 71.8,387.6 71.4,383.8 C71.0,380.0 71.0,375.9 72.3,373.3 C73.6,370.7 77.7,369.7 79.3,368.0 C80.9,366.3 81.1,364.6 82.0,363.0 C82.9,361.4 83.5,358.4 84.5,358.4Z" fill="url(#spk2)"/>
<path d="M124.0,391.0 C124.3,389.5 124.1,390.7 126.6,390.8 C129.1,390.9 134.7,391.1 138.8,391.7 C142.9,392.3 147.3,392.9 151.0,394.3 C154.7,395.8 158.9,398.3 160.7,400.4 C162.5,402.4 162.6,404.7 161.6,406.6 C160.6,408.5 157.8,410.5 154.6,411.8 C151.4,413.1 146.4,414.1 142.3,414.5 C138.2,414.9 132.7,415.2 130.0,414.5 C127.3,413.8 126.8,412.4 126.0,410.0 C125.2,407.6 125.3,403.2 125.0,400.0 C124.7,396.8 123.7,392.5 124.0,391.0Z" fill="#62c235" />
<path d="M124.0,391.0 C124.3,389.5 124.1,390.7 126.6,390.8 C129.1,390.9 134.7,391.1 138.8,391.7 C142.9,392.3 147.3,392.9 151.0,394.3 C154.7,395.8 158.9,398.3 160.7,400.4 C162.5,402.4 162.6,404.7 161.6,406.6 C160.6,408.5 157.8,410.5 154.6,411.8 C151.4,413.1 146.4,414.1 142.3,414.5 C138.2,414.9 132.7,415.2 130.0,414.5 C127.3,413.8 126.8,412.4 126.0,410.0 C125.2,407.6 125.3,403.2 125.0,400.0 C124.7,396.8 123.7,392.5 124.0,391.0Z" fill="url(#spk2)"/>
<path d="M95.0,381.0 C95.8,378.7 98.2,378.4 100.0,378.0 C101.8,377.6 103.9,378.8 106.0,378.5 C108.1,378.2 110.6,374.5 112.6,376.0 C114.6,377.5 115.9,384.8 117.8,387.3 C119.7,389.8 122.4,389.4 124.0,391.0 C125.6,392.6 127.0,394.5 127.5,397.0 C128.0,399.5 127.6,403.3 127.0,406.0 C126.4,408.7 125.5,411.4 124.0,413.0 C122.5,414.6 120.3,415.5 118.0,415.5 C115.7,415.5 112.3,414.2 110.0,413.0 C107.7,411.8 106.0,410.0 104.0,408.0 C102.0,406.0 99.5,403.7 98.0,401.0 C96.5,398.3 95.5,395.3 95.0,392.0 C94.5,388.7 94.2,383.3 95.0,381.0Z" fill="#e08a2c" />
<path d="M95.0,381.0 C95.8,378.7 98.2,378.4 100.0,378.0 C101.8,377.6 103.9,378.8 106.0,378.5 C108.1,378.2 110.6,374.5 112.6,376.0 C114.6,377.5 115.9,384.8 117.8,387.3 C119.7,389.8 122.4,389.4 124.0,391.0 C125.6,392.6 127.0,394.5 127.5,397.0 C128.0,399.5 127.6,403.3 127.0,406.0 C126.4,408.7 125.5,411.4 124.0,413.0 C122.5,414.6 120.3,415.5 118.0,415.5 C115.7,415.5 112.3,414.2 110.0,413.0 C107.7,411.8 106.0,410.0 104.0,408.0 C102.0,406.0 99.5,403.7 98.0,401.0 C96.5,398.3 95.5,395.3 95.0,392.0 C94.5,388.7 94.2,383.3 95.0,381.0Z" fill="url(#spk2)"/>
<path d="M72.3,373.3 C73.6,370.7 77.3,369.2 79.3,368.0 C81.2,366.8 82.0,365.9 84.0,366.0 C86.0,366.1 89.5,367.9 91.5,368.9 C93.5,369.9 95.1,370.5 96.0,372.0 C96.9,373.5 97.1,375.8 97.0,378.0 C96.9,380.2 95.8,382.2 95.5,385.0 C95.2,387.8 96.4,392.6 95.5,395.0 C94.6,397.4 92.2,398.9 90.0,399.5 C87.8,400.1 84.5,399.0 82.0,398.5 C79.5,398.0 76.8,398.9 75.0,396.5 C73.2,394.1 71.9,387.7 71.4,383.8 C71.0,379.9 71.0,375.9 72.3,373.3Z" fill="#3fcb70" />
<path d="M72.3,373.3 C73.6,370.7 77.3,369.2 79.3,368.0 C81.2,366.8 82.0,365.9 84.0,366.0 C86.0,366.1 89.5,367.9 91.5,368.9 C93.5,369.9 95.1,370.5 96.0,372.0 C96.9,373.5 97.1,375.8 97.0,378.0 C96.9,380.2 95.8,382.2 95.5,385.0 C95.2,387.8 96.4,392.6 95.5,395.0 C94.6,397.4 92.2,398.9 90.0,399.5 C87.8,400.1 84.5,399.0 82.0,398.5 C79.5,398.0 76.8,398.9 75.0,396.5 C73.2,394.1 71.9,387.7 71.4,383.8 C71.0,379.9 71.0,375.9 72.3,373.3Z" fill="url(#spk2)"/>
<polygon points="84.5,358.4 86.0,360.5 88.0,363.5 91.5,368.9 86.0,368.5 80.5,368.0 82.5,363.0" fill="#79bd3a" />
<polygon points="84.5,358.4 86.0,360.5 88.0,363.5 91.5,368.9 86.0,368.5 80.5,368.0 82.5,363.0" fill="url(#spk2)" />
<path d="M89.8,372.4 C90.2,370.8 93.2,368.3 95.0,368.0 C96.8,367.7 98.2,369.5 100.3,370.7 C102.3,371.9 105.0,373.2 107.3,375.0 C109.6,376.8 112.5,379.3 114.3,381.2 C116.0,383.1 117.8,385.4 117.8,386.4 C117.8,387.4 115.8,387.7 114.3,387.3 C112.8,386.9 111.0,384.8 109.0,383.8 C107.0,382.8 104.2,381.9 102.0,381.2 C99.8,380.5 97.5,380.0 95.9,379.4 C94.3,378.8 93.4,378.9 92.4,377.7 C91.4,376.5 89.4,374.0 89.8,372.4Z" fill="#dc7bea" />
<path d="M89.8,372.4 C90.2,370.8 93.2,368.3 95.0,368.0 C96.8,367.7 98.2,369.5 100.3,370.7 C102.3,371.9 105.0,373.2 107.3,375.0 C109.6,376.8 112.5,379.3 114.3,381.2 C116.0,383.1 117.8,385.4 117.8,386.4 C117.8,387.4 115.8,387.7 114.3,387.3 C112.8,386.9 111.0,384.8 109.0,383.8 C107.0,382.8 104.2,381.9 102.0,381.2 C99.8,380.5 97.5,380.0 95.9,379.4 C94.3,378.8 93.4,378.9 92.4,377.7 C91.4,376.5 89.4,374.0 89.8,372.4Z" fill="url(#spk2)"/>
<path d="M102.0,366.3 C102.7,365.4 104.9,364.6 106.4,364.5 C107.9,364.4 109.8,364.4 110.8,365.4 C111.8,366.4 112.9,369.2 112.6,370.7 C112.3,372.2 110.3,373.9 109.0,374.2 C107.7,374.5 105.9,373.1 104.7,372.4 C103.5,371.7 102.5,370.8 102.0,369.8 C101.5,368.8 101.3,367.2 102.0,366.3Z" fill="#e8764a" opacity="0.8"/>
<path d="M102.0,366.3 C102.7,365.4 104.9,364.6 106.4,364.5 C107.9,364.4 109.8,364.4 110.8,365.4 C111.8,366.4 112.9,369.2 112.6,370.7 C112.3,372.2 110.3,373.9 109.0,374.2 C107.7,374.5 105.9,373.1 104.7,372.4 C103.5,371.7 102.5,370.8 102.0,369.8 C101.5,368.8 101.3,367.2 102.0,366.3Z" fill="url(#spk2)"/>
<polygon points="103.0,406.5 112.0,410.0 121.0,412.0 131.0,413.0 128.0,416.0 118.0,416.0 108.0,413.5" fill="#bfa12e" />
<polygon points="103.0,406.5 112.0,410.0 121.0,412.0 131.0,413.0 128.0,416.0 118.0,416.0 108.0,413.5" fill="url(#spk2)" />
<ellipse cx="107" cy="406" rx="3" ry="2" fill="#fff" opacity="0.6"/>
<ellipse cx="135" cy="409.5" rx="5" ry="1.2" fill="#fff" opacity="0.5"/>
<path d="M137.0,362.0 C137.4,360.5 138.7,360.2 140.0,360.0 C141.3,359.8 143.7,360.0 145.0,360.5 C146.3,361.0 147.3,361.8 147.6,363.0 C147.9,364.2 147.8,366.7 147.0,368.0 C146.2,369.3 143.9,369.7 143.0,371.0 C142.1,372.3 141.7,374.2 141.3,376.0 C140.9,377.8 141.1,381.0 140.8,382.0 C140.5,383.0 139.8,383.3 139.6,382.0 C139.4,380.7 139.8,376.2 139.5,374.0 C139.2,371.8 137.9,371.0 137.5,369.0 C137.1,367.0 136.6,363.5 137.0,362.0Z" fill="#3da6f0" />
<path d="M137.0,362.0 C137.4,360.5 138.7,360.2 140.0,360.0 C141.3,359.8 143.7,360.0 145.0,360.5 C146.3,361.0 147.3,361.8 147.6,363.0 C147.9,364.2 147.8,366.7 147.0,368.0 C146.2,369.3 143.9,369.7 143.0,371.0 C142.1,372.3 141.7,374.2 141.3,376.0 C140.9,377.8 141.1,381.0 140.8,382.0 C140.5,383.0 139.8,383.3 139.6,382.0 C139.4,380.7 139.8,376.2 139.5,374.0 C139.2,371.8 137.9,371.0 137.5,369.0 C137.1,367.0 136.6,363.5 137.0,362.0Z" fill="url(#spk2)"/>
<circle cx="176.5" cy="366.2" r="1.2" fill="#44cc99"/>
<ellipse cx="125.8" cy="263.3" rx="2.8" ry="2.3" fill="#a08cf5"/>
<circle cx="112.7" cy="462" r="0.5" fill="#999"/>
<text x="70.8" y="294.4" font-size="5.6" text-anchor="middle" fill="#222" color="#222" >dNK3</text>
<text x="100.2" y="293.2" font-size="5.6" text-anchor="middle" fill="#222" color="#222" >dNK1</text>
<text x="143.8" y="316.0" font-size="5.6" text-anchor="middle" fill="#222" color="#222" >dNK2</text>
<text x="126.0" y="265.0" font-size="5.6" text-anchor="middle" fill="#222" color="#222" >T_naive</text>
<text x="61.6" y="343.7" font-size="5.6" text-anchor="middle" fill="#222" color="#222" >dM1</text>
<text x="98.3" y="348.3" font-size="5.6" text-anchor="middle" fill="#222" color="#222" >Epi1</text>
<text x="36.0" y="367.2" font-size="5.6" text-anchor="middle" fill="#222" color="#222" >Epi2</text>
<text x="142.3" y="367.2" font-size="5.6" text-anchor="middle" fill="#222" color="#222" >PV2</text>
<text x="178.4" y="367.2" font-size="5.6" text-anchor="middle" fill="#222" color="#222" >Endo_l</text>
<text x="108.5" y="374.8" font-size="5.6" text-anchor="middle" fill="#222" color="#222" >dM2</text>
<text x="95.6" y="381.7" font-size="5.6" text-anchor="middle" fill="#222" color="#222" >T_EM</text>
<text x="83.5" y="386.2" font-size="5.6" text-anchor="middle" fill="#222" color="#222" >dS3</text>
<text x="110.0" y="398.4" font-size="5.6" text-anchor="middle" fill="#222" color="#222" >DC1</text>
<text x="138.1" y="404.0" font-size="5.6" text-anchor="middle" fill="#222" color="#222" >dS1</text>
<text x="111.2" y="415.4" font-size="5.6" text-anchor="middle" fill="#222" color="#222" >Endo_f</text>
<text x="87.3" y="419.6" font-size="5.6" text-anchor="middle" fill="#222" color="#222" >dS2</text>
<path d="M26.3,413.4 L26.3,432.5 L47.9,432.5" fill="none" stroke="#555" stroke-width="0.8"/>
<text x="26.0" y="442.3" font-size="8.2" text-anchor="start" fill="#222" color="#222" >umap1</text>
<text x="21.2" y="432.5" font-size="8.2" fill="#222" transform="rotate(-90 21.2 432.5)">umap2</text>
<circle cx="195.2" cy="247.7" r="3.2" fill="#3fcb70"/>
<text x="202.2" y="248.7" font-size="8.8" text-anchor="start" fill="#222" color="#222" >dS3</text>
<circle cx="195.2" cy="259.9" r="3.2" fill="#a5ad2b"/>
<text x="202.2" y="260.9" font-size="8.8" text-anchor="start" fill="#222" color="#222" >dS2</text>
<circle cx="195.2" cy="272.1" r="3.2" fill="#e08a2c"/>
<text x="202.2" y="273.1" font-size="8.8" text-anchor="start" fill="#222" color="#222" >DC1</text>
<circle cx="195.2" cy="284.3" r="3.2" fill="#cc7af0"/>
<text x="202.2" y="285.3" font-size="8.8" text-anchor="start" fill="#222" color="#222" >dNK3</text>
<circle cx="195.2" cy="296.5" r="3.2" fill="#62c235"/>
<text x="202.2" y="297.5" font-size="8.8" text-anchor="start" fill="#222" color="#222" >dS1</text>
<circle cx="195.2" cy="308.7" r="3.2" fill="#ee7b6b"/>
<text x="202.2" y="309.7" font-size="8.8" text-anchor="start" fill="#222" color="#222" >dNK1</text>
<circle cx="195.2" cy="320.9" r="3.2" fill="#eb6888"/>
<text x="202.2" y="321.9" font-size="8.8" text-anchor="start" fill="#222" color="#222" >dNK2</text>
<circle cx="195.2" cy="333.1" r="3.2" fill="#4fcbc0"/>
<text x="202.2" y="334.1" font-size="8.8" text-anchor="start" fill="#222" color="#222" >Epi2</text>
<circle cx="195.2" cy="345.3" r="3.2" fill="#52c2ec"/>
<text x="202.2" y="346.3" font-size="8.8" text-anchor="start" fill="#222" color="#222" >Epi1</text>
<circle cx="195.2" cy="357.5" r="3.2" fill="#bfa12e"/>
<text x="202.2" y="358.5" font-size="8.8" text-anchor="start" fill="#222" color="#222" >Endo_f</text>
<circle cx="195.2" cy="369.7" r="3.2" fill="#3da6f0"/>
<text x="202.2" y="370.7" font-size="8.8" text-anchor="start" fill="#222" color="#222" >PV2</text>
<circle cx="195.2" cy="381.9" r="3.2" fill="#a08cf5"/>
<text x="202.2" y="382.9" font-size="8.8" text-anchor="start" fill="#222" color="#222" >T_naive</text>
<circle cx="195.2" cy="394.1" r="3.2" fill="#7e8cf0"/>
<text x="202.2" y="395.1" font-size="8.8" text-anchor="start" fill="#222" color="#222" >dM1</text>
<circle cx="195.2" cy="406.3" r="3.2" fill="#dc7bea"/>
<text x="202.2" y="407.3" font-size="8.8" text-anchor="start" fill="#222" color="#222" >T_EM</text>
<circle cx="195.2" cy="418.5" r="3.2" fill="#44cc99"/>
<text x="202.2" y="419.5" font-size="8.8" text-anchor="start" fill="#222" color="#222" >Endo_l</text>
<circle cx="195.2" cy="430.7" r="3.2" fill="#e8764a"/>
<text x="202.2" y="431.7" font-size="8.8" text-anchor="start" fill="#222" color="#222" >dM2</text>
<path d="M305.4,325.1 C305.7,324.1 306.1,323.6 307.4,323.0 C308.8,322.5 311.4,321.9 313.7,321.6 C315.9,321.3 318.4,321.0 321.0,321.1 C323.6,321.2 326.8,321.9 329.4,322.1 C332.0,322.2 334.9,322.6 336.6,322.1 C338.4,321.6 338.8,320.4 339.8,319.1 C340.8,317.8 341.7,315.4 342.9,314.2 C344.1,313.0 345.7,312.1 347.0,311.8 C348.4,311.5 349.7,311.5 351.2,312.3 C352.8,313.0 354.7,315.1 356.4,316.2 C358.2,317.4 360.3,318.0 361.6,319.1 C363.0,320.2 364.0,320.9 364.3,322.6 C364.6,324.2 363.9,326.7 363.3,328.9 C362.7,331.1 360.5,333.8 360.6,335.8 C360.7,337.8 363.8,339.7 363.8,340.7 C363.8,341.7 361.9,340.9 360.6,341.7 C359.4,342.5 358.2,344.3 356.4,345.6 C354.7,346.9 352.5,348.4 350.2,349.5 C348.0,350.7 345.0,351.5 342.9,352.5 C340.8,353.5 339.0,354.1 337.7,355.4 C336.4,356.7 336.0,360.5 335.1,360.3 C334.2,360.1 333.4,356.2 332.5,354.4 C331.5,352.6 330.8,351.0 329.4,349.5 C328.0,348.1 326.0,346.7 324.1,345.6 C322.2,344.5 319.8,343.9 317.9,342.7 C315.9,341.6 314.2,340.3 312.6,338.8 C311.1,337.3 309.6,335.5 308.5,333.9 C307.3,332.2 306.4,330.4 305.9,328.9 C305.4,327.4 305.1,326.0 305.4,325.1Z" fill="#e9678a" />
<path d="M305.4,325.1 C305.7,324.1 306.1,323.6 307.4,323.0 C308.8,322.5 311.4,321.9 313.7,321.6 C315.9,321.3 318.4,321.0 321.0,321.1 C323.6,321.2 326.8,321.9 329.4,322.1 C332.0,322.2 334.9,322.6 336.6,322.1 C338.4,321.6 338.8,320.4 339.8,319.1 C340.8,317.8 341.7,315.4 342.9,314.2 C344.1,313.0 345.7,312.1 347.0,311.8 C348.4,311.5 349.7,311.5 351.2,312.3 C352.8,313.0 354.7,315.1 356.4,316.2 C358.2,317.4 360.3,318.0 361.6,319.1 C363.0,320.2 364.0,320.9 364.3,322.6 C364.6,324.2 363.9,326.7 363.3,328.9 C362.7,331.1 360.5,333.8 360.6,335.8 C360.7,337.8 363.8,339.7 363.8,340.7 C363.8,341.7 361.9,340.9 360.6,341.7 C359.4,342.5 358.2,344.3 356.4,345.6 C354.7,346.9 352.5,348.4 350.2,349.5 C348.0,350.7 345.0,351.5 342.9,352.5 C340.8,353.5 339.0,354.1 337.7,355.4 C336.4,356.7 336.0,360.5 335.1,360.3 C334.2,360.1 333.4,356.2 332.5,354.4 C331.5,352.6 330.8,351.0 329.4,349.5 C328.0,348.1 326.0,346.7 324.1,345.6 C322.2,344.5 319.8,343.9 317.9,342.7 C315.9,341.6 314.2,340.3 312.6,338.8 C311.1,337.3 309.6,335.5 308.5,333.9 C307.3,332.2 306.4,330.4 305.9,328.9 C305.4,327.4 305.1,326.0 305.4,325.1Z" fill="url(#spk2)"/>
<path d="M305.4,323.7 C305.5,322.5 305.2,322.0 307.3,321.5 C309.4,321.0 313.5,320.6 317.8,320.5 C322.1,320.4 329.2,320.7 333.0,320.9 C336.8,321.1 339.2,320.9 340.5,321.8 C341.8,322.8 342.4,325.5 340.5,326.6 C338.6,327.7 331.8,327.7 329.0,328.5 C326.2,329.3 325.4,330.7 323.5,331.3 C321.6,331.9 320.0,332.5 317.8,332.3 C315.6,332.1 312.1,331.0 310.2,330.4 C308.3,329.8 307.2,329.6 306.4,328.5 C305.6,327.4 305.2,324.9 305.4,323.7Z" fill="#c77bf2" />
<path d="M305.4,323.7 C305.5,322.5 305.2,322.0 307.3,321.5 C309.4,321.0 313.5,320.6 317.8,320.5 C322.1,320.4 329.2,320.7 333.0,320.9 C336.8,321.1 339.2,320.9 340.5,321.8 C341.8,322.8 342.4,325.5 340.5,326.6 C338.6,327.7 331.8,327.7 329.0,328.5 C326.2,329.3 325.4,330.7 323.5,331.3 C321.6,331.9 320.0,332.5 317.8,332.3 C315.6,332.1 312.1,331.0 310.2,330.4 C308.3,329.8 307.2,329.6 306.4,328.5 C305.6,327.4 305.2,324.9 305.4,323.7Z" fill="url(#spk2)"/>
<path d="M339.6,319.0 C340.1,317.7 341.0,316.4 342.4,315.2 C343.8,314.0 346.2,312.1 348.1,311.8 C350.0,311.5 351.9,312.3 353.8,313.3 C355.7,314.3 358.1,316.4 359.5,318.0 C360.9,319.6 362.1,320.4 362.4,322.8 C362.7,325.2 361.7,329.8 361.4,332.3 C361.1,334.8 361.8,336.4 360.5,338.0 C359.2,339.6 355.6,341.7 353.8,341.7 C352.1,341.7 350.9,339.6 350.0,338.0 C349.1,336.4 349.7,333.9 348.1,332.3 C346.5,330.7 341.9,330.1 340.5,328.5 C339.1,326.9 339.8,324.4 339.6,322.8 C339.5,321.2 339.1,320.3 339.6,319.0Z" fill="#ec7b6a" />
<path d="M339.6,319.0 C340.1,317.7 341.0,316.4 342.4,315.2 C343.8,314.0 346.2,312.1 348.1,311.8 C350.0,311.5 351.9,312.3 353.8,313.3 C355.7,314.3 358.1,316.4 359.5,318.0 C360.9,319.6 362.1,320.4 362.4,322.8 C362.7,325.2 361.7,329.8 361.4,332.3 C361.1,334.8 361.8,336.4 360.5,338.0 C359.2,339.6 355.6,341.7 353.8,341.7 C352.1,341.7 350.9,339.6 350.0,338.0 C349.1,336.4 349.7,333.9 348.1,332.3 C346.5,330.7 341.9,330.1 340.5,328.5 C339.1,326.9 339.8,324.4 339.6,322.8 C339.5,321.2 339.1,320.3 339.6,319.0Z" fill="url(#spk2)"/>
<path d="M326.2,334.8 C327.1,334.2 330.5,334.2 332.5,333.9 C334.4,333.6 335.7,333.2 337.7,332.8 C339.6,332.5 342.1,331.7 344.0,331.9 C345.9,332.0 348.2,332.7 349.2,333.9 C350.2,335.0 350.6,337.2 350.2,338.8 C349.9,340.4 348.4,342.2 347.0,343.7 C345.7,345.2 343.6,346.5 341.8,347.6 C340.1,348.8 338.2,350.7 336.6,350.5 C335.1,350.3 333.7,348.0 332.5,346.6 C331.2,345.1 330.3,343.1 329.4,341.7 C328.5,340.2 327.8,338.9 327.2,337.7 C326.7,336.6 325.4,335.5 326.2,334.8Z" fill="#fff" opacity="0.72"/>
<path d="M381.0,350.5 C381.2,349.2 384.8,347.6 386.0,345.5 C387.2,343.4 387.0,340.2 388.0,338.0 C389.0,335.8 390.2,334.1 391.8,332.3 C393.4,330.6 395.3,328.4 397.5,327.5 C399.7,326.6 402.5,326.0 405.0,326.6 C407.5,327.2 410.9,329.4 412.6,331.3 C414.4,333.2 414.1,335.8 415.5,338.0 C416.9,340.2 421.1,342.7 421.2,344.6 C421.3,346.5 416.7,346.6 416.4,349.3 C416.1,352.0 419.3,357.9 419.3,360.7 C419.3,363.5 418.4,365.3 416.4,366.4 C414.3,367.5 410.1,367.9 407.0,367.4 C403.9,366.9 400.0,365.0 397.5,363.6 C395.0,362.2 393.4,360.2 391.8,358.8 C390.2,357.4 389.1,356.4 388.0,355.5 C386.9,354.6 386.2,354.3 385.0,353.5 C383.8,352.7 380.8,351.8 381.0,350.5Z" fill="#e9678a" />
<path d="M381.0,350.5 C381.2,349.2 384.8,347.6 386.0,345.5 C387.2,343.4 387.0,340.2 388.0,338.0 C389.0,335.8 390.2,334.1 391.8,332.3 C393.4,330.6 395.3,328.4 397.5,327.5 C399.7,326.6 402.5,326.0 405.0,326.6 C407.5,327.2 410.9,329.4 412.6,331.3 C414.4,333.2 414.1,335.8 415.5,338.0 C416.9,340.2 421.1,342.7 421.2,344.6 C421.3,346.5 416.7,346.6 416.4,349.3 C416.1,352.0 419.3,357.9 419.3,360.7 C419.3,363.5 418.4,365.3 416.4,366.4 C414.3,367.5 410.1,367.9 407.0,367.4 C403.9,366.9 400.0,365.0 397.5,363.6 C395.0,362.2 393.4,360.2 391.8,358.8 C390.2,357.4 389.1,356.4 388.0,355.5 C386.9,354.6 386.2,354.3 385.0,353.5 C383.8,352.7 380.8,351.8 381.0,350.5Z" fill="url(#spk2)"/>
<circle cx="382.6" cy="350.9" r="0.55" fill="#e9678a"/><circle cx="385.3" cy="355.7" r="0.55" fill="#e9678a"/><circle cx="385.0" cy="352.5" r="0.55" fill="#e9678a"/><circle cx="387.4" cy="354.6" r="0.55" fill="#e9678a"/><circle cx="388.0" cy="355.4" r="0.55" fill="#e9678a"/><circle cx="388.8" cy="353.1" r="0.55" fill="#e9678a"/><circle cx="379.6" cy="350.1" r="0.55" fill="#e9678a"/><circle cx="387.3" cy="350.3" r="0.55" fill="#e9678a"/><circle cx="386.3" cy="355.0" r="0.55" fill="#e9678a"/><circle cx="387.3" cy="356.2" r="0.55" fill="#e9678a"/><circle cx="385.9" cy="354.9" r="0.55" fill="#e9678a"/><circle cx="383.0" cy="355.5" r="0.55" fill="#e9678a"/><circle cx="384.2" cy="352.6" r="0.55" fill="#e9678a"/><circle cx="383.7" cy="356.1" r="0.55" fill="#e9678a"/><circle cx="383.2" cy="356.3" r="0.55" fill="#e9678a"/><circle cx="386.3" cy="351.9" r="0.55" fill="#e9678a"/><circle cx="389.3" cy="356.4" r="0.55" fill="#e9678a"/><circle cx="386.3" cy="356.4" r="0.55" fill="#e9678a"/><circle cx="385.7" cy="352.9" r="0.55" fill="#e9678a"/><circle cx="389.0" cy="358.6" r="0.55" fill="#e9678a"/><circle cx="380.8" cy="353.1" r="0.55" fill="#e9678a"/><circle cx="387.4" cy="355.6" r="0.55" fill="#e9678a"/><circle cx="383.0" cy="353.2" r="0.55" fill="#e9678a"/><circle cx="387.6" cy="356.2" r="0.55" fill="#e9678a"/><circle cx="380.4" cy="350.2" r="0.55" fill="#e9678a"/><circle cx="377.9" cy="350.4" r="0.55" fill="#e9678a"/><circle cx="380.7" cy="354.5" r="0.55" fill="#e9678a"/><circle cx="379.6" cy="352.0" r="0.55" fill="#e9678a"/><circle cx="385.6" cy="356.0" r="0.55" fill="#e9678a"/><circle cx="385.0" cy="353.7" r="0.55" fill="#e9678a"/><circle cx="386.1" cy="353.9" r="0.55" fill="#e9678a"/><circle cx="386.3" cy="350.4" r="0.55" fill="#e9678a"/><circle cx="387.3" cy="356.7" r="0.55" fill="#e9678a"/><circle cx="385.5" cy="352.2" r="0.55" fill="#e9678a"/><circle cx="386.7" cy="358.2" r="0.55" fill="#e9678a"/><circle cx="385.8" cy="357.2" r="0.55" fill="#e9678a"/><circle cx="385.4" cy="351.7" r="0.55" fill="#e9678a"/><circle cx="388.3" cy="355.8" r="0.55" fill="#e9678a"/><circle cx="380.7" cy="353.8" r="0.55" fill="#e9678a"/><circle cx="385.5" cy="350.9" r="0.55" fill="#e9678a"/><circle cx="380.0" cy="353.5" r="0.55" fill="#e9678a"/><circle cx="390.2" cy="357.2" r="0.55" fill="#e9678a"/><circle cx="387.2" cy="355.9" r="0.55" fill="#e9678a"/><circle cx="381.9" cy="352.3" r="0.55" fill="#e9678a"/><circle cx="384.4" cy="350.1" r="0.55" fill="#e9678a"/>
<ellipse cx="390" cy="350.5" rx="2.2" ry="2" fill="#fff" opacity="0.6"/>
<text x="318.0" y="328.0" font-size="3.3" text-anchor="middle" fill="#222" color="#222" >dNK3</text>
<text x="351.0" y="325.8" font-size="3.3" text-anchor="middle" fill="#222" color="#222" >dNK1</text>
<text x="394.5" y="343.6" font-size="3.3" text-anchor="middle" fill="#222" color="#222" >dNK2</text>
<circle cx="381.5" cy="409.2" r="0.45" fill="#e9678a"/><circle cx="399.1" cy="417.6" r="0.45" fill="#e9678a"/><circle cx="393.5" cy="416.7" r="0.45" fill="#e9678a"/><circle cx="321.0" cy="397.6" r="0.45" fill="#e9678a"/><circle cx="414.2" cy="405.3" r="0.45" fill="#e9678a"/><circle cx="409.9" cy="382.8" r="0.45" fill="#e9678a"/><circle cx="365.8" cy="388.4" r="0.45" fill="#e9678a"/><circle cx="373.5" cy="402.1" r="0.45" fill="#e9678a"/><circle cx="319.3" cy="387.1" r="0.45" fill="#e9678a"/><circle cx="346.5" cy="416.5" r="0.45" fill="#e9678a"/><circle cx="396.1" cy="384.7" r="0.45" fill="#e9678a"/><circle cx="399.3" cy="383.8" r="0.45" fill="#e9678a"/><circle cx="381.0" cy="383.3" r="0.45" fill="#e9678a"/><circle cx="318.2" cy="414.6" r="0.45" fill="#e9678a"/><circle cx="339.4" cy="387.1" r="0.45" fill="#e9678a"/><circle cx="418.2" cy="414.6" r="0.45" fill="#e9678a"/><circle cx="347.5" cy="418.4" r="0.45" fill="#e9678a"/><circle cx="373.0" cy="406.5" r="0.45" fill="#e9678a"/><circle cx="338.9" cy="417.5" r="0.45" fill="#e9678a"/><circle cx="388.4" cy="418.6" r="0.45" fill="#e9678a"/><circle cx="409.2" cy="390.5" r="0.45" fill="#e9678a"/><circle cx="354.8" cy="385.0" r="0.45" fill="#e9678a"/><circle cx="332.9" cy="380.7" r="0.45" fill="#e9678a"/><circle cx="348.7" cy="403.3" r="0.45" fill="#e9678a"/><circle cx="318.3" cy="406.5" r="0.45" fill="#e9678a"/><circle cx="352.5" cy="391.0" r="0.45" fill="#e9678a"/><circle cx="401.5" cy="398.2" r="0.45" fill="#e9678a"/><circle cx="350.2" cy="398.2" r="0.45" fill="#e9678a"/><circle cx="389.9" cy="380.4" r="0.45" fill="#e9678a"/><circle cx="417.5" cy="379.0" r="0.45" fill="#e9678a"/><circle cx="394.5" cy="413.5" r="0.45" fill="#e9678a"/><circle cx="319.8" cy="411.1" r="0.45" fill="#e9678a"/><circle cx="355.4" cy="402.3" r="0.45" fill="#e9678a"/><circle cx="318.9" cy="380.0" r="0.45" fill="#e9678a"/><circle cx="336.5" cy="418.1" r="0.45" fill="#e9678a"/><circle cx="338.0" cy="409.7" r="0.45" fill="#e9678a"/><circle cx="412.8" cy="417.6" r="0.45" fill="#e9678a"/><circle cx="353.1" cy="392.9" r="0.45" fill="#e9678a"/><circle cx="371.5" cy="410.6" r="0.45" fill="#e9678a"/><circle cx="329.0" cy="409.4" r="0.45" fill="#e9678a"/><circle cx="399.3" cy="414.1" r="0.45" fill="#e9678a"/><circle cx="321.7" cy="417.7" r="0.45" fill="#e9678a"/><circle cx="327.3" cy="392.3" r="0.45" fill="#e9678a"/><circle cx="380.3" cy="416.6" r="0.45" fill="#e9678a"/><circle cx="352.7" cy="416.8" r="0.45" fill="#e9678a"/><circle cx="354.0" cy="388.7" r="0.55" fill="#e9678a"/><circle cx="354.6" cy="389.4" r="0.55" fill="#e9678a"/><circle cx="355.5" cy="389.1" r="0.55" fill="#e9678a"/><circle cx="353.5" cy="386.4" r="0.55" fill="#e9678a"/><circle cx="355.1" cy="389.1" r="0.55" fill="#e9678a"/><circle cx="356.3" cy="388.8" r="0.55" fill="#e9678a"/><circle cx="354.2" cy="389.2" r="0.55" fill="#e9678a"/><circle cx="353.2" cy="388.1" r="0.55" fill="#e9678a"/><circle cx="353.8" cy="389.1" r="0.55" fill="#e9678a"/><circle cx="357.2" cy="389.5" r="0.55" fill="#e9678a"/><circle cx="356.2" cy="389.1" r="0.55" fill="#e9678a"/><circle cx="355.2" cy="388.5" r="0.55" fill="#e9678a"/><circle cx="354.6" cy="387.0" r="0.55" fill="#e9678a"/><circle cx="353.6" cy="387.9" r="0.55" fill="#e9678a"/><circle cx="387.9" cy="415.1" r="0.55" fill="#e9678a"/><circle cx="388.3" cy="415.8" r="0.55" fill="#e9678a"/><circle cx="386.7" cy="415.4" r="0.55" fill="#e9678a"/><circle cx="389.2" cy="414.6" r="0.55" fill="#e9678a"/><circle cx="388.2" cy="414.5" r="0.55" fill="#e9678a"/><circle cx="385.2" cy="414.7" r="0.55" fill="#e9678a"/><circle cx="386.1" cy="414.7" r="0.55" fill="#e9678a"/><circle cx="386.5" cy="414.9" r="0.55" fill="#e9678a"/><circle cx="384.6" cy="416.3" r="0.55" fill="#e9678a"/><circle cx="388.5" cy="414.3" r="0.55" fill="#e9678a"/><circle cx="386.0" cy="414.6" r="0.55" fill="#e9678a"/><circle cx="387.7" cy="414.9" r="0.55" fill="#e9678a"/><circle cx="387.4" cy="413.0" r="0.55" fill="#e9678a"/><circle cx="385.8" cy="415.7" r="0.55" fill="#e9678a"/>
<path d="M306.1,405 L306.1,421 L321.9,421" fill="none" stroke="#555" stroke-width="0.8"/>
<text x="305.8" y="427.8" font-size="6.0" text-anchor="start" fill="#222" color="#222" >umap1</text>
<text x="302.8" y="421.0" font-size="6.0" fill="#222" transform="rotate(-90 302.8 421.0)">umap2</text>
<circle cx="439.4" cy="358.2" r="2.35" fill="#ec7b6a"/>
<text x="445.1" y="360.2" font-size="5.6" text-anchor="start" font-weight="bold" fill="#222" color="#222" >dNK1</text>
<circle cx="439.4" cy="366.7" r="2.35" fill="#e9678a"/>
<text x="445.1" y="368.7" font-size="5.6" text-anchor="start" font-weight="bold" fill="#222" color="#222" >dNK2</text>
<circle cx="439.4" cy="375.2" r="2.35" fill="#c77bf2"/>
<text x="445.1" y="377.2" font-size="5.6" text-anchor="start" font-weight="bold" fill="#222" color="#222" >dNK3</text>
<path d="M46.5,488.2 C46.7,487.2 47.1,486.7 48.4,486.1 C49.6,485.6 52.0,485.0 54.1,484.7 C56.2,484.4 58.4,484.1 60.8,484.2 C63.3,484.3 66.1,485.0 68.5,485.2 C70.9,485.3 73.6,485.7 75.2,485.2 C76.8,484.7 77.1,483.5 78.1,482.1 C79.1,480.8 79.8,478.4 80.9,477.1 C82.0,475.9 83.5,475.0 84.8,474.7 C86.0,474.4 87.2,474.4 88.6,475.2 C90.0,475.9 91.8,478.0 93.4,479.2 C95.0,480.4 97.0,481.1 98.2,482.1 C99.4,483.2 100.3,484.0 100.6,485.7 C100.9,487.3 100.2,489.9 99.7,492.1 C99.1,494.4 97.1,497.2 97.2,499.2 C97.3,501.2 100.1,503.1 100.1,504.1 C100.1,505.1 98.3,504.3 97.2,505.1 C96.1,506.0 95.0,507.8 93.4,509.1 C91.8,510.5 89.7,512.0 87.7,513.1 C85.6,514.3 82.8,515.2 80.9,516.2 C79.0,517.2 77.3,517.8 76.1,519.1 C74.9,520.4 74.6,524.3 73.8,524.1 C73.0,523.9 72.2,520.0 71.3,518.1 C70.5,516.3 69.8,514.6 68.5,513.1 C67.3,511.6 65.4,510.3 63.7,509.1 C61.9,508.0 59.7,507.4 57.9,506.2 C56.2,505.0 54.6,503.7 53.2,502.2 C51.7,500.7 50.3,498.9 49.3,497.2 C48.3,495.5 47.4,493.6 47.0,492.1 C46.5,490.6 46.3,489.2 46.5,488.2Z" fill="#c77cf0" />
<path d="M46.5,488.2 C46.7,487.2 47.1,486.7 48.4,486.1 C49.6,485.6 52.0,485.0 54.1,484.7 C56.2,484.4 58.4,484.1 60.8,484.2 C63.3,484.3 66.1,485.0 68.5,485.2 C70.9,485.3 73.6,485.7 75.2,485.2 C76.8,484.7 77.1,483.5 78.1,482.1 C79.1,480.8 79.8,478.4 80.9,477.1 C82.0,475.9 83.5,475.0 84.8,474.7 C86.0,474.4 87.2,474.4 88.6,475.2 C90.0,475.9 91.8,478.0 93.4,479.2 C95.0,480.4 97.0,481.1 98.2,482.1 C99.4,483.2 100.3,484.0 100.6,485.7 C100.9,487.3 100.2,489.9 99.7,492.1 C99.1,494.4 97.1,497.2 97.2,499.2 C97.3,501.2 100.1,503.1 100.1,504.1 C100.1,505.1 98.3,504.3 97.2,505.1 C96.1,506.0 95.0,507.8 93.4,509.1 C91.8,510.5 89.7,512.0 87.7,513.1 C85.6,514.3 82.8,515.2 80.9,516.2 C79.0,517.2 77.3,517.8 76.1,519.1 C74.9,520.4 74.6,524.3 73.8,524.1 C73.0,523.9 72.2,520.0 71.3,518.1 C70.5,516.3 69.8,514.6 68.5,513.1 C67.3,511.6 65.4,510.3 63.7,509.1 C61.9,508.0 59.7,507.4 57.9,506.2 C56.2,505.0 54.6,503.7 53.2,502.2 C51.7,500.7 50.3,498.9 49.3,497.2 C48.3,495.5 47.4,493.6 47.0,492.1 C46.5,490.6 46.3,489.2 46.5,488.2Z" fill="url(#spk2)"/>
<path d="M65.6,498.2 C66.4,497.5 69.6,497.5 71.3,497.2 C73.1,496.9 74.4,496.5 76.1,496.1 C77.9,495.8 80.2,495.0 81.9,495.1 C83.7,495.3 85.8,496.0 86.7,497.2 C87.7,498.4 88.0,500.5 87.7,502.2 C87.3,503.9 86.0,505.7 84.8,507.2 C83.5,508.7 81.6,510.0 80.0,511.2 C78.4,512.3 76.6,514.3 75.2,514.1 C73.8,513.9 72.5,511.6 71.3,510.1 C70.2,508.6 69.3,506.6 68.5,505.1 C67.7,503.6 67.0,502.3 66.6,501.1 C66.1,500.0 64.8,498.8 65.6,498.2Z" fill="#fff" opacity="0.7"/>
<circle cx="65" cy="484.5" r="0.8" fill="#ea6a88"/><circle cx="80" cy="483" r="0.8" fill="#ea6a88"/><circle cx="98.5" cy="505" r="1" fill="#ea6a88"/>
<text x="77.5" y="494.3" font-size="3.4" text-anchor="middle" fill="#222" color="#222" >SIGLEC7-</text>
<circle cx="116.8" cy="517.2" r="0.6" fill="#c77cf0"/><circle cx="119.5" cy="514.0" r="0.6" fill="#c77cf0"/><circle cx="118.0" cy="516.1" r="0.6" fill="#c77cf0"/><circle cx="113.5" cy="515.1" r="0.6" fill="#c77cf0"/><circle cx="127.2" cy="523.5" r="0.6" fill="#c77cf0"/><circle cx="127.5" cy="523.1" r="0.6" fill="#c77cf0"/><circle cx="115.9" cy="518.3" r="0.6" fill="#c77cf0"/><circle cx="123.4" cy="519.6" r="0.6" fill="#c77cf0"/><circle cx="118.5" cy="517.0" r="0.6" fill="#c77cf0"/><circle cx="116.0" cy="514.1" r="0.6" fill="#c77cf0"/><circle cx="117.5" cy="518.0" r="0.6" fill="#c77cf0"/><circle cx="116.6" cy="517.6" r="0.6" fill="#c77cf0"/><circle cx="122.0" cy="517.9" r="0.6" fill="#c77cf0"/><circle cx="119.1" cy="517.2" r="0.6" fill="#c77cf0"/><circle cx="126.2" cy="520.5" r="0.6" fill="#c77cf0"/><circle cx="120.9" cy="516.5" r="0.6" fill="#c77cf0"/><circle cx="128.4" cy="527.9" r="0.6" fill="#c77cf0"/><circle cx="122.9" cy="516.1" r="0.6" fill="#c77cf0"/><circle cx="126.0" cy="522.3" r="0.6" fill="#c77cf0"/><circle cx="127.8" cy="527.2" r="0.6" fill="#c77cf0"/><circle cx="117.4" cy="514.5" r="0.6" fill="#c77cf0"/><circle cx="119.5" cy="517.0" r="0.6" fill="#c77cf0"/><circle cx="115.4" cy="518.7" r="0.6" fill="#c77cf0"/><circle cx="116.0" cy="517.2" r="0.6" fill="#c77cf0"/><circle cx="115.7" cy="515.7" r="0.6" fill="#c77cf0"/><circle cx="119.5" cy="521.2" r="0.6" fill="#c77cf0"/><circle cx="119.5" cy="518.1" r="0.6" fill="#c77cf0"/><circle cx="129.4" cy="528.8" r="0.6" fill="#c77cf0"/><circle cx="120.6" cy="517.1" r="0.6" fill="#c77cf0"/><circle cx="119.1" cy="514.5" r="0.6" fill="#c77cf0"/><circle cx="116.1" cy="515.5" r="0.6" fill="#c77cf0"/><circle cx="124.0" cy="518.5" r="0.6" fill="#c77cf0"/><circle cx="130.0" cy="529.9" r="0.6" fill="#c77cf0"/><circle cx="127.8" cy="528.0" r="0.6" fill="#c77cf0"/><circle cx="118.5" cy="516.2" r="0.6" fill="#c77cf0"/><circle cx="114.2" cy="515.5" r="0.6" fill="#c77cf0"/><circle cx="123.3" cy="517.9" r="0.6" fill="#c77cf0"/><circle cx="119.5" cy="518.1" r="0.6" fill="#c77cf0"/><circle cx="123.4" cy="517.9" r="0.6" fill="#c77cf0"/><circle cx="127.0" cy="523.1" r="0.6" fill="#c77cf0"/><circle cx="114.5" cy="515.7" r="0.6" fill="#c77cf0"/><circle cx="116.3" cy="515.2" r="0.6" fill="#c77cf0"/><circle cx="127.7" cy="527.7" r="0.6" fill="#c77cf0"/><circle cx="120.2" cy="518.6" r="0.6" fill="#c77cf0"/><circle cx="125.1" cy="518.7" r="0.6" fill="#c77cf0"/><circle cx="118.4" cy="514.7" r="0.6" fill="#c77cf0"/><circle cx="123.9" cy="519.0" r="0.6" fill="#c77cf0"/><circle cx="124.9" cy="518.5" r="0.6" fill="#c77cf0"/><circle cx="117.4" cy="520.3" r="0.6" fill="#c77cf0"/><circle cx="119.1" cy="518.4" r="0.6" fill="#c77cf0"/><circle cx="119.8" cy="517.1" r="0.6" fill="#c77cf0"/><circle cx="123.3" cy="519.1" r="0.6" fill="#c77cf0"/><circle cx="124.0" cy="517.3" r="0.6" fill="#c77cf0"/><circle cx="120.8" cy="517.6" r="0.6" fill="#c77cf0"/><circle cx="125.5" cy="526.2" r="0.6" fill="#c77cf0"/><circle cx="126.9" cy="522.6" r="0.6" fill="#c77cf0"/><circle cx="120.4" cy="517.8" r="0.6" fill="#c77cf0"/><circle cx="125.7" cy="522.1" r="0.6" fill="#c77cf0"/><circle cx="123.2" cy="518.1" r="0.6" fill="#c77cf0"/><circle cx="116.7" cy="518.8" r="0.6" fill="#c77cf0"/><circle cx="121.6" cy="515.8" r="0.6" fill="#c77cf0"/><circle cx="119.4" cy="517.0" r="0.6" fill="#c77cf0"/><circle cx="118.7" cy="513.7" r="0.6" fill="#c77cf0"/><circle cx="121.7" cy="523.5" r="0.6" fill="#c77cf0"/><circle cx="115.8" cy="517.2" r="0.6" fill="#c77cf0"/><circle cx="119.1" cy="516.3" r="0.6" fill="#c77cf0"/><circle cx="120.3" cy="515.7" r="0.6" fill="#c77cf0"/><circle cx="115.6" cy="518.9" r="0.6" fill="#c77cf0"/><circle cx="125.7" cy="519.8" r="0.6" fill="#c77cf0"/><circle cx="116.4" cy="514.9" r="0.6" fill="#c77cf0"/>
<path d="M124.5,499.9 C125.3,498.6 126.0,496.4 127.3,495.1 C128.6,493.7 130.5,492.5 132.2,491.7 C133.8,490.9 135.4,490.3 137.0,490.2 C138.7,490.1 140.3,490.5 142.0,491.2 C143.6,491.8 145.6,493.0 146.8,494.1 C148.0,495.3 148.7,496.6 149.2,498.0 C149.7,499.5 149.1,501.6 149.7,502.9 C150.3,504.2 151.7,505.0 152.6,505.8 C153.6,506.6 155.6,506.9 155.6,507.7 C155.6,508.6 153.9,509.9 152.6,510.7 C151.3,511.5 148.4,511.5 147.8,512.6 C147.1,513.7 148.1,515.8 148.7,517.5 C149.4,519.1 151.0,521.0 151.7,522.4 C152.3,523.9 152.8,525.0 152.6,526.2 C152.5,527.5 151.9,529.3 150.6,530.1 C149.3,531.0 146.8,531.4 144.8,531.1 C142.9,530.8 140.8,529.2 139.0,528.2 C137.2,527.3 135.6,526.3 134.2,525.3 C132.7,524.3 131.2,523.6 130.3,522.3 C129.3,521.0 129.0,519.1 128.3,517.5 C127.5,515.8 126.7,513.9 125.9,512.6 C125.1,511.3 124.1,510.7 123.4,509.7 C122.7,508.8 121.7,507.9 121.5,506.8 C121.3,505.6 122.0,504.0 122.5,502.9 C122.9,501.7 123.6,501.2 124.5,499.9Z" fill="#ea6a88" />
<path d="M124.5,499.9 C125.3,498.6 126.0,496.4 127.3,495.1 C128.6,493.7 130.5,492.5 132.2,491.7 C133.8,490.9 135.4,490.3 137.0,490.2 C138.7,490.1 140.3,490.5 142.0,491.2 C143.6,491.8 145.6,493.0 146.8,494.1 C148.0,495.3 148.7,496.6 149.2,498.0 C149.7,499.5 149.1,501.6 149.7,502.9 C150.3,504.2 151.7,505.0 152.6,505.8 C153.6,506.6 155.6,506.9 155.6,507.7 C155.6,508.6 153.9,509.9 152.6,510.7 C151.3,511.5 148.4,511.5 147.8,512.6 C147.1,513.7 148.1,515.8 148.7,517.5 C149.4,519.1 151.0,521.0 151.7,522.4 C152.3,523.9 152.8,525.0 152.6,526.2 C152.5,527.5 151.9,529.3 150.6,530.1 C149.3,531.0 146.8,531.4 144.8,531.1 C142.9,530.8 140.8,529.2 139.0,528.2 C137.2,527.3 135.6,526.3 134.2,525.3 C132.7,524.3 131.2,523.6 130.3,522.3 C129.3,521.0 129.0,519.1 128.3,517.5 C127.5,515.8 126.7,513.9 125.9,512.6 C125.1,511.3 124.1,510.7 123.4,509.7 C122.7,508.8 121.7,507.9 121.5,506.8 C121.3,505.6 122.0,504.0 122.5,502.9 C122.9,501.7 123.6,501.2 124.5,499.9Z" fill="url(#spk2)"/>
<text x="138.0" y="507.6" font-size="3.4" text-anchor="middle" fill="#222" color="#222" >SIGLEC7+</text>
<circle cx="102.7" cy="559.4" r="0.45" fill="#c77cf0"/><circle cx="74.2" cy="585.1" r="0.45" fill="#c77cf0"/><circle cx="62.6" cy="566.1" r="0.45" fill="#c77cf0"/><circle cx="141.1" cy="544.2" r="0.45" fill="#c77cf0"/><circle cx="110.8" cy="572.1" r="0.45" fill="#c77cf0"/><circle cx="65.6" cy="559.7" r="0.45" fill="#c77cf0"/><circle cx="123.9" cy="563.5" r="0.45" fill="#c77cf0"/><circle cx="125.8" cy="548.2" r="0.45" fill="#c77cf0"/><circle cx="82.9" cy="545.8" r="0.45" fill="#c77cf0"/><circle cx="106.6" cy="588.0" r="0.45" fill="#c77cf0"/><circle cx="114.0" cy="580.3" r="0.45" fill="#c77cf0"/><circle cx="95.8" cy="578.8" r="0.45" fill="#c77cf0"/><circle cx="70.9" cy="555.1" r="0.45" fill="#c77cf0"/><circle cx="121.3" cy="577.7" r="0.45" fill="#c77cf0"/><circle cx="99.1" cy="544.6" r="0.45" fill="#c77cf0"/><circle cx="85.5" cy="550.9" r="0.45" fill="#c77cf0"/><circle cx="86.7" cy="582.1" r="0.45" fill="#c77cf0"/><circle cx="79.6" cy="586.1" r="0.45" fill="#c77cf0"/><circle cx="139.4" cy="542.8" r="0.45" fill="#c77cf0"/><circle cx="95.3" cy="565.6" r="0.45" fill="#c77cf0"/><circle cx="64.1" cy="562.1" r="0.45" fill="#c77cf0"/><circle cx="141.8" cy="545.8" r="0.45" fill="#c77cf0"/><circle cx="114.5" cy="546.3" r="0.45" fill="#c77cf0"/><circle cx="112.9" cy="586.6" r="0.45" fill="#c77cf0"/><circle cx="79.9" cy="540.4" r="0.45" fill="#c77cf0"/><circle cx="69.3" cy="568.1" r="0.45" fill="#c77cf0"/><circle cx="63.5" cy="544.4" r="0.45" fill="#c77cf0"/><circle cx="105.7" cy="587.9" r="0.45" fill="#c77cf0"/><circle cx="99.0" cy="560.7" r="0.45" fill="#c77cf0"/><circle cx="118.2" cy="544.9" r="0.45" fill="#c77cf0"/><circle cx="113.0" cy="549.0" r="0.45" fill="#c77cf0"/><circle cx="115.6" cy="589.8" r="0.45" fill="#c77cf0"/><circle cx="66.8" cy="568.9" r="0.45" fill="#c77cf0"/><circle cx="115.4" cy="547.8" r="0.45" fill="#c77cf0"/><circle cx="85.6" cy="591.7" r="0.45" fill="#c77cf0"/><circle cx="149.8" cy="546.3" r="0.45" fill="#c77cf0"/><circle cx="124.1" cy="589.4" r="0.45" fill="#c77cf0"/><circle cx="82.8" cy="571.8" r="0.45" fill="#c77cf0"/><circle cx="65.8" cy="559.0" r="0.45" fill="#c77cf0"/><circle cx="121.3" cy="570.7" r="0.45" fill="#c77cf0"/><circle cx="94.1" cy="552.5" r="0.55" fill="#c77cf0"/><circle cx="92.7" cy="554.1" r="0.55" fill="#c77cf0"/><circle cx="93.0" cy="552.4" r="0.55" fill="#c77cf0"/><circle cx="91.4" cy="554.1" r="0.55" fill="#c77cf0"/><circle cx="93.8" cy="552.7" r="0.55" fill="#c77cf0"/><circle cx="94.3" cy="552.1" r="0.55" fill="#c77cf0"/><circle cx="93.3" cy="553.0" r="0.55" fill="#c77cf0"/><circle cx="93.1" cy="553.0" r="0.55" fill="#c77cf0"/><circle cx="95.3" cy="553.4" r="0.55" fill="#c77cf0"/><circle cx="95.5" cy="553.6" r="0.55" fill="#c77cf0"/><circle cx="95.9" cy="553.0" r="0.55" fill="#c77cf0"/><circle cx="94.5" cy="551.9" r="0.55" fill="#c77cf0"/><circle cx="93.8" cy="552.2" r="0.55" fill="#c77cf0"/><circle cx="93.9" cy="552.0" r="0.55" fill="#c77cf0"/><circle cx="124.0" cy="580.2" r="0.55" fill="#c77cf0"/><circle cx="122.8" cy="578.7" r="0.55" fill="#c77cf0"/><circle cx="124.4" cy="577.6" r="0.55" fill="#c77cf0"/><circle cx="123.4" cy="577.8" r="0.55" fill="#c77cf0"/><circle cx="124.2" cy="577.7" r="0.55" fill="#c77cf0"/><circle cx="126.5" cy="578.9" r="0.55" fill="#c77cf0"/><circle cx="124.9" cy="579.9" r="0.55" fill="#c77cf0"/><circle cx="125.2" cy="578.1" r="0.55" fill="#c77cf0"/><circle cx="124.1" cy="578.2" r="0.55" fill="#c77cf0"/><circle cx="124.0" cy="579.0" r="0.55" fill="#c77cf0"/><circle cx="121.5" cy="576.9" r="0.55" fill="#c77cf0"/><circle cx="123.3" cy="578.5" r="0.55" fill="#c77cf0"/><circle cx="123.1" cy="578.0" r="0.55" fill="#c77cf0"/><circle cx="124.9" cy="578.7" r="0.55" fill="#c77cf0"/>
<path d="M45.4,568.5 L45.4,584.7 L61.5,584.7" fill="none" stroke="#555" stroke-width="0.8"/>
<text x="45.1" y="592.2" font-size="5.9" text-anchor="start" fill="#222" color="#222" >umap1</text>
<text x="42.4" y="584.7" font-size="5.9" fill="#222" transform="rotate(-90 42.4 584.7)">umap2</text>
<circle cx="171.5" cy="509" r="2.3" fill="#ea6a88"/><circle cx="171.5" cy="517.2" r="2.3" fill="#c77cf0"/>
<text x="176.5" y="511.7" font-size="5.9" text-anchor="start" font-weight="bold" fill="#222" color="#222" >SIGLEC7<tspan font-size="4.6" dy="-2.4">+</tspan></text>
<text x="176.5" y="519.7" font-size="5.9" text-anchor="start" font-weight="bold" fill="#222" color="#222" >SIGLEC7<tspan font-size="4.6" dy="-2.4">−</tspan></text>
<path d="M307.2,493.5 C307.4,492.5 307.8,492.0 309.2,491.4 C310.6,490.8 313.1,490.2 315.3,489.9 C317.5,489.6 319.9,489.3 322.5,489.4 C325.1,489.5 328.1,490.2 330.7,490.4 C333.2,490.6 336.1,490.9 337.8,490.4 C339.5,489.9 339.9,488.7 340.9,487.3 C341.9,485.9 342.7,483.5 343.9,482.2 C345.1,480.9 346.6,480.0 348.0,479.7 C349.4,479.4 350.6,479.4 352.1,480.2 C353.6,481.0 355.5,483.1 357.2,484.3 C358.9,485.5 361.0,486.2 362.3,487.3 C363.6,488.4 364.6,489.2 364.9,490.9 C365.2,492.6 364.5,495.2 363.9,497.5 C363.3,499.8 361.2,502.6 361.3,504.7 C361.4,506.8 364.4,508.8 364.4,509.8 C364.4,510.8 362.5,510.0 361.3,510.8 C360.1,511.6 358.9,513.5 357.2,514.9 C355.5,516.3 353.3,517.8 351.1,519.0 C348.9,520.2 345.9,521.1 343.9,522.1 C341.8,523.1 340.1,523.8 338.8,525.1 C337.5,526.5 337.2,530.4 336.3,530.2 C335.4,530.0 334.6,526.0 333.7,524.1 C332.8,522.2 332.1,520.5 330.7,519.0 C329.3,517.5 327.4,516.1 325.5,514.9 C323.6,513.7 321.3,513.1 319.4,511.9 C317.5,510.7 315.8,509.3 314.3,507.8 C312.8,506.3 311.3,504.4 310.2,502.7 C309.1,501.0 308.2,499.0 307.7,497.5 C307.2,496.0 306.9,494.5 307.2,493.5Z" fill="#e8493a" />
<path d="M391.5,505.4 C392.4,504.0 393.1,501.7 394.5,500.3 C395.9,498.9 397.9,497.7 399.6,496.8 C401.3,495.9 403.0,495.3 404.7,495.2 C406.4,495.1 408.2,495.5 409.9,496.2 C411.6,496.9 413.7,498.1 415.0,499.3 C416.3,500.5 417.0,501.9 417.5,503.4 C418.0,504.9 417.4,507.1 418.0,508.5 C418.6,509.9 420.1,510.8 421.1,511.6 C422.1,512.5 424.2,512.8 424.2,513.6 C424.2,514.5 422.5,515.9 421.1,516.7 C419.7,517.6 416.7,517.5 416.0,518.7 C415.3,519.9 416.3,522.1 417.0,523.8 C417.7,525.5 419.4,527.5 420.1,529.0 C420.8,530.5 421.3,531.6 421.1,533.0 C420.9,534.4 420.4,536.2 419.0,537.1 C417.6,538.0 414.9,538.4 412.9,538.1 C410.9,537.8 408.7,536.1 406.8,535.1 C404.9,534.1 403.2,533.0 401.7,532.0 C400.2,531.0 398.6,530.3 397.6,528.9 C396.6,527.5 396.3,525.5 395.5,523.8 C394.7,522.1 393.9,520.1 393.0,518.7 C392.1,517.4 391.2,516.7 390.4,515.7 C389.6,514.7 388.6,513.8 388.4,512.6 C388.2,511.4 388.9,509.7 389.4,508.5 C389.9,507.3 390.6,506.8 391.5,505.4Z" fill="#e8493a" />
<circle cx="389.8" cy="531.0" r="0.6" fill="#e8493a"/><circle cx="385.7" cy="525.0" r="0.6" fill="#7095d8"/><circle cx="385.7" cy="522.2" r="0.6" fill="#7095d8"/><circle cx="392.4" cy="525.1" r="0.6" fill="#e8493a"/><circle cx="387.1" cy="526.8" r="0.6" fill="#7095d8"/><circle cx="388.5" cy="526.9" r="0.6" fill="#e8493a"/><circle cx="384.7" cy="520.4" r="0.6" fill="#e8493a"/><circle cx="394.5" cy="531.7" r="0.6" fill="#e8493a"/><circle cx="393.6" cy="527.2" r="0.6" fill="#e8493a"/><circle cx="393.0" cy="528.1" r="0.6" fill="#7095d8"/><circle cx="388.4" cy="525.0" r="0.6" fill="#e8493a"/><circle cx="387.7" cy="521.3" r="0.6" fill="#e8493a"/><circle cx="379.6" cy="521.5" r="0.6" fill="#e8493a"/><circle cx="389.7" cy="521.9" r="0.6" fill="#7095d8"/><circle cx="385.9" cy="520.2" r="0.6" fill="#e8493a"/><circle cx="395.3" cy="532.6" r="0.6" fill="#7095d8"/><circle cx="390.4" cy="531.8" r="0.6" fill="#7095d8"/><circle cx="379.8" cy="522.6" r="0.6" fill="#7095d8"/><circle cx="388.2" cy="523.4" r="0.6" fill="#e8493a"/><circle cx="384.2" cy="522.4" r="0.6" fill="#e8493a"/><circle cx="392.5" cy="529.8" r="0.6" fill="#7095d8"/><circle cx="382.0" cy="522.4" r="0.6" fill="#e8493a"/><circle cx="387.6" cy="528.5" r="0.6" fill="#e8493a"/><circle cx="394.0" cy="532.0" r="0.6" fill="#7095d8"/><circle cx="388.2" cy="523.5" r="0.6" fill="#e8493a"/><circle cx="383.9" cy="523.4" r="0.6" fill="#e8493a"/><circle cx="388.2" cy="529.6" r="0.6" fill="#e8493a"/><circle cx="390.3" cy="523.6" r="0.6" fill="#e8493a"/><circle cx="380.7" cy="522.9" r="0.6" fill="#e8493a"/><circle cx="391.2" cy="527.5" r="0.6" fill="#7095d8"/><circle cx="388.8" cy="530.1" r="0.6" fill="#e8493a"/><circle cx="388.1" cy="522.8" r="0.6" fill="#7095d8"/><circle cx="390.8" cy="527.1" r="0.6" fill="#e8493a"/><circle cx="386.6" cy="526.3" r="0.6" fill="#e8493a"/><circle cx="384.1" cy="526.0" r="0.6" fill="#e8493a"/><circle cx="384.4" cy="524.9" r="0.6" fill="#7095d8"/><circle cx="390.3" cy="526.1" r="0.6" fill="#e8493a"/><circle cx="386.2" cy="525.1" r="0.6" fill="#7095d8"/><circle cx="388.4" cy="529.9" r="0.6" fill="#7095d8"/><circle cx="392.8" cy="527.1" r="0.6" fill="#e8493a"/><circle cx="391.3" cy="523.3" r="0.6" fill="#e8493a"/><circle cx="390.2" cy="525.3" r="0.6" fill="#e8493a"/><circle cx="385.8" cy="526.3" r="0.6" fill="#e8493a"/><circle cx="389.9" cy="526.7" r="0.6" fill="#7095d8"/><circle cx="390.0" cy="527.5" r="0.6" fill="#e8493a"/><circle cx="389.1" cy="522.6" r="0.6" fill="#7095d8"/><circle cx="385.4" cy="520.5" r="0.6" fill="#e8493a"/><circle cx="394.3" cy="528.5" r="0.6" fill="#e8493a"/><circle cx="389.8" cy="531.3" r="0.6" fill="#e8493a"/><circle cx="382.1" cy="523.7" r="0.6" fill="#e8493a"/><circle cx="391.9" cy="528.6" r="0.6" fill="#e8493a"/><circle cx="392.0" cy="525.6" r="0.6" fill="#e8493a"/><circle cx="392.9" cy="529.2" r="0.6" fill="#e8493a"/><circle cx="388.4" cy="522.6" r="0.6" fill="#e8493a"/><circle cx="392.6" cy="526.6" r="0.6" fill="#e8493a"/><circle cx="385.9" cy="526.3" r="0.6" fill="#e8493a"/><circle cx="389.1" cy="523.3" r="0.6" fill="#e8493a"/><circle cx="386.9" cy="527.2" r="0.6" fill="#e8493a"/><circle cx="383.6" cy="521.2" r="0.6" fill="#e8493a"/><circle cx="379.4" cy="521.3" r="0.6" fill="#e8493a"/><circle cx="390.0" cy="522.6" r="0.6" fill="#e8493a"/><circle cx="383.7" cy="523.7" r="0.6" fill="#e8493a"/><circle cx="383.4" cy="524.8" r="0.6" fill="#e8493a"/><circle cx="383.4" cy="523.6" r="0.6" fill="#e8493a"/><circle cx="381.9" cy="521.5" r="0.6" fill="#e8493a"/><circle cx="388.1" cy="523.7" r="0.6" fill="#e8493a"/><circle cx="385.7" cy="522.2" r="0.6" fill="#e8493a"/><circle cx="390.7" cy="523.4" r="0.6" fill="#e8493a"/><circle cx="388.9" cy="527.0" r="0.6" fill="#e8493a"/><circle cx="387.7" cy="526.6" r="0.6" fill="#e8493a"/>
<circle cx="329.9" cy="514.2" r="0.49" fill="#7095d8" opacity="0.85"/><circle cx="345.4" cy="486.6" r="0.61" fill="#7095d8" opacity="0.85"/><circle cx="361.4" cy="500.0" r="0.57" fill="#7095d8" opacity="0.85"/><circle cx="355.6" cy="497.7" r="0.74" fill="#7095d8" opacity="0.85"/><circle cx="349.3" cy="489.5" r="0.53" fill="#7095d8" opacity="0.85"/><circle cx="360.3" cy="510.1" r="0.48" fill="#7095d8" opacity="0.85"/><circle cx="356.5" cy="503.7" r="0.73" fill="#7095d8" opacity="0.85"/><circle cx="349.0" cy="514.7" r="0.72" fill="#7095d8" opacity="0.85"/><circle cx="342.6" cy="490.1" r="0.74" fill="#7095d8" opacity="0.85"/><circle cx="333.4" cy="514.8" r="0.75" fill="#7095d8" opacity="0.85"/><circle cx="333.8" cy="515.9" r="0.50" fill="#7095d8" opacity="0.85"/><circle cx="347.0" cy="509.0" r="0.75" fill="#7095d8" opacity="0.85"/><circle cx="314.1" cy="501.2" r="0.58" fill="#7095d8" opacity="0.85"/><circle cx="358.9" cy="492.8" r="0.73" fill="#7095d8" opacity="0.85"/><circle cx="324.3" cy="503.6" r="0.45" fill="#7095d8" opacity="0.85"/><circle cx="338.4" cy="495.8" r="0.65" fill="#7095d8" opacity="0.85"/><circle cx="353.2" cy="482.8" r="0.62" fill="#7095d8" opacity="0.85"/><circle cx="310.0" cy="495.5" r="0.59" fill="#7095d8" opacity="0.85"/><circle cx="338.3" cy="501.9" r="0.46" fill="#7095d8" opacity="0.85"/><circle cx="353.5" cy="501.9" r="0.62" fill="#7095d8" opacity="0.85"/><circle cx="354.9" cy="516.4" r="0.51" fill="#7095d8" opacity="0.85"/><circle cx="359.7" cy="496.0" r="0.60" fill="#7095d8" opacity="0.85"/><circle cx="349.3" cy="502.5" r="0.74" fill="#7095d8" opacity="0.85"/><circle cx="314.4" cy="498.9" r="0.57" fill="#7095d8" opacity="0.85"/><circle cx="362.6" cy="501.0" r="0.55" fill="#7095d8" opacity="0.85"/><circle cx="332.6" cy="513.5" r="0.52" fill="#7095d8" opacity="0.85"/><circle cx="338.5" cy="504.2" r="0.69" fill="#7095d8" opacity="0.85"/><circle cx="338.9" cy="518.8" r="0.70" fill="#7095d8" opacity="0.85"/><circle cx="363.5" cy="492.8" r="0.66" fill="#7095d8" opacity="0.85"/><circle cx="357.4" cy="486.9" r="0.51" fill="#7095d8" opacity="0.85"/><circle cx="357.8" cy="497.7" r="0.76" fill="#7095d8" opacity="0.85"/><circle cx="354.7" cy="496.7" r="0.68" fill="#7095d8" opacity="0.85"/><circle cx="356.7" cy="487.9" r="0.71" fill="#7095d8" opacity="0.85"/><circle cx="343.9" cy="494.3" r="0.48" fill="#7095d8" opacity="0.85"/><circle cx="358.1" cy="488.1" r="0.45" fill="#7095d8" opacity="0.85"/><circle cx="347.1" cy="512.5" r="0.77" fill="#7095d8" opacity="0.85"/><circle cx="345.3" cy="504.5" r="0.51" fill="#7095d8" opacity="0.85"/><circle cx="334.2" cy="498.2" r="0.68" fill="#7095d8" opacity="0.85"/><circle cx="348.5" cy="498.6" r="0.65" fill="#7095d8" opacity="0.85"/><circle cx="323.3" cy="502.6" r="0.66" fill="#7095d8" opacity="0.85"/><circle cx="341.9" cy="493.5" r="0.78" fill="#7095d8" opacity="0.85"/><circle cx="347.3" cy="511.3" r="0.76" fill="#7095d8" opacity="0.85"/><circle cx="361.0" cy="488.3" r="0.78" fill="#7095d8" opacity="0.85"/><circle cx="314.1" cy="492.5" r="0.68" fill="#7095d8" opacity="0.85"/><circle cx="351.0" cy="499.0" r="0.47" fill="#7095d8" opacity="0.85"/><circle cx="338.3" cy="524.3" r="0.61" fill="#7095d8" opacity="0.85"/><circle cx="346.8" cy="491.1" r="0.74" fill="#7095d8" opacity="0.85"/><circle cx="321.6" cy="490.9" r="0.77" fill="#7095d8" opacity="0.85"/><circle cx="347.1" cy="499.5" r="0.48" fill="#7095d8" opacity="0.85"/><circle cx="345.4" cy="510.2" r="0.57" fill="#7095d8" opacity="0.85"/><circle cx="354.2" cy="492.3" r="0.71" fill="#7095d8" opacity="0.85"/><circle cx="345.8" cy="499.8" r="0.75" fill="#7095d8" opacity="0.85"/><circle cx="348.3" cy="490.3" r="0.48" fill="#7095d8" opacity="0.85"/><circle cx="343.5" cy="501.1" r="0.70" fill="#7095d8" opacity="0.85"/><circle cx="353.8" cy="507.9" r="0.75" fill="#7095d8" opacity="0.85"/><circle cx="354.6" cy="508.2" r="0.60" fill="#7095d8" opacity="0.85"/><circle cx="348.9" cy="499.6" r="0.45" fill="#7095d8" opacity="0.85"/><circle cx="350.1" cy="491.2" r="0.52" fill="#7095d8" opacity="0.85"/><circle cx="336.7" cy="492.5" r="0.46" fill="#7095d8" opacity="0.85"/><circle cx="354.2" cy="496.2" r="0.74" fill="#7095d8" opacity="0.85"/><circle cx="344.3" cy="498.0" r="0.55" fill="#7095d8" opacity="0.85"/><circle cx="344.2" cy="518.8" r="0.71" fill="#7095d8" opacity="0.85"/><circle cx="346.0" cy="510.0" r="0.48" fill="#7095d8" opacity="0.85"/><circle cx="354.5" cy="514.7" r="0.77" fill="#7095d8" opacity="0.85"/><circle cx="352.6" cy="494.9" r="0.58" fill="#7095d8" opacity="0.85"/><circle cx="358.8" cy="504.7" r="0.64" fill="#7095d8" opacity="0.85"/><circle cx="351.0" cy="510.1" r="0.77" fill="#7095d8" opacity="0.85"/><circle cx="358.5" cy="506.5" r="0.55" fill="#7095d8" opacity="0.85"/><circle cx="324.3" cy="504.4" r="0.50" fill="#7095d8" opacity="0.85"/><circle cx="341.7" cy="486.6" r="0.67" fill="#7095d8" opacity="0.85"/><circle cx="362.8" cy="498.7" r="0.67" fill="#7095d8" opacity="0.85"/><circle cx="359.9" cy="497.4" r="0.47" fill="#7095d8" opacity="0.85"/><circle cx="345.7" cy="520.3" r="0.77" fill="#7095d8" opacity="0.85"/><circle cx="327.8" cy="505.3" r="0.53" fill="#7095d8" opacity="0.85"/><circle cx="343.0" cy="522.6" r="0.52" fill="#7095d8" opacity="0.85"/><circle cx="336.9" cy="497.2" r="0.74" fill="#7095d8" opacity="0.85"/><circle cx="356.8" cy="510.5" r="0.78" fill="#7095d8" opacity="0.85"/><circle cx="347.8" cy="514.0" r="0.64" fill="#7095d8" opacity="0.85"/><circle cx="359.9" cy="500.4" r="0.55" fill="#7095d8" opacity="0.85"/><circle cx="356.7" cy="500.9" r="0.57" fill="#7095d8" opacity="0.85"/><circle cx="325.9" cy="508.5" r="0.79" fill="#7095d8" opacity="0.85"/><circle cx="349.3" cy="498.9" r="0.54" fill="#7095d8" opacity="0.85"/><circle cx="354.2" cy="508.7" r="0.52" fill="#7095d8" opacity="0.85"/><circle cx="315.9" cy="490.1" r="0.54" fill="#7095d8" opacity="0.85"/><circle cx="363.9" cy="495.2" r="0.67" fill="#7095d8" opacity="0.85"/><circle cx="335.7" cy="504.6" r="0.73" fill="#7095d8" opacity="0.85"/><circle cx="347.6" cy="520.1" r="0.75" fill="#7095d8" opacity="0.85"/><circle cx="328.4" cy="514.9" r="0.71" fill="#7095d8" opacity="0.85"/><circle cx="347.4" cy="491.8" r="0.52" fill="#7095d8" opacity="0.85"/><circle cx="345.0" cy="512.0" r="0.54" fill="#7095d8" opacity="0.85"/><circle cx="353.0" cy="517.7" r="0.45" fill="#7095d8" opacity="0.85"/><circle cx="320.6" cy="496.4" r="0.56" fill="#7095d8" opacity="0.85"/><circle cx="357.9" cy="505.2" r="0.63" fill="#7095d8" opacity="0.85"/><circle cx="340.8" cy="497.0" r="0.51" fill="#7095d8" opacity="0.85"/><circle cx="355.5" cy="483.6" r="0.51" fill="#7095d8" opacity="0.85"/><circle cx="350.9" cy="485.4" r="0.52" fill="#7095d8" opacity="0.85"/><circle cx="325.0" cy="490.9" r="0.49" fill="#7095d8" opacity="0.85"/><circle cx="350.2" cy="510.9" r="0.69" fill="#7095d8" opacity="0.85"/><circle cx="347.0" cy="513.9" r="0.52" fill="#7095d8" opacity="0.85"/><circle cx="331.6" cy="517.4" r="0.50" fill="#7095d8" opacity="0.85"/><circle cx="362.0" cy="496.8" r="0.72" fill="#7095d8" opacity="0.85"/><circle cx="353.4" cy="502.0" r="0.45" fill="#7095d8" opacity="0.85"/><circle cx="346.9" cy="500.1" r="0.71" fill="#7095d8" opacity="0.85"/><circle cx="352.8" cy="483.9" r="0.47" fill="#7095d8" opacity="0.85"/><circle cx="347.9" cy="504.1" r="0.63" fill="#7095d8" opacity="0.85"/><circle cx="349.4" cy="512.0" r="0.64" fill="#7095d8" opacity="0.85"/><circle cx="353.8" cy="483.8" r="0.66" fill="#7095d8" opacity="0.85"/><circle cx="326.7" cy="493.4" r="0.57" fill="#7095d8" opacity="0.85"/><circle cx="355.2" cy="501.1" r="0.58" fill="#7095d8" opacity="0.85"/><circle cx="336.5" cy="506.9" r="0.55" fill="#7095d8" opacity="0.85"/><circle cx="363.4" cy="508.8" r="0.65" fill="#7095d8" opacity="0.85"/><circle cx="350.8" cy="494.5" r="0.76" fill="#7095d8" opacity="0.85"/><circle cx="362.4" cy="498.8" r="0.47" fill="#7095d8" opacity="0.85"/><circle cx="343.2" cy="487.6" r="0.72" fill="#7095d8" opacity="0.85"/><circle cx="335.1" cy="507.9" r="0.48" fill="#7095d8" opacity="0.85"/><circle cx="348.5" cy="502.9" r="0.70" fill="#7095d8" opacity="0.85"/><circle cx="350.2" cy="518.0" r="0.59" fill="#7095d8" opacity="0.85"/><circle cx="349.7" cy="496.9" r="0.77" fill="#7095d8" opacity="0.85"/><circle cx="359.3" cy="508.1" r="0.77" fill="#7095d8" opacity="0.85"/><circle cx="356.7" cy="514.1" r="0.51" fill="#7095d8" opacity="0.85"/><circle cx="312.7" cy="500.1" r="0.65" fill="#7095d8" opacity="0.85"/><circle cx="349.3" cy="512.9" r="0.61" fill="#7095d8" opacity="0.85"/><circle cx="342.5" cy="507.1" r="0.66" fill="#7095d8" opacity="0.85"/><circle cx="336.5" cy="507.9" r="0.70" fill="#7095d8" opacity="0.85"/><circle cx="353.4" cy="501.2" r="0.58" fill="#7095d8" opacity="0.85"/><circle cx="361.6" cy="487.5" r="0.75" fill="#7095d8" opacity="0.85"/><circle cx="350.6" cy="485.5" r="0.71" fill="#7095d8" opacity="0.85"/><circle cx="355.9" cy="484.3" r="0.55" fill="#7095d8" opacity="0.85"/><circle cx="348.3" cy="492.9" r="0.65" fill="#7095d8" opacity="0.85"/><circle cx="360.8" cy="495.3" r="0.67" fill="#7095d8" opacity="0.85"/><circle cx="350.4" cy="517.5" r="0.64" fill="#7095d8" opacity="0.85"/><circle cx="351.7" cy="486.6" r="0.65" fill="#7095d8" opacity="0.85"/><circle cx="362.0" cy="490.0" r="0.77" fill="#7095d8" opacity="0.85"/><circle cx="326.4" cy="497.3" r="0.68" fill="#7095d8" opacity="0.85"/><circle cx="357.3" cy="489.0" r="0.50" fill="#7095d8" opacity="0.85"/><circle cx="336.0" cy="509.3" r="0.76" fill="#7095d8" opacity="0.85"/><circle cx="347.5" cy="492.0" r="0.80" fill="#7095d8" opacity="0.85"/><circle cx="346.0" cy="510.4" r="0.54" fill="#7095d8" opacity="0.85"/><circle cx="361.7" cy="506.9" r="0.54" fill="#7095d8" opacity="0.85"/><circle cx="350.1" cy="510.4" r="0.56" fill="#7095d8" opacity="0.85"/><circle cx="354.5" cy="513.6" r="0.64" fill="#7095d8" opacity="0.85"/><circle cx="341.7" cy="505.0" r="0.64" fill="#7095d8" opacity="0.85"/><circle cx="326.0" cy="508.8" r="0.52" fill="#7095d8" opacity="0.85"/><circle cx="363.1" cy="509.7" r="0.74" fill="#7095d8" opacity="0.85"/><circle cx="329.5" cy="511.5" r="0.50" fill="#7095d8" opacity="0.85"/><circle cx="347.6" cy="497.0" r="0.52" fill="#7095d8" opacity="0.85"/><circle cx="352.7" cy="513.2" r="0.67" fill="#7095d8" opacity="0.85"/><circle cx="327.0" cy="502.3" r="0.56" fill="#7095d8" opacity="0.85"/><circle cx="356.5" cy="513.4" r="0.47" fill="#7095d8" opacity="0.85"/><circle cx="359.8" cy="490.7" r="0.74" fill="#7095d8" opacity="0.85"/><circle cx="351.7" cy="492.2" r="0.53" fill="#7095d8" opacity="0.85"/><circle cx="347.4" cy="486.1" r="0.53" fill="#7095d8" opacity="0.85"/><circle cx="331.6" cy="507.9" r="0.56" fill="#7095d8" opacity="0.85"/><circle cx="358.5" cy="500.8" r="0.66" fill="#7095d8" opacity="0.85"/><circle cx="359.0" cy="507.3" r="0.79" fill="#7095d8" opacity="0.85"/><circle cx="325.8" cy="497.5" r="0.49" fill="#7095d8" opacity="0.85"/><circle cx="337.7" cy="519.4" r="0.58" fill="#7095d8" opacity="0.85"/><circle cx="347.5" cy="511.7" r="0.54" fill="#7095d8" opacity="0.85"/><circle cx="359.1" cy="487.8" r="0.63" fill="#7095d8" opacity="0.85"/><circle cx="314.6" cy="492.7" r="0.50" fill="#7095d8" opacity="0.85"/><circle cx="361.9" cy="491.1" r="0.66" fill="#7095d8" opacity="0.85"/><circle cx="351.3" cy="488.8" r="0.49" fill="#7095d8" opacity="0.85"/><circle cx="334.2" cy="508.5" r="0.78" fill="#7095d8" opacity="0.85"/><circle cx="329.7" cy="518.0" r="0.56" fill="#7095d8" opacity="0.85"/><circle cx="318.9" cy="494.1" r="0.45" fill="#7095d8" opacity="0.85"/><circle cx="362.8" cy="507.8" r="0.73" fill="#7095d8" opacity="0.85"/><circle cx="350.7" cy="502.6" r="0.53" fill="#7095d8" opacity="0.85"/><circle cx="355.0" cy="498.2" r="0.73" fill="#7095d8" opacity="0.85"/><circle cx="349.4" cy="506.7" r="0.51" fill="#7095d8" opacity="0.85"/><circle cx="354.9" cy="510.0" r="0.64" fill="#7095d8" opacity="0.85"/><circle cx="356.8" cy="499.2" r="0.62" fill="#7095d8" opacity="0.85"/><circle cx="343.2" cy="510.4" r="0.59" fill="#7095d8" opacity="0.85"/><circle cx="326.5" cy="498.1" r="0.47" fill="#7095d8" opacity="0.85"/><circle cx="348.9" cy="518.7" r="0.49" fill="#7095d8" opacity="0.85"/><circle cx="357.8" cy="509.2" r="0.59" fill="#7095d8" opacity="0.85"/><circle cx="346.8" cy="505.4" r="0.47" fill="#7095d8" opacity="0.85"/><circle cx="345.7" cy="495.7" r="0.63" fill="#7095d8" opacity="0.85"/><circle cx="357.2" cy="490.2" r="0.77" fill="#7095d8" opacity="0.85"/><circle cx="352.9" cy="507.5" r="0.76" fill="#7095d8" opacity="0.85"/><circle cx="349.9" cy="517.1" r="0.55" fill="#7095d8" opacity="0.85"/><circle cx="352.0" cy="483.4" r="0.56" fill="#7095d8" opacity="0.85"/><circle cx="357.7" cy="505.8" r="0.67" fill="#7095d8" opacity="0.85"/><circle cx="336.7" cy="509.1" r="0.62" fill="#7095d8" opacity="0.85"/><circle cx="347.6" cy="502.0" r="0.70" fill="#7095d8" opacity="0.85"/><circle cx="342.2" cy="488.2" r="0.57" fill="#7095d8" opacity="0.85"/><circle cx="341.8" cy="516.6" r="0.60" fill="#7095d8" opacity="0.85"/><circle cx="333.3" cy="514.0" r="0.80" fill="#7095d8" opacity="0.85"/><circle cx="334.5" cy="505.3" r="0.72" fill="#7095d8" opacity="0.85"/><circle cx="318.8" cy="506.8" r="0.48" fill="#7095d8" opacity="0.85"/><circle cx="350.0" cy="511.6" r="0.56" fill="#7095d8" opacity="0.85"/><circle cx="332.6" cy="517.0" r="0.50" fill="#7095d8" opacity="0.85"/><circle cx="337.1" cy="523.6" r="0.59" fill="#7095d8" opacity="0.85"/><circle cx="348.5" cy="503.3" r="0.74" fill="#7095d8" opacity="0.85"/><circle cx="364.1" cy="495.2" r="0.72" fill="#7095d8" opacity="0.85"/><circle cx="335.4" cy="519.2" r="0.57" fill="#7095d8" opacity="0.85"/><circle cx="358.0" cy="504.0" r="0.70" fill="#7095d8" opacity="0.85"/><circle cx="329.3" cy="508.5" r="0.56" fill="#7095d8" opacity="0.85"/><circle cx="351.7" cy="502.0" r="0.76" fill="#7095d8" opacity="0.85"/><circle cx="335.9" cy="500.5" r="0.79" fill="#7095d8" opacity="0.85"/><circle cx="329.6" cy="497.9" r="0.78" fill="#7095d8" opacity="0.85"/><circle cx="359.5" cy="505.1" r="0.58" fill="#7095d8" opacity="0.85"/><circle cx="344.6" cy="502.7" r="0.58" fill="#7095d8" opacity="0.85"/><circle cx="348.7" cy="516.3" r="0.76" fill="#7095d8" opacity="0.85"/><circle cx="347.1" cy="514.3" r="0.77" fill="#7095d8" opacity="0.85"/><circle cx="324.2" cy="491.9" r="0.59" fill="#7095d8" opacity="0.85"/><circle cx="349.6" cy="503.7" r="0.49" fill="#7095d8" opacity="0.85"/><circle cx="334.4" cy="516.9" r="0.70" fill="#7095d8" opacity="0.85"/><circle cx="351.0" cy="508.7" r="0.55" fill="#7095d8" opacity="0.85"/><circle cx="346.3" cy="484.4" r="0.49" fill="#7095d8" opacity="0.85"/><circle cx="355.6" cy="494.7" r="0.53" fill="#7095d8" opacity="0.85"/><circle cx="360.7" cy="503.4" r="0.79" fill="#7095d8" opacity="0.85"/><circle cx="343.5" cy="504.0" r="0.58" fill="#7095d8" opacity="0.85"/><circle cx="353.3" cy="492.6" r="0.79" fill="#7095d8" opacity="0.85"/><circle cx="343.6" cy="521.9" r="0.51" fill="#7095d8" opacity="0.85"/><circle cx="358.0" cy="490.3" r="0.79" fill="#7095d8" opacity="0.85"/><circle cx="309.4" cy="497.6" r="0.71" fill="#7095d8" opacity="0.85"/><circle cx="353.7" cy="505.1" r="0.54" fill="#7095d8" opacity="0.85"/><circle cx="327.1" cy="512.3" r="0.52" fill="#7095d8" opacity="0.85"/><circle cx="354.2" cy="497.1" r="0.59" fill="#7095d8" opacity="0.85"/><circle cx="330.5" cy="508.0" r="0.61" fill="#7095d8" opacity="0.85"/><circle cx="327.3" cy="508.5" r="0.51" fill="#7095d8" opacity="0.85"/><circle cx="355.0" cy="490.1" r="0.78" fill="#7095d8" opacity="0.85"/><circle cx="348.9" cy="500.6" r="0.46" fill="#7095d8" opacity="0.85"/><circle cx="348.8" cy="511.2" r="0.57" fill="#7095d8" opacity="0.85"/><circle cx="346.9" cy="510.1" r="0.61" fill="#7095d8" opacity="0.85"/><circle cx="357.8" cy="500.2" r="0.59" fill="#7095d8" opacity="0.85"/><circle cx="327.9" cy="516.6" r="0.67" fill="#7095d8" opacity="0.85"/><circle cx="363.0" cy="489.1" r="0.64" fill="#7095d8" opacity="0.85"/><circle cx="335.0" cy="517.2" r="0.79" fill="#7095d8" opacity="0.85"/><circle cx="309.8" cy="498.8" r="0.51" fill="#7095d8" opacity="0.85"/><circle cx="339.4" cy="504.7" r="0.79" fill="#7095d8" opacity="0.85"/><circle cx="362.7" cy="507.9" r="0.71" fill="#7095d8" opacity="0.85"/><circle cx="362.8" cy="491.8" r="0.66" fill="#7095d8" opacity="0.85"/><circle cx="352.6" cy="515.3" r="0.75" fill="#7095d8" opacity="0.85"/><circle cx="359.3" cy="499.4" r="0.72" fill="#7095d8" opacity="0.85"/><circle cx="350.0" cy="518.2" r="0.67" fill="#7095d8" opacity="0.85"/><circle cx="359.0" cy="507.1" r="0.52" fill="#7095d8" opacity="0.85"/><circle cx="352.5" cy="503.8" r="0.49" fill="#7095d8" opacity="0.85"/><circle cx="345.3" cy="494.4" r="0.80" fill="#7095d8" opacity="0.85"/><circle cx="341.3" cy="513.1" r="0.66" fill="#7095d8" opacity="0.85"/><circle cx="322.3" cy="501.6" r="0.72" fill="#7095d8" opacity="0.85"/><circle cx="346.7" cy="482.3" r="0.67" fill="#7095d8" opacity="0.85"/><circle cx="347.3" cy="515.2" r="0.63" fill="#7095d8" opacity="0.85"/><circle cx="351.8" cy="495.0" r="0.71" fill="#7095d8" opacity="0.85"/><circle cx="356.6" cy="501.3" r="0.59" fill="#7095d8" opacity="0.85"/><circle cx="351.3" cy="506.3" r="0.71" fill="#7095d8" opacity="0.85"/><circle cx="358.2" cy="492.3" r="0.78" fill="#7095d8" opacity="0.85"/><circle cx="347.9" cy="513.1" r="0.66" fill="#7095d8" opacity="0.85"/><circle cx="316.4" cy="490.4" r="0.69" fill="#7095d8" opacity="0.85"/><circle cx="348.1" cy="500.4" r="0.68" fill="#7095d8" opacity="0.85"/><circle cx="331.3" cy="506.0" r="0.76" fill="#7095d8" opacity="0.85"/><circle cx="361.8" cy="500.3" r="0.54" fill="#7095d8" opacity="0.85"/><circle cx="350.8" cy="505.3" r="0.67" fill="#7095d8" opacity="0.85"/><circle cx="320.8" cy="511.0" r="0.65" fill="#7095d8" opacity="0.85"/><circle cx="355.7" cy="484.0" r="0.64" fill="#7095d8" opacity="0.85"/><circle cx="329.2" cy="505.0" r="0.78" fill="#7095d8" opacity="0.85"/><circle cx="345.4" cy="498.6" r="0.54" fill="#7095d8" opacity="0.85"/><circle cx="341.6" cy="495.2" r="0.59" fill="#7095d8" opacity="0.85"/><circle cx="322.0" cy="507.7" r="0.48" fill="#7095d8" opacity="0.85"/><circle cx="341.7" cy="504.0" r="0.60" fill="#7095d8" opacity="0.85"/><circle cx="351.6" cy="493.4" r="0.62" fill="#7095d8" opacity="0.85"/><circle cx="350.0" cy="483.9" r="0.57" fill="#7095d8" opacity="0.85"/><circle cx="352.0" cy="513.8" r="0.57" fill="#7095d8" opacity="0.85"/><circle cx="347.2" cy="504.0" r="0.55" fill="#7095d8" opacity="0.85"/><circle cx="351.2" cy="517.3" r="0.70" fill="#7095d8" opacity="0.85"/><circle cx="350.0" cy="508.6" r="0.77" fill="#7095d8" opacity="0.85"/><circle cx="356.5" cy="513.5" r="0.55" fill="#7095d8" opacity="0.85"/><circle cx="335.4" cy="508.0" r="0.79" fill="#7095d8" opacity="0.85"/><circle cx="332.8" cy="520.1" r="0.69" fill="#7095d8" opacity="0.85"/><circle cx="344.6" cy="498.8" r="0.71" fill="#7095d8" opacity="0.85"/><circle cx="338.6" cy="511.9" r="0.45" fill="#7095d8" opacity="0.85"/><circle cx="332.0" cy="493.9" r="0.61" fill="#7095d8" opacity="0.85"/><circle cx="349.9" cy="485.0" r="0.54" fill="#7095d8" opacity="0.85"/><circle cx="332.1" cy="511.6" r="0.64" fill="#7095d8" opacity="0.85"/><circle cx="334.6" cy="498.6" r="0.71" fill="#7095d8" opacity="0.85"/><circle cx="359.1" cy="512.7" r="0.71" fill="#7095d8" opacity="0.85"/><circle cx="349.7" cy="517.7" r="0.74" fill="#7095d8" opacity="0.85"/><circle cx="345.2" cy="502.9" r="0.63" fill="#7095d8" opacity="0.85"/><circle cx="317.2" cy="504.8" r="0.71" fill="#7095d8" opacity="0.85"/><circle cx="326.3" cy="494.8" r="0.73" fill="#7095d8" opacity="0.85"/><circle cx="338.3" cy="511.0" r="0.57" fill="#7095d8" opacity="0.85"/><circle cx="347.6" cy="511.4" r="0.65" fill="#7095d8" opacity="0.85"/><circle cx="357.2" cy="506.0" r="0.59" fill="#7095d8" opacity="0.85"/><circle cx="318.0" cy="497.3" r="0.47" fill="#7095d8" opacity="0.85"/><circle cx="330.0" cy="507.8" r="0.62" fill="#7095d8" opacity="0.85"/><circle cx="325.6" cy="502.0" r="0.78" fill="#7095d8" opacity="0.85"/><circle cx="355.6" cy="487.6" r="0.70" fill="#7095d8" opacity="0.85"/><circle cx="348.8" cy="498.8" r="0.68" fill="#7095d8" opacity="0.85"/><circle cx="345.5" cy="509.4" r="0.49" fill="#7095d8" opacity="0.85"/><circle cx="320.6" cy="499.9" r="0.70" fill="#7095d8" opacity="0.85"/><circle cx="334.4" cy="505.1" r="0.60" fill="#7095d8" opacity="0.85"/><circle cx="334.7" cy="492.5" r="0.65" fill="#7095d8" opacity="0.85"/><circle cx="333.4" cy="516.7" r="0.70" fill="#7095d8" opacity="0.85"/><circle cx="355.0" cy="497.3" r="0.67" fill="#7095d8" opacity="0.85"/><circle cx="340.2" cy="514.3" r="0.56" fill="#7095d8" opacity="0.85"/><circle cx="353.4" cy="515.3" r="0.65" fill="#7095d8" opacity="0.85"/><circle cx="337.2" cy="509.2" r="0.74" fill="#7095d8" opacity="0.85"/><circle cx="334.3" cy="500.4" r="0.49" fill="#7095d8" opacity="0.85"/><circle cx="360.3" cy="486.4" r="0.61" fill="#7095d8" opacity="0.85"/><circle cx="326.6" cy="491.2" r="0.50" fill="#7095d8" opacity="0.85"/><circle cx="333.6" cy="513.7" r="0.45" fill="#7095d8" opacity="0.85"/><circle cx="346.2" cy="508.9" r="0.45" fill="#7095d8" opacity="0.85"/><circle cx="334.5" cy="517.9" r="0.45" fill="#7095d8" opacity="0.85"/><circle cx="350.9" cy="506.3" r="0.54" fill="#7095d8" opacity="0.85"/><circle cx="307.6" cy="496.1" r="0.53" fill="#7095d8" opacity="0.85"/><circle cx="358.5" cy="494.1" r="0.55" fill="#7095d8" opacity="0.85"/><circle cx="350.1" cy="500.8" r="0.79" fill="#7095d8" opacity="0.85"/><circle cx="348.5" cy="514.1" r="0.64" fill="#7095d8" opacity="0.85"/><circle cx="338.3" cy="511.5" r="0.46" fill="#7095d8" opacity="0.85"/><circle cx="347.4" cy="513.7" r="0.51" fill="#7095d8" opacity="0.85"/><circle cx="338.6" cy="495.1" r="0.54" fill="#7095d8" opacity="0.85"/><circle cx="350.7" cy="497.7" r="0.76" fill="#7095d8" opacity="0.85"/><circle cx="331.2" cy="499.8" r="0.78" fill="#7095d8" opacity="0.85"/><circle cx="340.5" cy="510.7" r="0.54" fill="#7095d8" opacity="0.85"/><circle cx="328.7" cy="516.8" r="0.54" fill="#7095d8" opacity="0.85"/><circle cx="350.6" cy="491.6" r="0.55" fill="#7095d8" opacity="0.85"/><circle cx="354.4" cy="514.2" r="0.49" fill="#7095d8" opacity="0.85"/><circle cx="338.9" cy="499.9" r="0.75" fill="#7095d8" opacity="0.85"/><circle cx="332.9" cy="517.7" r="0.57" fill="#7095d8" opacity="0.85"/><circle cx="324.7" cy="494.4" r="0.54" fill="#7095d8" opacity="0.85"/><circle cx="338.2" cy="493.3" r="0.61" fill="#7095d8" opacity="0.85"/><circle cx="330.0" cy="517.1" r="0.69" fill="#7095d8" opacity="0.85"/><circle cx="317.9" cy="500.7" r="0.59" fill="#7095d8" opacity="0.85"/><circle cx="326.8" cy="513.3" r="0.53" fill="#7095d8" opacity="0.85"/><circle cx="349.6" cy="499.6" r="0.49" fill="#7095d8" opacity="0.85"/><circle cx="334.6" cy="495.6" r="0.55" fill="#7095d8" opacity="0.85"/><circle cx="356.3" cy="501.0" r="0.47" fill="#7095d8" opacity="0.85"/><circle cx="343.5" cy="513.3" r="0.49" fill="#7095d8" opacity="0.85"/><circle cx="346.1" cy="509.1" r="0.54" fill="#7095d8" opacity="0.85"/><circle cx="352.4" cy="511.5" r="0.45" fill="#7095d8" opacity="0.85"/>
<circle cx="406.2" cy="526.1" r="0.63" fill="#7095d8" opacity="0.85"/><circle cx="420.0" cy="511.1" r="0.71" fill="#7095d8" opacity="0.85"/><circle cx="401.0" cy="502.2" r="0.78" fill="#7095d8" opacity="0.85"/><circle cx="423.7" cy="513.5" r="0.62" fill="#7095d8" opacity="0.85"/><circle cx="417.5" cy="514.3" r="0.48" fill="#7095d8" opacity="0.85"/><circle cx="411.5" cy="501.1" r="0.45" fill="#7095d8" opacity="0.85"/><circle cx="421.4" cy="514.8" r="0.56" fill="#7095d8" opacity="0.85"/><circle cx="394.4" cy="510.9" r="0.70" fill="#7095d8" opacity="0.85"/><circle cx="401.9" cy="500.1" r="0.78" fill="#7095d8" opacity="0.85"/><circle cx="397.5" cy="518.8" r="0.48" fill="#7095d8" opacity="0.85"/><circle cx="410.6" cy="510.9" r="0.63" fill="#7095d8" opacity="0.85"/><circle cx="415.3" cy="502.8" r="0.70" fill="#7095d8" opacity="0.85"/><circle cx="417.4" cy="506.8" r="0.65" fill="#7095d8" opacity="0.85"/><circle cx="405.4" cy="518.2" r="0.64" fill="#7095d8" opacity="0.85"/><circle cx="416.6" cy="526.7" r="0.66" fill="#7095d8" opacity="0.85"/><circle cx="412.2" cy="519.9" r="0.64" fill="#7095d8" opacity="0.85"/><circle cx="398.3" cy="498.3" r="0.74" fill="#7095d8" opacity="0.85"/><circle cx="402.9" cy="528.1" r="0.51" fill="#7095d8" opacity="0.85"/><circle cx="394.4" cy="500.8" r="0.64" fill="#7095d8" opacity="0.85"/><circle cx="418.3" cy="526.6" r="0.49" fill="#7095d8" opacity="0.85"/><circle cx="401.2" cy="512.8" r="0.50" fill="#7095d8" opacity="0.85"/><circle cx="392.8" cy="503.7" r="0.52" fill="#7095d8" opacity="0.85"/><circle cx="408.5" cy="498.8" r="0.69" fill="#7095d8" opacity="0.85"/><circle cx="404.4" cy="503.3" r="0.55" fill="#7095d8" opacity="0.85"/><circle cx="403.0" cy="499.5" r="0.63" fill="#7095d8" opacity="0.85"/><circle cx="400.0" cy="501.0" r="0.70" fill="#7095d8" opacity="0.85"/><circle cx="398.0" cy="510.6" r="0.46" fill="#7095d8" opacity="0.85"/><circle cx="390.1" cy="510.0" r="0.68" fill="#7095d8" opacity="0.85"/><circle cx="391.1" cy="506.8" r="0.51" fill="#7095d8" opacity="0.85"/><circle cx="401.6" cy="504.1" r="0.75" fill="#7095d8" opacity="0.85"/><circle cx="419.0" cy="535.9" r="0.60" fill="#7095d8" opacity="0.85"/><circle cx="400.1" cy="503.6" r="0.60" fill="#7095d8" opacity="0.85"/><circle cx="410.4" cy="497.0" r="0.63" fill="#7095d8" opacity="0.85"/><circle cx="396.2" cy="501.6" r="0.45" fill="#7095d8" opacity="0.85"/><circle cx="409.8" cy="531.5" r="0.49" fill="#7095d8" opacity="0.85"/><circle cx="411.0" cy="526.1" r="0.61" fill="#7095d8" opacity="0.85"/><circle cx="416.8" cy="528.5" r="0.45" fill="#7095d8" opacity="0.85"/><circle cx="416.5" cy="505.6" r="0.53" fill="#7095d8" opacity="0.85"/><circle cx="402.2" cy="517.9" r="0.65" fill="#7095d8" opacity="0.85"/><circle cx="394.7" cy="504.5" r="0.68" fill="#7095d8" opacity="0.85"/><circle cx="420.0" cy="534.4" r="0.54" fill="#7095d8" opacity="0.85"/><circle cx="413.2" cy="519.1" r="0.59" fill="#7095d8" opacity="0.85"/><circle cx="417.8" cy="513.6" r="0.48" fill="#7095d8" opacity="0.85"/><circle cx="400.4" cy="497.8" r="0.67" fill="#7095d8" opacity="0.85"/><circle cx="422.6" cy="514.8" r="0.67" fill="#7095d8" opacity="0.85"/><circle cx="413.1" cy="531.7" r="0.52" fill="#7095d8" opacity="0.85"/><circle cx="403.2" cy="504.6" r="0.56" fill="#7095d8" opacity="0.85"/><circle cx="402.4" cy="521.5" r="0.73" fill="#7095d8" opacity="0.85"/><circle cx="407.0" cy="495.7" r="0.46" fill="#7095d8" opacity="0.85"/><circle cx="409.7" cy="498.5" r="0.72" fill="#7095d8" opacity="0.85"/><circle cx="413.7" cy="504.7" r="0.79" fill="#7095d8" opacity="0.85"/><circle cx="403.8" cy="497.7" r="0.74" fill="#7095d8" opacity="0.85"/><circle cx="416.9" cy="504.1" r="0.73" fill="#7095d8" opacity="0.85"/><circle cx="395.7" cy="501.3" r="0.67" fill="#7095d8" opacity="0.85"/><circle cx="413.4" cy="499.4" r="0.50" fill="#7095d8" opacity="0.85"/><circle cx="416.1" cy="532.1" r="0.53" fill="#7095d8" opacity="0.85"/><circle cx="396.9" cy="498.7" r="0.73" fill="#7095d8" opacity="0.85"/><circle cx="418.1" cy="535.0" r="0.78" fill="#7095d8" opacity="0.85"/><circle cx="410.1" cy="501.1" r="0.54" fill="#7095d8" opacity="0.85"/><circle cx="407.6" cy="498.7" r="0.55" fill="#7095d8" opacity="0.85"/><circle cx="396.9" cy="524.4" r="0.46" fill="#7095d8" opacity="0.85"/><circle cx="411.0" cy="517.9" r="0.55" fill="#7095d8" opacity="0.85"/><circle cx="414.0" cy="521.4" r="0.75" fill="#7095d8" opacity="0.85"/><circle cx="397.0" cy="502.0" r="0.77" fill="#7095d8" opacity="0.85"/><circle cx="411.6" cy="535.9" r="0.71" fill="#7095d8" opacity="0.85"/><circle cx="410.9" cy="500.2" r="0.77" fill="#7095d8" opacity="0.85"/><circle cx="411.4" cy="506.3" r="0.74" fill="#7095d8" opacity="0.85"/><circle cx="401.0" cy="514.7" r="0.45" fill="#7095d8" opacity="0.85"/><circle cx="414.7" cy="514.0" r="0.61" fill="#7095d8" opacity="0.85"/><circle cx="419.6" cy="529.8" r="0.68" fill="#7095d8" opacity="0.85"/><circle cx="409.5" cy="503.8" r="0.59" fill="#7095d8" opacity="0.85"/><circle cx="408.3" cy="521.1" r="0.72" fill="#7095d8" opacity="0.85"/><circle cx="401.1" cy="515.4" r="0.63" fill="#7095d8" opacity="0.85"/><circle cx="396.2" cy="512.0" r="0.48" fill="#7095d8" opacity="0.85"/><circle cx="401.4" cy="521.9" r="0.77" fill="#7095d8" opacity="0.85"/><circle cx="404.2" cy="502.0" r="0.61" fill="#7095d8" opacity="0.85"/><circle cx="404.7" cy="499.0" r="0.63" fill="#7095d8" opacity="0.85"/><circle cx="415.5" cy="530.0" r="0.74" fill="#7095d8" opacity="0.85"/><circle cx="416.0" cy="532.0" r="0.80" fill="#7095d8" opacity="0.85"/><circle cx="392.6" cy="504.2" r="0.49" fill="#7095d8" opacity="0.85"/><circle cx="397.4" cy="515.6" r="0.48" fill="#7095d8" opacity="0.85"/><circle cx="404.9" cy="520.8" r="0.77" fill="#7095d8" opacity="0.85"/><circle cx="414.4" cy="512.6" r="0.71" fill="#7095d8" opacity="0.85"/><circle cx="405.4" cy="506.4" r="0.79" fill="#7095d8" opacity="0.85"/><circle cx="401.0" cy="500.3" r="0.49" fill="#7095d8" opacity="0.85"/><circle cx="402.6" cy="504.4" r="0.63" fill="#7095d8" opacity="0.85"/><circle cx="399.5" cy="520.6" r="0.80" fill="#7095d8" opacity="0.85"/><circle cx="419.0" cy="513.8" r="0.52" fill="#7095d8" opacity="0.85"/><circle cx="399.1" cy="509.7" r="0.78" fill="#7095d8" opacity="0.85"/><circle cx="411.6" cy="497.4" r="0.53" fill="#7095d8" opacity="0.85"/><circle cx="419.1" cy="527.9" r="0.70" fill="#7095d8" opacity="0.85"/><circle cx="413.2" cy="520.8" r="0.66" fill="#7095d8" opacity="0.85"/><circle cx="413.6" cy="506.4" r="0.67" fill="#7095d8" opacity="0.85"/><circle cx="416.4" cy="512.5" r="0.79" fill="#7095d8" opacity="0.85"/><circle cx="422.1" cy="514.1" r="0.75" fill="#7095d8" opacity="0.85"/><circle cx="403.3" cy="520.3" r="0.74" fill="#7095d8" opacity="0.85"/><circle cx="411.3" cy="514.9" r="0.59" fill="#7095d8" opacity="0.85"/><circle cx="415.0" cy="512.6" r="0.62" fill="#7095d8" opacity="0.85"/><circle cx="390.9" cy="509.5" r="0.79" fill="#7095d8" opacity="0.85"/><circle cx="398.0" cy="499.1" r="0.56" fill="#7095d8" opacity="0.85"/><circle cx="410.0" cy="530.8" r="0.60" fill="#7095d8" opacity="0.85"/><circle cx="409.2" cy="503.7" r="0.53" fill="#7095d8" opacity="0.85"/><circle cx="420.0" cy="533.8" r="0.46" fill="#7095d8" opacity="0.85"/><circle cx="407.3" cy="504.0" r="0.72" fill="#7095d8" opacity="0.85"/><circle cx="403.1" cy="523.2" r="0.49" fill="#7095d8" opacity="0.85"/><circle cx="399.6" cy="502.9" r="0.58" fill="#7095d8" opacity="0.85"/><circle cx="417.8" cy="509.8" r="0.73" fill="#7095d8" opacity="0.85"/><circle cx="406.1" cy="501.6" r="0.62" fill="#7095d8" opacity="0.85"/><circle cx="406.2" cy="507.0" r="0.80" fill="#7095d8" opacity="0.85"/><circle cx="414.0" cy="531.1" r="0.74" fill="#7095d8" opacity="0.85"/><circle cx="395.3" cy="509.5" r="0.64" fill="#7095d8" opacity="0.85"/><circle cx="412.8" cy="527.5" r="0.49" fill="#7095d8" opacity="0.85"/><circle cx="420.0" cy="532.7" r="0.45" fill="#7095d8" opacity="0.85"/><circle cx="420.6" cy="531.5" r="0.59" fill="#7095d8" opacity="0.85"/><circle cx="401.6" cy="501.8" r="0.78" fill="#7095d8" opacity="0.85"/><circle cx="413.3" cy="523.5" r="0.77" fill="#7095d8" opacity="0.85"/><circle cx="403.4" cy="504.3" r="0.77" fill="#7095d8" opacity="0.85"/><circle cx="404.1" cy="509.0" r="0.73" fill="#7095d8" opacity="0.85"/><circle cx="401.4" cy="501.1" r="0.78" fill="#7095d8" opacity="0.85"/><circle cx="416.1" cy="519.6" r="0.68" fill="#7095d8" opacity="0.85"/><circle cx="417.2" cy="513.7" r="0.76" fill="#7095d8" opacity="0.85"/><circle cx="405.8" cy="503.5" r="0.72" fill="#7095d8" opacity="0.85"/><circle cx="407.5" cy="503.7" r="0.67" fill="#7095d8" opacity="0.85"/><circle cx="414.1" cy="523.6" r="0.61" fill="#7095d8" opacity="0.85"/><circle cx="419.0" cy="509.6" r="0.72" fill="#7095d8" opacity="0.85"/><circle cx="420.1" cy="516.4" r="0.55" fill="#7095d8" opacity="0.85"/><circle cx="409.4" cy="508.0" r="0.66" fill="#7095d8" opacity="0.85"/><circle cx="419.6" cy="530.8" r="0.53" fill="#7095d8" opacity="0.85"/><circle cx="420.2" cy="531.8" r="0.61" fill="#7095d8" opacity="0.85"/><circle cx="416.0" cy="526.9" r="0.68" fill="#7095d8" opacity="0.85"/><circle cx="404.9" cy="529.4" r="0.64" fill="#7095d8" opacity="0.85"/><circle cx="399.9" cy="497.6" r="0.63" fill="#7095d8" opacity="0.85"/><circle cx="393.6" cy="512.0" r="0.54" fill="#7095d8" opacity="0.85"/><circle cx="406.3" cy="495.8" r="0.51" fill="#7095d8" opacity="0.85"/><circle cx="415.5" cy="529.8" r="0.73" fill="#7095d8" opacity="0.85"/><circle cx="397.7" cy="500.9" r="0.48" fill="#7095d8" opacity="0.85"/><circle cx="403.5" cy="498.3" r="0.62" fill="#7095d8" opacity="0.85"/><circle cx="416.8" cy="532.4" r="0.72" fill="#7095d8" opacity="0.85"/><circle cx="414.2" cy="513.2" r="0.52" fill="#7095d8" opacity="0.85"/><circle cx="401.8" cy="523.1" r="0.46" fill="#7095d8" opacity="0.85"/><circle cx="414.8" cy="524.0" r="0.59" fill="#7095d8" opacity="0.85"/><circle cx="406.2" cy="504.5" r="0.60" fill="#7095d8" opacity="0.85"/><circle cx="394.8" cy="500.4" r="0.48" fill="#7095d8" opacity="0.85"/><circle cx="416.2" cy="532.3" r="0.50" fill="#7095d8" opacity="0.85"/><circle cx="414.8" cy="505.0" r="0.77" fill="#7095d8" opacity="0.85"/><circle cx="407.2" cy="497.2" r="0.55" fill="#7095d8" opacity="0.85"/><circle cx="392.7" cy="508.6" r="0.54" fill="#7095d8" opacity="0.85"/><circle cx="396.9" cy="504.9" r="0.69" fill="#7095d8" opacity="0.85"/><circle cx="405.8" cy="495.6" r="0.65" fill="#7095d8" opacity="0.85"/><circle cx="405.0" cy="505.1" r="0.60" fill="#7095d8" opacity="0.85"/><circle cx="409.5" cy="526.1" r="0.60" fill="#7095d8" opacity="0.85"/><circle cx="419.3" cy="516.1" r="0.70" fill="#7095d8" opacity="0.85"/><circle cx="405.7" cy="530.4" r="0.71" fill="#7095d8" opacity="0.85"/><circle cx="407.9" cy="522.4" r="0.75" fill="#7095d8" opacity="0.85"/><circle cx="416.7" cy="531.6" r="0.63" fill="#7095d8" opacity="0.85"/><circle cx="417.9" cy="517.0" r="0.66" fill="#7095d8" opacity="0.85"/><circle cx="397.0" cy="498.8" r="0.69" fill="#7095d8" opacity="0.85"/><circle cx="414.8" cy="536.8" r="0.51" fill="#7095d8" opacity="0.85"/><circle cx="412.5" cy="507.1" r="0.78" fill="#7095d8" opacity="0.85"/><circle cx="394.8" cy="502.3" r="0.48" fill="#7095d8" opacity="0.85"/><circle cx="413.7" cy="500.3" r="0.57" fill="#7095d8" opacity="0.85"/><circle cx="412.3" cy="515.3" r="0.71" fill="#7095d8" opacity="0.85"/><circle cx="397.7" cy="502.4" r="0.57" fill="#7095d8" opacity="0.85"/><circle cx="407.6" cy="501.1" r="0.52" fill="#7095d8" opacity="0.85"/><circle cx="398.9" cy="498.0" r="0.54" fill="#7095d8" opacity="0.85"/><circle cx="413.8" cy="535.1" r="0.73" fill="#7095d8" opacity="0.85"/><circle cx="394.9" cy="513.4" r="0.75" fill="#7095d8" opacity="0.85"/><circle cx="412.5" cy="506.9" r="0.48" fill="#7095d8" opacity="0.85"/><circle cx="416.3" cy="503.7" r="0.73" fill="#7095d8" opacity="0.85"/><circle cx="417.1" cy="511.1" r="0.64" fill="#7095d8" opacity="0.85"/><circle cx="401.0" cy="505.0" r="0.50" fill="#7095d8" opacity="0.85"/><circle cx="394.1" cy="503.3" r="0.49" fill="#7095d8" opacity="0.85"/><circle cx="417.0" cy="516.5" r="0.65" fill="#7095d8" opacity="0.85"/><circle cx="403.6" cy="500.9" r="0.50" fill="#7095d8" opacity="0.85"/><circle cx="418.2" cy="529.1" r="0.46" fill="#7095d8" opacity="0.85"/><circle cx="410.1" cy="497.0" r="0.79" fill="#7095d8" opacity="0.85"/><circle cx="418.0" cy="510.9" r="0.53" fill="#7095d8" opacity="0.85"/><circle cx="419.3" cy="529.4" r="0.49" fill="#7095d8" opacity="0.85"/><circle cx="391.4" cy="512.8" r="0.60" fill="#7095d8" opacity="0.85"/><circle cx="406.1" cy="505.4" r="0.64" fill="#7095d8" opacity="0.85"/><circle cx="410.5" cy="502.9" r="0.52" fill="#7095d8" opacity="0.85"/><circle cx="400.1" cy="499.3" r="0.55" fill="#7095d8" opacity="0.85"/><circle cx="422.6" cy="514.6" r="0.63" fill="#7095d8" opacity="0.85"/><circle cx="402.1" cy="508.3" r="0.48" fill="#7095d8" opacity="0.85"/><circle cx="401.6" cy="526.6" r="0.71" fill="#7095d8" opacity="0.85"/><circle cx="417.6" cy="516.0" r="0.56" fill="#7095d8" opacity="0.85"/><circle cx="410.9" cy="504.9" r="0.48" fill="#7095d8" opacity="0.85"/><circle cx="398.2" cy="523.3" r="0.79" fill="#7095d8" opacity="0.85"/><circle cx="410.4" cy="521.4" r="0.69" fill="#7095d8" opacity="0.85"/><circle cx="420.0" cy="533.6" r="0.57" fill="#7095d8" opacity="0.85"/><circle cx="401.4" cy="522.7" r="0.67" fill="#7095d8" opacity="0.85"/><circle cx="402.1" cy="496.7" r="0.46" fill="#7095d8" opacity="0.85"/><circle cx="415.3" cy="515.3" r="0.61" fill="#7095d8" opacity="0.85"/><circle cx="402.5" cy="503.7" r="0.74" fill="#7095d8" opacity="0.85"/><circle cx="401.2" cy="501.5" r="0.70" fill="#7095d8" opacity="0.85"/><circle cx="411.6" cy="500.5" r="0.55" fill="#7095d8" opacity="0.85"/><circle cx="390.6" cy="509.2" r="0.76" fill="#7095d8" opacity="0.85"/><circle cx="414.8" cy="503.7" r="0.69" fill="#7095d8" opacity="0.85"/><circle cx="416.2" cy="533.2" r="0.75" fill="#7095d8" opacity="0.85"/><circle cx="411.1" cy="501.1" r="0.75" fill="#7095d8" opacity="0.85"/><circle cx="418.1" cy="526.8" r="0.70" fill="#7095d8" opacity="0.85"/><circle cx="404.5" cy="508.3" r="0.78" fill="#7095d8" opacity="0.85"/><circle cx="417.7" cy="506.5" r="0.77" fill="#7095d8" opacity="0.85"/><circle cx="404.2" cy="503.5" r="0.76" fill="#7095d8" opacity="0.85"/><circle cx="419.3" cy="528.1" r="0.49" fill="#7095d8" opacity="0.85"/><circle cx="406.5" cy="496.6" r="0.62" fill="#7095d8" opacity="0.85"/><circle cx="405.1" cy="503.7" r="0.79" fill="#7095d8" opacity="0.85"/><circle cx="396.5" cy="514.7" r="0.55" fill="#7095d8" opacity="0.85"/><circle cx="419.2" cy="513.1" r="0.68" fill="#7095d8" opacity="0.85"/><circle cx="402.5" cy="497.1" r="0.66" fill="#7095d8" opacity="0.85"/><circle cx="411.4" cy="519.4" r="0.54" fill="#7095d8" opacity="0.85"/><circle cx="397.9" cy="500.2" r="0.47" fill="#7095d8" opacity="0.85"/><circle cx="397.3" cy="509.7" r="0.72" fill="#7095d8" opacity="0.85"/><circle cx="402.3" cy="515.7" r="0.69" fill="#7095d8" opacity="0.85"/><circle cx="412.6" cy="526.9" r="0.68" fill="#7095d8" opacity="0.85"/><circle cx="412.6" cy="532.6" r="0.47" fill="#7095d8" opacity="0.85"/><circle cx="398.7" cy="502.1" r="0.48" fill="#7095d8" opacity="0.85"/><circle cx="400.1" cy="518.1" r="0.53" fill="#7095d8" opacity="0.85"/><circle cx="403.3" cy="530.0" r="0.52" fill="#7095d8" opacity="0.85"/><circle cx="412.5" cy="516.9" r="0.76" fill="#7095d8" opacity="0.85"/><circle cx="401.7" cy="527.4" r="0.71" fill="#7095d8" opacity="0.85"/><circle cx="418.8" cy="509.9" r="0.74" fill="#7095d8" opacity="0.85"/><circle cx="394.3" cy="502.6" r="0.71" fill="#7095d8" opacity="0.85"/><circle cx="399.1" cy="512.0" r="0.79" fill="#7095d8" opacity="0.85"/><circle cx="408.2" cy="509.8" r="0.71" fill="#7095d8" opacity="0.85"/><circle cx="417.7" cy="528.1" r="0.68" fill="#7095d8" opacity="0.85"/><circle cx="416.2" cy="523.3" r="0.55" fill="#7095d8" opacity="0.85"/><circle cx="391.5" cy="516.8" r="0.56" fill="#7095d8" opacity="0.85"/><circle cx="415.7" cy="523.2" r="0.51" fill="#7095d8" opacity="0.85"/><circle cx="403.5" cy="513.2" r="0.77" fill="#7095d8" opacity="0.85"/><circle cx="415.6" cy="508.3" r="0.75" fill="#7095d8" opacity="0.85"/><circle cx="405.2" cy="511.7" r="0.62" fill="#7095d8" opacity="0.85"/><circle cx="398.7" cy="503.6" r="0.67" fill="#7095d8" opacity="0.85"/><circle cx="410.4" cy="532.6" r="0.55" fill="#7095d8" opacity="0.85"/><circle cx="399.0" cy="514.9" r="0.66" fill="#7095d8" opacity="0.85"/><circle cx="396.5" cy="506.2" r="0.56" fill="#7095d8" opacity="0.85"/><circle cx="394.5" cy="501.0" r="0.65" fill="#7095d8" opacity="0.85"/><circle cx="407.3" cy="529.3" r="0.62" fill="#7095d8" opacity="0.85"/><circle cx="414.5" cy="530.0" r="0.54" fill="#7095d8" opacity="0.85"/><circle cx="413.1" cy="526.1" r="0.75" fill="#7095d8" opacity="0.85"/><circle cx="404.8" cy="533.1" r="0.54" fill="#7095d8" opacity="0.85"/><circle cx="402.8" cy="511.5" r="0.73" fill="#7095d8" opacity="0.85"/><circle cx="401.0" cy="506.3" r="0.62" fill="#7095d8" opacity="0.85"/><circle cx="405.1" cy="496.9" r="0.76" fill="#7095d8" opacity="0.85"/><circle cx="417.9" cy="532.5" r="0.64" fill="#7095d8" opacity="0.85"/><circle cx="416.9" cy="502.9" r="0.66" fill="#7095d8" opacity="0.85"/><circle cx="420.3" cy="530.4" r="0.62" fill="#7095d8" opacity="0.85"/><circle cx="407.0" cy="515.6" r="0.52" fill="#7095d8" opacity="0.85"/><circle cx="413.9" cy="537.5" r="0.78" fill="#7095d8" opacity="0.85"/><circle cx="394.1" cy="514.8" r="0.77" fill="#7095d8" opacity="0.85"/><circle cx="418.7" cy="530.1" r="0.48" fill="#7095d8" opacity="0.85"/><circle cx="415.2" cy="518.0" r="0.79" fill="#7095d8" opacity="0.85"/><circle cx="395.5" cy="518.8" r="0.62" fill="#7095d8" opacity="0.85"/><circle cx="406.3" cy="499.8" r="0.79" fill="#7095d8" opacity="0.85"/><circle cx="409.8" cy="499.2" r="0.57" fill="#7095d8" opacity="0.85"/><circle cx="399.9" cy="525.3" r="0.54" fill="#7095d8" opacity="0.85"/><circle cx="414.2" cy="504.5" r="0.76" fill="#7095d8" opacity="0.85"/><circle cx="406.5" cy="501.2" r="0.52" fill="#7095d8" opacity="0.85"/><circle cx="421.1" cy="515.8" r="0.55" fill="#7095d8" opacity="0.85"/><circle cx="412.4" cy="522.1" r="0.58" fill="#7095d8" opacity="0.85"/>
<path d="M340.9,487.3 C340.5,486.3 342.7,483.5 343.9,482.2 C345.1,480.9 346.6,480.0 348.0,479.7 C349.4,479.4 350.6,479.4 352.1,480.2 C353.6,481.0 355.5,483.1 357.2,484.3 C358.9,485.5 361.0,486.2 362.3,487.3 C363.6,488.4 365.1,490.0 364.9,490.9 C364.7,491.8 362.8,492.6 361.3,492.4 C359.9,492.1 357.9,490.2 356.2,489.4 C354.5,488.5 352.8,487.5 351.1,487.3 C349.4,487.1 347.7,488.4 346.0,488.4 C344.3,488.4 341.2,488.3 340.9,487.3Z" fill="#7095d8" opacity="0.9"/>
<path d="M327.6,503.7 C328.5,503.0 331.8,503.0 333.7,502.7 C335.6,502.4 336.9,502.0 338.8,501.6 C340.7,501.2 343.1,500.4 345.0,500.6 C346.9,500.8 349.1,501.5 350.1,502.7 C351.1,503.9 351.5,506.1 351.1,507.8 C350.8,509.5 349.4,511.4 348.0,512.9 C346.6,514.4 344.6,515.8 342.9,517.0 C341.2,518.2 339.3,520.2 337.8,520.0 C336.3,519.8 334.9,517.4 333.7,515.9 C332.5,514.4 331.5,512.3 330.7,510.8 C329.9,509.3 329.1,507.9 328.6,506.7 C328.1,505.5 326.8,504.4 327.6,503.7Z" fill="#fff" opacity="0.72"/>
<circle cx="387.7" cy="584.2" r="0.45" fill="#e8493a"/><circle cx="372.0" cy="570.6" r="0.45" fill="#e8493a"/><circle cx="359.4" cy="594.8" r="0.45" fill="#e8493a"/><circle cx="348.9" cy="552.4" r="0.45" fill="#e8493a"/><circle cx="346.1" cy="558.0" r="0.45" fill="#e8493a"/><circle cx="352.7" cy="558.4" r="0.45" fill="#e8493a"/><circle cx="330.8" cy="561.3" r="0.45" fill="#e8493a"/><circle cx="351.1" cy="573.5" r="0.45" fill="#e8493a"/><circle cx="340.2" cy="548.5" r="0.45" fill="#e8493a"/><circle cx="340.3" cy="572.1" r="0.45" fill="#e8493a"/><circle cx="358.9" cy="581.7" r="0.45" fill="#e8493a"/><circle cx="400.3" cy="565.7" r="0.45" fill="#e8493a"/><circle cx="329.9" cy="581.4" r="0.45" fill="#e8493a"/><circle cx="395.6" cy="564.8" r="0.45" fill="#e8493a"/><circle cx="385.8" cy="560.0" r="0.45" fill="#e8493a"/><circle cx="411.5" cy="586.7" r="0.45" fill="#e8493a"/><circle cx="399.2" cy="592.7" r="0.45" fill="#e8493a"/><circle cx="343.3" cy="572.3" r="0.45" fill="#e8493a"/><circle cx="393.1" cy="585.1" r="0.45" fill="#e8493a"/><circle cx="359.0" cy="551.9" r="0.45" fill="#e8493a"/><circle cx="382.6" cy="550.2" r="0.45" fill="#e8493a"/><circle cx="390.5" cy="545.3" r="0.45" fill="#e8493a"/><circle cx="365.4" cy="569.0" r="0.45" fill="#e8493a"/><circle cx="332.0" cy="569.0" r="0.45" fill="#e8493a"/><circle cx="370.0" cy="563.5" r="0.45" fill="#e8493a"/><circle cx="409.6" cy="588.3" r="0.45" fill="#e8493a"/><circle cx="409.1" cy="557.2" r="0.45" fill="#e8493a"/><circle cx="322.6" cy="563.8" r="0.45" fill="#e8493a"/><circle cx="331.4" cy="580.3" r="0.45" fill="#e8493a"/><circle cx="346.3" cy="551.4" r="0.45" fill="#e8493a"/><circle cx="348.4" cy="565.2" r="0.45" fill="#e8493a"/><circle cx="393.5" cy="568.1" r="0.45" fill="#e8493a"/><circle cx="350.1" cy="578.9" r="0.45" fill="#e8493a"/><circle cx="324.5" cy="555.5" r="0.45" fill="#e8493a"/><circle cx="388.7" cy="582.6" r="0.45" fill="#e8493a"/><circle cx="330.1" cy="548.3" r="0.45" fill="#e8493a"/><circle cx="370.6" cy="577.8" r="0.45" fill="#e8493a"/><circle cx="321.6" cy="566.8" r="0.45" fill="#e8493a"/><circle cx="347.5" cy="549.3" r="0.45" fill="#e8493a"/><circle cx="337.1" cy="559.3" r="0.45" fill="#e8493a"/><circle cx="357.0" cy="560.1" r="0.55" fill="#e8493a"/><circle cx="355.9" cy="558.9" r="0.55" fill="#e8493a"/><circle cx="357.3" cy="559.7" r="0.55" fill="#e8493a"/><circle cx="356.6" cy="559.1" r="0.55" fill="#e8493a"/><circle cx="358.6" cy="560.0" r="0.55" fill="#e8493a"/><circle cx="356.0" cy="558.4" r="0.55" fill="#e8493a"/><circle cx="358.8" cy="559.6" r="0.55" fill="#e8493a"/><circle cx="355.1" cy="558.9" r="0.55" fill="#e8493a"/><circle cx="357.8" cy="560.9" r="0.55" fill="#e8493a"/><circle cx="359.3" cy="560.5" r="0.55" fill="#e8493a"/><circle cx="357.1" cy="559.5" r="0.55" fill="#e8493a"/><circle cx="357.9" cy="560.9" r="0.55" fill="#e8493a"/><circle cx="357.5" cy="559.6" r="0.55" fill="#e8493a"/><circle cx="356.9" cy="560.9" r="0.55" fill="#e8493a"/><circle cx="390.2" cy="587.7" r="0.55" fill="#e8493a"/><circle cx="390.0" cy="584.0" r="0.55" fill="#e8493a"/><circle cx="389.3" cy="585.1" r="0.55" fill="#e8493a"/><circle cx="390.1" cy="586.9" r="0.55" fill="#e8493a"/><circle cx="389.3" cy="586.4" r="0.55" fill="#e8493a"/><circle cx="392.4" cy="586.6" r="0.55" fill="#e8493a"/><circle cx="391.1" cy="586.7" r="0.55" fill="#e8493a"/><circle cx="391.6" cy="585.6" r="0.55" fill="#e8493a"/><circle cx="391.0" cy="585.5" r="0.55" fill="#e8493a"/><circle cx="389.3" cy="586.2" r="0.55" fill="#e8493a"/><circle cx="389.9" cy="586.7" r="0.55" fill="#e8493a"/><circle cx="388.4" cy="586.5" r="0.55" fill="#e8493a"/><circle cx="390.9" cy="585.9" r="0.55" fill="#e8493a"/><circle cx="389.7" cy="585.1" r="0.55" fill="#e8493a"/>
<path d="M305.4,570.8 L305.4,584.9 L321.5,584.9" fill="none" stroke="#555" stroke-width="0.8"/>
<text x="305.1" y="592.2" font-size="5.9" text-anchor="start" fill="#222" color="#222" >umap1</text>
<text x="302.2" y="584.9" font-size="5.9" fill="#222" transform="rotate(-90 302.2 584.9)">umap2</text>
<circle cx="441.4" cy="523.8" r="2.5" fill="#7095d8"/>
<text x="447.4" y="525.9" font-size="6.0" text-anchor="start" font-weight="bold" fill="#222" color="#222" >NP</text>
<circle cx="441.4" cy="532.9" r="2.5" fill="#e8493a"/>
<text x="447.4" y="535.0" font-size="6.0" text-anchor="start" font-weight="bold" fill="#222" color="#222" >RPL</text>
<text x="98.3" y="618.1" font-size="6.7" text-anchor="middle" font-weight="bold" fill="#111" color="#111" >FCGR2A</text>
<line x1="83.4" y1="625.1" x2="113.2" y2="625.1" stroke="#555" stroke-width="0.7"/>
<text x="98.3" y="626.7" font-size="7.2" text-anchor="middle" font-weight="bold" fill="#222" color="#222" >*</text>
<line x1="45.6" y1="622.5" x2="45.6" y2="645.3" stroke="#222" stroke-width="0.8"/>
<line x1="45.6" y1="645.3" x2="147.8" y2="645.3" stroke="#222" stroke-width="0.9"/>
<line x1="44.2" y1="625.7" x2="45.6" y2="625.7" stroke="#222" stroke-width="0.5"/>
<text x="43.3" y="627.2" font-size="4.4" text-anchor="end" fill="#222" color="#222" >4</text>
<line x1="44.2" y1="630.4" x2="45.6" y2="630.4" stroke="#222" stroke-width="0.5"/>
<text x="43.3" y="631.9" font-size="4.4" text-anchor="end" fill="#222" color="#222" >3</text>
<line x1="44.2" y1="635.0" x2="45.6" y2="635.0" stroke="#222" stroke-width="0.5"/>
<text x="43.3" y="636.5" font-size="4.4" text-anchor="end" fill="#222" color="#222" >2</text>
<line x1="44.2" y1="639.6" x2="45.6" y2="639.6" stroke="#222" stroke-width="0.5"/>
<text x="43.3" y="641.1" font-size="4.4" text-anchor="end" fill="#222" color="#222" >1</text>
<line x1="44.2" y1="644.3" x2="45.6" y2="644.3" stroke="#222" stroke-width="0.5"/>
<text x="43.3" y="645.8" font-size="4.4" text-anchor="end" fill="#222" color="#222" >0</text>
<path d="M52.50,644.60 Q67.55,643.57 74.00,642.40 Q80.45,643.57 95.50,644.60 Z" fill="#7a3a34" stroke="#333" stroke-width="0.4" opacity="1"/>
<path d="M74.00,624.60 L74.60,628.88 C82.60,630.92 90.77,632.96 95.50,634.80 C89.48,637.33 78.21,640.96 75.20,642.70 L75.20,644.30 L72.80,644.30 L72.80,642.70 C69.79,640.96 58.52,637.33 52.50,634.80 C57.23,632.96 65.40,630.92 73.40,628.88 Z" fill="#ee6c60" stroke="#222" stroke-width="0.55"/>
<line x1="74.0" y1="645.3" x2="74.0" y2="646.9" stroke="#222" stroke-width="0.5"/>
<circle cx="74.0" cy="636.2" r="1.9" fill="#000"/>
<path d="M99.10,644.60 Q114.15,643.57 120.60,642.40 Q127.05,643.57 142.10,644.60 Z" fill="#2e6b64" stroke="#333" stroke-width="0.4" opacity="1"/>
<path d="M120.60,627.40 L121.20,631.10 C127.40,632.86 133.86,634.62 137.60,636.20 C132.84,638.47 124.18,641.74 121.80,643.30 L121.80,644.30 L119.40,644.30 L119.40,643.30 C117.02,641.74 108.36,638.47 103.60,636.20 C107.34,634.62 113.80,632.86 120.00,631.10 Z" fill="#4fd6c6" stroke="#222" stroke-width="0.55"/>
<line x1="120.6" y1="645.3" x2="120.6" y2="646.9" stroke="#222" stroke-width="0.5"/>
<circle cx="120.6" cy="637.4" r="1.9" fill="#000"/>
<text x="98.3" y="652.7" font-size="6.7" text-anchor="middle" font-weight="bold" fill="#111" color="#111" >FCGR3A</text>
<line x1="83.4" y1="658.8" x2="113.2" y2="658.8" stroke="#555" stroke-width="0.7"/>
<text x="98.3" y="660.4" font-size="7.2" text-anchor="middle" font-weight="bold" fill="#222" color="#222" >*</text>
<line x1="45.6" y1="657.8" x2="45.6" y2="680.3" stroke="#222" stroke-width="0.8"/>
<line x1="45.6" y1="680.3" x2="147.8" y2="680.3" stroke="#222" stroke-width="0.9"/>
<line x1="44.2" y1="661.0" x2="45.6" y2="661.0" stroke="#222" stroke-width="0.5"/>
<text x="43.3" y="662.5" font-size="4.4" text-anchor="end" fill="#222" color="#222" >4</text>
<line x1="44.2" y1="665.7" x2="45.6" y2="665.7" stroke="#222" stroke-width="0.5"/>
<text x="43.3" y="667.2" font-size="4.4" text-anchor="end" fill="#222" color="#222" >3</text>
<line x1="44.2" y1="670.5" x2="45.6" y2="670.5" stroke="#222" stroke-width="0.5"/>
<text x="43.3" y="672.0" font-size="4.4" text-anchor="end" fill="#222" color="#222" >2</text>
<line x1="44.2" y1="675.2" x2="45.6" y2="675.2" stroke="#222" stroke-width="0.5"/>
<text x="43.3" y="676.7" font-size="4.4" text-anchor="end" fill="#222" color="#222" >1</text>
<line x1="44.2" y1="679.9" x2="45.6" y2="679.9" stroke="#222" stroke-width="0.5"/>
<text x="43.3" y="681.4" font-size="4.4" text-anchor="end" fill="#222" color="#222" >0</text>
<path d="M52.50,679.60 Q67.55,678.57 74.00,677.40 Q80.45,678.57 95.50,679.60 Z" fill="#7a3a34" stroke="#333" stroke-width="0.4" opacity="1"/>
<path d="M74.00,660.70 L74.60,664.19 C81.52,665.85 88.66,667.51 92.80,669.00 C87.54,671.72 77.83,675.63 75.20,677.50 L75.20,679.30 L72.80,679.30 L72.80,677.50 C70.17,675.63 60.46,671.72 55.20,669.00 C59.34,667.51 66.48,665.85 73.40,664.19 Z" fill="#ee6c60" stroke="#222" stroke-width="0.55"/>
<line x1="74.0" y1="680.3" x2="74.0" y2="681.9" stroke="#222" stroke-width="0.5"/>
<circle cx="74.0" cy="670.7" r="1.9" fill="#000"/>
<path d="M99.10,679.60 Q114.15,678.57 120.60,677.40 Q127.05,678.57 142.10,679.60 Z" fill="#2e6b64" stroke="#333" stroke-width="0.4" opacity="1"/>
<path d="M120.60,661.00 L121.20,664.36 C128.48,665.96 135.97,667.56 140.30,669.00 C134.78,671.82 124.56,675.86 121.80,677.80 L121.80,679.30 L119.40,679.30 L119.40,677.80 C116.64,675.86 106.42,671.82 100.90,669.00 C105.23,667.56 112.72,665.96 120.00,664.36 Z" fill="#4fd6c6" stroke="#222" stroke-width="0.55"/>
<line x1="120.6" y1="680.3" x2="120.6" y2="681.9" stroke="#222" stroke-width="0.5"/>
<circle cx="120.6" cy="671.2" r="1.9" fill="#000"/>
<text x="98.3" y="689.1" font-size="6.7" text-anchor="middle" font-weight="bold" fill="#111" color="#111" >MEF2C</text>
<line x1="83.4" y1="695.8" x2="113.2" y2="695.8" stroke="#555" stroke-width="0.7"/>
<text x="98.3" y="697.4" font-size="7.2" text-anchor="middle" font-weight="bold" fill="#222" color="#222" >*</text>
<line x1="45.6" y1="693.0" x2="45.6" y2="713.3" stroke="#222" stroke-width="0.8"/>
<line x1="45.6" y1="713.3" x2="147.8" y2="713.3" stroke="#222" stroke-width="0.9"/>
<line x1="44.2" y1="696.2" x2="45.6" y2="696.2" stroke="#222" stroke-width="0.5"/>
<text x="43.3" y="697.7" font-size="4.4" text-anchor="end" fill="#222" color="#222" >3</text>
<line x1="44.2" y1="701.7" x2="45.6" y2="701.7" stroke="#222" stroke-width="0.5"/>
<text x="43.3" y="703.2" font-size="4.4" text-anchor="end" fill="#222" color="#222" >2</text>
<line x1="44.2" y1="707.2" x2="45.6" y2="707.2" stroke="#222" stroke-width="0.5"/>
<text x="43.3" y="708.7" font-size="4.4" text-anchor="end" fill="#222" color="#222" >1</text>
<line x1="44.2" y1="712.7" x2="45.6" y2="712.7" stroke="#222" stroke-width="0.5"/>
<text x="43.3" y="714.2" font-size="4.4" text-anchor="end" fill="#222" color="#222" >0</text>
<path d="M52.50,712.60 Q67.55,711.57 74.00,710.40 Q80.45,711.57 95.50,712.60 Z" fill="#7a3a34" stroke="#333" stroke-width="0.4" opacity="1"/>
<path d="M74.00,692.40 L74.60,697.80 C78.51,699.84 82.20,701.40 82.20,704.40 C82.20,708.06 76.84,710.50 75.20,710.50 L75.20,712.30 L72.80,712.30 L72.80,710.50 C71.16,710.50 65.80,708.06 65.80,704.40 C65.80,701.40 69.49,699.84 73.40,697.80 Z" fill="#ee6c60" stroke="#222" stroke-width="0.55"/>
<line x1="74.0" y1="713.3" x2="74.0" y2="714.9" stroke="#222" stroke-width="0.5"/>
<circle cx="74.0" cy="707.5" r="1.9" fill="#000"/>
<path d="M99.10,712.60 Q114.15,711.57 120.60,710.40 Q127.05,711.57 142.10,712.60 Z" fill="#2e6b64" stroke="#333" stroke-width="0.4" opacity="1"/>
<path d="M120.60,694.90 L121.20,700.03 C123.68,701.97 126.20,703.45 126.20,706.30 C126.20,709.42 122.92,711.50 121.80,711.50 L121.80,712.30 L119.40,712.30 L119.40,711.50 C118.28,711.50 115.00,709.42 115.00,706.30 C115.00,703.45 117.52,701.97 120.00,700.03 Z" fill="#4fd6c6" stroke="#222" stroke-width="0.55"/>
<line x1="120.6" y1="713.3" x2="120.6" y2="714.9" stroke="#222" stroke-width="0.5"/>
<circle cx="120.6" cy="710.1" r="1.9" fill="#000"/>
<text x="98.3" y="721.7" font-size="6.7" text-anchor="middle" font-weight="bold" fill="#111" color="#111" >TNFSF13B</text>
<line x1="83.4" y1="727.3" x2="113.2" y2="727.3" stroke="#555" stroke-width="0.7"/>
<text x="98.3" y="726.6" font-size="6.0" text-anchor="middle" fill="#222" color="#222" >ns</text>
<line x1="45.6" y1="726.2" x2="45.6" y2="746.6" stroke="#222" stroke-width="0.8"/>
<line x1="45.6" y1="746.6" x2="147.8" y2="746.6" stroke="#222" stroke-width="0.9"/>
<line x1="44.2" y1="729.4" x2="45.6" y2="729.4" stroke="#222" stroke-width="0.5"/>
<text x="43.3" y="730.9" font-size="4.4" text-anchor="end" fill="#222" color="#222" >3</text>
<line x1="44.2" y1="735.0" x2="45.6" y2="735.0" stroke="#222" stroke-width="0.5"/>
<text x="43.3" y="736.5" font-size="4.4" text-anchor="end" fill="#222" color="#222" >2</text>
<line x1="44.2" y1="740.5" x2="45.6" y2="740.5" stroke="#222" stroke-width="0.5"/>
<text x="43.3" y="742.0" font-size="4.4" text-anchor="end" fill="#222" color="#222" >1</text>
<line x1="44.2" y1="746.1" x2="45.6" y2="746.1" stroke="#222" stroke-width="0.5"/>
<text x="43.3" y="747.6" font-size="4.4" text-anchor="end" fill="#222" color="#222" >0</text>
<path d="M52.50,745.90 Q67.55,744.87 74.00,743.70 Q80.45,744.87 95.50,745.90 Z" fill="#7a3a34" stroke="#333" stroke-width="0.4" opacity="1"/>
<path d="M74.00,725.90 L74.60,731.66 C77.85,733.84 81.00,735.50 81.00,738.70 C81.00,742.00 76.60,744.20 75.20,744.20 L75.20,745.60 L72.80,745.60 L72.80,744.20 C71.40,744.20 67.00,742.00 67.00,738.70 C67.00,735.50 70.15,733.84 73.40,731.66 Z" fill="#ee6c60" stroke="#222" stroke-width="0.55"/>
<line x1="74.0" y1="746.6" x2="74.0" y2="748.2" stroke="#222" stroke-width="0.5"/>
<circle cx="74.0" cy="741.3" r="1.9" fill="#000"/>
<path d="M99.10,745.90 Q114.15,744.87 120.60,743.70 Q127.05,744.87 142.10,745.90 Z" fill="#2e6b64" stroke="#333" stroke-width="0.4" opacity="1"/>
<path d="M120.60,725.90 L121.20,731.66 C125.22,733.84 129.00,735.50 129.00,738.70 C129.00,742.18 123.48,744.50 121.80,744.50 L121.80,745.60 L119.40,745.60 L119.40,744.50 C117.72,744.50 112.20,742.18 112.20,738.70 C112.20,735.50 115.98,733.84 120.00,731.66 Z" fill="#4fd6c6" stroke="#222" stroke-width="0.55"/>
<line x1="120.6" y1="746.6" x2="120.6" y2="748.2" stroke="#222" stroke-width="0.5"/>
<circle cx="120.6" cy="741.3" r="1.9" fill="#000"/>
<text x="98.3" y="755.0" font-size="6.7" text-anchor="middle" font-weight="bold" fill="#111" color="#111" >LYN</text>
<line x1="83.4" y1="761.5" x2="113.2" y2="761.5" stroke="#555" stroke-width="0.7"/>
<text x="98.3" y="760.8" font-size="6.0" text-anchor="middle" fill="#222" color="#222" >ns</text>
<line x1="45.6" y1="761.8" x2="45.6" y2="781.3" stroke="#222" stroke-width="0.8"/>
<line x1="45.6" y1="781.3" x2="147.8" y2="781.3" stroke="#222" stroke-width="0.9"/>
<line x1="44.2" y1="765.0" x2="45.6" y2="765.0" stroke="#222" stroke-width="0.5"/>
<text x="43.3" y="766.5" font-size="4.4" text-anchor="end" fill="#222" color="#222" >3</text>
<line x1="44.2" y1="770.4" x2="45.6" y2="770.4" stroke="#222" stroke-width="0.5"/>
<text x="43.3" y="771.9" font-size="4.4" text-anchor="end" fill="#222" color="#222" >2</text>
<line x1="44.2" y1="775.7" x2="45.6" y2="775.7" stroke="#222" stroke-width="0.5"/>
<text x="43.3" y="777.2" font-size="4.4" text-anchor="end" fill="#222" color="#222" >1</text>
<line x1="44.2" y1="781.1" x2="45.6" y2="781.1" stroke="#222" stroke-width="0.5"/>
<text x="43.3" y="782.6" font-size="4.4" text-anchor="end" fill="#222" color="#222" >0</text>
<path d="M52.50,780.60 Q67.55,779.57 74.00,778.40 Q80.45,779.57 95.50,780.60 Z" fill="#7a3a34" stroke="#333" stroke-width="0.4" opacity="1"/>
<path d="M74.00,761.50 L74.60,766.99 C78.73,769.06 82.60,770.65 82.60,773.70 C82.60,777.06 76.92,779.30 75.20,779.30 L75.20,780.30 L72.80,780.30 L72.80,779.30 C71.08,779.30 65.40,777.06 65.40,773.70 C65.40,770.65 69.27,769.06 73.40,766.99 Z" fill="#ee6c60" stroke="#222" stroke-width="0.55"/>
<line x1="74.0" y1="781.3" x2="74.0" y2="782.9" stroke="#222" stroke-width="0.5"/>
<circle cx="74.0" cy="776" r="1.9" fill="#000"/>
<path d="M99.10,780.60 Q114.15,779.57 120.60,778.40 Q127.05,779.57 142.10,780.60 Z" fill="#2e6b64" stroke="#333" stroke-width="0.4" opacity="1"/>
<path d="M120.60,761.00 L121.20,767.12 C126.21,769.43 130.80,771.20 130.80,774.60 C130.80,777.54 123.84,779.50 121.80,779.50 L121.80,780.30 L119.40,780.30 L119.40,779.50 C117.36,779.50 110.40,777.54 110.40,774.60 C110.40,771.20 114.99,769.43 120.00,767.12 Z" fill="#4fd6c6" stroke="#222" stroke-width="0.55"/>
<line x1="120.6" y1="781.3" x2="120.6" y2="782.9" stroke="#222" stroke-width="0.5"/>
<circle cx="120.6" cy="776.4" r="1.9" fill="#000"/>
<text x="97.2" y="791.9" font-size="7.6" text-anchor="middle" font-weight="bold" fill="#111" color="#111" >GRN</text>
<line x1="80.8" y1="798" x2="110.6" y2="798" stroke="#555" stroke-width="0.7"/>
<text x="95.7" y="799.6" font-size="7.2" text-anchor="middle" font-weight="bold" fill="#222" color="#222" >*</text>
<line x1="43.5" y1="795.2" x2="43.5" y2="818.5" stroke="#222" stroke-width="0.8"/>
<line x1="43.5" y1="818.5" x2="147.8" y2="818.5" stroke="#222" stroke-width="0.9"/>
<line x1="42.1" y1="798.4" x2="43.5" y2="798.4" stroke="#222" stroke-width="0.5"/>
<text x="41.2" y="799.9" font-size="4.4" text-anchor="end" fill="#222" color="#222" >4</text>
<line x1="42.1" y1="803.2" x2="43.5" y2="803.2" stroke="#222" stroke-width="0.5"/>
<text x="41.2" y="804.7" font-size="4.4" text-anchor="end" fill="#222" color="#222" >3</text>
<line x1="42.1" y1="808.0" x2="43.5" y2="808.0" stroke="#222" stroke-width="0.5"/>
<text x="41.2" y="809.5" font-size="4.4" text-anchor="end" fill="#222" color="#222" >2</text>
<line x1="42.1" y1="812.9" x2="43.5" y2="812.9" stroke="#222" stroke-width="0.5"/>
<text x="41.2" y="814.4" font-size="4.4" text-anchor="end" fill="#222" color="#222" >1</text>
<line x1="42.1" y1="817.7" x2="43.5" y2="817.7" stroke="#222" stroke-width="0.5"/>
<text x="41.2" y="819.2" font-size="4.4" text-anchor="end" fill="#222" color="#222" >0</text>
<path d="M51.10,817.80 Q66.15,816.77 72.60,815.60 Q79.05,816.77 94.10,817.80 Z" fill="#7a3a34" stroke="#333" stroke-width="0.4" opacity="1"/>
<path d="M72.60,797.50 L73.20,801.03 C81.36,802.71 89.68,804.39 94.50,805.90 C88.37,808.65 76.87,812.61 73.80,814.50 L73.80,817.50 L71.40,817.50 L71.40,814.50 C68.33,812.61 56.83,808.65 50.70,805.90 C55.52,804.39 63.84,802.71 72.00,801.03 Z" fill="#ee6c60" stroke="#222" stroke-width="0.55"/>
<line x1="72.6" y1="818.5" x2="72.6" y2="820.1" stroke="#222" stroke-width="0.5"/>
<circle cx="72.6" cy="806.6" r="1.9" fill="#000"/>
<path d="M98.70,817.80 Q113.75,816.77 120.20,815.60 Q126.65,816.77 141.70,817.80 Z" fill="#2e6b64" stroke="#333" stroke-width="0.4" opacity="1"/>
<path d="M120.20,797.50 L120.80,801.20 C128.80,802.96 136.97,804.72 141.70,806.30 C135.68,809.02 124.41,812.93 121.40,814.80 L121.40,817.50 L119.00,817.50 L119.00,814.80 C115.99,812.93 104.72,809.02 98.70,806.30 C103.43,804.72 111.60,802.96 119.60,801.20 Z" fill="#4fd6c6" stroke="#222" stroke-width="0.55"/>
<line x1="120.2" y1="818.5" x2="120.2" y2="820.1" stroke="#222" stroke-width="0.5"/>
<circle cx="120.2" cy="807.2" r="1.9" fill="#000"/>
<text x="97.2" y="826.6" font-size="7.6" text-anchor="middle" font-weight="bold" fill="#111" color="#111" >S100A9</text>
<line x1="80.8" y1="833.1" x2="110.6" y2="833.1" stroke="#555" stroke-width="0.7"/>
<text x="95.7" y="834.7" font-size="7.2" text-anchor="middle" font-weight="bold" fill="#222" color="#222" >*</text>
<line x1="43.5" y1="831.1" x2="43.5" y2="853.2" stroke="#222" stroke-width="0.8"/>
<line x1="43.5" y1="853.2" x2="147.8" y2="853.2" stroke="#222" stroke-width="0.9"/>
<line x1="42.1" y1="834.3" x2="43.5" y2="834.3" stroke="#222" stroke-width="0.5"/>
<text x="41.2" y="835.8" font-size="4.4" text-anchor="end" fill="#222" color="#222" >6</text>
<line x1="42.1" y1="840.4" x2="43.5" y2="840.4" stroke="#222" stroke-width="0.5"/>
<text x="41.2" y="841.9" font-size="4.4" text-anchor="end" fill="#222" color="#222" >4</text>
<line x1="42.1" y1="846.5" x2="43.5" y2="846.5" stroke="#222" stroke-width="0.5"/>
<text x="41.2" y="848.0" font-size="4.4" text-anchor="end" fill="#222" color="#222" >2</text>
<line x1="42.1" y1="852.6" x2="43.5" y2="852.6" stroke="#222" stroke-width="0.5"/>
<text x="41.2" y="854.1" font-size="4.4" text-anchor="end" fill="#222" color="#222" >0</text>
<path d="M51.10,852.50 Q66.15,851.47 72.60,850.30 Q79.05,851.47 94.10,852.50 Z" fill="#7a3a34" stroke="#333" stroke-width="0.4" opacity="1"/>
<path d="M72.60,832.20 L73.20,837.87 C77.16,840.01 80.90,841.65 80.90,844.80 C80.90,848.64 75.46,851.20 73.80,851.20 L73.80,852.20 L71.40,852.20 L71.40,851.20 C69.74,851.20 64.30,848.64 64.30,844.80 C64.30,841.65 68.03,840.01 72.00,837.87 Z" fill="#ee6c60" stroke="#222" stroke-width="0.55"/>
<line x1="72.6" y1="853.2" x2="72.6" y2="854.8000000000001" stroke="#222" stroke-width="0.5"/>
<circle cx="72.6" cy="847.4" r="1.9" fill="#000"/>
<path d="M98.70,852.50 Q113.75,851.47 120.20,850.30 Q126.65,851.47 141.70,852.50 Z" fill="#2e6b64" stroke="#333" stroke-width="0.4" opacity="1"/>
<path d="M120.20,832.90 L120.80,837.77 C128.88,840.09 137.13,842.41 141.90,844.50 C135.82,846.74 124.44,849.96 121.40,851.50 L121.40,852.20 L119.00,852.20 L119.00,851.50 C115.96,849.96 104.58,846.74 98.50,844.50 C103.27,842.41 111.52,840.09 119.60,837.77 Z" fill="#4fd6c6" stroke="#222" stroke-width="0.55"/>
<line x1="120.2" y1="853.2" x2="120.2" y2="854.8000000000001" stroke="#222" stroke-width="0.5"/>
<circle cx="120.2" cy="845.7" r="1.9" fill="#000"/>
<text x="97.2" y="862.0" font-size="7.6" text-anchor="middle" font-weight="bold" fill="#111" color="#111" >HMOX1</text>
<line x1="79" y1="868.1" x2="109.2" y2="868.1" stroke="#555" stroke-width="0.7"/>
<text x="94.1" y="867.4" font-size="6.0" text-anchor="middle" fill="#222" color="#222" >ns</text>
<line x1="43.5" y1="869.3" x2="43.5" y2="886.9" stroke="#222" stroke-width="0.8"/>
<line x1="43.5" y1="886.9" x2="147.8" y2="886.9" stroke="#222" stroke-width="0.9"/>
<line x1="42.1" y1="872.5" x2="43.5" y2="872.5" stroke="#222" stroke-width="0.5"/>
<text x="41.2" y="874.0" font-size="4.4" text-anchor="end" fill="#222" color="#222" >4</text>
<line x1="42.1" y1="879.5" x2="43.5" y2="879.5" stroke="#222" stroke-width="0.5"/>
<text x="41.2" y="881.0" font-size="4.4" text-anchor="end" fill="#222" color="#222" >2</text>
<line x1="42.1" y1="886.4" x2="43.5" y2="886.4" stroke="#222" stroke-width="0.5"/>
<text x="41.2" y="887.9" font-size="4.4" text-anchor="end" fill="#222" color="#222" >0</text>
<path d="M51.10,886.20 Q66.15,885.17 72.60,884.00 Q79.05,885.17 94.10,886.20 Z" fill="#7a3a34" stroke="#333" stroke-width="0.4" opacity="1"/>
<path d="M72.60,866.70 L73.20,873.27 C77.41,875.75 81.35,877.65 81.35,881.30 C81.35,883.64 75.55,885.20 73.80,885.20 L73.80,885.90 L71.40,885.90 L71.40,885.20 C69.65,885.20 63.85,883.64 63.85,881.30 C63.85,877.65 67.79,875.75 72.00,873.27 Z" fill="#ee6c60" stroke="#222" stroke-width="0.55"/>
<line x1="72.6" y1="886.9" x2="72.6" y2="888.5" stroke="#222" stroke-width="0.5"/>
<circle cx="72.6" cy="882.5" r="1.9" fill="#000"/>
<path d="M98.70,886.20 Q113.75,885.17 120.20,884.00 Q126.65,885.17 141.70,886.20 Z" fill="#2e6b64" stroke="#333" stroke-width="0.4" opacity="1"/>
<path d="M120.20,867.20 L120.80,873.19 C126.69,875.45 132.00,877.17 132.00,880.50 C132.00,883.38 123.76,885.30 121.40,885.30 L121.40,885.90 L119.00,885.90 L119.00,885.30 C116.64,885.30 108.40,883.38 108.40,880.50 C108.40,877.17 113.71,875.45 119.60,873.19 Z" fill="#4fd6c6" stroke="#222" stroke-width="0.55"/>
<line x1="120.2" y1="886.9" x2="120.2" y2="888.5" stroke="#222" stroke-width="0.5"/>
<circle cx="120.2" cy="882.5" r="1.9" fill="#000"/>
<text x="97.2" y="895.8" font-size="7.6" text-anchor="middle" font-weight="bold" fill="#111" color="#111" >TLR4</text>
<line x1="80.8" y1="902.2" x2="110.6" y2="902.2" stroke="#555" stroke-width="0.7"/>
<text x="95.7" y="901.5" font-size="6.0" text-anchor="middle" fill="#222" color="#222" >ns</text>
<line x1="43.5" y1="899.2" x2="43.5" y2="920.6" stroke="#222" stroke-width="0.8"/>
<line x1="43.5" y1="920.6" x2="147.8" y2="920.6" stroke="#222" stroke-width="0.9"/>
<line x1="42.1" y1="902.4" x2="43.5" y2="902.4" stroke="#222" stroke-width="0.5"/>
<text x="41.2" y="903.9" font-size="4.4" text-anchor="end" fill="#222" color="#222" >3</text>
<line x1="42.1" y1="908.2" x2="43.5" y2="908.2" stroke="#222" stroke-width="0.5"/>
<text x="41.2" y="909.7" font-size="4.4" text-anchor="end" fill="#222" color="#222" >2</text>
<line x1="42.1" y1="914.0" x2="43.5" y2="914.0" stroke="#222" stroke-width="0.5"/>
<text x="41.2" y="915.5" font-size="4.4" text-anchor="end" fill="#222" color="#222" >1</text>
<line x1="42.1" y1="919.8" x2="43.5" y2="919.8" stroke="#222" stroke-width="0.5"/>
<text x="41.2" y="921.3" font-size="4.4" text-anchor="end" fill="#222" color="#222" >0</text>
<path d="M51.10,919.90 Q66.15,918.87 72.60,917.70 Q79.05,918.87 94.10,919.90 Z" fill="#7a3a34" stroke="#333" stroke-width="0.4" opacity="1"/>
<path d="M72.60,900.10 L73.20,906.04 C76.01,908.28 78.80,910.00 78.80,913.30 C78.80,916.60 75.04,918.80 73.80,918.80 L73.80,919.60 L71.40,919.60 L71.40,918.80 C70.16,918.80 66.40,916.60 66.40,913.30 C66.40,910.00 69.19,908.28 72.00,906.04 Z" fill="#ee6c60" stroke="#222" stroke-width="0.55"/>
<line x1="72.6" y1="920.6" x2="72.6" y2="922.2" stroke="#222" stroke-width="0.5"/>
<circle cx="72.6" cy="916.8" r="1.9" fill="#000"/>
<path d="M98.70,919.90 Q113.75,918.87 120.20,917.70 Q126.65,918.87 141.70,919.90 Z" fill="#2e6b64" stroke="#333" stroke-width="0.4" opacity="1"/>
<path d="M120.20,901.00 L120.80,906.94 C123.50,909.18 126.20,910.90 126.20,914.20 C126.20,917.08 122.60,919.00 121.40,919.00 L121.40,919.60 L119.00,919.60 L119.00,919.00 C117.80,919.00 114.20,917.08 114.20,914.20 C114.20,910.90 116.90,909.18 119.60,906.94 Z" fill="#4fd6c6" stroke="#222" stroke-width="0.55"/>
<line x1="120.2" y1="920.6" x2="120.2" y2="922.2" stroke="#222" stroke-width="0.5"/>
<circle cx="120.2" cy="917.7" r="1.9" fill="#000"/>
<text x="97.2" y="930.0" font-size="7.6" text-anchor="middle" font-weight="bold" fill="#111" color="#111" >RAC1</text>
<line x1="80.8" y1="936" x2="110.6" y2="936" stroke="#555" stroke-width="0.7"/>
<text x="95.7" y="935.3" font-size="6.0" text-anchor="middle" fill="#222" color="#222" >ns</text>
<line x1="43.5" y1="932.8" x2="43.5" y2="956.6" stroke="#222" stroke-width="0.8"/>
<line x1="43.5" y1="956.6" x2="147.8" y2="956.6" stroke="#222" stroke-width="0.9"/>
<line x1="42.1" y1="936.0" x2="43.5" y2="936.0" stroke="#222" stroke-width="0.5"/>
<text x="41.2" y="937.5" font-size="4.4" text-anchor="end" fill="#222" color="#222" >4</text>
<line x1="42.1" y1="941.1" x2="43.5" y2="941.1" stroke="#222" stroke-width="0.5"/>
<text x="41.2" y="942.6" font-size="4.4" text-anchor="end" fill="#222" color="#222" >3</text>
<line x1="42.1" y1="946.3" x2="43.5" y2="946.3" stroke="#222" stroke-width="0.5"/>
<text x="41.2" y="947.8" font-size="4.4" text-anchor="end" fill="#222" color="#222" >2</text>
<line x1="42.1" y1="951.5" x2="43.5" y2="951.5" stroke="#222" stroke-width="0.5"/>
<text x="41.2" y="953.0" font-size="4.4" text-anchor="end" fill="#222" color="#222" >1</text>
<line x1="42.1" y1="956.6" x2="43.5" y2="956.6" stroke="#222" stroke-width="0.5"/>
<text x="41.2" y="958.1" font-size="4.4" text-anchor="end" fill="#222" color="#222" >0</text>
<path d="M51.10,955.90 Q66.15,954.87 72.60,953.70 Q79.05,954.87 94.10,955.90 Z" fill="#7a3a34" stroke="#333" stroke-width="0.4" opacity="1"/>
<path d="M72.60,936.00 L73.20,940.07 C81.40,942.01 89.76,943.95 94.60,945.70 C88.44,948.29 76.88,952.02 73.80,953.80 L73.80,955.60 L71.40,955.60 L71.40,953.80 C68.32,952.02 56.76,948.29 50.60,945.70 C55.44,943.95 63.80,942.01 72.00,940.07 Z" fill="#ee6c60" stroke="#222" stroke-width="0.55"/>
<line x1="72.6" y1="956.6" x2="72.6" y2="958.2" stroke="#222" stroke-width="0.5"/>
<circle cx="72.6" cy="946" r="1.9" fill="#000"/>
<path d="M98.70,955.90 Q113.75,954.87 120.20,953.70 Q126.65,954.87 141.70,955.90 Z" fill="#2e6b64" stroke="#333" stroke-width="0.4" opacity="1"/>
<path d="M120.20,937.00 L120.80,940.65 C128.80,942.39 136.97,944.13 141.70,945.70 C135.68,948.36 124.41,952.17 121.40,954.00 L121.40,955.60 L119.00,955.60 L119.00,954.00 C115.99,952.17 104.72,948.36 98.70,945.70 C103.43,944.13 111.60,942.39 119.60,940.65 Z" fill="#4fd6c6" stroke="#222" stroke-width="0.55"/>
<line x1="120.2" y1="956.6" x2="120.2" y2="958.2" stroke="#222" stroke-width="0.5"/>
<circle cx="120.2" cy="946" r="1.9" fill="#000"/>
<text x="212.3" y="617.9" font-size="6.7" text-anchor="middle" font-weight="bold" fill="#111" color="#111" >FCGR2A</text>
<line x1="197.5" y1="624.6" x2="227" y2="624.6" stroke="#555" stroke-width="0.7"/>
<text x="212.2" y="623.9" font-size="6.0" text-anchor="middle" fill="#222" color="#222" >ns</text>
<line x1="159.9" y1="623.3" x2="159.9" y2="645.0999999999999" stroke="#505050" stroke-width="0.9"/>
<line x1="159.9" y1="645.0999999999999" x2="264.3" y2="645.0999999999999" stroke="#555" stroke-width="0.9"/>
<line x1="158.5" y1="629.3" x2="159.9" y2="629.3" stroke="#222" stroke-width="0.5"/>
<text x="157.6" y="631.1" font-size="5.0" text-anchor="end" fill="#333" color="#333" >2</text>
<line x1="158.5" y1="637.0" x2="159.9" y2="637.0" stroke="#222" stroke-width="0.5"/>
<text x="157.6" y="638.8" font-size="5.0" text-anchor="end" fill="#333" color="#333" >1</text>
<line x1="158.5" y1="644.7" x2="159.9" y2="644.7" stroke="#222" stroke-width="0.5"/>
<text x="157.6" y="646.5" font-size="5.0" text-anchor="end" fill="#333" color="#333" >0</text>
<rect x="167.4" y="643.7" width="42" height="1.3" fill="#9a9a9a"/>
<line x1="188.4" y1="624" x2="188.4" y2="645.3" stroke="#111" stroke-width="0.6"/>
<circle cx="188.4" cy="644.1" r="1.9" fill="#000"/>
<rect x="214.3" y="643.7" width="42" height="1.3" fill="#9a9a9a"/>
<line x1="235.3" y1="624" x2="235.3" y2="645.3" stroke="#111" stroke-width="0.6"/>
<circle cx="235.3" cy="644.1" r="1.9" fill="#000"/>
<text x="212.3" y="652.5" font-size="6.7" text-anchor="middle" font-weight="bold" fill="#111" color="#111" >FCGR3A</text>
<line x1="197.5" y1="658.3" x2="227" y2="658.3" stroke="#555" stroke-width="0.7"/>
<text x="212.2" y="659.9" font-size="7.2" text-anchor="middle" font-weight="bold" fill="#222" color="#222" >*</text>
<line x1="159.9" y1="656.9" x2="159.9" y2="680.0999999999999" stroke="#505050" stroke-width="0.9"/>
<line x1="159.9" y1="680.0999999999999" x2="264.3" y2="680.0999999999999" stroke="#555" stroke-width="0.9"/>
<line x1="158.5" y1="662.9" x2="159.9" y2="662.9" stroke="#222" stroke-width="0.5"/>
<text x="157.6" y="664.7" font-size="5.0" text-anchor="end" fill="#333" color="#333" >3</text>
<line x1="158.5" y1="668.4" x2="159.9" y2="668.4" stroke="#222" stroke-width="0.5"/>
<text x="157.6" y="670.2" font-size="5.0" text-anchor="end" fill="#333" color="#333" >2</text>
<line x1="158.5" y1="673.9" x2="159.9" y2="673.9" stroke="#222" stroke-width="0.5"/>
<text x="157.6" y="675.7" font-size="5.0" text-anchor="end" fill="#333" color="#333" >1</text>
<line x1="158.5" y1="679.4" x2="159.9" y2="679.4" stroke="#222" stroke-width="0.5"/>
<text x="157.6" y="681.2" font-size="5.0" text-anchor="end" fill="#333" color="#333" >0</text>
<rect x="167.4" y="678.7" width="42" height="1.3" fill="#9a9a9a"/>
<line x1="188.4" y1="659" x2="188.4" y2="680.3" stroke="#111" stroke-width="0.6"/>
<circle cx="188.4" cy="679.1" r="1.9" fill="#000"/>
<rect x="214.3" y="678.7" width="42" height="1.3" fill="#9a9a9a"/>
<line x1="235.3" y1="661" x2="235.3" y2="680.3" stroke="#111" stroke-width="0.6"/>
<circle cx="235.3" cy="679.1" r="1.9" fill="#000"/>
<text x="212.3" y="688.9" font-size="6.7" text-anchor="middle" font-weight="bold" fill="#111" color="#111" >MEF2C</text>
<line x1="197.5" y1="695.3" x2="227" y2="695.3" stroke="#555" stroke-width="0.7"/>
<text x="212.2" y="694.6" font-size="6.0" text-anchor="middle" fill="#222" color="#222" >ns</text>
<line x1="159.9" y1="686.7" x2="159.9" y2="713.0999999999999" stroke="#505050" stroke-width="0.9"/>
<line x1="159.9" y1="713.0999999999999" x2="264.3" y2="713.0999999999999" stroke="#555" stroke-width="0.9"/>
<line x1="158.5" y1="692.7" x2="159.9" y2="692.7" stroke="#222" stroke-width="0.5"/>
<text x="157.6" y="694.5" font-size="5.0" text-anchor="end" fill="#333" color="#333" >3</text>
<line x1="158.5" y1="699.3" x2="159.9" y2="699.3" stroke="#222" stroke-width="0.5"/>
<text x="157.6" y="701.1" font-size="5.0" text-anchor="end" fill="#333" color="#333" >2</text>
<line x1="158.5" y1="706.0" x2="159.9" y2="706.0" stroke="#222" stroke-width="0.5"/>
<text x="157.6" y="707.8" font-size="5.0" text-anchor="end" fill="#333" color="#333" >1</text>
<line x1="158.5" y1="712.6" x2="159.9" y2="712.6" stroke="#222" stroke-width="0.5"/>
<text x="157.6" y="714.4" font-size="5.0" text-anchor="end" fill="#333" color="#333" >0</text>
<rect x="167.4" y="711.7" width="42" height="1.3" fill="#9a9a9a"/>
<line x1="188.4" y1="692" x2="188.4" y2="713.3" stroke="#111" stroke-width="0.6"/>
<circle cx="188.4" cy="712.1" r="1.9" fill="#000"/>
<rect x="214.3" y="711.7" width="42" height="1.3" fill="#9a9a9a"/>
<line x1="235.3" y1="698" x2="235.3" y2="713.3" stroke="#111" stroke-width="0.6"/>
<circle cx="235.3" cy="712.1" r="1.9" fill="#000"/>
<text x="212.3" y="721.5" font-size="6.7" text-anchor="middle" font-weight="bold" fill="#111" color="#111" >TNFSF13B</text>
<line x1="197.5" y1="726.8" x2="227" y2="726.8" stroke="#555" stroke-width="0.7"/>
<text x="212.2" y="726.1" font-size="6.0" text-anchor="middle" fill="#222" color="#222" >ns</text>
<line x1="159.9" y1="722.0" x2="159.9" y2="746.4" stroke="#505050" stroke-width="0.9"/>
<line x1="159.9" y1="746.4" x2="264.3" y2="746.4" stroke="#555" stroke-width="0.9"/>
<line x1="158.5" y1="728.0" x2="159.9" y2="728.0" stroke="#222" stroke-width="0.5"/>
<text x="157.6" y="729.8" font-size="5.0" text-anchor="end" fill="#333" color="#333" >3</text>
<line x1="158.5" y1="734.0" x2="159.9" y2="734.0" stroke="#222" stroke-width="0.5"/>
<text x="157.6" y="735.8" font-size="5.0" text-anchor="end" fill="#333" color="#333" >2</text>
<line x1="158.5" y1="739.9" x2="159.9" y2="739.9" stroke="#222" stroke-width="0.5"/>
<text x="157.6" y="741.7" font-size="5.0" text-anchor="end" fill="#333" color="#333" >1</text>
<line x1="158.5" y1="745.9" x2="159.9" y2="745.9" stroke="#222" stroke-width="0.5"/>
<text x="157.6" y="747.7" font-size="5.0" text-anchor="end" fill="#333" color="#333" >0</text>
<rect x="167.4" y="745.0" width="42" height="1.3" fill="#9a9a9a"/>
<line x1="188.4" y1="726.1" x2="188.4" y2="746.6" stroke="#111" stroke-width="0.6"/>
<circle cx="188.4" cy="745.4" r="1.9" fill="#000"/>
<rect x="214.3" y="745.0" width="42" height="1.3" fill="#9a9a9a"/>
<line x1="235.3" y1="728" x2="235.3" y2="746.6" stroke="#111" stroke-width="0.6"/>
<circle cx="235.3" cy="745.4" r="1.9" fill="#000"/>
<text x="212.3" y="754.8" font-size="6.7" text-anchor="middle" font-weight="bold" fill="#111" color="#111" >LYN</text>
<line x1="197.5" y1="761.0" x2="227" y2="761.0" stroke="#555" stroke-width="0.7"/>
<text x="212.2" y="760.3" font-size="6.0" text-anchor="middle" fill="#222" color="#222" >ns</text>
<line x1="159.9" y1="755.2" x2="159.9" y2="781.0999999999999" stroke="#505050" stroke-width="0.9"/>
<line x1="159.9" y1="781.0999999999999" x2="264.3" y2="781.0999999999999" stroke="#555" stroke-width="0.9"/>
<line x1="158.5" y1="761.2" x2="159.9" y2="761.2" stroke="#222" stroke-width="0.5"/>
<text x="157.6" y="763.0" font-size="5.0" text-anchor="end" fill="#333" color="#333" >3</text>
<line x1="158.5" y1="767.7" x2="159.9" y2="767.7" stroke="#222" stroke-width="0.5"/>
<text x="157.6" y="769.5" font-size="5.0" text-anchor="end" fill="#333" color="#333" >2</text>
<line x1="158.5" y1="774.1" x2="159.9" y2="774.1" stroke="#222" stroke-width="0.5"/>
<text x="157.6" y="775.9" font-size="5.0" text-anchor="end" fill="#333" color="#333" >1</text>
<line x1="158.5" y1="780.6" x2="159.9" y2="780.6" stroke="#222" stroke-width="0.5"/>
<text x="157.6" y="782.4" font-size="5.0" text-anchor="end" fill="#333" color="#333" >0</text>
<rect x="167.4" y="779.7" width="42" height="1.3" fill="#9a9a9a"/>
<line x1="188.4" y1="760.9" x2="188.4" y2="781.3" stroke="#111" stroke-width="0.6"/>
<circle cx="188.4" cy="780.1" r="1.9" fill="#000"/>
<rect x="214.3" y="779.7" width="42" height="1.3" fill="#9a9a9a"/>
<line x1="235.3" y1="762.2" x2="235.3" y2="781.3" stroke="#111" stroke-width="0.6"/>
<circle cx="235.3" cy="780.1" r="1.9" fill="#000"/>
<text x="212.3" y="791.7" font-size="7.6" text-anchor="middle" font-weight="bold" fill="#111" color="#111" >GRN</text>
<line x1="197.5" y1="797.5" x2="227" y2="797.5" stroke="#555" stroke-width="0.7"/>
<text x="212.2" y="799.1" font-size="7.2" text-anchor="middle" font-weight="bold" fill="#222" color="#222" >*</text>
<line x1="159.9" y1="794.7" x2="159.9" y2="818.3" stroke="#505050" stroke-width="0.9"/>
<line x1="159.9" y1="818.3" x2="264.3" y2="818.3" stroke="#555" stroke-width="0.9"/>
<line x1="158.5" y1="800.7" x2="159.9" y2="800.7" stroke="#222" stroke-width="0.5"/>
<text x="157.6" y="802.5" font-size="5.0" text-anchor="end" fill="#333" color="#333" >3</text>
<line x1="158.5" y1="806.2" x2="159.9" y2="806.2" stroke="#222" stroke-width="0.5"/>
<text x="157.6" y="808.0" font-size="5.0" text-anchor="end" fill="#333" color="#333" >2</text>
<line x1="158.5" y1="811.6" x2="159.9" y2="811.6" stroke="#222" stroke-width="0.5"/>
<text x="157.6" y="813.4" font-size="5.0" text-anchor="end" fill="#333" color="#333" >1</text>
<line x1="158.5" y1="817.1" x2="159.9" y2="817.1" stroke="#222" stroke-width="0.5"/>
<text x="157.6" y="818.9" font-size="5.0" text-anchor="end" fill="#333" color="#333" >0</text>
<rect x="167.4" y="816.9" width="42" height="1.3" fill="#9a9a9a"/>
<line x1="188.4" y1="796.4" x2="188.4" y2="818.5" stroke="#111" stroke-width="0.6"/>
<circle cx="188.4" cy="817.3" r="1.9" fill="#000"/>
<rect x="214.3" y="816.9" width="42" height="1.3" fill="#9a9a9a"/>
<line x1="235.3" y1="798.3" x2="235.3" y2="818.5" stroke="#111" stroke-width="0.6"/>
<circle cx="235.3" cy="817.3" r="1.9" fill="#000"/>
<text x="212.3" y="826.4" font-size="7.6" text-anchor="middle" font-weight="bold" fill="#111" color="#111" >S100A9</text>
<line x1="197.5" y1="832.6" x2="227" y2="832.6" stroke="#555" stroke-width="0.7"/>
<text x="212.2" y="831.9" font-size="6.0" text-anchor="middle" fill="#222" color="#222" >ns</text>
<line x1="159.9" y1="827.4" x2="159.9" y2="853.0" stroke="#505050" stroke-width="0.9"/>
<line x1="159.9" y1="853.0" x2="264.3" y2="853.0" stroke="#555" stroke-width="0.9"/>
<line x1="158.5" y1="833.4" x2="159.9" y2="833.4" stroke="#222" stroke-width="0.5"/>
<text x="157.6" y="835.2" font-size="5.0" text-anchor="end" fill="#333" color="#333" >6</text>
<line x1="158.5" y1="839.8" x2="159.9" y2="839.8" stroke="#222" stroke-width="0.5"/>
<text x="157.6" y="841.6" font-size="5.0" text-anchor="end" fill="#333" color="#333" >4</text>
<line x1="158.5" y1="846.3" x2="159.9" y2="846.3" stroke="#222" stroke-width="0.5"/>
<text x="157.6" y="848.1" font-size="5.0" text-anchor="end" fill="#333" color="#333" >2</text>
<line x1="158.5" y1="852.7" x2="159.9" y2="852.7" stroke="#222" stroke-width="0.5"/>
<text x="157.6" y="854.5" font-size="5.0" text-anchor="end" fill="#333" color="#333" >0</text>
<rect x="167.4" y="851.6" width="42" height="1.3" fill="#9a9a9a"/>
<line x1="188.4" y1="831.5" x2="188.4" y2="853.2" stroke="#111" stroke-width="0.6"/>
<circle cx="188.4" cy="852.0" r="1.9" fill="#000"/>
<rect x="214.3" y="851.6" width="42" height="1.3" fill="#9a9a9a"/>
<line x1="235.3" y1="838.1" x2="235.3" y2="853.2" stroke="#111" stroke-width="0.6"/>
<circle cx="235.3" cy="852.0" r="1.9" fill="#000"/>
<text x="212.3" y="861.8" font-size="7.6" text-anchor="middle" font-weight="bold" fill="#111" color="#111" >HMOX1</text>
<line x1="197.5" y1="867.6" x2="227" y2="867.6" stroke="#555" stroke-width="0.7"/>
<text x="212.2" y="866.9" font-size="6.0" text-anchor="middle" fill="#222" color="#222" >ns</text>
<line x1="159.9" y1="861.5" x2="159.9" y2="886.6999999999999" stroke="#505050" stroke-width="0.9"/>
<line x1="159.9" y1="886.6999999999999" x2="264.3" y2="886.6999999999999" stroke="#555" stroke-width="0.9"/>
<line x1="158.5" y1="867.5" x2="159.9" y2="867.5" stroke="#222" stroke-width="0.5"/>
<text x="157.6" y="869.3" font-size="5.0" text-anchor="end" fill="#333" color="#333" >4</text>
<line x1="158.5" y1="872.4" x2="159.9" y2="872.4" stroke="#222" stroke-width="0.5"/>
<text x="157.6" y="874.1" font-size="5.0" text-anchor="end" fill="#333" color="#333" >3</text>
<line x1="158.5" y1="877.2" x2="159.9" y2="877.2" stroke="#222" stroke-width="0.5"/>
<text x="157.6" y="879.0" font-size="5.0" text-anchor="end" fill="#333" color="#333" >2</text>
<line x1="158.5" y1="882.0" x2="159.9" y2="882.0" stroke="#222" stroke-width="0.5"/>
<text x="157.6" y="883.8" font-size="5.0" text-anchor="end" fill="#333" color="#333" >1</text>
<line x1="158.5" y1="886.9" x2="159.9" y2="886.9" stroke="#222" stroke-width="0.5"/>
<text x="157.6" y="888.7" font-size="5.0" text-anchor="end" fill="#333" color="#333" >0</text>
<rect x="167.4" y="885.3" width="42" height="1.3" fill="#9a9a9a"/>
<line x1="188.4" y1="865.6" x2="188.4" y2="886.9" stroke="#111" stroke-width="0.6"/>
<circle cx="188.4" cy="885.7" r="1.9" fill="#000"/>
<rect x="214.3" y="885.3" width="42" height="1.3" fill="#9a9a9a"/>
<line x1="235.3" y1="869.8" x2="235.3" y2="886.9" stroke="#111" stroke-width="0.6"/>
<circle cx="235.3" cy="885.7" r="1.9" fill="#000"/>
<text x="212.3" y="895.6" font-size="7.6" text-anchor="middle" font-weight="bold" fill="#111" color="#111" >TLR4</text>
<line x1="197.5" y1="901.7" x2="227" y2="901.7" stroke="#555" stroke-width="0.7"/>
<text x="212.2" y="901.0" font-size="6.0" text-anchor="middle" fill="#222" color="#222" >ns</text>
<line x1="159.9" y1="898.7" x2="159.9" y2="920.4" stroke="#505050" stroke-width="0.9"/>
<line x1="159.9" y1="920.4" x2="264.3" y2="920.4" stroke="#555" stroke-width="0.9"/>
<line x1="158.5" y1="904.7" x2="159.9" y2="904.7" stroke="#222" stroke-width="0.5"/>
<text x="157.6" y="906.5" font-size="5.0" text-anchor="end" fill="#333" color="#333" >2</text>
<line x1="158.5" y1="912.5" x2="159.9" y2="912.5" stroke="#222" stroke-width="0.5"/>
<text x="157.6" y="914.3" font-size="5.0" text-anchor="end" fill="#333" color="#333" >1</text>
<line x1="158.5" y1="920.3" x2="159.9" y2="920.3" stroke="#222" stroke-width="0.5"/>
<text x="157.6" y="922.1" font-size="5.0" text-anchor="end" fill="#333" color="#333" >0</text>
<rect x="167.4" y="919.0" width="42" height="1.3" fill="#9a9a9a"/>
<line x1="188.4" y1="900" x2="188.4" y2="920.6" stroke="#111" stroke-width="0.6"/>
<circle cx="188.4" cy="919.4" r="1.9" fill="#000"/>
<rect x="214.3" y="919.0" width="42" height="1.3" fill="#9a9a9a"/>
<line x1="235.3" y1="902" x2="235.3" y2="920.6" stroke="#111" stroke-width="0.6"/>
<circle cx="235.3" cy="919.4" r="1.9" fill="#000"/>
<text x="212.3" y="929.8" font-size="7.6" text-anchor="middle" font-weight="bold" fill="#111" color="#111" >RAC1</text>
<line x1="197.5" y1="935.5" x2="227" y2="935.5" stroke="#555" stroke-width="0.7"/>
<text x="212.2" y="934.8" font-size="6.0" text-anchor="middle" fill="#222" color="#222" >ns</text>
<line x1="159.9" y1="932.8" x2="159.9" y2="956.4" stroke="#505050" stroke-width="0.9"/>
<line x1="159.9" y1="956.4" x2="264.3" y2="956.4" stroke="#555" stroke-width="0.9"/>
<line x1="158.5" y1="938.8" x2="159.9" y2="938.8" stroke="#222" stroke-width="0.5"/>
<text x="157.6" y="940.6" font-size="5.0" text-anchor="end" fill="#333" color="#333" >3</text>
<line x1="158.5" y1="944.6" x2="159.9" y2="944.6" stroke="#222" stroke-width="0.5"/>
<text x="157.6" y="946.4" font-size="5.0" text-anchor="end" fill="#333" color="#333" >2</text>
<line x1="158.5" y1="950.5" x2="159.9" y2="950.5" stroke="#222" stroke-width="0.5"/>
<text x="157.6" y="952.3" font-size="5.0" text-anchor="end" fill="#333" color="#333" >1</text>
<line x1="158.5" y1="956.3" x2="159.9" y2="956.3" stroke="#222" stroke-width="0.5"/>
<text x="157.6" y="958.1" font-size="5.0" text-anchor="end" fill="#333" color="#333" >0</text>
<rect x="167.4" y="955.0" width="42" height="1.3" fill="#9a9a9a"/>
<path d="M166.90,955.90 Q181.95,954.98 188.40,953.90 Q194.85,954.98 209.90,955.90 Z" fill="#7a3a34" stroke="#333" stroke-width="0.4" opacity="1"/>
<path d="M188.4,936 L188.9,939.5 Q191.22,943.5999999999999 193.1,946.8 Q190.75,950.4 189.1,953.8 L189.1,955.6 L187.70000000000002,955.6 L187.70000000000002,953.8 Q186.05,950.4 183.70000000000002,946.8 Q185.58,943.5999999999999 187.9,939.5 Z" fill="#ee6c60" stroke="#222" stroke-width="0.55"/>
<circle cx="188.4" cy="955.3" r="1.9" fill="#000"/>
<rect x="214.3" y="955.0" width="42" height="1.3" fill="#9a9a9a"/>
<path d="M213.80,955.90 Q228.85,954.98 235.30,953.90 Q241.75,954.98 256.80,955.90 Z" fill="#2e6b64" stroke="#333" stroke-width="0.4" opacity="1"/>
<path d="M235.3,937 L235.8,940.5 Q239.56,943.5999999999999 242.4,946.8 Q238.85000000000002,950.4 236.0,953.8 L236.0,955.6 L234.60000000000002,955.6 L234.60000000000002,953.8 Q231.75,950.4 228.20000000000002,946.8 Q231.04000000000002,943.5999999999999 234.8,940.5 Z" fill="#4fd6c6" stroke="#222" stroke-width="0.55"/>
<circle cx="235.3" cy="952.5" r="1.9" fill="#000"/>
<text x="78.3" y="961.0" font-size="8" font-weight="bold" text-anchor="end" fill="#222" transform="rotate(-45 78.3 961.0)">NP</text>
<text x="125.3" y="961.0" font-size="8" font-weight="bold" text-anchor="end" fill="#222" transform="rotate(-45 125.3 961.0)">RPL</text>
<text x="193.3" y="961.0" font-size="8" font-weight="bold" text-anchor="end" fill="#222" transform="rotate(-45 193.3 961.0)">NP</text>
<text x="240.8" y="961.0" font-size="8" font-weight="bold" text-anchor="end" fill="#222" transform="rotate(-45 240.8 961.0)">RPL</text>
<rect x="43.6" y="972.8" width="92.4" height="19.2" fill="#f5e4d3"/>
<rect x="162" y="972.8" width="92" height="19.2" fill="#e6e6f2"/>
<text x="89.8" y="986.2" font-size="9.4" text-anchor="middle" font-weight="bold" fill="#222" color="#222" >SIGLEC7<tspan font-size="5.6" dy="-3.4">+</tspan></text>
<text x="208.4" y="986.2" font-size="9.4" text-anchor="middle" font-weight="bold" fill="#222" color="#222" >SIGLEC7<tspan font-size="5.6" dy="-3.4">-</tspan></text>
<rect x="540.8" y="300.2" width="98.4" height="87.6" fill="none" stroke="#d0d0d0" stroke-width="0.9"/>
<line x1="537.9" y1="308.6" x2="539.4" y2="308.6" stroke="#999" stroke-width="0.5"/>
<text x="532.6" y="310.3" font-size="4.8" text-anchor="end" fill="#444" color="#444" >1.00</text>
<line x1="537.9" y1="328.8" x2="539.4" y2="328.8" stroke="#999" stroke-width="0.5"/>
<text x="532.6" y="330.5" font-size="4.8" text-anchor="end" fill="#444" color="#444" >0.75</text>
<line x1="537.9" y1="348.7" x2="539.4" y2="348.7" stroke="#999" stroke-width="0.5"/>
<text x="532.6" y="350.4" font-size="4.8" text-anchor="end" fill="#444" color="#444" >0.50</text>
<line x1="537.9" y1="367.7" x2="539.4" y2="367.7" stroke="#999" stroke-width="0.5"/>
<text x="532.6" y="369.4" font-size="4.8" text-anchor="end" fill="#444" color="#444" >0.25</text>
<line x1="537.9" y1="384.8" x2="539.4" y2="384.8" stroke="#999" stroke-width="0.5"/>
<text x="532.6" y="386.5" font-size="4.8" text-anchor="end" fill="#444" color="#444" >0.00</text>
<text x="514.9" y="346.8" font-size="9" font-weight="bold" text-anchor="middle" fill="#111" transform="rotate(-90 514.9 346.8)">dNK1</text>
<text x="570.4" y="318.9" font-size="9.1" text-anchor="start" font-weight="bold" fill="#4a4a4a" color="#4a4a4a" >SIGLEC7</text>
<line x1="567.4" y1="303.9" x2="567.4" y2="384.8" stroke="#b84aa8" stroke-width="0.6"/>
<path d="M546.90,384.60 Q561.25,383.24 567.40,381.80 Q573.55,383.24 587.90,384.60 Z" fill="#a3228f" stroke="#a3228f" stroke-width="0.2" opacity="1"/>
<rect x="592" y="384.7" width="40.5" height="0.6" fill="#6dd5f3"/>
<rect x="540.8" y="392.5" width="98.4" height="87.4" fill="none" stroke="#d0d0d0" stroke-width="0.9"/>
<line x1="537.9" y1="399.7" x2="539.4" y2="399.7" stroke="#999" stroke-width="0.5"/>
<text x="532.6" y="401.4" font-size="4.8" text-anchor="end" fill="#444" color="#444" >2.00</text>
<line x1="537.9" y1="419.6" x2="539.4" y2="419.6" stroke="#999" stroke-width="0.5"/>
<text x="532.6" y="421.3" font-size="4.8" text-anchor="end" fill="#444" color="#444" >1.50</text>
<line x1="537.9" y1="439.7" x2="539.4" y2="439.7" stroke="#999" stroke-width="0.5"/>
<text x="532.6" y="441.4" font-size="4.8" text-anchor="end" fill="#444" color="#444" >1.00</text>
<line x1="537.9" y1="458.8" x2="539.4" y2="458.8" stroke="#999" stroke-width="0.5"/>
<text x="532.6" y="460.5" font-size="4.8" text-anchor="end" fill="#444" color="#444" >0.50</text>
<line x1="537.9" y1="475.4" x2="539.4" y2="475.4" stroke="#999" stroke-width="0.5"/>
<text x="532.6" y="477.1" font-size="4.8" text-anchor="end" fill="#444" color="#444" >0.00</text>
<text x="514.9" y="439.0" font-size="9" font-weight="bold" text-anchor="middle" fill="#111" transform="rotate(-90 514.9 439.0)">dNK2</text>
<text x="570.4" y="409.9" font-size="9.1" text-anchor="start" font-weight="bold" fill="#4a4a4a" color="#4a4a4a" >SIGLEC7</text>
<line x1="567.4" y1="396.2" x2="567.4" y2="475.4" stroke="#b84aa8" stroke-width="0.6"/>
<path d="M546.90,475.20 Q561.25,473.12 567.40,471.10 Q573.55,473.12 587.90,475.20 Z" fill="#a3228f" stroke="#a3228f" stroke-width="0.2" opacity="1"/>
<path d="M567.4,433.3 L568.6,436.5 L567.4,439.7 L566.2,436.5Z" fill="#a3228f"/>
<line x1="612.3" y1="396.2" x2="612.3" y2="475.4" stroke="#6dd5f3" stroke-width="0.7"/>
<path d="M612.3,433.3 L613.1,436.5 L612.3,439.7 L611.5,436.5Z" fill="#6dd5f3" opacity="0.6"/>
<path d="M591.80,475.20 Q606.15,472.02 612.30,469.10 Q618.45,472.02 632.80,475.20 Z" fill="#6dd5f3" stroke="#6dd5f3" stroke-width="0.2" opacity="1"/>
<rect x="540.8" y="482.5" width="98.4" height="89.2" fill="none" stroke="#d0d0d0" stroke-width="0.9"/>
<line x1="537.9" y1="491.4" x2="539.4" y2="491.4" stroke="#999" stroke-width="0.5"/>
<text x="532.6" y="493.1" font-size="4.8" text-anchor="end" fill="#444" color="#444" >1.00</text>
<line x1="537.9" y1="511.1" x2="539.4" y2="511.1" stroke="#999" stroke-width="0.5"/>
<text x="532.6" y="512.8" font-size="4.8" text-anchor="end" fill="#444" color="#444" >0.75</text>
<line x1="537.9" y1="531.9" x2="539.4" y2="531.9" stroke="#999" stroke-width="0.5"/>
<text x="532.6" y="533.6" font-size="4.8" text-anchor="end" fill="#444" color="#444" >0.50</text>
<line x1="537.9" y1="551.0" x2="539.4" y2="551.0" stroke="#999" stroke-width="0.5"/>
<text x="532.6" y="552.7" font-size="4.8" text-anchor="end" fill="#444" color="#444" >0.25</text>
<line x1="537.9" y1="567.6" x2="539.4" y2="567.6" stroke="#999" stroke-width="0.5"/>
<text x="532.6" y="569.3" font-size="4.8" text-anchor="end" fill="#444" color="#444" >0.00</text>
<text x="514.9" y="529.9" font-size="9" font-weight="bold" text-anchor="middle" fill="#111" transform="rotate(-90 514.9 529.9)">dNK3</text>
<text x="570.4" y="502.8" font-size="9.1" text-anchor="start" font-weight="bold" fill="#4a4a4a" color="#4a4a4a" >SIGLEC7</text>
<line x1="567.4" y1="486.2" x2="567.4" y2="567.6" stroke="#b84aa8" stroke-width="0.6"/>
<path d="M546.90,567.40 Q561.25,564.06 567.40,561.00 Q573.55,564.06 587.90,567.40 Z" fill="#a3228f" stroke="#a3228f" stroke-width="0.2" opacity="1"/>
<polygon points="609.5,487.0 615.6,487.0 614.0,500.0 613.0,515.0 612.8,526.5 613.5,533.0 615.5,538.0 618.2,540.7 622.0,546.0 626.0,551.6 629.5,556.0 631.4,560.4 632.7,564.0 633.0,568.0 592.0,568.0 592.3,564.0 593.5,560.4 595.5,556.0 598.5,551.6 602.5,546.0 606.5,540.7 609.2,538.0 611.2,533.0 611.8,526.5 611.6,515.0 610.8,500.0" fill="#6dd5f3" />
<text x="566.4" y="583.4" font-size="9" text-anchor="middle" font-weight="bold" fill="#222" color="#222" >NP</text>
<text x="611.7" y="583.4" font-size="9" text-anchor="middle" font-weight="bold" fill="#222" color="#222" >RPL</text>
</svg>
</body></html>
